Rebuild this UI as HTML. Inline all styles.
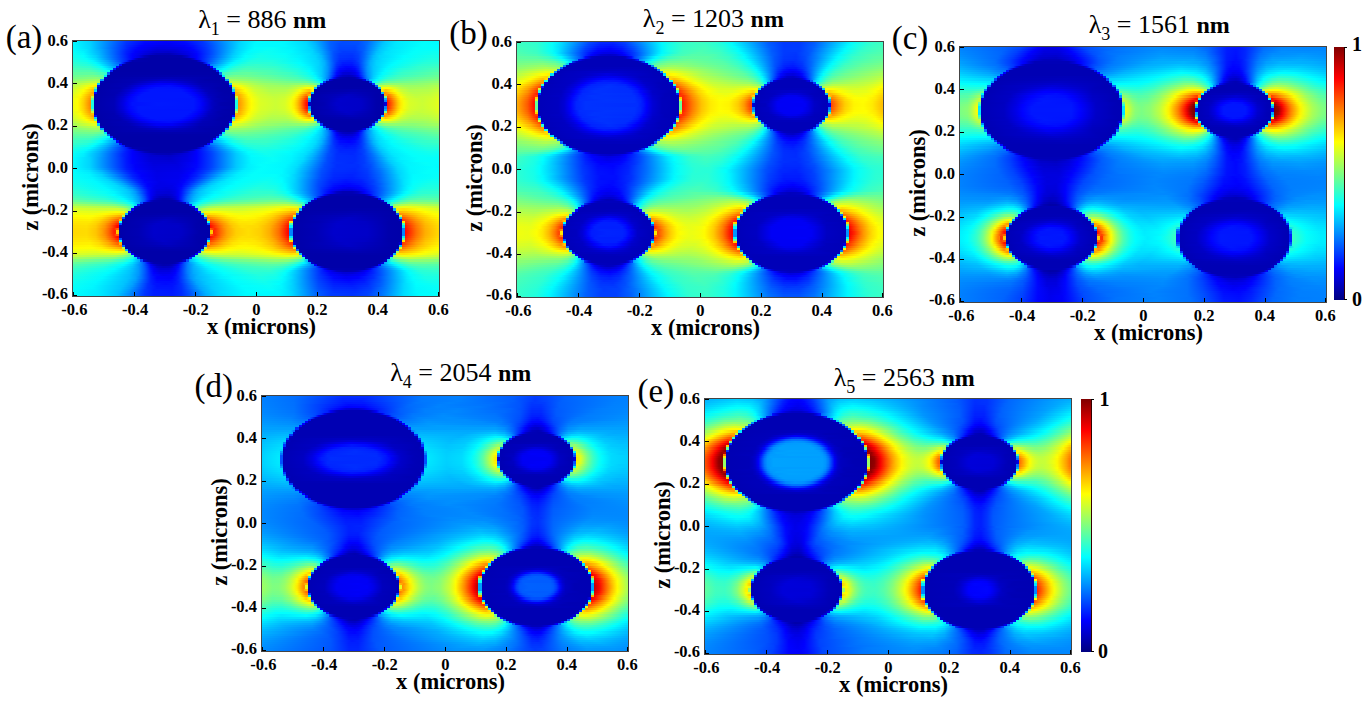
<!DOCTYPE html><html><head><meta charset="utf-8"><title>Field distributions</title><style>
html,body{margin:0;padding:0;background:#fff}
body{width:1370px;height:702px;position:relative;overflow:hidden;font-family:"Liberation Serif","DejaVu Serif",serif;color:#000}
.p{position:absolute;width:366px;height:255px;border:1px solid #444;box-sizing:content-box}
.p i{display:block;height:2px;width:366px}
.p i:nth-child(8n){height:3px}
.g{position:absolute;left:0;top:0;width:366px;height:255px;overflow:hidden}
.t{position:absolute;font-weight:bold;font-size:16.5px;line-height:16px;white-space:nowrap}
.xt{width:60px;margin-left:-30px;text-align:center}
.yt{width:40px;text-align:right}
.k{position:absolute;background:#000}
.xl{position:absolute;font-weight:bold;font-size:22.5px;line-height:22px;white-space:nowrap;width:200px;margin-left:-100px;text-align:center}
.yl{position:absolute;font-weight:bold;font-size:22.5px;line-height:22px;white-space:nowrap;width:200px;height:22px;text-align:center;transform:rotate(-90deg);transform-origin:50% 50%}
.ti{position:absolute;font-size:26px;line-height:26px;white-space:nowrap;width:300px;margin-left:-150px;text-align:center}
.ti b{font-weight:bold;font-size:24px}
.ti sub{font-size:18px;line-height:0;vertical-align:-7px}
.lb{position:absolute;font-size:33px;line-height:32px;white-space:nowrap}
.cb{position:absolute;width:10px;border-right:1px solid #300;background:linear-gradient(180deg,#800000 0%,#ff0000 12.5%,#ffff00 37.5%,#00ffff 62.5%,#0000ff 87.5%,#000080 100%)}
.cl{position:absolute;font-weight:bold;font-size:20px;line-height:20px}
</style></head><body>
<div class="p" style="left:72px;top:40px"><div class="g">
<i style="background:linear-gradient(90deg,#00f9ff 0px,#00d3ff 16.8px,#0033ff 53.4px,#0008ff 71.7px,#0000fb 93px,#0008ff 111.3px,#0033ff 129.6px,#009fff 154px,#00deff 169.3px,#00fdff 184.5px,#00f9ff 212px,#00d8ff 233.3px,#00b0ff 242.5px,#005eff 257.7px,#004aff 269.9px,#004fff 285.2px,#006aff 294.3px,#00cdff 312.6px,#00ebff 324.8px,#02fffd 352.3px,#00fcff 364.5px)"></i>
<i style="background:linear-gradient(90deg,#00faff 0px,#00d4ff 16.8px,#002fff 53.4px,#0002ff 71.7px,#0000f3 96.1px,#0007ff 114.4px,#003aff 132.7px,#00d4ff 166.2px,#00faff 181.5px,#00fbff 208.9px,#00dbff 233.3px,#00b6ff 242.5px,#005eff 257.7px,#0049ff 266.9px,#004dff 285.2px,#006cff 294.3px,#00c5ff 309.6px,#00e7ff 321.8px,#01fffe 349.2px,#00fdff 364.5px)"></i>
<i style="background:linear-gradient(90deg,#00fcff 0px,#00d6ff 16.8px,#002aff 53.4px,#0000ff 68.6px,#0000ea 90px,#0000fa 111.3px,#000eff 120.5px,#0043ff 135.7px,#00d6ff 166.2px,#00fcff 181.5px,#00faff 212px,#00deff 233.3px,#00bcff 242.5px,#005fff 257.7px,#0047ff 266.9px,#0047ff 282.1px,#005fff 291.3px,#00caff 309.6px,#00e8ff 321.8px,#03fffc 349.2px,#00ffff 364.5px)"></i>
<i style="background:linear-gradient(90deg,#00feff 0px,#00d8ff 16.8px,#006fff 38.1px,#001bff 56.4px,#0000ff 65.6px,#0000e3 83.9px,#0000e9 105.2px,#0000ff 117.4px,#0033ff 132.7px,#00d8ff 166.2px,#00ffff 181.5px,#05fffa 199.8px,#00f2ff 221.1px,#00d9ff 236.4px,#00b0ff 245.5px,#005fff 257.7px,#0044ff 266.9px,#0044ff 282.1px,#005fff 291.3px,#00c1ff 306.5px,#00e0ff 315.7px,#01fffe 343.1px,#03fffc 364.5px)"></i>
<i style="background:linear-gradient(90deg,#03fffc 0px,#00e6ff 13.7px,#00a2ff 29px,#0023ff 53.4px,#0002ff 62.5px,#0000d9 83.9px,#0000dc 102.2px,#0002ff 120.5px,#003eff 135.7px,#00cfff 163.2px,#00fdff 178.4px,#09fff6 196.7px,#00f7ff 218.1px,#00d3ff 239.4px,#00a2ff 248.6px,#0061ff 257.7px,#0041ff 266.9px,#0041ff 282.1px,#0061ff 291.3px,#00c7ff 306.5px,#00e7ff 318.7px,#03fffc 343.1px,#06fff9 364.5px)"></i>
<i style="background:linear-gradient(90deg,#07fff8 0px,#00f3ff 10.7px,#00b5ff 25.9px,#001fff 53.4px,#0000fc 62.5px,#0000d2 80.8px,#0000cc 96.1px,#0000ea 114.4px,#0007ff 123.5px,#004dff 138.8px,#00d3ff 163.2px,#00fbff 175.4px,#0dfff2 193.7px,#00f9ff 218.1px,#00d7ff 239.4px,#00a9ff 248.6px,#0051ff 260.8px,#003aff 269.9px,#003dff 282.1px,#0050ff 288.2px,#00bdff 303.5px,#00dfff 312.6px,#03fffc 340.1px,#0cfff3 361.4px,#0afff5 364.5px)"></i>
<i style="background:linear-gradient(90deg,#0cfff3 0px,#00f9ff 10.7px,#00b9ff 25.9px,#001dff 53.4px,#0002ff 59.5px,#0000ba 83.9px,#0000b6 96.1px,#0000ec 117.4px,#0002ff 123.5px,#004dff 138.8px,#00c9ff 160.1px,#00f9ff 172.3px,#11ffee 187.6px,#04fffb 212px,#00e1ff 236.4px,#00c4ff 245.5px,#0050ff 260.8px,#0039ff 266.9px,#0035ff 279.1px,#0042ff 285.2px,#0065ff 291.3px,#00c4ff 303.5px,#00e1ff 312.6px,#03fffc 337px,#10ffef 361.4px,#0efff1 364.5px)"></i>
<i style="background:linear-gradient(90deg,#12ffed 0px,#02fffd 10.7px,#00d1ff 22.9px,#000eff 56.4px,#0001ff 59.5px,#0000e8 65.6px,#0000bc 71.7px,#0000a8 77.8px,#0000ad 108.3px,#0000cd 114.4px,#0000e7 117.4px,#0001ff 123.5px,#0064ff 141.8px,#00d1ff 160.1px,#02fffd 172.3px,#16ffe9 187.6px,#08fff7 212px,#00f2ff 227.2px,#00d5ff 242.5px,#00b8ff 248.6px,#0050ff 260.8px,#0035ff 266.9px,#0030ff 279.1px,#003fff 285.2px,#0068ff 291.3px,#00b8ff 300.4px,#00d5ff 306.5px,#00feff 330.9px,#16ffe9 358.4px,#14ffeb 364.5px)"></i>
<i style="background:linear-gradient(90deg,#1affe5 0px,#03fffc 13.7px,#00ddff 22.9px,#0059ff 44.2px,#0000fc 59.5px,#0000ce 62.5px,#0000b0 65.6px,#0000a8 71.7px,#0000a8 114.4px,#0000b0 117.4px,#0000ce 120.5px,#0000fc 123.5px,#0082ff 144.9px,#00ddff 160.1px,#03fffc 169.3px,#1cffe3 184.5px,#10ffef 208.9px,#00faff 224.2px,#00d8ff 242.5px,#00beff 248.6px,#0050ff 260.8px,#0030ff 266.9px,#002aff 279.1px,#003cff 285.2px,#006cff 291.3px,#00beff 300.4px,#00dfff 309.6px,#04fffb 330.9px,#1cffe3 358.4px,#1bffe4 364.5px)"></i>
<i style="background:linear-gradient(90deg,#22ffdd 0px,#0ffff0 13.7px,#00f9ff 19.8px,#00a2ff 35.1px,#0020ff 53.4px,#0000df 56.4px,#0000ae 59.5px,#0000a8 77.8px,#0000a8 120.5px,#0000ae 123.5px,#0000df 126.6px,#0020ff 129.6px,#00a2ff 147.9px,#00f9ff 163.2px,#20ffdf 178.4px,#1fffe0 199.8px,#00f9ff 227.2px,#00d1ff 245.5px,#00aeff 251.6px,#0051ff 260.8px,#002aff 266.9px,#0021ff 276px,#002aff 282.1px,#0051ff 288.2px,#00aeff 297.4px,#00d1ff 303.5px,#00feff 324.8px,#22ffdd 355.3px,#23ffdc 364.5px)"></i>
<i style="background:linear-gradient(90deg,#2bffd4 0px,#1bffe4 13.7px,#00faff 22.9px,#009cff 38.1px,#0059ff 47.3px,#001dff 50.3px,#0000b9 53.4px,#0000a8 56.4px,#0000a8 126.6px,#0000b9 129.6px,#001dff 132.7px,#0059ff 135.7px,#00eaff 157.1px,#00faff 160.1px,#26ffd9 175.4px,#28ffd7 196.7px,#00feff 227.2px,#00d3ff 245.5px,#00b2ff 251.6px,#0035ff 263.8px,#001bff 269.9px,#001bff 279.1px,#0035ff 285.2px,#00b2ff 297.4px,#00d3ff 303.5px,#00feff 321.8px,#27ffd8 352.3px,#2bffd4 364.5px)"></i>
<i style="background:linear-gradient(90deg,#34ffcb 0px,#21ffde 16.8px,#00fbff 25.9px,#007dff 44.2px,#007dff 45.8px,#0007ff 45.8px,#0007ff 48.8px,#0000a8 48.8px,#0000a8 132.7px,#0000a8 134.2px,#0007ff 134.2px,#0007ff 137.2px,#007dff 137.2px,#00fcff 157.1px,#28ffd7 169.3px,#35ffca 184.5px,#20ffdf 212px,#00fdff 230.3px,#00d4ff 245.5px,#00b3ff 251.6px,#0073ff 257.7px,#002fff 263.8px,#0013ff 269.9px,#0013ff 279.1px,#002fff 285.2px,#00b3ff 297.4px,#00d4ff 303.5px,#00fdff 318.7px,#2dffd2 349.2px,#34ffcb 364.5px)"></i>
<i style="background:linear-gradient(90deg,#3effc1 0px,#30ffcf 16.8px,#0ffff0 25.9px,#00feff 29px,#00a6ff 41.2px,#00a6ff 42.7px,#0000ff 42.7px,#0000ff 45.8px,#0000a8 45.8px,#0000a8 135.7px,#0000a8 137.2px,#0000ff 137.2px,#0000ff 140.3px,#00a6ff 140.3px,#00feff 154px,#28ffd7 163.2px,#3dffc2 175.4px,#32ffcd 202.8px,#0bfff4 227.2px,#00f4ff 236.4px,#00c7ff 248.6px,#0097ff 254.7px,#0028ff 263.8px,#0013ff 266.9px,#0004ff 273px,#0008ff 279.1px,#0013ff 282.1px,#0028ff 285.2px,#0097ff 294.3px,#00c7ff 300.4px,#00fbff 315.7px,#32ffcd 346.2px,#3dffc2 364.5px)"></i>
<i style="background:linear-gradient(90deg,#49ffb6 0px,#40ffbf 16.8px,#24ffdb 25.9px,#02fffd 32px,#00d4ff 38.1px,#00d4ff 39.6px,#0010ff 39.6px,#0010ff 42.7px,#0000a8 42.7px,#0000a8 138.8px,#0000a8 140.3px,#0010ff 140.3px,#0010ff 143.3px,#00d4ff 143.3px,#02fffd 151px,#30ffcf 160.1px,#48ffb7 172.3px,#3effc1 199.8px,#1bffe4 224.2px,#00f9ff 236.4px,#00c7ff 248.6px,#0096ff 254.7px,#0020ff 263.8px,#0007ff 266.9px,#0000f6 276px,#0007ff 282.1px,#0020ff 285.2px,#0096ff 294.3px,#00c7ff 300.4px,#00f9ff 312.6px,#21ffde 327.9px,#44ffbb 358.4px,#47ffb8 364.5px)"></i>
<i style="background:linear-gradient(90deg,#54ffab 0px,#51ffae 16.8px,#3affc5 25.9px,#07fff8 35.1px,#07fff8 36.6px,#0023ff 36.6px,#0023ff 39.6px,#0000a8 39.6px,#0000a8 141.8px,#0000a8 143.3px,#0023ff 143.3px,#0023ff 146.4px,#07fff8 146.4px,#3affc5 157.1px,#54ffab 169.3px,#4affb5 196.7px,#24ffdb 224.2px,#01fffe 236.4px,#00c7ff 248.6px,#0093ff 254.7px,#0014ff 263.8px,#0000f9 266.9px,#0000e6 273px,#0000eb 279.1px,#0000f9 282.1px,#0014ff 285.2px,#0093ff 294.3px,#00c7ff 300.4px,#00ffff 312.6px,#30ffcf 330.9px,#52ffad 364.5px)"></i>
<i style="background:linear-gradient(90deg,#5fffa0 0px,#5fffa0 19.8px,#46ffb9 29px,#37ffc8 32px,#37ffc8 33.5px,#0067ff 33.5px,#0067ff 36.6px,#0000a9 36.6px,#0000a9 144.9px,#0000a9 146.4px,#0067ff 146.4px,#0067ff 149.4px,#37ffc8 149.4px,#5affa5 160.1px,#63ff9c 175.4px,#3bffc4 218.1px,#15ffea 233.3px,#00fcff 239.4px,#00c8ff 248.6px,#008fff 254.7px,#0007ff 263.8px,#0000d8 269.9px,#0000d3 276px,#0000e8 282.1px,#0007ff 285.2px,#008fff 294.3px,#00c8ff 300.4px,#00fcff 309.6px,#35ffca 327.9px,#5dffa2 364.5px)"></i>
<i style="background:linear-gradient(90deg,#6bff94 0px,#74ff8b 19.8px,#62ff9d 29px,#62ff9d 30.5px,#00eaff 30.5px,#00eaff 33.5px,#0000a9 33.5px,#0000ae 108.3px,#0000a9 147.9px,#0000a9 149.4px,#00eaff 149.4px,#00eaff 152.5px,#62ff9d 152.5px,#74ff8b 163.2px,#5effa1 196.7px,#3cffc3 224.2px,#16ffe9 236.4px,#00f6ff 242.5px,#00aeff 251.6px,#008aff 254.7px,#0026ff 260.8px,#0000f5 263.8px,#0000d4 266.9px,#0000c3 269.9px,#0000bc 276px,#0000c3 279.1px,#0000d4 282.1px,#0000f5 285.2px,#0026ff 288.2px,#008aff 294.3px,#00cbff 300.4px,#00f6ff 306.5px,#15ffea 312.6px,#3bffc4 324.8px,#68ff97 364.5px)"></i>
<i style="background:linear-gradient(90deg,#78ff87 0px,#89ff76 22.9px,#86ff79 25.9px,#63ff9c 29px,#63ff9c 30.5px,#0000e2 30.5px,#0000a9 35.1px,#0000b9 99.1px,#0000a9 147.9px,#0000e2 151px,#0000e2 152.5px,#63ff9c 152.5px,#86ff79 157.1px,#82ff7d 172.3px,#4affb5 224.2px,#26ffd9 236.4px,#03fffc 242.5px,#00d1ff 248.6px,#0084ff 254.7px,#004fff 257.7px,#0009ff 260.8px,#0000cb 263.8px,#0000b2 266.9px,#0000a9 276px,#0000b2 282.1px,#0000cb 285.2px,#0009ff 288.2px,#004fff 291.3px,#0084ff 294.3px,#00d1ff 300.4px,#03fffc 306.5px,#32ffcd 315.7px,#53ffac 330.9px,#74ff8b 364.5px)"></i>
<i style="background:linear-gradient(90deg,#85ff7a 0px,#a2ff5d 22.9px,#a2ff5d 25.9px,#a2ff5d 27.4px,#00a3ff 27.4px,#00a3ff 30.5px,#0000a9 30.5px,#0000b6 68.6px,#0000ca 93px,#0000ab 132.7px,#0000a9 151px,#0000a9 152.5px,#00a3ff 152.5px,#00a3ff 155.5px,#a2ff5d 155.5px,#8eff71 175.4px,#50ffaf 230.3px,#2cffd3 239.4px,#00fbff 245.5px,#00b4ff 251.6px,#00b4ff 253.1px,#0068ff 253.1px,#0068ff 256.2px,#0000e5 256.2px,#0000a9 260.8px,#0000a9 288.2px,#0000e5 291.3px,#0000e5 292.8px,#0068ff 292.8px,#0068ff 295.8px,#00b4ff 295.8px,#00fbff 303.5px,#3cffc3 312.6px,#5affa5 324.8px,#81ff7e 364.5px)"></i>
<i style="background:linear-gradient(90deg,#95ff6a 0px,#c1ff3e 22.9px,#a0ff5f 25.9px,#a0ff5f 27.4px,#0000c9 27.4px,#0000a9 32px,#0000b3 59.5px,#0000e1 86.9px,#0000d9 102.2px,#0000b0 126.6px,#0000a9 151px,#0000c9 154px,#0000c9 155.5px,#a0ff5f 155.5px,#c1ff3e 160.1px,#89ff76 190.6px,#67ff98 233.3px,#4dffb2 239.4px,#18ffe7 245.5px,#00f2ff 248.6px,#00f2ff 250.1px,#0036ff 250.1px,#0036ff 253.1px,#0000a9 253.1px,#0000a9 294.3px,#0000a9 295.8px,#0036ff 295.8px,#0036ff 298.9px,#00f2ff 298.9px,#18ffe7 303.5px,#4dffb2 309.6px,#66ff99 315.7px,#90ff6f 364.5px)"></i>
<i style="background:linear-gradient(90deg,#a8ff57 0px,#e7ff18 22.9px,#e7ff18 24.4px,#00c8ff 24.4px,#00c8ff 27.4px,#0000a9 27.4px,#0000b5 56.4px,#0000f7 83.9px,#0000f7 99.1px,#0000b5 126.6px,#0000a9 154px,#0000a9 155.5px,#00c8ff 155.5px,#00c8ff 158.6px,#e7ff18 158.6px,#a2ff5d 184.5px,#88ff77 212px,#93ff6c 233.3px,#80ff7f 239.4px,#69ff96 242.5px,#46ffb9 245.5px,#46ffb9 247px,#0033ff 247px,#0033ff 250.1px,#0000a9 250.1px,#0000a9 297.4px,#0000a9 298.9px,#0033ff 298.9px,#0033ff 301.9px,#46ffb9 301.9px,#69ff96 306.5px,#8dff72 312.6px,#90ff6f 321.8px,#89ff76 340.1px,#a1ff5e 364.5px)"></i>
<i style="background:linear-gradient(90deg,#b8ff47 0px,#e8ff17 13.7px,#fff900 19.8px,#ffee00 22.9px,#ffee00 24.4px,#0000f5 24.4px,#0000f5 27.4px,#0000a9 27.4px,#0000b6 53.4px,#0000e8 68.6px,#0003ff 77.8px,#000dff 96.1px,#0000fb 108.3px,#0000b6 129.6px,#0000a9 154px,#0000a9 155.5px,#0000f5 155.5px,#0000f5 158.6px,#ffee00 158.6px,#f7ff08 166.2px,#c1ff3e 178.4px,#a3ff5c 193.7px,#9aff65 215px,#b6ff49 227.2px,#c7ff38 233.3px,#beff41 239.4px,#a9ff56 242.5px,#a9ff56 244px,#005aff 244px,#005aff 247px,#0000a9 247px,#0000a9 300.4px,#0000a9 301.9px,#005aff 301.9px,#005aff 305px,#a9ff56 305px,#beff41 309.6px,#c7ff38 315.7px,#9dff62 330.9px,#9cff63 349.2px,#b0ff4f 364.5px)"></i>
<i style="background:linear-gradient(90deg,#c4ff3b 0px,#edff12 10.7px,#fffe00 13.7px,#ffd900 19.8px,#ffd900 21.3px,#67ff98 21.3px,#67ff98 24.4px,#0000a9 24.4px,#0000b1 47.3px,#0000c7 56.4px,#0000fc 68.6px,#0014ff 83.9px,#0010ff 105.2px,#0000fc 114.4px,#0000bd 129.6px,#0000ab 144.9px,#0000a9 157.1px,#0000a9 158.6px,#67ff98 158.6px,#67ff98 161.6px,#ffd800 161.6px,#fffe00 169.3px,#c5ff3a 181.5px,#a9ff56 196.7px,#a9ff56 215px,#c7ff38 224.2px,#fbff04 233.3px,#fffd00 239.4px,#fffd00 240.9px,#00ccff 240.9px,#00ccff 244px,#0000a9 244px,#0000ab 291.3px,#0000a9 303.5px,#0000a9 305px,#00ccff 305px,#00ccff 308px,#fffd00 308px,#faff05 315.7px,#b9ff46 327.9px,#a5ff5a 337px,#acff53 355.3px,#bcff43 364.5px)"></i>
<i style="background:linear-gradient(90deg,#cfff30 0px,#feff01 10.7px,#ffbe00 19.8px,#ffbe00 21.3px,#00d0ff 21.3px,#00d0ff 24.4px,#0000a9 24.4px,#0000b5 47.3px,#0000d5 56.4px,#0002ff 65.6px,#0016ff 77.8px,#0014ff 108.3px,#0002ff 117.4px,#0000bc 132.7px,#0000aa 147.9px,#0000a9 157.1px,#0000a9 158.6px,#00d1ff 158.6px,#00d1ff 161.6px,#ffbd00 161.6px,#feff01 172.3px,#cfff30 181.5px,#b2ff4d 196.7px,#b1ff4e 212px,#cdff32 221.1px,#f7ff08 227.2px,#ffd300 233.3px,#ffc100 236.4px,#f0ff0f 239.4px,#f0ff0f 240.9px,#0000a9 240.9px,#0000b2 282.1px,#0000a9 306.5px,#0000a9 308px,#f0ff0f 308px,#ffc100 312.6px,#ffec00 318.7px,#f7ff08 321.8px,#ccff33 327.9px,#b1ff4e 337px,#b5ff4a 355.3px,#c5ff3a 364.5px)"></i>
<i style="background:linear-gradient(90deg,#d8ff27 0px,#f6ff09 7.6px,#fff200 10.7px,#ffa700 19.8px,#ffa700 21.3px,#0000ff 21.3px,#0000ff 24.4px,#0000a9 24.4px,#0000b3 44.2px,#0000d2 53.4px,#0003ff 62.5px,#0016ff 71.7px,#0016ff 111.3px,#0003ff 120.5px,#0000ba 135.7px,#0000aa 151px,#0000a9 157.1px,#0000a9 158.6px,#0000ff 158.6px,#0000ff 161.6px,#ffa600 161.6px,#fff200 172.3px,#f7ff08 175.4px,#ceff31 184.5px,#b7ff48 199.8px,#bcff43 212px,#cdff32 218.1px,#f6ff09 224.2px,#ffea00 227.2px,#ff8800 236.4px,#ff8800 237.9px,#00baff 237.9px,#00baff 240.9px,#0000a9 240.9px,#0000bb 279.1px,#0000a9 306.5px,#0000a9 308px,#00baff 308px,#00baff 311.1px,#ff8800 311.1px,#ffea00 321.8px,#f6ff09 324.8px,#cdff32 330.9px,#b7ff48 340.1px,#bcff43 355.3px,#cdff32 364.5px)"></i>
<i style="background:linear-gradient(90deg,#dfff20 0px,#fffd00 7.6px,#ffae00 16.8px,#ffc000 19.8px,#ffc000 21.3px,#0000a9 21.3px,#0000b1 41.2px,#0000cc 50.3px,#0001ff 59.5px,#0016ff 68.6px,#0016ff 114.4px,#0001ff 123.5px,#0000bf 135.7px,#0000ac 147.9px,#0000a9 160.1px,#0000a9 161.6px,#ffbf00 161.6px,#ffae00 166.2px,#fffd00 175.4px,#d5ff2a 184.5px,#beff41 199.8px,#c5ff3a 212px,#daff25 218.1px,#eeff11 221.1px,#fff400 224.2px,#ff7a00 233.3px,#ffb500 236.4px,#ffb500 237.9px,#0000a9 237.9px,#0000b8 260.8px,#0000c5 276px,#0000aa 303.5px,#0000a9 309.6px,#0000a9 311.1px,#ffb500 311.1px,#ff7a00 315.7px,#fff400 324.8px,#eeff11 327.9px,#ccff33 334px,#bdff42 343.1px,#c6ff39 358.4px,#d4ff2b 364.5px)"></i>
<i style="background:linear-gradient(90deg,#e6ff19 0px,#fff500 7.6px,#ffa000 16.8px,#ffa000 18.3px,#c5ff3a 18.3px,#c5ff3a 21.3px,#0000a9 21.3px,#0000b3 41.2px,#0000d5 50.3px,#0000fa 56.4px,#0016ff 65.6px,#0016ff 117.4px,#0000fa 126.6px,#0000c5 135.7px,#0000af 144.9px,#0000a9 160.1px,#0000a9 161.6px,#c5ff3a 161.6px,#c5ff3a 164.7px,#ff9f00 164.7px,#fff500 175.4px,#f5ff0a 178.4px,#d2ff2d 187.6px,#c3ff3c 202.8px,#ccff33 212px,#e5ff1a 218.1px,#fcff03 221.1px,#ffe200 224.2px,#ff8700 230.3px,#ff5200 233.3px,#ff5200 234.8px,#72ff8d 234.8px,#72ff8d 237.9px,#0000a9 237.9px,#0000b8 257.7px,#0000ca 273px,#0000be 288.2px,#0000aa 303.5px,#0000a9 309.6px,#0000a9 311.1px,#72ff8d 311.1px,#72ff8d 314.1px,#ff5300 314.1px,#ffb900 321.8px,#ffe200 324.8px,#fcff03 327.9px,#d5ff2a 334px,#c3ff3c 343.1px,#ccff33 358.4px,#daff25 364.5px)"></i>
<i style="background:linear-gradient(90deg,#ebff14 0px,#fbff04 4.6px,#ffd400 10.7px,#ff9500 16.8px,#ff9500 18.3px,#72ff8d 18.3px,#72ff8d 21.3px,#0000a9 21.3px,#0000b5 41.2px,#0000db 50.3px,#0002ff 56.4px,#0017ff 65.6px,#0014ff 120.5px,#0002ff 126.6px,#0000bd 138.8px,#0000ab 151px,#0000a9 160.1px,#0000a9 161.6px,#72ff8d 161.6px,#72ff8d 164.7px,#ff9400 164.7px,#ffee00 175.4px,#fbff04 178.4px,#d7ff28 187.6px,#c7ff38 202.8px,#d2ff2d 212px,#eeff11 218.1px,#fff700 221.1px,#ffd400 224.2px,#ff6e00 230.3px,#ff3100 233.3px,#ff3100 234.8px,#00b1ff 234.8px,#00b1ff 237.9px,#0000a9 237.9px,#0000b5 254.7px,#0000cb 266.9px,#0000c8 285.2px,#0000ab 303.5px,#0000a9 309.6px,#0000a9 311.1px,#00b1ff 311.1px,#00b1ff 314.1px,#ff3100 314.1px,#ffa600 321.8px,#ffd400 324.8px,#fff800 327.9px,#d2ff2d 337px,#c7ff38 349.2px,#d6ff29 361.4px,#dfff20 364.5px)"></i>
<i style="background:linear-gradient(90deg,#eeff11 0px,#feff01 4.6px,#ffcf00 10.7px,#ff8d00 16.8px,#ff8d00 18.3px,#1bffe4 18.3px,#1bffe4 21.3px,#0000a9 21.3px,#0000b6 41.2px,#0000e0 50.3px,#0006ff 56.4px,#0018ff 65.6px,#0016ff 120.5px,#0006ff 126.6px,#0000e0 132.7px,#0000b6 141.8px,#0000a9 160.1px,#0000a9 161.6px,#1bffe4 161.6px,#1bffe4 164.7px,#ff8d00 164.7px,#ffea00 175.4px,#ffff00 178.4px,#d9ff26 187.6px,#caff35 202.8px,#d6ff29 212px,#f4ff0b 218.1px,#ffef00 221.1px,#ffca00 224.2px,#ff9800 227.2px,#ff1900 233.3px,#ff1900 234.8px,#0082ff 234.8px,#0082ff 237.9px,#0000a9 237.9px,#0000b8 254.7px,#0000cc 266.9px,#0000c7 288.2px,#0000ab 303.5px,#0000a9 309.6px,#0000a9 311.1px,#0082ff 311.1px,#0082ff 314.1px,#ff1a00 314.1px,#ff9900 321.8px,#ffca00 324.8px,#fff000 327.9px,#f3ff0c 330.9px,#d6ff29 337px,#c9ff36 349.2px,#d9ff26 361.4px,#e2ff1d 364.5px)"></i>
<i style="background:linear-gradient(90deg,#f0ff0f 0px,#fffe00 4.6px,#ffcc00 10.7px,#ff8900 16.8px,#ff8900 18.3px,#1dffe2 18.3px,#1dffe2 21.3px,#0000a9 21.3px,#0000b7 41.2px,#0000e3 50.3px,#0000f7 53.4px,#0011ff 59.5px,#0019ff 83.9px,#0016ff 120.5px,#0008ff 126.6px,#0000f7 129.6px,#0000c1 138.8px,#0000ad 147.9px,#0000a9 160.1px,#0000a9 161.6px,#1dffe2 161.6px,#1dffe2 164.7px,#ff8900 164.7px,#ffe800 175.4px,#fffd00 178.4px,#dbff24 187.6px,#cbff34 202.8px,#d8ff27 212px,#f7ff08 218.1px,#ffeb00 221.1px,#ffc500 224.2px,#ff9100 227.2px,#ff0e00 233.3px,#ff0e00 234.8px,#0000df 234.8px,#0000a9 239.4px,#0000b3 251.6px,#0000cb 263.8px,#0000c8 288.2px,#0000ab 303.5px,#0000a9 309.6px,#0000df 312.6px,#0000df 314.1px,#ff0e00 314.1px,#ff9200 321.8px,#ffc500 324.8px,#ffec00 327.9px,#f6ff09 330.9px,#d8ff27 337px,#cbff34 349.2px,#daff25 361.4px,#e3ff1c 364.5px)"></i>
<i style="background:linear-gradient(90deg,#efff10 0px,#fffe00 4.6px,#ffcc00 10.7px,#ff8900 16.8px,#ff8900 18.3px,#1dffe2 18.3px,#1dffe2 21.3px,#0000a9 21.3px,#0000b7 41.2px,#0000e3 50.3px,#0000f7 53.4px,#0011ff 59.5px,#0019ff 83.9px,#0016ff 120.5px,#0008ff 126.6px,#0000f7 129.6px,#0000c1 138.8px,#0000ad 147.9px,#0000a9 160.1px,#0000a9 161.6px,#1dffe2 161.6px,#1dffe2 164.7px,#ff8900 164.7px,#ffe800 175.4px,#fffd00 178.4px,#dbff24 187.6px,#cbff34 202.8px,#d8ff27 212px,#f7ff08 218.1px,#ffeb00 221.1px,#ffc500 224.2px,#ff9100 227.2px,#ff0e00 233.3px,#ff0e00 234.8px,#0000df 234.8px,#0000a9 239.4px,#0000b3 251.6px,#0000cb 263.8px,#0000c8 288.2px,#0000ab 303.5px,#0000a9 309.6px,#0000df 312.6px,#0000df 314.1px,#ff0e00 314.1px,#ff9200 321.8px,#ffc500 324.8px,#ffec00 327.9px,#f6ff09 330.9px,#d8ff27 337px,#cbff34 349.2px,#daff25 361.4px,#e3ff1c 364.5px)"></i>
<i style="background:linear-gradient(90deg,#eeff11 0px,#feff01 4.6px,#ffcf00 10.7px,#ff8d00 16.8px,#ff8d00 18.3px,#1bffe4 18.3px,#1bffe4 21.3px,#0000a9 21.3px,#0000b6 41.2px,#0000e0 50.3px,#0006ff 56.4px,#0018ff 65.6px,#0016ff 120.5px,#0006ff 126.6px,#0000e0 132.7px,#0000b6 141.8px,#0000a9 160.1px,#0000a9 161.6px,#1bffe4 161.6px,#1bffe4 164.7px,#ff8d00 164.7px,#ffea00 175.4px,#ffff00 178.4px,#d9ff26 187.6px,#caff35 202.8px,#d6ff29 212px,#f4ff0b 218.1px,#ffef00 221.1px,#ffca00 224.2px,#ff9800 227.2px,#ff1900 233.3px,#ff1900 234.8px,#0082ff 234.8px,#0082ff 237.9px,#0000a9 237.9px,#0000b8 254.7px,#0000cc 266.9px,#0000c7 288.2px,#0000ab 303.5px,#0000a9 309.6px,#0000a9 311.1px,#0082ff 311.1px,#0082ff 314.1px,#ff1a00 314.1px,#ff9900 321.8px,#ffca00 324.8px,#fff000 327.9px,#f3ff0c 330.9px,#d6ff29 337px,#c9ff36 349.2px,#d9ff26 361.4px,#e2ff1d 364.5px)"></i>
<i style="background:linear-gradient(90deg,#ebff14 0px,#faff05 4.6px,#ffd400 10.7px,#ff9500 16.8px,#ff9500 18.3px,#72ff8d 18.3px,#72ff8d 21.3px,#0000a9 21.3px,#0000b5 41.2px,#0000db 50.3px,#0002ff 56.4px,#0017ff 65.6px,#0014ff 120.5px,#0002ff 126.6px,#0000bd 138.8px,#0000ab 151px,#0000a9 160.1px,#0000a9 161.6px,#72ff8d 161.6px,#72ff8d 164.7px,#ff9400 164.7px,#ffee00 175.4px,#fbff04 178.4px,#d7ff28 187.6px,#c7ff38 202.8px,#d2ff2d 212px,#eeff11 218.1px,#fff700 221.1px,#ffd400 224.2px,#ff6e00 230.3px,#ff3100 233.3px,#ff3100 234.8px,#00b1ff 234.8px,#00b1ff 237.9px,#0000a9 237.9px,#0000b5 254.7px,#0000cb 266.9px,#0000c8 285.2px,#0000ab 303.5px,#0000a9 309.6px,#0000a9 311.1px,#00b1ff 311.1px,#00b1ff 314.1px,#ff3200 314.1px,#ffa600 321.8px,#ffd400 324.8px,#fff800 327.9px,#d2ff2d 337px,#c6ff39 349.2px,#d6ff29 361.4px,#dfff20 364.5px)"></i>
<i style="background:linear-gradient(90deg,#e6ff19 0px,#fff500 7.6px,#ffa000 16.8px,#ffa000 18.3px,#c5ff3a 18.3px,#c5ff3a 21.3px,#0000a9 21.3px,#0000b3 41.2px,#0000d5 50.3px,#0000fa 56.4px,#0016ff 65.6px,#0016ff 117.4px,#0000fa 126.6px,#0000c5 135.7px,#0000af 144.9px,#0000a9 160.1px,#0000a9 161.6px,#c5ff3a 161.6px,#c5ff3a 164.7px,#ffa000 164.7px,#fff500 175.4px,#f5ff0a 178.4px,#d2ff2d 187.6px,#c2ff3d 202.8px,#ccff33 212px,#e5ff1a 218.1px,#fcff03 221.1px,#ffe200 224.2px,#ff8700 230.3px,#ff5200 233.3px,#ff5200 234.8px,#72ff8d 234.8px,#72ff8d 237.9px,#0000a9 237.9px,#0000b8 257.7px,#0000ca 273px,#0000be 288.2px,#0000aa 303.5px,#0000a9 309.6px,#0000a9 311.1px,#72ff8d 311.1px,#72ff8d 314.1px,#ff5300 314.1px,#ffb900 321.8px,#ffe300 324.8px,#fbff04 327.9px,#d5ff2a 334px,#c3ff3c 343.1px,#ccff33 358.4px,#daff25 364.5px)"></i>
<i style="background:linear-gradient(90deg,#dfff20 0px,#fffe00 7.6px,#ffae00 16.8px,#ffc000 19.8px,#ffc000 21.3px,#0000a9 21.3px,#0000b1 41.2px,#0000cc 50.3px,#0001ff 59.5px,#0016ff 68.6px,#0016ff 114.4px,#0001ff 123.5px,#0000bf 135.7px,#0000ac 147.9px,#0000a9 160.1px,#0000a9 161.6px,#ffbf00 161.6px,#ffae00 166.2px,#fffd00 175.4px,#d5ff2a 184.5px,#beff41 199.8px,#c5ff3a 212px,#daff25 218.1px,#eeff11 221.1px,#fff400 224.2px,#ff7a00 233.3px,#ffb500 236.4px,#ffb500 237.9px,#0000a9 237.9px,#0000b8 260.8px,#0000c5 276px,#0000aa 303.5px,#0000a9 309.6px,#0000a9 311.1px,#ffb500 311.1px,#ff7a00 315.7px,#fff400 324.8px,#eeff11 327.9px,#ccff33 334px,#bcff43 346.2px,#ccff33 361.4px,#d4ff2b 364.5px)"></i>
<i style="background:linear-gradient(90deg,#d8ff27 0px,#f6ff09 7.6px,#fff200 10.7px,#ffa700 19.8px,#ffa700 21.3px,#0000ff 21.3px,#0000ff 24.4px,#0000a9 24.4px,#0000b3 44.2px,#0000d2 53.4px,#0003ff 62.5px,#0016ff 71.7px,#0016ff 111.3px,#0003ff 120.5px,#0000ba 135.7px,#0000aa 151px,#0000a9 157.1px,#0000a9 158.6px,#0000ff 158.6px,#0000ff 161.6px,#ffa600 161.6px,#fff200 172.3px,#f7ff08 175.4px,#ceff31 184.5px,#b7ff48 199.8px,#bbff44 212px,#cdff32 218.1px,#f6ff09 224.2px,#ffea00 227.2px,#ff8800 236.4px,#ff8800 237.9px,#00baff 237.9px,#00baff 240.9px,#0000a9 240.9px,#0000bb 279.1px,#0000a9 306.5px,#0000a9 308px,#00baff 308px,#00baff 311.1px,#ff8800 311.1px,#ffea00 321.8px,#f5ff0a 324.8px,#cdff32 330.9px,#b7ff48 340.1px,#bcff43 355.3px,#cdff32 364.5px)"></i>
<i style="background:linear-gradient(90deg,#cfff30 0px,#feff01 10.7px,#ffbe00 19.8px,#ffbe00 21.3px,#00d0ff 21.3px,#00d0ff 24.4px,#0000a9 24.4px,#0000b5 47.3px,#0000d5 56.4px,#0002ff 65.6px,#0016ff 77.8px,#0014ff 108.3px,#0002ff 117.4px,#0000bc 132.7px,#0000aa 147.9px,#0000a9 157.1px,#0000a9 158.6px,#00d0ff 158.6px,#00d0ff 161.6px,#ffbd00 161.6px,#feff01 172.3px,#cfff30 181.5px,#b2ff4d 196.7px,#b1ff4e 212px,#ccff33 221.1px,#f7ff08 227.2px,#ffd300 233.3px,#ffc100 236.4px,#f0ff0f 239.4px,#f0ff0f 240.9px,#0000a9 240.9px,#0000b2 282.1px,#0000a9 306.5px,#0000a9 308px,#efff10 308px,#ffc100 312.6px,#ffed00 318.7px,#f7ff08 321.8px,#ccff33 327.9px,#b1ff4e 337px,#b4ff4b 355.3px,#c5ff3a 364.5px)"></i>
<i style="background:linear-gradient(90deg,#c4ff3b 0px,#edff12 10.7px,#fffe00 13.7px,#ffd900 19.8px,#ffd900 21.3px,#67ff98 21.3px,#67ff98 24.4px,#0000a9 24.4px,#0000b1 47.3px,#0000c7 56.4px,#0000fc 68.6px,#0014ff 83.9px,#0010ff 105.2px,#0000fc 114.4px,#0000bd 129.6px,#0000ab 144.9px,#0000a9 157.1px,#0000a9 158.6px,#67ff98 158.6px,#67ff98 161.6px,#ffd900 161.6px,#fffe00 169.3px,#c5ff3a 181.5px,#a9ff56 196.7px,#a9ff56 215px,#c7ff38 224.2px,#faff05 233.3px,#fffd00 239.4px,#fffd00 240.9px,#00ccff 240.9px,#00ccff 244px,#0000a9 244px,#0000ab 291.3px,#0000a9 303.5px,#0000a9 305px,#00ccff 305px,#00ccff 308px,#fffd00 308px,#faff05 315.7px,#b9ff46 327.9px,#a5ff5a 337px,#acff53 355.3px,#bcff43 364.5px)"></i>
<i style="background:linear-gradient(90deg,#b8ff47 0px,#e8ff17 13.7px,#fff900 19.8px,#ffef00 22.9px,#ffef00 24.4px,#0000f5 24.4px,#0000f5 27.4px,#0000a9 27.4px,#0000b6 53.4px,#0000e8 68.6px,#0003ff 77.8px,#000dff 96.1px,#0000fb 108.3px,#0000b6 129.6px,#0000a9 154px,#0000a9 155.5px,#0000f5 155.5px,#0000f5 158.6px,#ffee00 158.6px,#f7ff08 166.2px,#c1ff3e 178.4px,#a2ff5d 193.7px,#9aff65 215px,#b6ff49 227.2px,#c7ff38 233.3px,#beff41 239.4px,#a9ff56 242.5px,#a9ff56 244px,#005aff 244px,#005aff 247px,#0000a9 247px,#0000a9 300.4px,#0000a9 301.9px,#0059ff 301.9px,#0059ff 305px,#a9ff56 305px,#beff41 309.6px,#c7ff38 315.7px,#9dff62 330.9px,#9cff63 349.2px,#b0ff4f 364.5px)"></i>
<i style="background:linear-gradient(90deg,#a7ff58 0px,#e7ff18 22.9px,#e7ff18 24.4px,#00c7ff 24.4px,#00c7ff 27.4px,#0000a9 27.4px,#0000b5 56.4px,#0000f7 83.9px,#0000f7 99.1px,#0000b5 126.6px,#0000a9 154px,#0000a9 155.5px,#00c8ff 155.5px,#00c8ff 158.6px,#e7ff18 158.6px,#a2ff5d 184.5px,#88ff77 212px,#93ff6c 233.3px,#80ff7f 239.4px,#68ff97 242.5px,#46ffb9 245.5px,#46ffb9 247px,#0033ff 247px,#0033ff 250.1px,#0000a9 250.1px,#0000a9 297.4px,#0000a9 298.9px,#0033ff 298.9px,#0033ff 301.9px,#46ffb9 301.9px,#68ff97 306.5px,#8dff72 312.6px,#90ff6f 321.8px,#89ff76 340.1px,#a1ff5e 364.5px)"></i>
<i style="background:linear-gradient(90deg,#95ff6a 0px,#c0ff3f 22.9px,#a0ff5f 25.9px,#a0ff5f 27.4px,#0000c9 27.4px,#0000a9 32px,#0000b3 59.5px,#0000e1 86.9px,#0000d9 102.2px,#0000b0 126.6px,#0000a9 151px,#0000c9 154px,#0000c9 155.5px,#a0ff5f 155.5px,#c1ff3e 160.1px,#88ff77 190.6px,#66ff99 233.3px,#4dffb2 239.4px,#18ffe7 245.5px,#00f2ff 248.6px,#00f2ff 250.1px,#0036ff 250.1px,#0036ff 253.1px,#0000a9 253.1px,#0000a9 294.3px,#0000a9 295.8px,#0036ff 295.8px,#0036ff 298.9px,#00f1ff 298.9px,#17ffe8 303.5px,#4dffb2 309.6px,#66ff99 315.7px,#90ff6f 364.5px)"></i>
<i style="background:linear-gradient(90deg,#85ff7a 0px,#a2ff5d 22.9px,#a2ff5d 25.9px,#a2ff5d 27.4px,#00a3ff 27.4px,#00a3ff 30.5px,#0000a9 30.5px,#0000b6 68.6px,#0000ca 93px,#0000ab 132.7px,#0000a9 151px,#0000a9 152.5px,#00a3ff 152.5px,#00a3ff 155.5px,#a2ff5d 155.5px,#8eff71 175.4px,#50ffaf 230.3px,#2cffd3 239.4px,#00fbff 245.5px,#00b4ff 251.6px,#00b4ff 253.1px,#0068ff 253.1px,#0068ff 256.2px,#0000e5 256.2px,#0000a9 260.8px,#0000a9 288.2px,#0000e5 291.3px,#0000e5 292.8px,#0068ff 292.8px,#0068ff 295.8px,#00b4ff 295.8px,#00fbff 303.5px,#3bffc4 312.6px,#5affa5 324.8px,#81ff7e 364.5px)"></i>
<i style="background:linear-gradient(90deg,#78ff87 0px,#88ff77 22.9px,#85ff7a 25.9px,#62ff9d 29px,#62ff9d 30.5px,#0000e1 30.5px,#0000a9 35.1px,#0000b9 99.1px,#0000a9 147.9px,#0000e1 151px,#0000e1 152.5px,#62ff9d 152.5px,#86ff79 157.1px,#82ff7d 172.3px,#49ffb6 224.2px,#26ffd9 236.4px,#03fffc 242.5px,#00d0ff 248.6px,#0084ff 254.7px,#004fff 257.7px,#0009ff 260.8px,#0000cb 263.8px,#0000b2 266.9px,#0000a9 276px,#0000b2 282.1px,#0000cb 285.2px,#0009ff 288.2px,#004fff 291.3px,#0084ff 294.3px,#00d0ff 300.4px,#02fffd 306.5px,#32ffcd 315.7px,#52ffad 330.9px,#74ff8b 364.5px)"></i>
<i style="background:linear-gradient(90deg,#6bff94 0px,#73ff8c 19.8px,#60ff9f 29px,#60ff9f 30.5px,#00e7ff 30.5px,#00e7ff 33.5px,#0000a9 33.5px,#0000ae 108.3px,#0000a9 147.9px,#0000a9 149.4px,#00e8ff 149.4px,#00e8ff 152.5px,#60ff9f 152.5px,#73ff8c 163.2px,#61ff9e 193.7px,#3bffc4 224.2px,#15ffea 236.4px,#00f6ff 242.5px,#00cbff 248.6px,#0088ff 254.7px,#0022ff 260.8px,#0000f2 263.8px,#0000d3 266.9px,#0000c2 269.9px,#0000bc 276px,#0000c2 279.1px,#0000d3 282.1px,#0000f2 285.2px,#0022ff 288.2px,#0088ff 294.3px,#00cbff 300.4px,#00f6ff 306.5px,#15ffea 312.6px,#3bffc4 324.8px,#68ff97 364.5px)"></i>
<i style="background:linear-gradient(90deg,#5fffa0 0px,#5dffa2 19.8px,#43ffbc 29px,#33ffcc 32px,#33ffcc 33.5px,#0065ff 33.5px,#0065ff 36.6px,#0000a9 36.6px,#0000a9 144.9px,#0000a9 146.4px,#0065ff 146.4px,#0065ff 149.4px,#33ffcc 149.4px,#58ffa7 160.1px,#63ff9c 172.3px,#3fffc0 215px,#15ffea 233.3px,#00fcff 239.4px,#00c7ff 248.6px,#0086ff 254.7px,#0027ff 260.8px,#0000ff 263.8px,#0000e5 266.9px,#0000d2 273px,#0000d7 279.1px,#0000e5 282.1px,#0000ff 285.2px,#0057ff 291.3px,#00abff 297.4px,#00dcff 303.5px,#00fcff 309.6px,#35ffca 327.9px,#5dffa2 364.5px)"></i>
<i style="background:linear-gradient(90deg,#53ffac 0px,#4fffb0 16.8px,#36ffc9 25.9px,#01fffe 35.1px,#01fffe 36.6px,#0020ff 36.6px,#0020ff 39.6px,#0000a8 39.6px,#0000a8 141.8px,#0000a8 143.3px,#0021ff 143.3px,#0021ff 146.4px,#01fffe 146.4px,#36ffc9 157.1px,#4fffb0 166.2px,#52ffad 184.5px,#30ffcf 218.1px,#00ffff 236.4px,#00d8ff 245.5px,#00a7ff 251.6px,#002bff 260.8px,#000aff 263.8px,#0000e9 269.9px,#0000e9 279.1px,#000aff 285.2px,#0055ff 291.3px,#00a7ff 297.4px,#00d8ff 303.5px,#00ffff 312.6px,#30ffcf 330.9px,#52ffad 364.5px)"></i>
<i style="background:linear-gradient(90deg,#48ffb7 0px,#3dffc2 16.8px,#1effe1 25.9px,#00faff 32px,#00ccff 38.1px,#00ccff 39.6px,#000dff 39.6px,#000dff 42.7px,#0000a8 42.7px,#0000a8 138.8px,#0000a8 140.3px,#000dff 140.3px,#000dff 143.3px,#00ccff 143.3px,#00faff 151px,#36ffc9 163.2px,#48ffb7 175.4px,#37ffc8 205.9px,#13ffec 227.2px,#00f9ff 236.4px,#00d3ff 245.5px,#00a0ff 251.6px,#002eff 260.8px,#0012ff 263.8px,#0001ff 266.9px,#0000f4 276px,#0001ff 282.1px,#0012ff 285.2px,#0052ff 291.3px,#00a0ff 297.4px,#00d3ff 303.5px,#00f9ff 312.6px,#1affe5 324.8px,#40ffbf 352.3px,#47ffb8 364.5px)"></i>
<i style="background:linear-gradient(90deg,#3dffc2 0px,#2cffd3 16.8px,#08fff7 25.9px,#00f6ff 29px,#009eff 41.2px,#009eff 42.7px,#0000fc 42.7px,#0000fc 45.8px,#0000a8 45.8px,#0000a8 135.7px,#0000a8 137.2px,#0000fc 137.2px,#0000fc 140.3px,#009eff 140.3px,#00f6ff 154px,#17ffe8 160.1px,#38ffc7 172.3px,#39ffc6 193.7px,#18ffe7 221.1px,#00fbff 233.3px,#00deff 242.5px,#00b6ff 248.6px,#0030ff 260.8px,#000bff 266.9px,#0001ff 276px,#000bff 282.1px,#0030ff 288.2px,#00b6ff 300.4px,#00deff 306.5px,#03fffc 318.7px,#2effd1 343.1px,#3dffc2 364.5px)"></i>
<i style="background:linear-gradient(90deg,#33ffcc 0px,#24ffdb 13.7px,#03fffc 22.9px,#00ccff 32px,#0075ff 44.2px,#0075ff 45.8px,#0003ff 45.8px,#0003ff 48.8px,#0000a8 48.8px,#0000a8 132.7px,#0000a8 134.2px,#0003ff 134.2px,#0003ff 137.2px,#0075ff 137.2px,#00f3ff 157.1px,#04fffb 160.1px,#2affd5 172.3px,#32ffcd 190.6px,#16ffe9 218.1px,#00fdff 230.3px,#00d8ff 242.5px,#00adff 248.6px,#0031ff 260.8px,#0013ff 266.9px,#000dff 279.1px,#001fff 285.2px,#004cff 291.3px,#00adff 300.4px,#00d8ff 306.5px,#00fcff 318.7px,#2cffd3 349.2px,#33ffcc 364.5px)"></i>
<i style="background:linear-gradient(90deg,#29ffd6 0px,#15ffea 13.7px,#00ffff 19.8px,#00a6ff 35.1px,#0052ff 47.3px,#0018ff 50.3px,#0018ff 51.8px,#0000b9 51.8px,#0000a8 56.4px,#0000a8 126.6px,#0000b9 129.6px,#0000b9 131.2px,#0018ff 131.2px,#0052ff 135.7px,#00e0ff 157.1px,#00ffff 163.2px,#23ffdc 175.4px,#29ffd6 193.7px,#0afff5 221.1px,#00f8ff 230.3px,#00dfff 239.4px,#00bdff 245.5px,#0049ff 257.7px,#0023ff 263.8px,#0013ff 273px,#001aff 282.1px,#0033ff 288.2px,#0084ff 297.4px,#00bdff 303.5px,#00dfff 309.6px,#00fdff 321.8px,#27ffd8 352.3px,#2affd5 364.5px)"></i>
<i style="background:linear-gradient(90deg,#1fffe0 0px,#00fcff 16.8px,#00aaff 32px,#001bff 53.4px,#0000dd 56.4px,#0000ae 59.5px,#0000a8 80.8px,#0000a8 120.5px,#0000ae 123.5px,#0000dd 126.6px,#001bff 129.6px,#00bdff 154px,#00fcff 166.2px,#20ffdf 181.5px,#1cffe3 202.8px,#00f9ff 227.2px,#00d9ff 239.4px,#00b3ff 245.5px,#0047ff 257.7px,#0027ff 263.8px,#001aff 273px,#001fff 282.1px,#0034ff 288.2px,#007bff 297.4px,#00c9ff 306.5px,#00edff 315.7px,#04fffb 327.9px,#21ffde 355.3px,#21ffde 364.5px)"></i>
<i style="background:linear-gradient(90deg,#16ffe9 0px,#00faff 13.7px,#00afff 29px,#001dff 53.4px,#0000f9 59.5px,#0000cd 62.5px,#0000b0 65.6px,#0000a8 71.7px,#0000a8 114.4px,#0000b0 117.4px,#0000cd 120.5px,#0000f9 123.5px,#0063ff 141.8px,#00e0ff 163.2px,#00faff 169.3px,#1bffe4 187.6px,#0cfff3 212px,#00faff 224.2px,#00dfff 236.4px,#00a8ff 245.5px,#0044ff 257.7px,#0023ff 266.9px,#0023ff 282.1px,#0044ff 291.3px,#00bfff 306.5px,#00e8ff 315.7px,#03fffc 330.9px,#1bffe4 355.3px,#19ffe6 364.5px)"></i>
<i style="background:linear-gradient(90deg,#0efff1 0px,#00f8ff 10.7px,#00b3ff 25.9px,#0018ff 53.4px,#0000fd 59.5px,#0000e6 65.6px,#0000bc 71.7px,#0000a8 77.8px,#0000ad 108.3px,#0000cc 114.4px,#0000e6 117.4px,#0000fd 123.5px,#0047ff 138.8px,#00d3ff 163.2px,#02fffd 175.4px,#15ffea 190.6px,#03fffc 215px,#00ebff 230.3px,#00c9ff 239.4px,#0042ff 257.7px,#0026ff 266.9px,#0026ff 282.1px,#0042ff 291.3px,#00c9ff 309.6px,#00ebff 318.7px,#03fffc 334px,#14ffeb 358.4px,#11ffee 364.5px)"></i>
<i style="background:linear-gradient(90deg,#07fff8 0px,#00f0ff 10.7px,#00acff 25.9px,#0024ff 50.3px,#0000fd 59.5px,#0000b9 83.9px,#0000b4 96.1px,#0000e8 117.4px,#0000fd 123.5px,#0043ff 138.8px,#00cbff 163.2px,#00faff 175.4px,#10ffef 193.7px,#00fbff 218.1px,#00ddff 233.3px,#00abff 242.5px,#0050ff 254.7px,#002dff 263.8px,#0026ff 279.1px,#0034ff 288.2px,#0064ff 297.4px,#00bfff 309.6px,#00e6ff 318.7px,#03fffc 337px,#0ffff0 358.4px,#0bfff4 364.5px)"></i>
<i style="background:linear-gradient(90deg,#04fffb 0px,#00edff 10.7px,#00aaff 25.9px,#0023ff 50.3px,#0000fe 59.5px,#0000d1 77.8px,#0000c7 96.1px,#0000e3 114.4px,#0000fe 123.5px,#0042ff 138.8px,#00c9ff 163.2px,#00fdff 178.4px,#0cfff3 196.7px,#00f8ff 218.1px,#00e1ff 230.3px,#00b6ff 239.4px,#004dff 254.7px,#002eff 263.8px,#002aff 282.1px,#003fff 291.3px,#0073ff 300.4px,#00c8ff 312.6px,#00e9ff 321.8px,#03fffc 340.1px,#0afff5 361.4px,#07fff8 364.5px)"></i>
<i style="background:linear-gradient(90deg,#00ffff 0px,#00d5ff 16.8px,#0075ff 35.1px,#0016ff 53.4px,#0000ff 59.5px,#0000d6 77.8px,#0000ce 96.1px,#0000e6 114.4px,#0000ff 123.5px,#0042ff 138.8px,#00c8ff 163.2px,#00faff 178.4px,#07fff8 199.8px,#00f6ff 218.1px,#00dcff 230.3px,#00acff 239.4px,#0049ff 254.7px,#002eff 263.8px,#002bff 282.1px,#003dff 291.3px,#006cff 300.4px,#00cfff 315.7px,#00f2ff 327.9px,#05fffa 346.2px,#04fffb 364.5px)"></i>
<i style="background:linear-gradient(90deg,#00fdff 0px,#00d4ff 16.8px,#0075ff 35.1px,#0017ff 53.4px,#0001ff 59.5px,#0000da 77.8px,#0000d5 99.1px,#0000ef 117.4px,#0001ff 123.5px,#0042ff 138.8px,#00c7ff 163.2px,#00f8ff 178.4px,#05fffa 199.8px,#00f4ff 218.1px,#00d5ff 230.3px,#008eff 242.5px,#0047ff 254.7px,#002fff 263.8px,#002bff 282.1px,#003cff 291.3px,#0066ff 300.4px,#00c7ff 315.7px,#00e8ff 324.8px,#00ffff 343.1px,#02fffd 364.5px)"></i>
<i style="background:linear-gradient(90deg,#00fbff 0px,#00d4ff 16.8px,#0075ff 35.1px,#0018ff 53.4px,#0002ff 59.5px,#0000db 80.8px,#0000db 102.2px,#0002ff 123.5px,#0042ff 138.8px,#00c7ff 163.2px,#00f7ff 178.4px,#04fffb 193.7px,#00f6ff 215px,#00dbff 227.2px,#009aff 239.4px,#0051ff 251.6px,#0033ff 260.8px,#002aff 279.1px,#003aff 291.3px,#0060ff 300.4px,#00ceff 318.7px,#00f1ff 330.9px,#04fffb 352.3px,#00ffff 364.5px)"></i>
<i style="background:linear-gradient(90deg,#00faff 0px,#00d4ff 16.8px,#0076ff 35.1px,#0019ff 53.4px,#0000fa 62.5px,#0000de 80.8px,#0000e1 105.2px,#0004ff 123.5px,#0043ff 138.8px,#00c8ff 163.2px,#00f0ff 175.4px,#02fffd 187.6px,#00f8ff 212px,#00e0ff 224.2px,#00a5ff 236.4px,#004dff 251.6px,#002eff 263.8px,#002eff 285.2px,#004dff 297.4px,#00d5ff 321.8px,#00f4ff 334px,#03fffc 355.3px,#00feff 364.5px)"></i>
<i style="background:linear-gradient(90deg,#00faff 0px,#00d5ff 16.8px,#0078ff 35.1px,#001aff 53.4px,#0000fb 62.5px,#0000e1 80.8px,#0000e3 105.2px,#0005ff 123.5px,#0044ff 138.8px,#00c8ff 163.2px,#00f0ff 175.4px,#02fffd 190.6px,#00f7ff 212px,#00dbff 224.2px,#009dff 236.4px,#004aff 251.6px,#002eff 263.8px,#002dff 285.2px,#004aff 297.4px,#009dff 312.6px,#00dbff 324.8px,#00f7ff 337px,#01fffe 361.4px,#00fdff 364.5px)"></i>
<i style="background:linear-gradient(90deg,#00fcff 0px,#00dbff 16.8px,#0092ff 32px,#001fff 53.4px,#0000ff 62.5px,#0000e3 80.8px,#0000e5 105.2px,#0000ff 120.5px,#003bff 135.7px,#00c2ff 160.1px,#00edff 172.3px,#02fffd 187.6px,#00faff 208.9px,#00e2ff 221.1px,#00a9ff 233.3px,#0053ff 248.6px,#0030ff 260.8px,#002aff 282.1px,#003dff 294.3px,#0072ff 306.5px,#00d7ff 324.8px,#00f6ff 337px,#02fffd 358.4px,#00ffff 364.5px)"></i>
<i style="background:linear-gradient(90deg,#00ffff 0px,#00e6ff 16.8px,#00b3ff 29px,#0028ff 53.4px,#0005ff 62.5px,#0000e4 83.9px,#0000eb 108.3px,#0005ff 120.5px,#0048ff 135.7px,#00c3ff 157.1px,#00eeff 169.3px,#03fffc 184.5px,#00faff 208.9px,#00dfff 221.1px,#00a3ff 233.3px,#004fff 248.6px,#002eff 260.8px,#0028ff 282.1px,#003aff 294.3px,#006dff 306.5px,#00d3ff 324.8px,#00f6ff 337px,#04fffb 355.3px,#02fffd 364.5px)"></i>
<i style="background:linear-gradient(90deg,#03fffc 0px,#00eeff 16.8px,#00c3ff 29px,#0024ff 56.4px,#0002ff 65.6px,#0000e7 83.9px,#0000ee 108.3px,#0002ff 117.4px,#0033ff 129.6px,#00c4ff 154px,#00efff 166.2px,#03fffc 181.5px,#00faff 208.9px,#00ddff 221.1px,#008cff 236.4px,#004cff 248.6px,#002bff 260.8px,#0025ff 282.1px,#0038ff 294.3px,#0069ff 306.5px,#00d0ff 324.8px,#00f5ff 337px,#04fffb 352.3px,#04fffb 364.5px)"></i>
<i style="background:linear-gradient(90deg,#05fffa 0px,#00f5ff 16.8px,#00d2ff 29px,#0090ff 41.2px,#0020ff 59.5px,#0000fd 68.6px,#0000e8 83.9px,#0000ed 105.2px,#0000fd 114.4px,#0020ff 123.5px,#00c5ff 151px,#00efff 163.2px,#04fffb 178.4px,#03fffc 202.8px,#00efff 215px,#00bdff 227.2px,#0049ff 248.6px,#0029ff 260.8px,#0021ff 279.1px,#0035ff 294.3px,#0065ff 306.5px,#00daff 327.9px,#00fbff 340.1px,#06fff9 364.5px)"></i>
<i style="background:linear-gradient(90deg,#08fff7 0px,#00f5ff 19.8px,#00d4ff 32px,#0090ff 44.2px,#002bff 59.5px,#0003ff 68.6px,#0000e9 83.9px,#0000ee 105.2px,#0003ff 114.4px,#003dff 126.6px,#00b6ff 144.9px,#00e8ff 157.1px,#02fffd 172.3px,#09fff6 196.7px,#00fcff 208.9px,#00d8ff 221.1px,#0046ff 248.6px,#0025ff 260.8px,#001dff 279.1px,#0032ff 294.3px,#0061ff 306.5px,#00d8ff 327.9px,#00fcff 340.1px,#09fff6 364.5px)"></i>
<i style="background:linear-gradient(90deg,#0bfff4 0px,#00faff 19.8px,#00d5ff 35.1px,#0091ff 47.3px,#0027ff 62.5px,#0000fe 71.7px,#0000ea 83.9px,#0000f0 105.2px,#0000fe 111.3px,#0027ff 120.5px,#00b8ff 141.8px,#00e9ff 154px,#02fffd 169.3px,#0cfff3 196.7px,#00feff 208.9px,#00d6ff 221.1px,#004fff 245.5px,#0027ff 257.7px,#0016ff 273px,#0021ff 288.2px,#0042ff 300.4px,#0092ff 315.7px,#00e3ff 330.9px,#00fdff 340.1px,#0dfff2 361.4px,#0cfff3 364.5px)"></i>
<i style="background:linear-gradient(90deg,#0ffff0 0px,#00faff 22.9px,#00d7ff 38.1px,#00a7ff 47.3px,#0021ff 65.6px,#0004ff 71.7px,#0000e8 86.9px,#0000f1 105.2px,#0004ff 111.3px,#0035ff 120.5px,#00baff 138.8px,#00e1ff 147.9px,#00feff 163.2px,#12ffed 193.7px,#01fffe 208.9px,#00d5ff 221.1px,#004cff 245.5px,#0022ff 257.7px,#0010ff 273px,#001cff 288.2px,#003fff 300.4px,#008fff 315.7px,#00e3ff 330.9px,#00ffff 340.1px,#11ffee 358.4px,#10ffef 364.5px)"></i>
<i style="background:linear-gradient(90deg,#14ffeb 0px,#00faff 25.9px,#00d8ff 41.2px,#00a9ff 50.3px,#001bff 68.6px,#0000fc 74.7px,#0000e7 86.9px,#0000ed 102.2px,#0000fc 108.3px,#001bff 114.4px,#00bcff 135.7px,#00e2ff 144.9px,#03fffc 163.2px,#17ffe8 190.6px,#0afff5 205.9px,#00faff 212px,#00c4ff 224.2px,#0049ff 245.5px,#0015ff 260.8px,#0007ff 276px,#001dff 291.3px,#0058ff 306.5px,#00e3ff 330.9px,#03fffc 340.1px,#16ffe9 355.3px,#15ffea 364.5px)"></i>
<i style="background:linear-gradient(90deg,#19ffe6 0px,#00faff 29px,#00d9ff 44.2px,#00aaff 53.4px,#0012ff 71.7px,#0001ff 74.7px,#0000e7 83.9px,#0000e7 99.1px,#0001ff 108.3px,#0041ff 117.4px,#00abff 129.6px,#00d9ff 138.8px,#00ffff 157.1px,#1cffe3 187.6px,#14ffeb 202.8px,#00fcff 212px,#00c4ff 224.2px,#0047ff 245.5px,#000eff 260.8px,#0000fd 269.9px,#0007ff 285.2px,#0038ff 300.4px,#009fff 318.7px,#00f1ff 334px,#06fff9 340.1px,#1bffe4 355.3px,#1bffe4 364.5px)"></i>
<i style="background:linear-gradient(90deg,#20ffdf 0px,#00fbff 32px,#00cdff 50.3px,#0093ff 59.5px,#001eff 71.7px,#0008ff 74.7px,#0000eb 80.8px,#0000e0 93px,#0000eb 102.2px,#0008ff 108.3px,#0057ff 117.4px,#00abff 126.6px,#00d8ff 135.7px,#01fffe 154px,#22ffdd 184.5px,#19ffe6 202.8px,#01fffe 212px,#00c4ff 224.2px,#0035ff 248.6px,#0004ff 260.8px,#0000ed 276px,#0004ff 288.2px,#0044ff 303.5px,#00e5ff 330.9px,#00ffff 337px,#1dffe2 349.2px,#21ffde 364.5px)"></i>
<i style="background:linear-gradient(90deg,#27ffd8 0px,#00fcff 35.1px,#00caff 53.4px,#00a6ff 59.5px,#000eff 74.7px,#0000f8 77.8px,#0000e1 83.9px,#0000dc 96.1px,#0000e9 102.2px,#0000f8 105.2px,#000eff 108.3px,#00a6ff 123.5px,#00d6ff 132.7px,#02fffd 151px,#27ffd8 181.5px,#24ffdb 199.8px,#05fffa 212px,#00e8ff 218.1px,#0022ff 251.6px,#0005ff 257.7px,#0000de 269.9px,#0000de 279.1px,#0005ff 291.3px,#0066ff 309.6px,#00e7ff 330.9px,#05fffa 337px,#24ffdb 349.2px,#28ffd7 364.5px)"></i>
<i style="background:linear-gradient(90deg,#2fffd0 0px,#09fff6 32px,#00f6ff 41.2px,#00c4ff 56.4px,#009aff 62.5px,#0013ff 74.7px,#0000f8 77.8px,#0000db 83.9px,#0000d6 96.1px,#0000e6 102.2px,#0000f8 105.2px,#0013ff 108.3px,#009aff 120.5px,#00c4ff 126.6px,#00f6ff 141.8px,#0efff1 154px,#30ffcf 181.5px,#2effd1 199.8px,#10ffef 212px,#02fffd 215px,#00a7ff 230.3px,#000bff 254.7px,#0000f9 257.7px,#0000c4 263.8px,#0000b3 269.9px,#0000b3 279.1px,#0000c4 285.2px,#0000f9 291.3px,#001dff 297.4px,#00f2ff 330.9px,#02fffd 334px,#29ffd6 346.2px,#31ffce 364.5px)"></i>
<i style="background:linear-gradient(90deg,#39ffc6 0px,#12ffed 32px,#00ffff 41.2px,#00ccff 56.4px,#00a6ff 62.5px,#0066ff 68.6px,#0018ff 74.7px,#0000f8 77.8px,#0000d4 83.9px,#0000ca 93px,#0000d4 99.1px,#0000f8 105.2px,#0018ff 108.3px,#008aff 117.4px,#00bbff 123.5px,#00efff 135.7px,#00ffff 141.8px,#32ffcd 172.3px,#3cffc3 196.7px,#2bffd4 208.9px,#05fffa 218.1px,#00cbff 227.2px,#002fff 248.6px,#0000fd 251.6px,#0000cb 254.7px,#0000ae 257.7px,#0000ae 291.3px,#0000cb 294.3px,#0000fd 297.4px,#002fff 300.4px,#00f2ff 327.9px,#05fffa 330.9px,#2affd5 340.1px,#3cffc3 352.3px,#3bffc4 364.5px)"></i>
<i style="background:linear-gradient(90deg,#45ffba 0px,#1effe1 32px,#00f9ff 47.3px,#00c3ff 59.5px,#0094ff 65.6px,#0049ff 71.7px,#001dff 74.7px,#0000f6 77.8px,#0000da 80.8px,#0000c0 86.9px,#0000c0 96.1px,#0000da 102.2px,#0000f6 105.2px,#001dff 108.3px,#0072ff 114.4px,#00aeff 120.5px,#00e2ff 129.6px,#03fffc 138.8px,#36ffc9 166.2px,#4affb5 196.7px,#3dffc2 208.9px,#1bffe4 218.1px,#0afff5 221.1px,#00f5ff 224.2px,#0065ff 242.5px,#0023ff 245.5px,#0000cb 248.6px,#0000a9 251.6px,#0000a9 297.4px,#0000cb 300.4px,#0023ff 303.5px,#0065ff 306.5px,#00f4ff 324.8px,#09fff6 327.9px,#34ffcb 337px,#48ffb7 349.2px,#46ffb9 364.5px)"></i>
<i style="background:linear-gradient(90deg,#53ffac 0px,#2effd1 32px,#00fdff 50.3px,#00ccff 59.5px,#009bff 65.6px,#0051ff 71.7px,#0021ff 74.7px,#0000f4 77.8px,#0000d1 80.8px,#0000bc 83.9px,#0000ad 90px,#0000b0 96.1px,#0000bc 99.1px,#0000d1 102.2px,#0000f4 105.2px,#0021ff 108.3px,#007aff 114.4px,#00b6ff 120.5px,#00efff 129.6px,#00fdff 132.7px,#34ffcb 154px,#57ffa8 187.6px,#57ffa8 205.9px,#42ffbd 215px,#00f9ff 227.2px,#00acff 236.4px,#0081ff 239.4px,#0081ff 240.9px,#0001ff 240.9px,#0001ff 244px,#0000a9 244px,#0000a9 303.5px,#0000a9 305px,#0001ff 305px,#0001ff 308px,#0081ff 308px,#00acff 312.6px,#00f8ff 321.8px,#41ffbe 334px,#59ffa6 346.2px,#55ffaa 364.5px)"></i>
<i style="background:linear-gradient(90deg,#67ff98 0px,#3fffc0 35.1px,#13ffec 50.3px,#04fffb 53.4px,#00dbff 59.5px,#00a1ff 65.6px,#004fff 71.7px,#000fff 74.7px,#0000c7 77.8px,#0000af 80.8px,#0000a9 90px,#0000a9 99.1px,#0000af 102.2px,#0000c7 105.2px,#000fff 108.3px,#004fff 111.3px,#00a2ff 117.4px,#00f1ff 126.6px,#04fffb 129.6px,#30ffcf 141.8px,#56ffa9 163.2px,#71ff8e 199.8px,#69ff96 212px,#47ffb8 221.1px,#02fffd 230.3px,#00e5ff 233.3px,#00a3ff 236.4px,#00a3ff 237.9px,#0000d9 237.9px,#0000a9 242.5px,#0000a9 306.5px,#0000d8 309.6px,#0000d8 311.1px,#00a3ff 311.1px,#00e5ff 315.7px,#02fffd 318.7px,#47ffb8 327.9px,#68ff97 337px,#70ff8f 352.3px,#69ff96 364.5px)"></i>
<i style="background:linear-gradient(90deg,#83ff7c 0px,#59ffa6 38.1px,#32ffcd 50.3px,#0efff1 56.4px,#00f3ff 59.5px,#00adff 65.6px,#00adff 67.1px,#004cff 67.1px,#004cff 70.1px,#0000d3 70.1px,#0000a9 74.7px,#0000a9 108.3px,#0000d3 111.3px,#0000d3 112.8px,#004cff 112.8px,#004cff 115.9px,#00adff 115.9px,#00f3ff 123.5px,#0efff1 126.6px,#3effc1 135.7px,#64ff9b 151px,#92ff6d 202.8px,#8bff74 215px,#63ff9c 224.2px,#30ffcf 230.3px,#00cbff 233.3px,#00cbff 234.8px,#0000bd 234.8px,#0000a9 239.4px,#0000a9 309.6px,#0000bd 312.6px,#0000bd 314.1px,#00cbff 314.1px,#30ffcf 318.7px,#74ff8b 327.9px,#8fff70 337px,#8aff75 358.4px,#85ff7a 364.5px)"></i>
<i style="background:linear-gradient(90deg,#a4ff5b 0px,#7dff82 41.2px,#5bffa4 50.3px,#34ffcb 56.4px,#16ffe9 59.5px,#00dcff 62.5px,#00dcff 64px,#0024ff 64px,#0024ff 67.1px,#0000a9 67.1px,#0000a9 114.4px,#0000a9 115.9px,#0024ff 115.9px,#0024ff 118.9px,#00dcff 118.9px,#16ffe9 123.5px,#4affb5 129.6px,#74ff8b 138.8px,#8dff72 154px,#beff41 212px,#acff53 221.1px,#87ff78 227.2px,#87ff78 228.8px,#32ffcd 228.8px,#32ffcd 231.8px,#0000c2 231.8px,#0000a9 236.4px,#0000a9 312.6px,#0000c2 315.7px,#0000c2 317.2px,#32ffcd 317.2px,#32ffcd 320.2px,#86ff79 320.2px,#acff53 327.9px,#beff41 337px,#a6ff59 364.5px)"></i>
<i style="background:linear-gradient(90deg,#c3ff3c 0px,#aaff55 41.2px,#8bff74 50.3px,#5fffa0 56.4px,#26ffd9 59.5px,#26ffd9 61px,#0000ed 61px,#0000a9 65.6px,#0000a9 117.4px,#0000ed 120.5px,#0000ed 122px,#26ffd9 122px,#60ff9f 126.6px,#9aff65 135.7px,#aeff51 144.9px,#c6ff39 184.5px,#eeff11 215px,#e7ff18 221.1px,#daff25 224.2px,#a4ff5b 227.2px,#a4ff5b 228.8px,#0008ff 228.8px,#0008ff 231.8px,#0000a9 231.8px,#0000a9 315.7px,#0000a9 317.2px,#0008ff 317.2px,#0008ff 320.2px,#a4ff5b 320.2px,#daff25 324.8px,#ecff13 330.9px,#e3ff1c 343.1px,#c5ff3a 364.5px)"></i>
<i style="background:linear-gradient(90deg,#daff25 0px,#ceff31 25.9px,#d0ff2f 44.2px,#bdff42 50.3px,#a9ff56 53.4px,#70ff8f 56.4px,#70ff8f 57.9px,#0000fd 57.9px,#0000fd 61px,#0000a9 61px,#0000a9 120.5px,#0000a9 122px,#0000fd 122px,#0000fd 125px,#70ff8f 125px,#aaff55 129.6px,#caff35 135.7px,#d4ff2b 144.9px,#d0ff2f 169.3px,#efff10 196.7px,#fffa00 205.9px,#ffe100 218.1px,#ffe900 224.2px,#ffe900 225.7px,#00b0ff 225.7px,#00b0ff 228.8px,#0000a9 228.8px,#0000ac 294.3px,#0000a9 318.7px,#0000a9 320.2px,#00b0ff 320.2px,#00b0ff 323.3px,#ffea00 323.3px,#ffe100 330.9px,#fbff04 346.2px,#ddff22 364.5px)"></i>
<i style="background:linear-gradient(90deg,#e9ff16 0px,#e2ff1d 22.9px,#f9ff06 44.2px,#eeff11 50.3px,#bbff44 53.4px,#bbff44 54.9px,#000dff 54.9px,#000dff 57.9px,#0000a9 57.9px,#0000a9 123.5px,#0000a9 125px,#000dff 125px,#000dff 128.1px,#bbff44 128.1px,#efff10 132.7px,#f9ff06 141.8px,#e1ff1e 163.2px,#f2ff0d 187.6px,#fffc00 196.7px,#ffb900 218.1px,#ffb500 221.1px,#ffb500 222.6px,#9eff61 222.6px,#9eff61 225.7px,#0000a9 225.7px,#0000b2 285.2px,#0000a9 321.8px,#0000a9 323.3px,#9eff61 323.3px,#9eff61 326.3px,#ffb600 326.3px,#ffd700 340.1px,#fffd00 352.3px,#edff12 364.5px)"></i>
<i style="background:linear-gradient(90deg,#f5ff0a 0px,#efff10 19.8px,#fffb00 32px,#ffdb00 47.3px,#ffdd00 50.3px,#ffdd00 51.8px,#00b8ff 51.8px,#00b8ff 54.9px,#0000a9 54.9px,#0000ad 105.2px,#0000a9 126.6px,#0000a9 128.1px,#00b8ff 128.1px,#00b8ff 131.2px,#ffdc00 131.2px,#ffe300 141.8px,#fcff03 154px,#eeff11 169.3px,#fffb00 190.6px,#ffcd00 205.9px,#ff8d00 221.1px,#ff8d00 222.6px,#005aff 222.6px,#005aff 225.7px,#0000a9 225.7px,#0000b8 282.1px,#0000a9 321.8px,#0000a9 323.3px,#005aff 323.3px,#005aff 326.3px,#ff8e00 326.3px,#ffee00 352.3px,#fdff02 361.4px,#f9ff06 364.5px)"></i>
<i style="background:linear-gradient(90deg,#ffff00 0px,#fcff03 19.8px,#fff000 29px,#ffac00 47.3px,#ffac00 48.8px,#a9ff56 48.8px,#a9ff56 51.8px,#0000a9 51.8px,#0000b3 99.1px,#0000a9 129.6px,#0000a9 131.2px,#aaff55 131.2px,#aaff55 134.2px,#ffac00 134.2px,#fff800 157.1px,#fbff04 175.4px,#fff500 187.6px,#ffd500 199.8px,#ff8500 215px,#ff7400 218.1px,#ff7400 219.6px,#d9ff26 219.6px,#d9ff26 222.6px,#0000a9 222.6px,#0000b7 257.7px,#0000be 282.1px,#0000a9 318.7px,#0000a9 324.8px,#0000a9 326.3px,#d9ff26 326.3px,#d9ff26 329.4px,#ff7500 329.4px,#ffca00 346.2px,#fff000 358.4px,#fffb00 364.5px)"></i>
<i style="background:linear-gradient(90deg,#fff600 0px,#fffa00 16.8px,#ffdf00 29px,#ff7d00 47.3px,#ff7d00 48.8px,#0060ff 48.8px,#0060ff 51.8px,#0000a9 51.8px,#0000bc 96.1px,#0000a9 129.6px,#0000a9 131.2px,#0060ff 131.2px,#0060ff 134.2px,#ff7d00 134.2px,#ffdf00 154px,#fffa00 166.2px,#fff500 181.5px,#ffd400 196.7px,#ffa900 205.9px,#ff5400 218.1px,#ff5400 219.6px,#00ceff 219.6px,#00ceff 222.6px,#0000a9 222.6px,#0000b8 254.7px,#0000c6 276px,#0000aa 318.7px,#0000a9 324.8px,#0000a9 326.3px,#00cdff 326.3px,#00cdff 329.4px,#ff5500 329.4px,#ffbb00 346.2px,#ffe600 358.4px,#fff200 364.5px)"></i>
<i style="background:linear-gradient(90deg,#ffee00 0px,#fff100 16.8px,#ffdc00 25.9px,#ffad00 35.1px,#ff6800 44.2px,#ff6800 45.8px,#ffb100 45.8px,#ffb100 48.8px,#0000a9 48.8px,#0000b6 74.7px,#0000c4 93px,#0000aa 126.6px,#0000a9 132.7px,#0000a9 134.2px,#ffb100 134.2px,#ffb100 137.2px,#ff6700 137.2px,#ffbf00 151px,#ffe500 160.1px,#fff300 172.3px,#ffe400 187.6px,#ffbd00 199.8px,#ff8300 208.9px,#ff3500 218.1px,#ff3500 219.6px,#0000db 219.6px,#0000a9 224.2px,#0000b9 251.6px,#0000c9 273px,#0000bd 294.3px,#0000aa 318.7px,#0000a9 324.8px,#0000db 327.9px,#0000db 329.4px,#ff3600 329.4px,#ff9a00 343.1px,#ffca00 352.3px,#ffea00 364.5px)"></i>
<i style="background:linear-gradient(90deg,#ffe700 0px,#ffe800 16.8px,#ffd000 25.9px,#ff9900 35.1px,#ff4300 44.2px,#ff4300 45.8px,#0cfff3 45.8px,#0cfff3 48.8px,#0000a9 48.8px,#0000b6 71.7px,#0000c9 90px,#0000bb 108.3px,#0000aa 126.6px,#0000a9 132.7px,#0000a9 134.2px,#0cfff3 134.2px,#0cfff3 137.2px,#ff4300 137.2px,#ff9900 147.9px,#ffd000 157.1px,#ffe800 166.2px,#ffe700 181.5px,#ffcc00 193.7px,#ffa100 202.8px,#ff5600 212px,#ff3800 215px,#ff3800 216.5px,#ffeb00 216.5px,#ffeb00 219.6px,#0000a9 219.6px,#0000b3 245.5px,#0000ca 266.9px,#0000c5 291.3px,#0000ab 315.7px,#0000a9 327.9px,#0000a9 329.4px,#ffeb00 329.4px,#ffeb00 332.4px,#ff3900 332.4px,#ff8c00 343.1px,#ffc100 352.3px,#ffe300 364.5px)"></i>
<i style="background:linear-gradient(90deg,#ffe200 0px,#ffe500 13.7px,#ffd300 22.9px,#ffa100 32px,#ff4900 41.2px,#ff2300 44.2px,#ff2300 45.8px,#0047ff 45.8px,#0047ff 48.8px,#0000a9 48.8px,#0000b5 68.6px,#0000ca 83.9px,#0000c5 105.2px,#0000ac 123.5px,#0000a9 132.7px,#0000a9 134.2px,#0047ff 134.2px,#0047ff 137.2px,#ff2200 137.2px,#ff8700 147.9px,#ffc600 157.1px,#ffe100 166.2px,#ffe500 178.4px,#ffcf00 190.6px,#ffaa00 199.8px,#ff6500 208.9px,#ff2400 215px,#ff2400 216.5px,#50ffaf 216.5px,#50ffaf 219.6px,#0000a9 219.6px,#0000b6 245.5px,#0000cb 263.8px,#0000c4 294.3px,#0000ab 315.7px,#0000a9 327.9px,#0000a9 329.4px,#4fffb0 329.4px,#4fffb0 332.4px,#ff2500 332.4px,#ff8000 343.1px,#ffba00 352.3px,#ffde00 364.5px)"></i>
<i style="background:linear-gradient(90deg,#ffde00 0px,#ffe000 13.7px,#ffcc00 22.9px,#ff9600 32px,#ff5900 38.1px,#ff0800 44.2px,#ff0800 45.8px,#0000a9 45.8px,#0000b2 65.6px,#0000ca 80.8px,#0000c8 105.2px,#0000ac 123.5px,#0000a9 135.7px,#0000a9 137.2px,#ff0800 137.2px,#ff5900 144.9px,#ff9500 151px,#ffcb00 160.1px,#ffe000 169.3px,#ffd900 184.5px,#ffb300 196.7px,#ff7700 205.9px,#ff1400 215px,#ff1400 216.5px,#00ebff 216.5px,#00ebff 219.6px,#0000a9 219.6px,#0000b7 245.5px,#0000cc 263.8px,#0000c6 294.3px,#0000ac 315.7px,#0000a9 327.9px,#0000a9 329.4px,#00ebff 329.4px,#00ebff 332.4px,#ff1500 332.4px,#ff7700 343.1px,#ffb400 352.3px,#ffd900 364.5px)"></i>
<i style="background:linear-gradient(90deg,#ffdb00 0px,#ffdd00 13.7px,#ffc700 22.9px,#ff8e00 32px,#ff4d00 38.1px,#ff2500 41.2px,#ff6400 44.2px,#ff6400 45.8px,#0000a9 45.8px,#0000b4 65.6px,#0000cb 80.8px,#0000c6 108.3px,#0000ad 123.5px,#0000a9 135.7px,#0000a9 137.2px,#ff6400 137.2px,#ff2400 141.8px,#ff7000 147.9px,#ffa500 154px,#ffd100 163.2px,#ffdf00 175.4px,#ffcf00 187.6px,#ffaf00 196.7px,#ff7000 205.9px,#ff0900 215px,#ff0900 216.5px,#0083ff 216.5px,#0083ff 219.6px,#0000a9 219.6px,#0000b4 242.5px,#0000cb 260.8px,#0000c8 294.3px,#0000ac 315.7px,#0000a9 327.9px,#0000a9 329.4px,#0083ff 329.4px,#0083ff 332.4px,#ff0a00 332.4px,#ff7100 343.1px,#ffb000 352.3px,#ffd600 364.5px)"></i>
<i style="background:linear-gradient(90deg,#ffd900 0px,#ffdc00 13.7px,#ffc500 22.9px,#ffa300 29px,#ff6b00 35.1px,#ff1d00 41.2px,#ff1d00 42.7px,#ffcb00 42.7px,#ffcb00 45.8px,#0000a9 45.8px,#0000b4 65.6px,#0000cc 80.8px,#0000c7 108.3px,#0000ab 126.6px,#0000a9 135.7px,#0000a9 137.2px,#ffca00 137.2px,#ffca00 140.3px,#ff1d00 140.3px,#ff6b00 147.9px,#ffa200 154px,#ffcf00 163.2px,#ffde00 175.4px,#ffce00 187.6px,#ffad00 196.7px,#ff6d00 205.9px,#ff0300 215px,#ff0300 216.5px,#0084ff 216.5px,#0084ff 219.6px,#0000a9 219.6px,#0000b4 242.5px,#0000cc 260.8px,#0000c8 294.3px,#0000ac 315.7px,#0000a9 327.9px,#0000a9 329.4px,#0084ff 329.4px,#0084ff 332.4px,#ff0400 332.4px,#ff6e00 343.1px,#ffae00 352.3px,#ffd500 364.5px)"></i>
<i style="background:linear-gradient(90deg,#ffd900 0px,#ffdc00 13.7px,#ffc500 22.9px,#ffa300 29px,#ff6b00 35.1px,#ff1d00 41.2px,#ff1d00 42.7px,#ffcb00 42.7px,#ffcb00 45.8px,#0000a9 45.8px,#0000b4 65.6px,#0000cc 80.8px,#0000c7 108.3px,#0000ab 126.6px,#0000a9 135.7px,#0000a9 137.2px,#ffca00 137.2px,#ffca00 140.3px,#ff1d00 140.3px,#ff6b00 147.9px,#ffa200 154px,#ffcf00 163.2px,#ffde00 175.4px,#ffce00 187.6px,#ffad00 196.7px,#ff6d00 205.9px,#ff0300 215px,#ff0300 216.5px,#0084ff 216.5px,#0084ff 219.6px,#0000a9 219.6px,#0000b4 242.5px,#0000cc 260.8px,#0000c8 294.3px,#0000ac 315.7px,#0000a9 327.9px,#0000a9 329.4px,#0084ff 329.4px,#0084ff 332.4px,#ff0400 332.4px,#ff6e00 343.1px,#ffae00 352.3px,#ffd500 364.5px)"></i>
<i style="background:linear-gradient(90deg,#ffdb00 0px,#ffdd00 13.7px,#ffc700 22.9px,#ff8e00 32px,#ff4d00 38.1px,#ff2500 41.2px,#ff6400 44.2px,#ff6400 45.8px,#0000a9 45.8px,#0000b4 65.6px,#0000cb 80.8px,#0000c6 108.3px,#0000ad 123.5px,#0000a9 135.7px,#0000a9 137.2px,#ff6400 137.2px,#ff2400 141.8px,#ff7000 147.9px,#ffa500 154px,#ffd100 163.2px,#ffdf00 175.4px,#ffcf00 187.6px,#ffaf00 196.7px,#ff7000 205.9px,#ff0900 215px,#ff0900 216.5px,#0083ff 216.5px,#0083ff 219.6px,#0000a9 219.6px,#0000b4 242.5px,#0000cb 260.8px,#0000c8 294.3px,#0000ac 315.7px,#0000a9 327.9px,#0000a9 329.4px,#0083ff 329.4px,#0083ff 332.4px,#ff0a00 332.4px,#ff7100 343.1px,#ffb000 352.3px,#ffd600 364.5px)"></i>
<i style="background:linear-gradient(90deg,#ffde00 0px,#ffe000 13.7px,#ffcc00 22.9px,#ff9600 32px,#ff5900 38.1px,#ff0800 44.2px,#ff0800 45.8px,#0000a9 45.8px,#0000b2 65.6px,#0000ca 80.8px,#0000c8 105.2px,#0000ac 123.5px,#0000a9 135.7px,#0000a9 137.2px,#ff0800 137.2px,#ff5900 144.9px,#ff9500 151px,#ffcb00 160.1px,#ffe000 169.3px,#ffd900 184.5px,#ffb300 196.7px,#ff7700 205.9px,#ff1400 215px,#ff1400 216.5px,#00ebff 216.5px,#00ebff 219.6px,#0000a9 219.6px,#0000b7 245.5px,#0000cc 263.8px,#0000c6 294.3px,#0000ac 315.7px,#0000a9 327.9px,#0000a9 329.4px,#00ebff 329.4px,#00ebff 332.4px,#ff1500 332.4px,#ff7700 343.1px,#ffb400 352.3px,#ffd900 364.5px)"></i>
<i style="background:linear-gradient(90deg,#ffe200 0px,#ffe500 13.7px,#ffd200 22.9px,#ffa100 32px,#ff4800 41.2px,#ff2300 44.2px,#ff2300 45.8px,#0047ff 45.8px,#0047ff 48.8px,#0000a9 48.8px,#0000b5 68.6px,#0000ca 83.9px,#0000c5 105.2px,#0000ac 123.5px,#0000a9 132.7px,#0000a9 134.2px,#0047ff 134.2px,#0047ff 137.2px,#ff2200 137.2px,#ff8700 147.9px,#ffc600 157.1px,#ffe100 166.2px,#ffe400 178.4px,#ffcf00 190.6px,#ffaa00 199.8px,#ff6400 208.9px,#ff2400 215px,#ff2400 216.5px,#50ffaf 216.5px,#50ffaf 219.6px,#0000a9 219.6px,#0000b6 245.5px,#0000cb 263.8px,#0000c4 294.3px,#0000ab 315.7px,#0000a9 327.9px,#0000a9 329.4px,#4fffb0 329.4px,#4fffb0 332.4px,#ff2400 332.4px,#ff8000 343.1px,#ffba00 352.3px,#ffde00 364.5px)"></i>
<i style="background:linear-gradient(90deg,#ffe700 0px,#ffe800 16.8px,#ffd000 25.9px,#ff9900 35.1px,#ff4300 44.2px,#ff4300 45.8px,#0cfff3 45.8px,#0cfff3 48.8px,#0000a9 48.8px,#0000b6 71.7px,#0000c9 90px,#0000bb 108.3px,#0000aa 126.6px,#0000a9 132.7px,#0000a9 134.2px,#0cfff3 134.2px,#0cfff3 137.2px,#ff4300 137.2px,#ff9900 147.9px,#ffd000 157.1px,#ffe800 166.2px,#ffe700 181.5px,#ffcc00 193.7px,#ffa100 202.8px,#ff5600 212px,#ff3800 215px,#ff3800 216.5px,#ffeb00 216.5px,#ffeb00 219.6px,#0000a9 219.6px,#0000b3 245.5px,#0000ca 266.9px,#0000c5 291.3px,#0000ab 315.7px,#0000a9 327.9px,#0000a9 329.4px,#ffeb00 329.4px,#ffeb00 332.4px,#ff3800 332.4px,#ff8c00 343.1px,#ffc100 352.3px,#ffe300 364.5px)"></i>
<i style="background:linear-gradient(90deg,#ffee00 0px,#fff100 16.8px,#ffdc00 25.9px,#ffad00 35.1px,#ff6700 44.2px,#ff6700 45.8px,#ffb100 45.8px,#ffb100 48.8px,#0000a9 48.8px,#0000b6 74.7px,#0000c4 93px,#0000aa 126.6px,#0000a9 132.7px,#0000a9 134.2px,#ffb100 134.2px,#ffb100 137.2px,#ff6700 137.2px,#ffbf00 151px,#ffe500 160.1px,#fff300 172.3px,#ffe400 187.6px,#ffbd00 199.8px,#ff8300 208.9px,#ff3500 218.1px,#ff3500 219.6px,#0000db 219.6px,#0000a9 224.2px,#0000b9 251.6px,#0000c9 273px,#0000bd 294.3px,#0000aa 318.7px,#0000a9 324.8px,#0000db 327.9px,#0000db 329.4px,#ff3600 329.4px,#ff9a00 343.1px,#ffca00 352.3px,#ffea00 364.5px)"></i>
<i style="background:linear-gradient(90deg,#fff600 0px,#fffa00 16.8px,#ffdf00 29px,#ff7d00 47.3px,#ff7d00 48.8px,#0060ff 48.8px,#0060ff 51.8px,#0000a9 51.8px,#0000bc 96.1px,#0000a9 129.6px,#0000a9 131.2px,#0060ff 131.2px,#0060ff 134.2px,#ff7d00 134.2px,#ffdf00 154px,#fffa00 166.2px,#fff500 181.5px,#ffd400 196.7px,#ffa900 205.9px,#ff5400 218.1px,#ff5400 219.6px,#00ceff 219.6px,#00ceff 222.6px,#0000a9 222.6px,#0000b8 254.7px,#0000c6 276px,#0000aa 318.7px,#0000a9 324.8px,#0000a9 326.3px,#00ceff 326.3px,#00ceff 329.4px,#ff5400 329.4px,#ffba00 346.2px,#ffe600 358.4px,#fff200 364.5px)"></i>
<i style="background:linear-gradient(90deg,#fffe00 0px,#fcff03 19.8px,#fff000 29px,#ffac00 47.3px,#ffac00 48.8px,#aaff55 48.8px,#aaff55 51.8px,#0000a9 51.8px,#0000b3 99.1px,#0000a9 129.6px,#0000a9 131.2px,#aaff55 131.2px,#aaff55 134.2px,#ffac00 134.2px,#fff800 157.1px,#fbff04 175.4px,#fff500 187.6px,#ffd500 199.8px,#ff8500 215px,#ff7400 218.1px,#ff7400 219.6px,#d9ff26 219.6px,#d9ff26 222.6px,#0000a9 222.6px,#0000b7 257.7px,#0000be 282.1px,#0000a9 318.7px,#0000a9 324.8px,#0000a9 326.3px,#d9ff26 326.3px,#d9ff26 329.4px,#ff7400 329.4px,#ffc900 346.2px,#fff000 358.4px,#fffb00 364.5px)"></i>
<i style="background:linear-gradient(90deg,#f6ff09 0px,#efff10 19.8px,#fffb00 32px,#ffda00 47.3px,#ffdc00 50.3px,#ffdc00 51.8px,#00b8ff 51.8px,#00b8ff 54.9px,#0000a9 54.9px,#0000ad 105.2px,#0000a9 126.6px,#0000a9 128.1px,#00b8ff 128.1px,#00b8ff 131.2px,#ffdc00 131.2px,#ffe200 141.8px,#fcff03 154px,#eeff11 169.3px,#fffa00 190.6px,#ffcd00 205.9px,#ff8d00 221.1px,#ff8d00 222.6px,#005aff 222.6px,#005aff 225.7px,#0000a9 225.7px,#0000b8 282.1px,#0000a9 321.8px,#0000a9 323.3px,#005aff 323.3px,#005aff 326.3px,#ff8d00 326.3px,#ffed00 352.3px,#f9ff06 364.5px)"></i>
<i style="background:linear-gradient(90deg,#eaff15 0px,#e2ff1d 22.9px,#faff05 44.2px,#efff10 50.3px,#bbff44 53.4px,#bbff44 54.9px,#000dff 54.9px,#000dff 57.9px,#0000a9 57.9px,#0000a9 123.5px,#0000a9 125px,#000dff 125px,#000dff 128.1px,#bbff44 128.1px,#efff10 132.7px,#f9ff06 141.8px,#e1ff1e 163.2px,#f2ff0d 187.6px,#fffc00 196.7px,#ffb900 218.1px,#ffb500 221.1px,#ffb500 222.6px,#9eff61 222.6px,#9eff61 225.7px,#0000a9 225.7px,#0000b2 285.2px,#0000a9 321.8px,#0000a9 323.3px,#9eff61 323.3px,#9eff61 326.3px,#ffb500 326.3px,#ffd700 340.1px,#fffc00 352.3px,#edff12 364.5px)"></i>
<i style="background:linear-gradient(90deg,#daff25 0px,#cfff30 25.9px,#d1ff2e 44.2px,#bdff42 50.3px,#aaff55 53.4px,#70ff8f 56.4px,#70ff8f 57.9px,#0000fd 57.9px,#0000fd 61px,#0000a9 61px,#0000a9 120.5px,#0000a9 122px,#0000fd 122px,#0000fd 125px,#70ff8f 125px,#aaff55 129.6px,#caff35 135.7px,#d5ff2a 144.9px,#d1ff2e 169.3px,#efff10 196.7px,#fffa00 205.9px,#ffe100 218.1px,#ffe900 224.2px,#ffe900 225.7px,#00b0ff 225.7px,#00b0ff 228.8px,#0000a9 228.8px,#0000ac 294.3px,#0000a9 318.7px,#0000a9 320.2px,#00b0ff 320.2px,#00b0ff 323.3px,#ffe900 323.3px,#ffe100 330.9px,#fcff03 346.2px,#ddff22 364.5px)"></i>
<i style="background:linear-gradient(90deg,#c3ff3c 0px,#aaff55 41.2px,#8bff74 50.3px,#60ff9f 56.4px,#26ffd9 59.5px,#26ffd9 61px,#0000ed 61px,#0000a9 65.6px,#0000a9 117.4px,#0000ed 120.5px,#0000ed 122px,#26ffd9 122px,#60ff9f 126.6px,#9aff65 135.7px,#aeff51 144.9px,#c6ff39 184.5px,#eeff11 215px,#e6ff19 221.1px,#d9ff26 224.2px,#a3ff5c 227.2px,#a3ff5c 228.8px,#0008ff 228.8px,#0008ff 231.8px,#0000a9 231.8px,#0000a9 315.7px,#0000a9 317.2px,#0008ff 317.2px,#0008ff 320.2px,#a3ff5c 320.2px,#d9ff26 324.8px,#ecff13 330.9px,#e3ff1c 343.1px,#c6ff39 364.5px)"></i>
<i style="background:linear-gradient(90deg,#a4ff5b 0px,#7dff82 41.2px,#5bffa4 50.3px,#34ffcb 56.4px,#16ffe9 59.5px,#00dcff 62.5px,#00dcff 64px,#0024ff 64px,#0024ff 67.1px,#0000a9 67.1px,#0000a9 114.4px,#0000a9 115.9px,#0024ff 115.9px,#0024ff 118.9px,#00dcff 118.9px,#16ffe9 123.5px,#4affb5 129.6px,#75ff8a 138.8px,#8eff71 154px,#beff41 212px,#abff54 221.1px,#84ff7b 227.2px,#84ff7b 228.8px,#2fffd0 228.8px,#2fffd0 231.8px,#0000c2 231.8px,#0000a9 236.4px,#0000a9 312.6px,#0000c2 315.7px,#0000c2 317.2px,#2fffd0 317.2px,#2fffd0 320.2px,#84ff7b 320.2px,#abff54 327.9px,#beff41 337px,#a7ff58 364.5px)"></i>
<i style="background:linear-gradient(90deg,#83ff7c 0px,#59ffa6 38.1px,#32ffcd 50.3px,#0efff1 56.4px,#00f3ff 59.5px,#00adff 65.6px,#00adff 67.1px,#004cff 67.1px,#004cff 70.1px,#0000d3 70.1px,#0000a9 74.7px,#0000a9 108.3px,#0000d3 111.3px,#0000d3 112.8px,#004cff 112.8px,#004cff 115.9px,#00adff 115.9px,#00f3ff 123.5px,#0efff1 126.6px,#3fffc0 135.7px,#64ff9b 151px,#92ff6d 202.8px,#89ff76 215px,#5fffa0 224.2px,#2bffd4 230.3px,#00c6ff 233.3px,#00c6ff 234.8px,#0000bc 234.8px,#0000a9 239.4px,#0000a9 309.6px,#0000bc 312.6px,#0000bc 314.1px,#00c6ff 314.1px,#2bffd4 318.7px,#72ff8d 327.9px,#8fff70 337px,#8aff75 358.4px,#85ff7a 364.5px)"></i>
<i style="background:linear-gradient(90deg,#67ff98 0px,#3fffc0 35.1px,#13ffec 50.3px,#04fffb 53.4px,#00dbff 59.5px,#00a2ff 65.6px,#004fff 71.7px,#000fff 74.7px,#0000c7 77.8px,#0000af 80.8px,#0000a9 90px,#0000a9 99.1px,#0000af 102.2px,#0000c7 105.2px,#000fff 108.3px,#004fff 111.3px,#00a2ff 117.4px,#00f1ff 126.6px,#04fffb 129.6px,#30ffcf 141.8px,#56ffa9 163.2px,#71ff8e 199.8px,#67ff98 212px,#43ffbc 221.1px,#00faff 230.3px,#00ddff 233.3px,#009cff 236.4px,#009cff 237.9px,#0000d7 237.9px,#0000a9 242.5px,#0000a9 306.5px,#0000d7 309.6px,#0000d7 311.1px,#009cff 311.1px,#00ddff 315.7px,#00faff 318.7px,#43ffbc 327.9px,#67ff98 337px,#70ff8f 352.3px,#6aff95 364.5px)"></i>
<i style="background:linear-gradient(90deg,#53ffac 0px,#2effd1 32px,#00fdff 50.3px,#00ccff 59.5px,#007dff 68.6px,#0000f8 77.8px,#0000d4 80.8px,#0000bd 83.9px,#0000ae 90px,#0000b1 96.1px,#0000bd 99.1px,#0000d4 102.2px,#0000f8 105.2px,#007dff 114.4px,#00ccff 123.5px,#00fdff 132.7px,#34ffcb 154px,#58ffa7 187.6px,#56ffa9 205.9px,#3effc1 215px,#0afff5 224.2px,#00f1ff 227.2px,#00a2ff 236.4px,#0078ff 239.4px,#0078ff 240.9px,#0000fc 240.9px,#0000fc 244px,#0000a9 244px,#0000a9 303.5px,#0000a9 305px,#0000fc 305px,#0000fc 308px,#0078ff 308px,#00a2ff 312.6px,#00f1ff 321.8px,#0afff5 324.8px,#3effc1 334px,#55ffaa 343.1px,#55ffaa 364.5px)"></i>
<i style="background:linear-gradient(90deg,#45ffba 0px,#24ffdb 29px,#00f9ff 47.3px,#00c3ff 59.5px,#009aff 65.6px,#0059ff 71.7px,#0005ff 77.8px,#0000ce 83.9px,#0000c0 90px,#0000c4 96.1px,#0000ce 99.1px,#0005ff 105.2px,#007eff 114.4px,#00b1ff 120.5px,#00efff 132.7px,#04fffb 138.8px,#37ffc8 166.2px,#4affb5 196.7px,#3affc5 208.9px,#15ffea 218.1px,#03fffc 221.1px,#008dff 236.4px,#0059ff 242.5px,#001aff 245.5px,#0000c8 248.6px,#0000a9 251.6px,#0000a9 297.4px,#0000c8 300.4px,#001bff 303.5px,#0059ff 306.5px,#00ecff 324.8px,#03fffc 327.9px,#31ffce 337px,#48ffb7 349.2px,#47ffb8 364.5px)"></i>
<i style="background:linear-gradient(90deg,#39ffc6 0px,#12ffed 32px,#00ffff 41.2px,#00cdff 56.4px,#0099ff 65.6px,#005cff 71.7px,#000dff 77.8px,#0000ef 80.8px,#0000d3 86.9px,#0000d3 96.1px,#0000ef 102.2px,#000dff 105.2px,#007eff 114.4px,#00aeff 120.5px,#00efff 135.7px,#00ffff 141.8px,#32ffcd 172.3px,#3cffc3 196.7px,#27ffd8 208.9px,#00fdff 218.1px,#0023ff 248.6px,#0000f5 251.6px,#0000c8 254.7px,#0000ad 257.7px,#0000ad 291.3px,#0000c8 294.3px,#0000f5 297.4px,#0023ff 300.4px,#00fdff 330.9px,#2fffd0 343.1px,#3dffc2 358.4px,#3bffc4 364.5px)"></i>
<i style="background:linear-gradient(90deg,#30ffcf 0px,#0afff5 32px,#00f6ff 41.2px,#00bbff 59.5px,#0098ff 65.6px,#005cff 71.7px,#0014ff 77.8px,#0000f8 80.8px,#0000e0 86.9px,#0000e0 96.1px,#0000f8 102.2px,#0014ff 105.2px,#007eff 114.4px,#00acff 120.5px,#00e7ff 135.7px,#04fffb 147.9px,#2effd1 178.4px,#30ffcf 196.7px,#17ffe8 208.9px,#00fbff 215px,#0010ff 251.6px,#0000fe 254.7px,#0000ee 257.7px,#0000c0 263.8px,#0000b0 273px,#0000b7 282.1px,#0000c0 285.2px,#0000fe 294.3px,#0086ff 315.7px,#00fbff 334px,#27ffd8 346.2px,#32ffcd 361.4px,#31ffce 364.5px)"></i>
<i style="background:linear-gradient(90deg,#27ffd8 0px,#00fcff 35.1px,#00c4ff 56.4px,#0097ff 65.6px,#005bff 71.7px,#0018ff 77.8px,#0001ff 80.8px,#0000ea 86.9px,#0000ea 96.1px,#0001ff 102.2px,#0038ff 108.3px,#007cff 114.4px,#00aaff 120.5px,#00e0ff 135.7px,#02fffd 151px,#28ffd7 181.5px,#24ffdb 199.8px,#03fffc 212px,#00bfff 224.2px,#0026ff 248.6px,#0000fa 257.7px,#0000d7 269.9px,#0000d7 279.1px,#0000fa 291.3px,#0026ff 300.4px,#00f3ff 334px,#03fffc 337px,#24ffdb 349.2px,#29ffd6 364.5px)"></i>
<i style="background:linear-gradient(90deg,#20ffdf 0px,#00fbff 32px,#00c0ff 56.4px,#0094ff 65.6px,#001cff 77.8px,#0007ff 80.8px,#0000f1 90px,#0000f9 99.1px,#0007ff 102.2px,#0038ff 108.3px,#0094ff 117.4px,#00c0ff 126.6px,#00fbff 151px,#23ffdc 187.6px,#18ffe7 202.8px,#00fcff 212px,#00aaff 227.2px,#003aff 245.5px,#0005ff 257.7px,#0000e6 273px,#0000f3 285.2px,#0005ff 291.3px,#004aff 306.5px,#00dfff 330.9px,#00fcff 337px,#20ffdf 352.3px,#21ffde 364.5px)"></i>
<i style="background:linear-gradient(90deg,#1affe5 0px,#00faff 29px,#00beff 56.4px,#00a4ff 62.5px,#0076ff 68.6px,#001eff 77.8px,#0000ff 83.9px,#0000fa 96.1px,#0000ff 99.1px,#001eff 105.2px,#0090ff 117.4px,#00b3ff 123.5px,#00f0ff 147.9px,#04fffb 160.1px,#1cffe3 187.6px,#12ffed 202.8px,#03fffc 208.9px,#00ddff 218.1px,#003dff 245.5px,#0006ff 260.8px,#0000f5 273px,#0000ff 285.2px,#002fff 300.4px,#0095ff 318.7px,#00ebff 334px,#03fffc 340.1px,#19ffe6 352.3px,#1bffe4 364.5px)"></i>
<i style="background:linear-gradient(90deg,#14ffeb 0px,#00faff 25.9px,#00c3ff 53.4px,#009fff 62.5px,#001fff 77.8px,#0005ff 83.9px,#0001ff 96.1px,#000fff 102.2px,#0036ff 108.3px,#009fff 120.5px,#00c3ff 129.6px,#00feff 160.1px,#17ffe8 190.6px,#07fff8 205.9px,#00f4ff 212px,#00baff 224.2px,#0041ff 245.5px,#000fff 260.8px,#0002ff 276px,#0016ff 291.3px,#0050ff 306.5px,#00e8ff 334px,#00fdff 340.1px,#16ffe9 355.3px,#15ffea 364.5px)"></i>
<i style="background:linear-gradient(90deg,#0ffff0 0px,#00faff 22.9px,#00c0ff 53.4px,#0097ff 62.5px,#001fff 77.8px,#000aff 83.9px,#000aff 99.1px,#001fff 105.2px,#0066ff 114.4px,#00a9ff 123.5px,#00cfff 135.7px,#00feff 163.2px,#12ffed 190.6px,#00fbff 208.9px,#00cbff 221.1px,#0045ff 245.5px,#0017ff 260.8px,#000cff 276px,#001dff 291.3px,#0053ff 306.5px,#00e7ff 334px,#03fffc 343.1px,#12ffed 358.4px,#11ffee 364.5px)"></i>
<i style="background:linear-gradient(90deg,#0bfff4 0px,#00f7ff 22.9px,#00c5ff 50.3px,#00a2ff 59.5px,#0030ff 74.7px,#0014ff 80.8px,#000aff 93px,#0014ff 102.2px,#0030ff 108.3px,#00a2ff 123.5px,#00c5ff 132.7px,#00fbff 163.2px,#0dfff2 193.7px,#00ffff 205.9px,#00d9ff 218.1px,#0049ff 245.5px,#001eff 260.8px,#0015ff 279.1px,#002aff 294.3px,#0065ff 309.6px,#00d9ff 330.9px,#00ffff 343.1px,#0dfff2 361.4px,#0dfff2 364.5px)"></i>
<i style="background:linear-gradient(90deg,#08fff7 0px,#00f8ff 19.8px,#00c1ff 50.3px,#009aff 59.5px,#002eff 74.7px,#0011ff 83.9px,#0011ff 99.1px,#002eff 108.3px,#00aaff 126.6px,#00d0ff 138.8px,#00ffff 169.3px,#08fff7 196.7px,#00f7ff 208.9px,#00cbff 221.1px,#004cff 245.5px,#0024ff 260.8px,#001dff 279.1px,#0030ff 294.3px,#0059ff 306.5px,#00d9ff 330.9px,#00fdff 343.1px,#09fff6 364.5px)"></i>
<i style="background:linear-gradient(90deg,#05fffa 0px,#00f6ff 19.8px,#00c6ff 47.3px,#00a3ff 56.4px,#002cff 74.7px,#0014ff 83.9px,#0014ff 99.1px,#002cff 108.3px,#00a3ff 126.6px,#00ceff 138.8px,#00fcff 169.3px,#06fff9 196.7px,#00f6ff 208.9px,#00ccff 221.1px,#0050ff 245.5px,#002aff 260.8px,#0024ff 282.1px,#003cff 297.4px,#007bff 312.6px,#00d9ff 330.9px,#00fbff 343.1px,#07fff8 364.5px)"></i>
<i style="background:linear-gradient(90deg,#04fffb 0px,#00f0ff 22.9px,#00c3ff 47.3px,#009bff 56.4px,#0039ff 71.7px,#001aff 80.8px,#0016ff 99.1px,#002bff 108.3px,#005eff 117.4px,#00acff 129.6px,#00d2ff 141.8px,#00feff 172.3px,#02fffd 199.8px,#00eeff 212px,#00bfff 224.2px,#0054ff 245.5px,#002fff 260.8px,#002aff 282.1px,#0040ff 297.4px,#007eff 312.6px,#00daff 330.9px,#00faff 343.1px,#05fffa 364.5px)"></i>
<i style="background:linear-gradient(90deg,#03fffc 0px,#00ebff 25.9px,#00bfff 47.3px,#0094ff 56.4px,#0037ff 71.7px,#001cff 80.8px,#0018ff 99.1px,#002aff 108.3px,#0058ff 117.4px,#00b4ff 132.7px,#00ddff 147.9px,#00ffff 175.4px,#00faff 205.9px,#00dbff 218.1px,#0058ff 245.5px,#0033ff 260.8px,#002eff 282.1px,#0044ff 297.4px,#0081ff 312.6px,#00dbff 330.9px,#00faff 343.1px,#04fffb 364.5px)"></i>
<i style="background:linear-gradient(90deg,#02fffd 0px,#00ebff 25.9px,#00c6ff 44.2px,#008cff 56.4px,#0035ff 71.7px,#001dff 80.8px,#001aff 99.1px,#002aff 108.3px,#0053ff 117.4px,#00aeff 132.7px,#00d6ff 144.9px,#00fcff 172.3px,#00faff 205.9px,#00ddff 218.1px,#005bff 245.5px,#003bff 257.7px,#0032ff 279.1px,#0041ff 294.3px,#0068ff 306.5px,#00ddff 330.9px,#00fdff 346.2px,#03fffc 364.5px)"></i>
</div>
<div class="k" style="left:-0.5px;top:251px;width:1px;height:4px"></div>
<div class="k" style="left:0;top:-0.5px;width:4px;height:1px"></div>
<div class="k" style="left:60.5px;top:251px;width:1px;height:4px"></div>
<div class="k" style="left:0;top:42.0px;width:4px;height:1px"></div>
<div class="k" style="left:121.5px;top:251px;width:1px;height:4px"></div>
<div class="k" style="left:0;top:84.5px;width:4px;height:1px"></div>
<div class="k" style="left:182.5px;top:251px;width:1px;height:4px"></div>
<div class="k" style="left:0;top:127.0px;width:4px;height:1px"></div>
<div class="k" style="left:243.5px;top:251px;width:1px;height:4px"></div>
<div class="k" style="left:0;top:169.5px;width:4px;height:1px"></div>
<div class="k" style="left:304.5px;top:251px;width:1px;height:4px"></div>
<div class="k" style="left:0;top:212.0px;width:4px;height:1px"></div>
<div class="k" style="left:365.0px;top:251px;width:1px;height:4px"></div>
<div class="k" style="left:0;top:254.0px;width:4px;height:1px"></div>
</div>
<div class="t xt" style="left:74.4px;top:302px">-0.6</div>
<div class="t yt" style="left:28px;top:32.9px">0.6</div>
<div class="t xt" style="left:135.1px;top:302px">-0.4</div>
<div class="t yt" style="left:28px;top:75.2px">0.4</div>
<div class="t xt" style="left:195.7px;top:302px">-0.2</div>
<div class="t yt" style="left:28px;top:117.4px">0.2</div>
<div class="t xt" style="left:256.4px;top:302px">0</div>
<div class="t yt" style="left:28px;top:159.7px">0.0</div>
<div class="t xt" style="left:317.1px;top:302px">0.2</div>
<div class="t yt" style="left:28px;top:201.9px">-0.2</div>
<div class="t xt" style="left:377.8px;top:302px">0.4</div>
<div class="t yt" style="left:28px;top:244.2px">-0.4</div>
<div class="t xt" style="left:438.4px;top:302px">0.6</div>
<div class="t yt" style="left:28px;top:286.4px">-0.6</div>
<div class="xl" style="left:261.5px;top:316px">x (microns)</div>
<div class="yl" style="left:-69.5px;top:165.5px">z (microns)</div>
<div class="ti" style="left:262.3px;top:6.8px">λ<sub>1</sub> = 886 <b>nm</b></div>
<div class="lb" style="left:5.7px;top:21.0px">(a)</div>
<div class="p" style="left:516px;top:41px"><div class="g">
<i style="background:linear-gradient(90deg,#3dffc2 0px,#2fffd0 19.8px,#06fff9 35.1px,#00ebff 41.2px,#0049ff 71.7px,#0026ff 83.9px,#0022ff 96.1px,#003dff 108.3px,#0088ff 123.5px,#00f9ff 144.9px,#2fffd0 163.2px,#3dffc2 181.5px,#2affd5 199.8px,#00fcff 215px,#005bff 251.6px,#0039ff 266.9px,#0039ff 282.1px,#005bff 297.4px,#00fcff 334px,#2fffd0 352.3px,#3cffc3 364.5px)"></i>
<i style="background:linear-gradient(90deg,#40ffbf 0px,#31ffce 19.8px,#05fffa 35.1px,#00daff 44.2px,#0041ff 71.7px,#001cff 83.9px,#0018ff 96.1px,#0035ff 108.3px,#0081ff 123.5px,#00f8ff 144.9px,#1bffe4 154px,#3affc5 169.3px,#3effc1 187.6px,#21ffde 205.9px,#04fffb 215px,#00c0ff 230.3px,#005eff 251.6px,#003aff 266.9px,#003aff 282.1px,#005eff 297.4px,#00f7ff 330.9px,#0ffff0 337px,#38ffc7 355.3px,#3fffc0 364.5px)"></i>
<i style="background:linear-gradient(90deg,#43ffbc 0px,#33ffcc 19.8px,#05fffa 35.1px,#00d7ff 44.2px,#0047ff 68.6px,#0019ff 80.8px,#000cff 93px,#0021ff 105.2px,#0057ff 117.4px,#00f7ff 144.9px,#11ffee 151px,#38ffc7 166.2px,#42ffbd 187.6px,#27ffd8 205.9px,#00ffff 218.1px,#0062ff 251.6px,#003aff 266.9px,#003aff 282.1px,#0062ff 297.4px,#00feff 330.9px,#34ffcb 349.2px,#43ffbc 364.5px)"></i>
<i style="background:linear-gradient(90deg,#47ffb8 0px,#36ffc9 19.8px,#06fff9 35.1px,#00e7ff 41.2px,#003eff 68.6px,#000eff 80.8px,#0001ff 93px,#0017ff 105.2px,#004fff 117.4px,#00f7ff 144.9px,#13ffec 151px,#3bffc4 166.2px,#46ffb9 187.6px,#2dffd2 205.9px,#00faff 221.1px,#0059ff 254.7px,#003bff 266.9px,#003bff 282.1px,#0059ff 294.3px,#00cfff 318.7px,#00faff 327.9px,#39ffc6 349.2px,#47ffb8 364.5px)"></i>
<i style="background:linear-gradient(90deg,#4bffb4 0px,#39ffc6 19.8px,#07fff8 35.1px,#00e7ff 41.2px,#0035ff 68.6px,#0002ff 80.8px,#0000f3 93px,#0002ff 102.2px,#0035ff 114.4px,#00f7ff 144.9px,#15ffea 151px,#3fffc0 166.2px,#4bffb4 184.5px,#3affc5 202.8px,#0ffff0 218.1px,#03fffc 221.1px,#00b7ff 236.4px,#005bff 254.7px,#003aff 266.9px,#003aff 282.1px,#005bff 294.3px,#03fffc 327.9px,#33ffcc 343.1px,#4affb5 361.4px,#4bffb4 364.5px)"></i>
<i style="background:linear-gradient(90deg,#50ffaf 0px,#3dffc2 19.8px,#18ffe7 32px,#00f9ff 38.1px,#007eff 56.4px,#001aff 71.7px,#0000fe 77.8px,#0000e7 86.9px,#0000e7 96.1px,#0000fe 105.2px,#003eff 117.4px,#00e8ff 141.8px,#00f9ff 144.9px,#3dffc2 163.2px,#50ffaf 181.5px,#40ffbf 202.8px,#17ffe8 218.1px,#00feff 224.2px,#005eff 254.7px,#003aff 266.9px,#0036ff 279.1px,#0052ff 291.3px,#00adff 309.6px,#00fdff 324.8px,#3affc5 343.1px,#4fffb0 361.4px,#50ffaf 364.5px)"></i>
<i style="background:linear-gradient(90deg,#56ffa9 0px,#47ffb8 19.8px,#25ffda 32px,#08fff7 38.1px,#00e1ff 44.2px,#0013ff 71.7px,#0002ff 74.7px,#0000d1 83.9px,#0000c8 93px,#0000d1 99.1px,#0002ff 108.3px,#0053ff 120.5px,#00f5ff 141.8px,#08fff7 144.9px,#3affc5 157.1px,#55ffaa 175.4px,#4fffb0 196.7px,#2affd5 215px,#00f9ff 227.2px,#0060ff 254.7px,#0039ff 266.9px,#0034ff 279.1px,#0053ff 291.3px,#00b5ff 309.6px,#00f8ff 321.8px,#29ffd6 334px,#4effb1 352.3px,#56ffa9 364.5px)"></i>
<i style="background:linear-gradient(90deg,#5effa1 0px,#57ffa8 19.8px,#3cffc3 32px,#00fbff 44.2px,#0079ff 59.5px,#0041ff 65.6px,#0005ff 68.6px,#0000c1 74.7px,#0000b8 80.8px,#0000b8 105.2px,#0000c1 108.3px,#0005ff 114.4px,#0041ff 117.4px,#00e5ff 135.7px,#00fbff 138.8px,#3cffc3 151px,#5bffa4 166.2px,#5affa5 190.6px,#3affc5 212px,#03fffc 227.2px,#00beff 239.4px,#0054ff 257.7px,#0037ff 266.9px,#0032ff 279.1px,#0048ff 288.2px,#0084ff 300.4px,#00f3ff 318.7px,#03fffc 321.8px,#3affc5 337px,#5affa5 358.4px,#5dffa2 364.5px)"></i>
<i style="background:linear-gradient(90deg,#66ff99 0px,#64ff9b 22.9px,#4affb5 35.1px,#1affe5 44.2px,#03fffc 47.3px,#00abff 56.4px,#007dff 59.5px,#007dff 61px,#0011ff 61px,#0000ca 65.6px,#0000b8 68.6px,#0000b8 114.4px,#0000ca 117.4px,#0011ff 120.5px,#0011ff 122px,#007dff 122px,#00abff 126.6px,#03fffc 135.7px,#3dffc2 144.9px,#5bffa4 154px,#6aff95 172.3px,#53ffac 202.8px,#31ffce 218.1px,#00fdff 230.3px,#0054ff 257.7px,#0034ff 266.9px,#002fff 279.1px,#0047ff 288.2px,#008aff 300.4px,#00fdff 318.7px,#3affc5 334px,#5dffa2 355.3px,#64ff9b 364.5px)"></i>
<i style="background:linear-gradient(90deg,#6fff90 0px,#73ff8c 25.9px,#5affa5 38.1px,#23ffdc 47.3px,#08fff7 50.3px,#00d4ff 53.4px,#00d4ff 54.9px,#003dff 54.9px,#0000c7 59.5px,#0000b8 62.5px,#0000b8 120.5px,#0000c7 123.5px,#003dff 126.6px,#003dff 128.1px,#00d4ff 128.1px,#08fff7 132.7px,#4cffb3 141.8px,#6bff94 151px,#76ff89 169.3px,#55ffaa 205.9px,#30ffcf 221.1px,#09fff6 230.3px,#00f7ff 233.3px,#0055ff 257.7px,#0030ff 266.9px,#0027ff 276px,#0039ff 285.2px,#0066ff 294.3px,#00f7ff 315.7px,#17ffe8 321.8px,#49ffb6 337px,#6cff93 364.5px)"></i>
<i style="background:linear-gradient(90deg,#78ff87 0px,#86ff79 25.9px,#72ff8d 38.1px,#54ffab 44.2px,#3dffc2 47.3px,#00c6ff 50.3px,#00c6ff 51.8px,#0000e1 51.8px,#0000b8 56.4px,#0000b8 126.6px,#0000e1 129.6px,#0000e1 131.2px,#00c6ff 131.2px,#3dffc2 135.7px,#65ff9a 141.8px,#80ff7f 151px,#84ff7b 166.2px,#57ffa8 208.9px,#2effd1 224.2px,#03fffc 233.3px,#00adff 245.5px,#0054ff 257.7px,#002bff 266.9px,#0021ff 276px,#0035ff 285.2px,#0068ff 294.3px,#00efff 312.6px,#03fffc 315.7px,#39ffc6 327.9px,#60ff9f 346.2px,#74ff8b 364.5px)"></i>
<i style="background:linear-gradient(90deg,#82ff7d 0px,#99ff66 25.9px,#88ff77 38.1px,#69ff96 44.2px,#69ff96 45.8px,#0083ff 45.8px,#0083ff 48.8px,#0000b8 48.8px,#0000b8 132.7px,#0000b8 134.2px,#0083ff 134.2px,#0083ff 137.2px,#69ff96 137.2px,#88ff77 144.9px,#99ff66 157.1px,#5fffa0 208.9px,#39ffc6 224.2px,#00fbff 236.4px,#0053ff 257.7px,#0024ff 266.9px,#0019ff 276px,#0030ff 285.2px,#0069ff 294.3px,#00fbff 312.6px,#43ffbc 327.9px,#6bff94 349.2px,#7eff81 364.5px)"></i>
<i style="background:linear-gradient(90deg,#8cff73 0px,#b0ff4f 29px,#a2ff5d 38.1px,#95ff6a 41.2px,#95ff6a 42.7px,#0064ff 42.7px,#0064ff 45.8px,#0000b8 45.8px,#0000bd 108.3px,#0000b8 135.7px,#0000b8 137.2px,#0064ff 137.2px,#0064ff 140.3px,#95ff6a 140.3px,#afff50 151px,#a5ff5a 166.2px,#55ffaa 218.1px,#2affd5 230.3px,#08fff7 236.4px,#00f2ff 239.4px,#003bff 260.8px,#0013ff 269.9px,#0013ff 279.1px,#003bff 288.2px,#00a2ff 300.4px,#00f2ff 309.6px,#08fff7 312.6px,#43ffbc 324.8px,#6bff94 343.1px,#87ff78 364.5px)"></i>
<i style="background:linear-gradient(90deg,#98ff67 0px,#cbff34 29px,#bfff40 38.1px,#bfff40 39.6px,#0074ff 39.6px,#0074ff 42.7px,#0000b8 42.7px,#0000c3 102.2px,#0000b8 138.8px,#0000b8 140.3px,#0074ff 140.3px,#0074ff 143.3px,#bfff40 143.3px,#cbff34 154px,#57ffa8 221.1px,#28ffd7 233.3px,#00ffff 239.4px,#008bff 251.6px,#0035ff 260.8px,#0011ff 266.9px,#0001ff 273px,#0006ff 279.1px,#0020ff 285.2px,#006cff 294.3px,#00e5ff 306.5px,#00ffff 309.6px,#37ffc8 318.7px,#5effa1 330.9px,#92ff6d 364.5px)"></i>
<i style="background:linear-gradient(90deg,#a4ff5b 0px,#e8ff17 29px,#e8ff17 35.1px,#e8ff17 36.6px,#0085ff 36.6px,#0085ff 39.6px,#0000b8 39.6px,#0000c8 77.8px,#0000cc 99.1px,#0000b8 138.8px,#0000b8 141.8px,#0000b8 143.3px,#0085ff 143.3px,#0085ff 146.4px,#e8ff17 146.4px,#e3ff1c 157.1px,#93ff6c 190.6px,#5affa5 224.2px,#36ffc9 233.3px,#0efff1 239.4px,#00f3ff 242.5px,#002dff 260.8px,#0003ff 266.9px,#0000f0 276px,#0003ff 282.1px,#002dff 288.2px,#00f3ff 306.5px,#0efff1 309.6px,#44ffbb 318.7px,#6dff92 334px,#9eff61 364.5px)"></i>
<i style="background:linear-gradient(90deg,#b2ff4d 0px,#fffe00 25.9px,#fff200 32px,#fff200 33.5px,#00e0ff 33.5px,#00e0ff 36.6px,#0000b8 36.6px,#0000c6 68.6px,#0000de 90px,#0000ca 111.3px,#0000b9 138.8px,#0000b8 144.9px,#0000b8 146.4px,#00e0ff 146.4px,#00e0ff 149.4px,#fff200 149.4px,#fffe00 157.1px,#abff54 184.5px,#5effa1 227.2px,#34ffcb 236.4px,#04fffb 242.5px,#00bfff 248.6px,#0024ff 260.8px,#0007ff 263.8px,#0000e3 269.9px,#0000dc 276px,#0000f1 282.1px,#0007ff 285.2px,#0047ff 291.3px,#00e3ff 303.5px,#04fffb 306.5px,#46ffb9 315.7px,#6dff92 327.9px,#aaff55 364.5px)"></i>
<i style="background:linear-gradient(90deg,#c0ff3f 0px,#f8ff07 16.8px,#ffdf00 25.9px,#ffd500 29px,#ffd500 30.5px,#90ff6f 30.5px,#90ff6f 33.5px,#0000b8 33.5px,#0000c4 62.5px,#0000f0 86.9px,#0000ed 99.1px,#0000c0 123.5px,#0000b8 147.9px,#0000b8 149.4px,#90ff6f 149.4px,#90ff6f 152.5px,#ffd500 152.5px,#f8ff07 166.2px,#b8ff47 184.5px,#87ff78 212px,#64ff9b 230.3px,#32ffcd 239.4px,#17ffe8 242.5px,#00f5ff 245.5px,#0018ff 260.8px,#0000f5 263.8px,#0000cb 269.9px,#0000c4 276px,#0000dc 282.1px,#0000f5 285.2px,#0018ff 288.2px,#00f5ff 303.5px,#17ffe8 306.5px,#47ffb8 312.6px,#6dff92 321.8px,#b7ff48 364.5px)"></i>
<i style="background:linear-gradient(90deg,#cfff30 0px,#fffc00 13.7px,#ffbe00 25.9px,#ffdb00 29px,#ffdb00 30.5px,#000bff 30.5px,#000bff 33.5px,#0000b8 33.5px,#0000c5 59.5px,#0000fd 80.8px,#0008ff 96.1px,#0000f6 105.2px,#0000c5 123.5px,#0000b8 147.9px,#0000b8 149.4px,#000bff 149.4px,#000bff 152.5px,#ffdb00 152.5px,#ffbd00 157.1px,#fffc00 169.3px,#bdff42 187.6px,#93ff6c 212px,#75ff8a 230.3px,#5bffa4 236.4px,#29ffd6 242.5px,#06fff9 245.5px,#00d9ff 248.6px,#0000ff 260.8px,#0000d1 263.8px,#0000be 266.9px,#0000b8 279.1px,#0000be 282.1px,#0000d1 285.2px,#0000ff 288.2px,#00d9ff 300.4px,#06fff9 303.5px,#45ffba 309.6px,#6aff95 315.7px,#87ff78 327.9px,#b5ff4a 358.4px,#c5ff3a 364.5px)"></i>
<i style="background:linear-gradient(90deg,#dfff20 0px,#f9ff06 7.6px,#ffe500 13.7px,#ff9b00 25.9px,#ff9b00 27.4px,#13ffec 27.4px,#13ffec 30.5px,#0000b8 30.5px,#0000c5 56.4px,#0000ea 68.6px,#0003ff 74.7px,#001bff 86.9px,#0013ff 102.2px,#0003ff 108.3px,#0000c5 126.6px,#0000b8 151px,#0000b8 152.5px,#13ffec 152.5px,#13ffec 155.5px,#ff9b00 155.5px,#fff500 172.3px,#ecff13 178.4px,#bcff43 193.7px,#89ff76 230.3px,#71ff8e 236.4px,#3effc1 242.5px,#17ffe8 245.5px,#00e5ff 248.6px,#00abff 251.6px,#00abff 253.1px,#0057ff 253.1px,#0057ff 256.2px,#0000e6 256.2px,#0000b8 260.8px,#0000b8 288.2px,#0000e6 291.3px,#0000e6 292.8px,#0057ff 292.8px,#0057ff 295.8px,#00abff 295.8px,#00e5ff 300.4px,#17ffe8 303.5px,#5cffa3 309.6px,#7fff80 315.7px,#97ff68 327.9px,#bbff44 355.3px,#d4ff2b 364.5px)"></i>
<i style="background:linear-gradient(90deg,#efff10 0px,#fdff02 4.6px,#ffb800 16.8px,#ff8c00 22.9px,#ffa500 25.9px,#ffa500 27.4px,#0000e5 27.4px,#0000b8 32px,#0000c4 53.4px,#0000e0 62.5px,#0000fc 68.6px,#0022ff 80.8px,#0026ff 99.1px,#000aff 111.3px,#0000fc 114.4px,#0000cb 126.6px,#0000ba 141.8px,#0000b8 151px,#0000e5 154px,#0000e5 155.5px,#ffa500 155.5px,#ff8c00 160.1px,#fff100 175.4px,#fdff02 178.4px,#c8ff37 193.7px,#abff54 215px,#98ff67 233.3px,#79ff86 239.4px,#5bffa4 242.5px,#00f9ff 248.6px,#00f9ff 250.1px,#0039ff 250.1px,#0039ff 253.1px,#0000b8 253.1px,#0000b8 294.3px,#0000b8 295.8px,#0039ff 295.8px,#0039ff 298.9px,#00f9ff 298.9px,#5bffa4 306.5px,#79ff86 309.6px,#98ff67 315.7px,#abff54 334px,#c8ff37 355.3px,#e3ff1c 364.5px)"></i>
<i style="background:linear-gradient(90deg,#ffff00 0px,#ffb500 13.7px,#ff6b00 22.9px,#ff6b00 24.4px,#2effd1 24.4px,#2effd1 27.4px,#0000b8 27.4px,#0000c3 50.3px,#0000df 59.5px,#0000ff 65.6px,#0023ff 74.7px,#002fff 93px,#0023ff 108.3px,#0000ff 117.4px,#0000c9 129.6px,#0000b9 144.9px,#0000b8 154px,#0000b8 155.5px,#2effd1 155.5px,#2effd1 158.6px,#ff6b00 158.6px,#ffde00 175.4px,#fffe00 181.5px,#ceff31 196.7px,#baff45 215px,#b5ff4a 233.3px,#9cff63 239.4px,#80ff7f 242.5px,#55ffaa 245.5px,#55ffaa 247px,#003eff 247px,#003eff 250.1px,#0000b8 250.1px,#0000b8 297.4px,#0000b8 298.9px,#003eff 298.9px,#003eff 301.9px,#55ffaa 301.9px,#80ff7f 306.5px,#9cff63 309.6px,#b5ff4a 315.7px,#c3ff3c 346.2px,#e6ff19 361.4px,#f2ff0d 364.5px)"></i>
<i style="background:linear-gradient(90deg,#fff000 0px,#ff9e00 13.7px,#ff4c00 22.9px,#ff4c00 24.4px,#0019ff 24.4px,#0019ff 27.4px,#0000b8 27.4px,#0000c1 47.3px,#0000db 56.4px,#0000fe 62.5px,#0025ff 71.7px,#0032ff 90px,#002bff 108.3px,#000fff 117.4px,#0000fe 120.5px,#0000cf 129.6px,#0000bb 141.8px,#0000b8 154px,#0000b8 155.5px,#0019ff 155.5px,#0019ff 158.6px,#ff4b00 158.6px,#ffb600 172.3px,#fffe00 184.5px,#d3ff2c 199.8px,#c9ff36 215px,#d6ff29 233.3px,#c7ff38 239.4px,#afff50 242.5px,#afff50 244px,#0065ff 244px,#0065ff 247px,#0000b8 247px,#0000b8 300.4px,#0000b8 301.9px,#0065ff 301.9px,#0065ff 305px,#afff50 305px,#c7ff38 309.6px,#d6ff29 315.7px,#c9ff36 340.1px,#e0ff1f 355.3px,#fffe00 364.5px)"></i>
<i style="background:linear-gradient(90deg,#ffe200 0px,#ffa300 10.7px,#ff4d00 19.8px,#ff4d00 21.3px,#d5ff2a 21.3px,#d5ff2a 24.4px,#0000b8 24.4px,#0000c3 47.3px,#0000e6 56.4px,#0000f9 59.5px,#0026ff 68.6px,#0032ff 83.9px,#002cff 111.3px,#000dff 120.5px,#0000f9 123.5px,#0000cb 132.7px,#0000ba 144.9px,#0000b8 157.1px,#0000b8 158.6px,#d6ff29 158.6px,#d6ff29 161.6px,#ff4c00 161.6px,#ffba00 175.4px,#fff100 184.5px,#fffe00 187.6px,#daff25 202.8px,#daff25 218.1px,#fcff03 236.4px,#f8ff07 239.4px,#f8ff07 240.9px,#00cfff 240.9px,#00cfff 244px,#0000b8 244px,#0000bc 285.2px,#0000b8 303.5px,#0000b8 305px,#00cfff 305px,#00cfff 308px,#f8ff07 308px,#f8ff07 315.7px,#d6ff29 334px,#ddff22 349.2px,#ffff00 361.4px,#fff200 364.5px)"></i>
<i style="background:linear-gradient(90deg,#ffd500 0px,#ff9100 10.7px,#ff3400 19.8px,#ff3400 21.3px,#1bffe4 21.3px,#1bffe4 24.4px,#0000b8 24.4px,#0000c0 44.2px,#0000de 53.4px,#0006ff 59.5px,#0024ff 65.6px,#0032ff 77.8px,#002cff 114.4px,#0018ff 120.5px,#0006ff 123.5px,#0000c6 135.7px,#0000b8 154px,#0000b8 157.1px,#0000b8 158.6px,#1bffe4 158.6px,#1bffe4 161.6px,#ff3300 161.6px,#ff9100 172.3px,#ffd500 181.5px,#ffff00 190.6px,#e3ff1c 202.8px,#e4ff1b 215px,#fffa00 227.2px,#ffd600 236.4px,#ddff22 239.4px,#ddff22 240.9px,#0000b8 240.9px,#0000c6 266.9px,#0000c9 279.1px,#0000b8 303.5px,#0000b8 306.5px,#0000b8 308px,#ddff22 308px,#ffd600 312.6px,#fffb00 321.8px,#e1ff1e 337px,#e7ff18 349.2px,#feff01 358.4px,#ffe600 364.5px)"></i>
<i style="background:linear-gradient(90deg,#ffca00 0px,#ff8200 10.7px,#ff1d00 19.8px,#ff1d00 21.3px,#0020ff 21.3px,#0020ff 24.4px,#0000b8 24.4px,#0000c2 44.2px,#0000e6 53.4px,#0000fb 56.4px,#002aff 65.6px,#0033ff 86.9px,#002fff 114.4px,#0020ff 120.5px,#0000fb 126.6px,#0000c9 135.7px,#0000ba 147.9px,#0000b8 157.1px,#0000b8 158.6px,#0020ff 158.6px,#0020ff 161.6px,#ff1d00 161.6px,#ff8100 172.3px,#ffca00 181.5px,#fff700 190.6px,#f5ff0a 196.7px,#eaff15 208.9px,#fffe00 221.1px,#ffd000 230.3px,#ffa900 236.4px,#ffa900 237.9px,#00b6ff 237.9px,#00b6ff 240.9px,#0000b8 240.9px,#0000c0 257.7px,#0000df 273px,#0000d6 282.1px,#0000bc 294.3px,#0000b8 306.5px,#0000b8 308px,#00b6ff 308px,#00b6ff 311.1px,#ffa900 311.1px,#fff200 324.8px,#fffe00 327.9px,#e9ff16 340.1px,#f5ff0a 352.3px,#fff700 358.4px,#ffdc00 364.5px)"></i>
<i style="background:linear-gradient(90deg,#ffc100 0px,#ff7400 10.7px,#ff3000 16.8px,#ff3f00 19.8px,#ff3f00 21.3px,#0000b8 21.3px,#0000c4 44.2px,#0000db 50.3px,#0005ff 56.4px,#0026ff 62.5px,#0033ff 74.7px,#002dff 117.4px,#0018ff 123.5px,#0005ff 126.6px,#0000cd 135.7px,#0000ba 147.9px,#0000b8 160.1px,#0000b8 161.6px,#ff3f00 161.6px,#ff2f00 166.2px,#ff9100 175.4px,#ffd300 184.5px,#fffa00 193.7px,#f2ff0d 208.9px,#fffb00 218.1px,#ffcc00 227.2px,#ff9900 233.3px,#ffd900 236.4px,#ffd900 237.9px,#0000b8 237.9px,#0000c0 254.7px,#0000ef 269.9px,#0000ef 279.1px,#0000bc 297.4px,#0000b8 309.6px,#0000b8 311.1px,#ffd900 311.1px,#ff9a00 315.7px,#ffe000 324.8px,#fffb00 330.9px,#f1ff0e 343.1px,#fffa00 355.3px,#ffd300 364.5px)"></i>
<i style="background:linear-gradient(90deg,#ffb900 0px,#ff6900 10.7px,#ff2100 16.8px,#ff2100 18.3px,#ffd100 18.3px,#ffd100 21.3px,#0000b8 21.3px,#0000c0 41.2px,#0000d0 47.3px,#0000f4 53.4px,#000cff 56.4px,#0029ff 62.5px,#0033ff 77.8px,#002fff 117.4px,#001eff 123.5px,#000cff 126.6px,#0000f4 129.6px,#0000d0 135.7px,#0000bc 144.9px,#0000b8 160.1px,#0000b8 161.6px,#ffd000 161.6px,#ffd000 164.7px,#ff2100 164.7px,#ff8700 175.4px,#ffcc00 184.5px,#fff400 193.7px,#f9ff06 202.8px,#fffa00 215px,#ffcf00 224.2px,#ff9b00 230.3px,#ff7a00 233.3px,#ff7a00 234.8px,#5bffa4 234.8px,#5bffa4 237.9px,#0000b8 237.9px,#0000bf 251.6px,#0000f5 266.9px,#0000f5 282.1px,#0000e3 288.2px,#0000bf 297.4px,#0000b8 309.6px,#0000b8 311.1px,#5bffa4 311.1px,#5bffa4 314.1px,#ff7a00 314.1px,#ffb800 321.8px,#fff000 330.9px,#fdff02 337px,#fcff03 349.2px,#ffea00 358.4px,#ffcc00 364.5px)"></i>
<i style="background:linear-gradient(90deg,#ffb300 0px,#ff6100 10.7px,#ff1600 16.8px,#ff1600 18.3px,#cbff34 18.3px,#cbff34 21.3px,#0000b8 21.3px,#0000c1 41.2px,#0000d2 47.3px,#0000f9 53.4px,#002cff 62.5px,#0033ff 90px,#0030ff 117.4px,#0022ff 123.5px,#0000f9 129.6px,#0000d2 135.7px,#0000bd 144.9px,#0000b8 160.1px,#0000b8 161.6px,#cbff34 161.6px,#cbff34 164.7px,#ff1600 164.7px,#ff8000 175.4px,#ffc600 184.5px,#ffef00 193.7px,#feff01 202.8px,#fffb00 212px,#ffd700 221.1px,#ffa800 227.2px,#ff6000 233.3px,#ff6000 234.8px,#00a9ff 234.8px,#00a9ff 237.9px,#0000b8 237.9px,#0000c2 251.6px,#0000f6 263.8px,#0000f6 285.2px,#0000df 291.3px,#0000c2 297.4px,#0000b8 309.6px,#0000b8 311.1px,#00a9ff 311.1px,#00a9ff 314.1px,#ff6000 314.1px,#ffa800 321.8px,#ffd800 327.9px,#fffb00 337px,#fffe00 349.2px,#ffe500 358.4px,#ffc700 364.5px)"></i>
<i style="background:linear-gradient(90deg,#ffaf00 0px,#ff5b00 10.7px,#ff0f00 16.8px,#ff0f00 18.3px,#64ff9b 18.3px,#64ff9b 21.3px,#0000b8 21.3px,#0000c1 41.2px,#0000d4 47.3px,#0000fd 53.4px,#0024ff 59.5px,#0032ff 68.6px,#0031ff 117.4px,#0024ff 123.5px,#0000fd 129.6px,#0000d4 135.7px,#0000bd 144.9px,#0000b8 160.1px,#0000b8 161.6px,#64ff9b 161.6px,#64ff9b 164.7px,#ff0e00 164.7px,#ff7a00 175.4px,#ffc300 184.5px,#ffec00 193.7px,#fffd00 202.8px,#fff600 212px,#ffd000 221.1px,#ff9c00 227.2px,#ff4d00 233.3px,#ff4d00 234.8px,#007dff 234.8px,#007dff 237.9px,#0000b8 237.9px,#0000c5 251.6px,#0000f4 260.8px,#0000f9 285.2px,#0000e7 291.3px,#0000c5 297.4px,#0000b8 309.6px,#0000b8 311.1px,#007dff 311.1px,#007dff 314.1px,#ff4d00 314.1px,#ff9d00 321.8px,#ffd000 327.9px,#fff700 337px,#fffe00 346.2px,#ffed00 355.3px,#ffc300 364.5px)"></i>
<i style="background:linear-gradient(90deg,#ffad00 0px,#ff5800 10.7px,#ff0b00 16.8px,#ff0b00 18.3px,#66ff99 18.3px,#66ff99 21.3px,#0000b8 21.3px,#0000c1 41.2px,#0000d5 47.3px,#0000ff 53.4px,#0025ff 59.5px,#0032ff 68.6px,#002dff 120.5px,#0015ff 126.6px,#0000ff 129.6px,#0000d5 135.7px,#0000bd 144.9px,#0000b8 160.1px,#0000b8 161.6px,#66ff99 161.6px,#66ff99 164.7px,#ff0b00 164.7px,#ff7800 175.4px,#ffc100 184.5px,#ffeb00 193.7px,#fffc00 202.8px,#fff400 212px,#ffcc00 221.1px,#ff9700 227.2px,#ff4400 233.3px,#ff4400 234.8px,#0000e9 234.8px,#0000b8 239.4px,#0000be 248.6px,#0000d7 254.7px,#0000f6 260.8px,#0000f6 288.2px,#0000c7 297.4px,#0000b9 306.5px,#0000b8 309.6px,#0000e9 312.6px,#0000e9 314.1px,#ff4400 314.1px,#ff9700 321.8px,#ffcd00 327.9px,#fff500 337px,#fffc00 346.2px,#ffeb00 355.3px,#ffc100 364.5px)"></i>
<i style="background:linear-gradient(90deg,#ffad00 0px,#ff5800 10.7px,#ff0b00 16.8px,#ff0b00 18.3px,#66ff99 18.3px,#66ff99 21.3px,#0000b8 21.3px,#0000c1 41.2px,#0000d5 47.3px,#0000ff 53.4px,#0025ff 59.5px,#0032ff 68.6px,#002dff 120.5px,#0015ff 126.6px,#0000ff 129.6px,#0000d5 135.7px,#0000bd 144.9px,#0000b8 160.1px,#0000b8 161.6px,#66ff99 161.6px,#66ff99 164.7px,#ff0b00 164.7px,#ff7800 175.4px,#ffc100 184.5px,#ffeb00 193.7px,#fffc00 202.8px,#fff400 212px,#ffcc00 221.1px,#ff9700 227.2px,#ff4400 233.3px,#ff4400 234.8px,#0000e9 234.8px,#0000b8 239.4px,#0000be 248.6px,#0000d7 254.7px,#0000f6 260.8px,#0000f6 288.2px,#0000c7 297.4px,#0000b9 306.5px,#0000b8 309.6px,#0000e9 312.6px,#0000e9 314.1px,#ff4400 314.1px,#ff9700 321.8px,#ffcd00 327.9px,#fff500 337px,#fffc00 346.2px,#ffeb00 355.3px,#ffc100 364.5px)"></i>
<i style="background:linear-gradient(90deg,#ffaf00 0px,#ff5b00 10.7px,#ff0f00 16.8px,#ff0f00 18.3px,#64ff9b 18.3px,#64ff9b 21.3px,#0000b8 21.3px,#0000c1 41.2px,#0000d4 47.3px,#0000fd 53.4px,#0024ff 59.5px,#0032ff 68.6px,#0031ff 117.4px,#0024ff 123.5px,#0000fd 129.6px,#0000d4 135.7px,#0000bd 144.9px,#0000b8 160.1px,#0000b8 161.6px,#64ff9b 161.6px,#64ff9b 164.7px,#ff0e00 164.7px,#ff7a00 175.4px,#ffc300 184.5px,#ffec00 193.7px,#fffd00 202.8px,#fff600 212px,#ffd000 221.1px,#ff9d00 227.2px,#ff4d00 233.3px,#ff4d00 234.8px,#007dff 234.8px,#007dff 237.9px,#0000b8 237.9px,#0000c5 251.6px,#0000f4 260.8px,#0000f9 285.2px,#0000e7 291.3px,#0000c5 297.4px,#0000b8 309.6px,#0000b8 311.1px,#007dff 311.1px,#007dff 314.1px,#ff4d00 314.1px,#ff9d00 321.8px,#ffd100 327.9px,#fff700 337px,#fffe00 346.2px,#ffed00 355.3px,#ffc300 364.5px)"></i>
<i style="background:linear-gradient(90deg,#ffb300 0px,#ff6100 10.7px,#ff1600 16.8px,#ff1600 18.3px,#cbff34 18.3px,#cbff34 21.3px,#0000b8 21.3px,#0000c1 41.2px,#0000d2 47.3px,#0000f9 53.4px,#002cff 62.5px,#0033ff 90px,#0030ff 117.4px,#0022ff 123.5px,#0000f9 129.6px,#0000d2 135.7px,#0000bd 144.9px,#0000b8 160.1px,#0000b8 161.6px,#cbff34 161.6px,#cbff34 164.7px,#ff1600 164.7px,#ff8000 175.4px,#ffc600 184.5px,#ffef00 193.7px,#feff01 202.8px,#fffb00 212px,#ffd700 221.1px,#ffa800 227.2px,#ff6000 233.3px,#ff6000 234.8px,#00a9ff 234.8px,#00a9ff 237.9px,#0000b8 237.9px,#0000c2 251.6px,#0000f6 263.8px,#0000f6 285.2px,#0000df 291.3px,#0000c2 297.4px,#0000b8 309.6px,#0000b8 311.1px,#00a9ff 311.1px,#00a9ff 314.1px,#ff6000 314.1px,#ffa800 321.8px,#ffd800 327.9px,#fffb00 337px,#fffe00 349.2px,#ffe500 358.4px,#ffc700 364.5px)"></i>
<i style="background:linear-gradient(90deg,#ffb900 0px,#ff6900 10.7px,#ff2200 16.8px,#ff2200 18.3px,#ffd100 18.3px,#ffd100 21.3px,#0000b8 21.3px,#0000c0 41.2px,#0000d0 47.3px,#0000f4 53.4px,#000cff 56.4px,#0029ff 62.5px,#0033ff 77.8px,#002fff 117.4px,#001eff 123.5px,#000cff 126.6px,#0000f4 129.6px,#0000d0 135.7px,#0000bc 144.9px,#0000b8 160.1px,#0000b8 161.6px,#ffd000 161.6px,#ffd000 164.7px,#ff2100 164.7px,#ff8700 175.4px,#ffcc00 184.5px,#fff400 193.7px,#f9ff06 202.8px,#fffa00 215px,#ffcf00 224.2px,#ff9c00 230.3px,#ff7a00 233.3px,#ff7a00 234.8px,#5bffa4 234.8px,#5bffa4 237.9px,#0000b8 237.9px,#0000bf 251.6px,#0000f5 266.9px,#0000f5 282.1px,#0000e3 288.2px,#0000bf 297.4px,#0000b8 309.6px,#0000b8 311.1px,#5bffa4 311.1px,#5bffa4 314.1px,#ff7a00 314.1px,#ffb900 321.8px,#fff000 330.9px,#fdff02 337px,#fcff03 349.2px,#ffea00 358.4px,#ffcc00 364.5px)"></i>
<i style="background:linear-gradient(90deg,#ffc100 0px,#ff7400 10.7px,#ff3000 16.8px,#ff3f00 19.8px,#ff3f00 21.3px,#0000b8 21.3px,#0000c4 44.2px,#0000db 50.3px,#0005ff 56.4px,#0026ff 62.5px,#0033ff 74.7px,#002dff 117.4px,#0018ff 123.5px,#0005ff 126.6px,#0000cd 135.7px,#0000ba 147.9px,#0000b8 160.1px,#0000b8 161.6px,#ff3f00 161.6px,#ff2f00 166.2px,#ff9100 175.4px,#ffd300 184.5px,#fffa00 193.7px,#f2ff0d 208.9px,#fffb00 218.1px,#ffcc00 227.2px,#ff9a00 233.3px,#ffd900 236.4px,#ffd900 237.9px,#0000b8 237.9px,#0000c0 254.7px,#0000ef 269.9px,#0000ef 279.1px,#0000bc 297.4px,#0000b8 309.6px,#0000b8 311.1px,#ffd900 311.1px,#ff9a00 315.7px,#ffe000 324.8px,#fffb00 330.9px,#f1ff0e 343.1px,#fffa00 355.3px,#ffd400 364.5px)"></i>
<i style="background:linear-gradient(90deg,#ffca00 0px,#ff8200 10.7px,#ff1e00 19.8px,#ff1e00 21.3px,#0020ff 21.3px,#0020ff 24.4px,#0000b8 24.4px,#0000c2 44.2px,#0000e6 53.4px,#0000fb 56.4px,#002aff 65.6px,#0033ff 86.9px,#002fff 114.4px,#0020ff 120.5px,#0000fb 126.6px,#0000c9 135.7px,#0000ba 147.9px,#0000b8 157.1px,#0000b8 158.6px,#0020ff 158.6px,#0020ff 161.6px,#ff1d00 161.6px,#ff8100 172.3px,#ffca00 181.5px,#fff700 190.6px,#f5ff0a 196.7px,#eaff15 208.9px,#fffe00 221.1px,#ffd000 230.3px,#ffa900 236.4px,#ffa900 237.9px,#00b6ff 237.9px,#00b6ff 240.9px,#0000b8 240.9px,#0000c0 257.7px,#0000df 273px,#0000d6 282.1px,#0000bc 294.3px,#0000b8 306.5px,#0000b8 308px,#00b6ff 308px,#00b6ff 311.1px,#ffa900 311.1px,#fff200 324.8px,#fffe00 327.9px,#e9ff16 340.1px,#f5ff0a 352.3px,#fff700 358.4px,#ffdc00 364.5px)"></i>
<i style="background:linear-gradient(90deg,#ffd500 0px,#ff9100 10.7px,#ff3400 19.8px,#ff3400 21.3px,#1bffe4 21.3px,#1bffe4 24.4px,#0000b8 24.4px,#0000c0 44.2px,#0000de 53.4px,#0006ff 59.5px,#0024ff 65.6px,#0032ff 77.8px,#002cff 114.4px,#0018ff 120.5px,#0006ff 123.5px,#0000c6 135.7px,#0000b8 154px,#0000b8 157.1px,#0000b8 158.6px,#1bffe4 158.6px,#1bffe4 161.6px,#ff3300 161.6px,#ff9100 172.3px,#ffd500 181.5px,#feff01 190.6px,#e3ff1c 202.8px,#e4ff1b 215px,#fffa00 227.2px,#ffd600 236.4px,#ddff22 239.4px,#ddff22 240.9px,#0000b8 240.9px,#0000c6 266.9px,#0000c9 279.1px,#0000b8 303.5px,#0000b8 306.5px,#0000b8 308px,#dcff23 308px,#ffd600 312.6px,#fffb00 321.8px,#e1ff1e 337px,#e7ff18 349.2px,#feff01 358.4px,#ffe600 364.5px)"></i>
<i style="background:linear-gradient(90deg,#ffe200 0px,#ffa300 10.7px,#ff4d00 19.8px,#ff4d00 21.3px,#d5ff2a 21.3px,#d5ff2a 24.4px,#0000b8 24.4px,#0000c3 47.3px,#0000e6 56.4px,#0000f9 59.5px,#0026ff 68.6px,#0032ff 83.9px,#002cff 111.3px,#000dff 120.5px,#0000f9 123.5px,#0000cb 132.7px,#0000ba 144.9px,#0000b8 157.1px,#0000b8 158.6px,#d6ff29 158.6px,#d6ff29 161.6px,#ff4c00 161.6px,#ffba00 175.4px,#fff100 184.5px,#fffe00 187.6px,#d9ff26 202.8px,#daff25 218.1px,#fcff03 236.4px,#f8ff07 239.4px,#f8ff07 240.9px,#00cfff 240.9px,#00cfff 244px,#0000b8 244px,#0000bc 285.2px,#0000b8 303.5px,#0000b8 305px,#00cfff 305px,#00cfff 308px,#f7ff08 308px,#f8ff07 315.7px,#d6ff29 334px,#ddff22 349.2px,#ffff00 361.4px,#fff200 364.5px)"></i>
<i style="background:linear-gradient(90deg,#fff000 0px,#ff9e00 13.7px,#ff4c00 22.9px,#ff4c00 24.4px,#0019ff 24.4px,#0019ff 27.4px,#0000b8 27.4px,#0000c1 47.3px,#0000db 56.4px,#0000fe 62.5px,#0025ff 71.7px,#0032ff 90px,#002bff 108.3px,#000fff 117.4px,#0000fe 120.5px,#0000cf 129.6px,#0000bb 141.8px,#0000b8 154px,#0000b8 155.5px,#0019ff 155.5px,#0019ff 158.6px,#ff4c00 158.6px,#ffb600 172.3px,#fffe00 184.5px,#d3ff2c 199.8px,#c9ff36 215px,#d6ff29 233.3px,#c7ff38 239.4px,#afff50 242.5px,#afff50 244px,#0065ff 244px,#0065ff 247px,#0000b8 247px,#0000b8 300.4px,#0000b8 301.9px,#0065ff 301.9px,#0065ff 305px,#afff50 305px,#c7ff38 309.6px,#d5ff2a 315.7px,#c9ff36 340.1px,#e0ff1f 355.3px,#fffe00 364.5px)"></i>
<i style="background:linear-gradient(90deg,#ffff00 0px,#ffb500 13.7px,#ff6c00 22.9px,#ff6c00 24.4px,#2effd1 24.4px,#2effd1 27.4px,#0000b8 27.4px,#0000c3 50.3px,#0000df 59.5px,#0000ff 65.6px,#0023ff 74.7px,#002fff 93px,#0023ff 108.3px,#0000ff 117.4px,#0000c9 129.6px,#0000b9 144.9px,#0000b8 154px,#0000b8 155.5px,#2effd1 155.5px,#2effd1 158.6px,#ff6b00 158.6px,#ffde00 175.4px,#fffe00 181.5px,#ceff31 196.7px,#baff45 215px,#b5ff4a 233.3px,#9cff63 239.4px,#80ff7f 242.5px,#55ffaa 245.5px,#55ffaa 247px,#003eff 247px,#003eff 250.1px,#0000b8 250.1px,#0000b8 297.4px,#0000b8 298.9px,#003eff 298.9px,#003eff 301.9px,#54ffab 301.9px,#80ff7f 306.5px,#9cff63 309.6px,#b5ff4a 315.7px,#c3ff3c 346.2px,#e6ff19 361.4px,#f2ff0d 364.5px)"></i>
<i style="background:linear-gradient(90deg,#efff10 0px,#fdff02 4.6px,#ffb800 16.8px,#ff8c00 22.9px,#ffa600 25.9px,#ffa600 27.4px,#0000e5 27.4px,#0000b8 32px,#0000c4 53.4px,#0000e0 62.5px,#0000fc 68.6px,#0022ff 80.8px,#0026ff 99.1px,#000aff 111.3px,#0000fc 114.4px,#0000cb 126.6px,#0000ba 141.8px,#0000b8 151px,#0000e5 154px,#0000e5 155.5px,#ffa500 155.5px,#ff8c00 160.1px,#fff100 175.4px,#fdff02 178.4px,#c8ff37 193.7px,#abff54 215px,#98ff67 233.3px,#79ff86 239.4px,#5bffa4 242.5px,#00f9ff 248.6px,#00f9ff 250.1px,#0039ff 250.1px,#0039ff 253.1px,#0000b8 253.1px,#0000b8 294.3px,#0000b8 295.8px,#0039ff 295.8px,#0039ff 298.9px,#00f9ff 298.9px,#5affa5 306.5px,#78ff87 309.6px,#98ff67 315.7px,#abff54 334px,#c8ff37 355.3px,#e3ff1c 364.5px)"></i>
<i style="background:linear-gradient(90deg,#dfff20 0px,#f9ff06 7.6px,#ffe500 13.7px,#ff9b00 25.9px,#ff9b00 27.4px,#13ffec 27.4px,#13ffec 30.5px,#0000b8 30.5px,#0000c5 56.4px,#0000ea 68.6px,#0003ff 74.7px,#001bff 86.9px,#0013ff 102.2px,#0003ff 108.3px,#0000c5 126.6px,#0000b8 151px,#0000b8 152.5px,#13ffec 152.5px,#13ffec 155.5px,#ff9b00 155.5px,#fff500 172.3px,#ecff13 178.4px,#bbff44 193.7px,#89ff76 230.3px,#71ff8e 236.4px,#3effc1 242.5px,#17ffe8 245.5px,#00e5ff 248.6px,#00aaff 251.6px,#00aaff 253.1px,#0057ff 253.1px,#0057ff 256.2px,#0000e6 256.2px,#0000b8 260.8px,#0000b8 288.2px,#0000e6 291.3px,#0000e6 292.8px,#0057ff 292.8px,#0057ff 295.8px,#00aaff 295.8px,#00e5ff 300.4px,#17ffe8 303.5px,#5cffa3 309.6px,#7fff80 315.7px,#97ff68 327.9px,#bbff44 355.3px,#d4ff2b 364.5px)"></i>
<i style="background:linear-gradient(90deg,#cfff30 0px,#fffd00 13.7px,#ffbe00 25.9px,#ffdc00 29px,#ffdc00 30.5px,#000bff 30.5px,#000bff 33.5px,#0000b8 33.5px,#0000c5 59.5px,#0000fd 80.8px,#0008ff 96.1px,#0000f6 105.2px,#0000c5 123.5px,#0000b8 147.9px,#0000b8 149.4px,#000bff 149.4px,#000bff 152.5px,#ffdb00 152.5px,#ffbe00 157.1px,#fffc00 169.3px,#bdff42 187.6px,#93ff6c 212px,#75ff8a 230.3px,#5bffa4 236.4px,#29ffd6 242.5px,#06fff9 245.5px,#00d9ff 248.6px,#0000ff 260.8px,#0000d1 263.8px,#0000be 266.9px,#0000b8 279.1px,#0000be 282.1px,#0000d1 285.2px,#0000ff 288.2px,#00d9ff 300.4px,#06fff9 303.5px,#45ffba 309.6px,#6aff95 315.7px,#87ff78 327.9px,#b5ff4a 358.4px,#c5ff3a 364.5px)"></i>
<i style="background:linear-gradient(90deg,#c0ff3f 0px,#f8ff07 16.8px,#ffdf00 25.9px,#ffd500 29px,#ffd500 30.5px,#90ff6f 30.5px,#90ff6f 33.5px,#0000b8 33.5px,#0000c4 62.5px,#0000f0 86.9px,#0000ed 99.1px,#0000c0 123.5px,#0000b8 147.9px,#0000b8 149.4px,#90ff6f 149.4px,#90ff6f 152.5px,#ffd500 152.5px,#fff900 163.2px,#d4ff2b 175.4px,#9eff61 196.7px,#6dff92 227.2px,#46ffb9 236.4px,#16ffe9 242.5px,#00f4ff 245.5px,#0017ff 260.8px,#0000f4 263.8px,#0000cb 269.9px,#0000c4 276px,#0000db 282.1px,#0000f4 285.2px,#0017ff 288.2px,#00f3ff 303.5px,#16ffe9 306.5px,#46ffb9 312.6px,#6cff93 321.8px,#b7ff48 364.5px)"></i>
<i style="background:linear-gradient(90deg,#b2ff4d 0px,#ffff00 25.9px,#fff300 32px,#fff300 33.5px,#00e0ff 33.5px,#00e0ff 36.6px,#0000b8 36.6px,#0000c6 68.6px,#0000de 90px,#0000ca 111.3px,#0000b9 138.8px,#0000b8 144.9px,#0000b8 146.4px,#00e0ff 146.4px,#00e0ff 149.4px,#fff200 149.4px,#ffff00 157.1px,#abff54 184.5px,#5dffa2 227.2px,#32ffcd 236.4px,#02fffd 242.5px,#00bcff 248.6px,#0022ff 260.8px,#0006ff 263.8px,#0000e2 269.9px,#0000db 276px,#0000f0 282.1px,#0006ff 285.2px,#0044ff 291.3px,#00e0ff 303.5px,#01fffe 306.5px,#44ffbb 315.7px,#6cff93 327.9px,#aaff55 364.5px)"></i>
<i style="background:linear-gradient(90deg,#a4ff5b 0px,#e7ff18 29px,#e7ff18 35.1px,#e7ff18 36.6px,#0085ff 36.6px,#0085ff 39.6px,#0000b8 39.6px,#0000c8 77.8px,#0000cc 99.1px,#0000b8 138.8px,#0000b8 141.8px,#0000b8 143.3px,#0085ff 143.3px,#0085ff 146.4px,#e8ff17 146.4px,#e2ff1d 157.1px,#93ff6c 190.6px,#59ffa6 224.2px,#33ffcc 233.3px,#0afff5 239.4px,#00efff 242.5px,#002aff 260.8px,#0001ff 266.9px,#0000ef 273px,#0000f4 279.1px,#0001ff 282.1px,#002aff 288.2px,#00efff 306.5px,#0afff5 309.6px,#42ffbd 318.7px,#67ff98 330.9px,#9eff61 364.5px)"></i>
<i style="background:linear-gradient(90deg,#98ff67 0px,#caff35 29px,#beff41 38.1px,#beff41 39.6px,#0074ff 39.6px,#0074ff 42.7px,#0000b8 42.7px,#0000c3 102.2px,#0000b8 138.8px,#0000b8 140.3px,#0074ff 140.3px,#0074ff 143.3px,#bfff40 143.3px,#caff35 154px,#56ffa9 221.1px,#23ffdc 233.3px,#00f9ff 239.4px,#0031ff 260.8px,#000eff 266.9px,#0000fe 273px,#0004ff 279.1px,#001dff 285.2px,#0066ff 294.3px,#00f9ff 309.6px,#41ffbe 321.8px,#69ff96 337px,#92ff6d 364.5px)"></i>
<i style="background:linear-gradient(90deg,#8cff73 0px,#b0ff4f 29px,#a1ff5e 38.1px,#94ff6b 41.2px,#94ff6b 42.7px,#0063ff 42.7px,#0063ff 45.8px,#0000b8 45.8px,#0000bd 108.3px,#0000b8 135.7px,#0000b8 137.2px,#0064ff 137.2px,#0064ff 140.3px,#95ff6a 140.3px,#afff50 151px,#a4ff5b 166.2px,#53ffac 218.1px,#25ffda 230.3px,#01fffe 236.4px,#009aff 248.6px,#0036ff 260.8px,#0010ff 269.9px,#0010ff 279.1px,#0036ff 288.2px,#009aff 300.4px,#01fffe 312.6px,#40ffbf 324.8px,#6aff95 343.1px,#87ff78 364.5px)"></i>
<i style="background:linear-gradient(90deg,#81ff7e 0px,#99ff66 25.9px,#88ff77 38.1px,#69ff96 44.2px,#69ff96 45.8px,#0083ff 45.8px,#0083ff 48.8px,#0000b8 48.8px,#0000b8 132.7px,#0000b8 134.2px,#0083ff 134.2px,#0083ff 137.2px,#69ff96 137.2px,#88ff77 144.9px,#99ff66 157.1px,#63ff9c 205.9px,#3fffc0 221.1px,#06fff9 233.3px,#00dcff 239.4px,#004cff 257.7px,#0020ff 266.9px,#0015ff 276px,#002bff 285.2px,#0061ff 294.3px,#00f2ff 312.6px,#06fff9 315.7px,#3fffc0 327.9px,#67ff98 346.2px,#7dff82 364.5px)"></i>
<i style="background:linear-gradient(90deg,#77ff88 0px,#85ff7a 25.9px,#71ff8e 38.1px,#53ffac 44.2px,#3cffc3 47.3px,#00c5ff 50.3px,#00c5ff 51.8px,#0000e1 51.8px,#0000b8 56.4px,#0000b8 126.6px,#0000e1 129.6px,#0000e1 131.2px,#00c6ff 131.2px,#3dffc2 135.7px,#65ff9a 141.8px,#80ff7f 151px,#84ff7b 166.2px,#5bffa4 205.9px,#34ffcb 221.1px,#0bfff4 230.3px,#00f8ff 233.3px,#004cff 257.7px,#0025ff 266.9px,#001cff 276px,#002fff 285.2px,#005fff 294.3px,#00f8ff 315.7px,#28ffd7 324.8px,#55ffaa 340.1px,#74ff8b 364.5px)"></i>
<i style="background:linear-gradient(90deg,#6eff91 0px,#74ff8b 22.9px,#60ff9f 35.1px,#33ffcc 44.2px,#00ffff 50.3px,#00ccff 53.4px,#00ccff 54.9px,#0038ff 54.9px,#0000c6 59.5px,#0000b8 62.5px,#0000b8 120.5px,#0000c6 123.5px,#0038ff 126.6px,#0038ff 128.1px,#00ccff 128.1px,#00ffff 132.7px,#46ffb9 141.8px,#68ff97 151px,#76ff89 166.2px,#5dffa2 199.8px,#34ffcb 218.1px,#00fdff 230.3px,#004cff 257.7px,#002aff 266.9px,#0022ff 276px,#0032ff 285.2px,#006fff 297.4px,#00fdff 318.7px,#3dffc2 334px,#63ff9c 355.3px,#6cff93 364.5px)"></i>
<i style="background:linear-gradient(90deg,#65ff9a 0px,#61ff9e 19.8px,#46ffb9 32px,#19ffe6 41.2px,#05fffa 44.2px,#00d1ff 50.3px,#0097ff 56.4px,#006cff 59.5px,#006cff 61px,#0008ff 61px,#0000c9 65.6px,#0000b8 68.6px,#0000b8 114.4px,#0000c9 117.4px,#0008ff 120.5px,#0008ff 122px,#006cff 122px,#0097ff 126.6px,#00ecff 135.7px,#05fffa 138.8px,#3affc5 147.9px,#5dffa2 160.1px,#66ff99 178.4px,#51ffae 202.8px,#2affd5 218.1px,#02fffd 227.2px,#00a5ff 242.5px,#004bff 257.7px,#002dff 266.9px,#0028ff 279.1px,#003eff 288.2px,#007dff 300.4px,#00f1ff 318.7px,#02fffd 321.8px,#3dffc2 337px,#5fffa0 358.4px,#63ff9c 364.5px)"></i>
<i style="background:linear-gradient(90deg,#5affa5 0px,#47ffb8 19.8px,#21ffde 32px,#02fffd 38.1px,#00acff 50.3px,#0032ff 65.6px,#0000fc 68.6px,#0000c0 74.7px,#0000b8 80.8px,#0000b8 105.2px,#0000c0 108.3px,#0000fc 114.4px,#0032ff 117.4px,#00efff 141.8px,#02fffd 144.9px,#38ffc7 157.1px,#56ffa9 172.3px,#55ffaa 193.7px,#34ffcb 212px,#06fff9 224.2px,#00e6ff 230.3px,#0057ff 254.7px,#002eff 266.9px,#002aff 279.1px,#0049ff 291.3px,#00afff 309.6px,#00f6ff 321.8px,#13ffec 327.9px,#43ffbc 343.1px,#59ffa6 364.5px)"></i>
<i style="background:linear-gradient(90deg,#4bffb4 0px,#33ffcc 16.8px,#00fcff 32px,#0090ff 50.3px,#001aff 68.6px,#0000fb 74.7px,#0000d1 83.9px,#0000c8 93px,#0000db 102.2px,#0000fb 108.3px,#002cff 117.4px,#00eeff 147.9px,#00fdff 151px,#3bffc4 169.3px,#4dffb2 187.6px,#3affc5 205.9px,#00faff 224.2px,#0054ff 254.7px,#002fff 266.9px,#002bff 279.1px,#0047ff 291.3px,#0094ff 306.5px,#00faff 324.8px,#3affc5 343.1px,#4dffb2 361.4px,#4cffb3 364.5px)"></i>
<i style="background:linear-gradient(90deg,#40ffbf 0px,#1affe5 19.8px,#05fffa 25.9px,#00daff 35.1px,#001cff 68.6px,#0003ff 74.7px,#0000e2 90px,#0000ef 102.2px,#0003ff 108.3px,#004cff 123.5px,#00e9ff 151px,#05fffa 157.1px,#38ffc7 175.4px,#43ffbc 190.6px,#32ffcd 205.9px,#00feff 221.1px,#0051ff 254.7px,#002fff 266.9px,#002bff 279.1px,#0045ff 291.3px,#008cff 306.5px,#00feff 327.9px,#31ffce 343.1px,#43ffbc 358.4px,#42ffbd 364.5px)"></i>
<i style="background:linear-gradient(90deg,#3bffc4 0px,#16ffe9 19.8px,#00ffff 25.9px,#00a4ff 44.2px,#0020ff 68.6px,#0000ff 77.8px,#0000ec 90px,#0000f8 102.2px,#0009ff 108.3px,#004dff 123.5px,#00e5ff 151px,#00ffff 157.1px,#2effd1 172.3px,#3fffc0 187.6px,#31ffce 202.8px,#03fffc 218.1px,#00b7ff 233.3px,#004dff 254.7px,#002eff 266.9px,#002eff 282.1px,#004dff 294.3px,#00b7ff 315.7px,#03fffc 330.9px,#31ffce 346.2px,#3effc1 361.4px,#3dffc2 364.5px)"></i>
<i style="background:linear-gradient(90deg,#37ffc8 0px,#1bffe4 16.8px,#00fbff 25.9px,#0090ff 47.3px,#0024ff 68.6px,#0000fe 80.8px,#0000f4 93px,#0006ff 105.2px,#003eff 120.5px,#00efff 154px,#08fff7 160.1px,#30ffcf 175.4px,#3affc5 190.6px,#23ffdc 205.9px,#00f9ff 218.1px,#0055ff 251.6px,#0031ff 263.8px,#002aff 279.1px,#0040ff 291.3px,#007fff 306.5px,#00f9ff 330.9px,#2affd5 346.2px,#3affc5 361.4px,#39ffc6 364.5px)"></i>
<i style="background:linear-gradient(90deg,#34ffcb 0px,#19ffe6 16.8px,#00f9ff 25.9px,#007eff 50.3px,#0026ff 68.6px,#0000ff 83.9px,#0005ff 102.2px,#0032ff 117.4px,#00f9ff 157.1px,#27ffd8 172.3px,#36ffc9 187.6px,#24ffdb 202.8px,#00fdff 215px,#0051ff 251.6px,#002bff 266.9px,#002bff 282.1px,#0051ff 297.4px,#00fdff 334px,#2fffd0 352.3px,#35ffca 364.5px)"></i>
<i style="background:linear-gradient(90deg,#30ffcf 0px,#17ffe8 16.8px,#03fffc 22.9px,#00bfff 38.1px,#0034ff 65.6px,#0009ff 80.8px,#0002ff 96.1px,#001fff 111.3px,#006eff 129.6px,#00eaff 154px,#04fffb 160.1px,#2affd5 175.4px,#31ffce 190.6px,#16ffe9 205.9px,#02fffd 212px,#00aeff 230.3px,#004cff 251.6px,#0029ff 266.9px,#0029ff 282.1px,#004cff 297.4px,#00ccff 324.8px,#02fffd 337px,#29ffd6 352.3px,#31ffce 364.5px)"></i>
<i style="background:linear-gradient(90deg,#2dffd2 0px,#15ffea 16.8px,#02fffd 22.9px,#00beff 38.1px,#0036ff 65.6px,#000cff 80.8px,#0005ff 96.1px,#0021ff 111.3px,#006eff 129.6px,#00f6ff 157.1px,#0cfff3 163.2px,#2bffd4 178.4px,#29ffd6 193.7px,#00faff 212px,#0048ff 251.6px,#0026ff 266.9px,#0026ff 282.1px,#0048ff 297.4px,#00b6ff 321.8px,#00faff 337px,#29ffd6 355.3px,#2effd1 364.5px)"></i>
<i style="background:linear-gradient(90deg,#2cffd3 0px,#14ffeb 16.8px,#02fffd 22.9px,#00afff 41.2px,#0038ff 65.6px,#000eff 80.8px,#0008ff 96.1px,#0023ff 111.3px,#006fff 129.6px,#00f6ff 157.1px,#0cfff3 163.2px,#2affd5 178.4px,#27ffd8 193.7px,#02fffd 208.9px,#00b2ff 227.2px,#0050ff 248.6px,#0028ff 263.8px,#0021ff 279.1px,#003cff 294.3px,#0085ff 312.6px,#00f6ff 337px,#0cfff3 343.1px,#2affd5 358.4px,#2cffd3 364.5px)"></i>
<i style="background:linear-gradient(90deg,#2cffd3 0px,#15ffea 16.8px,#02fffd 22.9px,#00bfff 38.1px,#0039ff 65.6px,#0010ff 80.8px,#0009ff 96.1px,#0024ff 111.3px,#0070ff 129.6px,#00f6ff 157.1px,#0cfff3 163.2px,#2affd5 178.4px,#26ffd9 193.7px,#02fffd 208.9px,#00b2ff 227.2px,#004fff 248.6px,#0026ff 263.8px,#001fff 279.1px,#003aff 294.3px,#0084ff 312.6px,#00f5ff 337px,#0bfff4 343.1px,#29ffd6 358.4px,#2cffd3 364.5px)"></i>
<i style="background:linear-gradient(90deg,#2cffd3 0px,#16ffe9 16.8px,#03fffc 22.9px,#00d0ff 35.1px,#003aff 65.6px,#0011ff 80.8px,#000aff 96.1px,#0025ff 111.3px,#0072ff 129.6px,#00ebff 154px,#04fffb 160.1px,#27ffd8 175.4px,#2affd5 190.6px,#0cfff3 205.9px,#00f6ff 212px,#0042ff 251.6px,#001fff 266.9px,#001fff 282.1px,#0042ff 297.4px,#00a2ff 318.7px,#00f6ff 337px,#0cfff3 343.1px,#2affd5 358.4px,#2dffd2 364.5px)"></i>
<i style="background:linear-gradient(90deg,#2dffd2 0px,#17ffe8 16.8px,#00f9ff 25.9px,#0083ff 50.3px,#0030ff 68.6px,#000dff 83.9px,#000dff 99.1px,#0030ff 114.4px,#0083ff 132.7px,#00f9ff 157.1px,#29ffd6 175.4px,#2bffd4 190.6px,#0dfff2 205.9px,#00f7ff 212px,#0040ff 251.6px,#001cff 266.9px,#001cff 282.1px,#0040ff 297.4px,#00b1ff 321.8px,#00f6ff 337px,#0cfff3 343.1px,#2bffd4 358.4px,#2effd1 364.5px)"></i>
<i style="background:linear-gradient(90deg,#2fffd0 0px,#19ffe6 16.8px,#00fcff 25.9px,#0096ff 47.3px,#0031ff 68.6px,#000cff 83.9px,#000cff 99.1px,#0031ff 114.4px,#0096ff 135.7px,#00fcff 157.1px,#2bffd4 175.4px,#2dffd2 190.6px,#0efff1 205.9px,#00f8ff 212px,#003eff 251.6px,#0018ff 266.9px,#0018ff 282.1px,#003eff 297.4px,#00c2ff 324.8px,#00f8ff 337px,#16ffe9 346.2px,#2fffd0 361.4px,#30ffcf 364.5px)"></i>
<i style="background:linear-gradient(90deg,#33ffcc 0px,#1fffe0 16.8px,#04fffb 25.9px,#00cdff 38.1px,#003fff 65.6px,#0011ff 80.8px,#0009ff 96.1px,#0028ff 111.3px,#007bff 129.6px,#00f7ff 154px,#0efff1 160.1px,#2fffd0 175.4px,#30ffcf 190.6px,#10ffef 205.9px,#00faff 212px,#0084ff 236.4px,#0030ff 254.7px,#0010ff 269.9px,#0018ff 285.2px,#0048ff 300.4px,#00faff 337px,#2cffd3 355.3px,#33ffcc 364.5px)"></i>
<i style="background:linear-gradient(90deg,#38ffc7 0px,#27ffd8 16.8px,#03fffc 29px,#00caff 41.2px,#0037ff 68.6px,#0011ff 80.8px,#0008ff 96.1px,#0020ff 108.3px,#0063ff 123.5px,#00e9ff 147.9px,#03fffc 154px,#2dffd2 169.3px,#38ffc7 184.5px,#24ffdb 199.8px,#00fdff 212px,#0095ff 233.3px,#0039ff 251.6px,#0012ff 263.8px,#0007ff 276px,#0019ff 288.2px,#0054ff 303.5px,#00f1ff 334px,#00fdff 337px,#2fffd0 355.3px,#37ffc8 364.5px)"></i>
<i style="background:linear-gradient(90deg,#3dffc2 0px,#29ffd6 19.8px,#03fffc 32px,#00c7ff 44.2px,#003bff 68.6px,#0010ff 80.8px,#0005ff 93px,#0018ff 105.2px,#004aff 117.4px,#00e7ff 144.9px,#04fffb 151px,#2fffd0 166.2px,#3cffc3 184.5px,#28ffd7 199.8px,#02fffd 212px,#00baff 227.2px,#0035ff 251.6px,#000bff 263.8px,#0000fe 276px,#0013ff 288.2px,#0053ff 303.5px,#00e7ff 330.9px,#02fffd 337px,#2effd1 352.3px,#3cffc3 364.5px)"></i>
<i style="background:linear-gradient(90deg,#42ffbd 0px,#31ffce 19.8px,#04fffb 35.1px,#00d6ff 44.2px,#002fff 71.7px,#0008ff 83.9px,#0003ff 96.1px,#0022ff 108.3px,#0076ff 123.5px,#00e6ff 141.8px,#04fffb 147.9px,#32ffcd 163.2px,#42ffbd 181.5px,#2dffd2 199.8px,#00faff 215px,#009bff 233.3px,#0023ff 254.7px,#0002ff 263.8px,#0000f3 276px,#0002ff 285.2px,#0032ff 297.4px,#00ecff 330.9px,#07fff8 337px,#33ffcc 352.3px,#41ffbe 364.5px)"></i>
<i style="background:linear-gradient(90deg,#47ffb8 0px,#3affc5 19.8px,#12ffed 35.1px,#00f6ff 41.2px,#0096ff 56.4px,#0031ff 71.7px,#000bff 80.8px,#0000fb 90px,#0003ff 99.1px,#0022ff 108.3px,#0080ff 123.5px,#00e6ff 138.8px,#05fffa 144.9px,#34ffcb 160.1px,#47ffb8 178.4px,#38ffc7 196.7px,#0dfff2 212px,#01fffe 215px,#00b2ff 230.3px,#001dff 254.7px,#0002ff 260.8px,#0000e6 273px,#0000ee 282.1px,#0002ff 288.2px,#0052ff 303.5px,#00e4ff 327.9px,#01fffe 334px,#32ffcd 349.2px,#45ffba 364.5px)"></i>
<i style="background:linear-gradient(90deg,#4dffb2 0px,#3dffc2 22.9px,#14ffeb 38.1px,#00f6ff 44.2px,#008dff 59.5px,#0021ff 74.7px,#0000fc 83.9px,#0000f4 93px,#0006ff 102.2px,#0033ff 111.3px,#00e5ff 135.7px,#07fff8 141.8px,#32ffcd 154px,#4cffb3 172.3px,#45ffba 193.7px,#23ffdc 208.9px,#00feff 218.1px,#00a8ff 233.3px,#0006ff 257.7px,#0000d9 269.9px,#0000d9 279.1px,#0006ff 291.3px,#00dfff 324.8px,#00fdff 330.9px,#34ffcb 346.2px,#4cffb3 364.5px)"></i>
<i style="background:linear-gradient(90deg,#5bffa4 0px,#43ffbc 25.9px,#24ffdb 38.1px,#0afff5 44.2px,#00f7ff 47.3px,#009bff 59.5px,#001fff 74.7px,#0000fe 80.8px,#0000e9 90px,#0000f4 99.1px,#0000fe 102.2px,#0034ff 111.3px,#00e4ff 132.7px,#00f7ff 135.7px,#18ffe7 141.8px,#3effc1 154px,#5affa5 178.4px,#53ffac 199.8px,#2dffd2 215px,#01fffe 224.2px,#00adff 236.4px,#0000fe 257.7px,#0000df 260.8px,#0000cb 263.8px,#0000bc 273px,#0000c3 282.1px,#0000cb 285.2px,#0000df 288.2px,#0000fe 291.3px,#00daff 318.7px,#01fffe 324.8px,#37ffc8 337px,#56ffa9 352.3px,#5bffa4 364.5px)"></i>
<i style="background:linear-gradient(90deg,#67ff98 0px,#43ffbc 32px,#1cffe3 44.2px,#00f8ff 50.3px,#008eff 62.5px,#001cff 74.7px,#0007ff 77.8px,#0000e0 86.9px,#0000e0 96.1px,#0007ff 105.2px,#0051ff 114.4px,#00e1ff 129.6px,#00f8ff 132.7px,#2affd5 141.8px,#4effb1 157.1px,#6cff93 190.6px,#62ff9d 208.9px,#3cffc3 221.1px,#04fffb 230.3px,#00d0ff 236.4px,#0051ff 248.6px,#0014ff 251.6px,#0000da 254.7px,#0000bc 257.7px,#0000bc 291.3px,#0000da 294.3px,#0014ff 297.4px,#0051ff 300.4px,#00ebff 315.7px,#04fffb 318.7px,#3bffc4 327.9px,#62ff9d 340.1px,#6bff94 358.4px,#68ff97 364.5px)"></i>
<i style="background:linear-gradient(90deg,#71ff8e 0px,#4affb5 35.1px,#30ffcf 44.2px,#00f8ff 53.4px,#009dff 62.5px,#0018ff 74.7px,#0000fd 77.8px,#0000da 83.9px,#0000cb 93px,#0000da 99.1px,#0000fd 105.2px,#0036ff 111.3px,#00ddff 126.6px,#00f8ff 129.6px,#30ffcf 138.8px,#50ffaf 151px,#81ff7e 202.8px,#7aff85 215px,#5cffa3 224.2px,#1cffe3 233.3px,#00fdff 236.4px,#00b4ff 242.5px,#00b4ff 244px,#0056ff 244px,#0056ff 247px,#0000e2 247px,#0000b8 251.6px,#0000b8 297.4px,#0000e2 300.4px,#0000e2 301.9px,#0056ff 301.9px,#0056ff 305px,#00b4ff 305px,#00fcff 312.6px,#4affb5 321.8px,#73ff8c 330.9px,#81ff7e 343.1px,#73ff8c 364.5px)"></i>
<i style="background:linear-gradient(90deg,#7aff85 0px,#53ffac 38.1px,#37ffc8 47.3px,#11ffee 53.4px,#00f5ff 56.4px,#0087ff 65.6px,#0011ff 74.7px,#0000f1 77.8px,#0000c6 83.9px,#0000b8 90px,#0000bc 96.1px,#0000d8 102.2px,#0000f1 105.2px,#0011ff 108.3px,#00d5ff 123.5px,#00f5ff 126.6px,#27ffd8 132.7px,#4dffb2 141.8px,#6cff93 166.2px,#9eff61 215px,#8eff71 224.2px,#6eff91 230.3px,#35ffca 236.4px,#00f7ff 239.4px,#00f7ff 240.9px,#0037ff 240.9px,#0037ff 244px,#0000b8 244px,#0000b8 303.5px,#0000b8 305px,#0037ff 305px,#0037ff 308px,#00f7ff 308px,#35ffca 312.6px,#6dff92 318.7px,#8eff71 324.8px,#9dff62 334px,#7dff82 364.5px)"></i>
<i style="background:linear-gradient(90deg,#83ff7c 0px,#5effa1 41.2px,#3cffc3 50.3px,#0bfff4 56.4px,#00e7ff 59.5px,#0000fc 74.7px,#0000cc 77.8px,#0000bc 80.8px,#0000bc 102.2px,#0000cc 105.2px,#0000fc 108.3px,#00e7ff 123.5px,#0bfff4 126.6px,#3cffc3 132.7px,#5effa1 141.8px,#94ff6b 193.7px,#bbff44 218.1px,#abff54 227.2px,#83ff7c 233.3px,#83ff7c 234.8px,#2dffd2 234.8px,#2dffd2 237.9px,#0001ff 237.9px,#0001ff 240.9px,#0000b8 240.9px,#0000b8 306.5px,#0000b8 308px,#0001ff 308px,#0001ff 311.1px,#2dffd2 311.1px,#2dffd2 314.1px,#82ff7d 314.1px,#abff54 321.8px,#baff45 330.9px,#86ff79 364.5px)"></i>
<i style="background:linear-gradient(90deg,#8dff72 0px,#72ff8d 41.2px,#52ffad 50.3px,#1effe1 56.4px,#00f7ff 59.5px,#0094ff 65.6px,#0094ff 67.1px,#0036ff 67.1px,#0000d6 71.7px,#0000b8 74.7px,#0000b8 108.3px,#0000d6 111.3px,#0036ff 114.4px,#0036ff 115.9px,#0094ff 115.9px,#00f7ff 123.5px,#3cffc3 129.6px,#61ff9e 135.7px,#79ff86 147.9px,#92ff6d 184.5px,#d6ff29 218.1px,#d6ff29 224.2px,#beff41 230.3px,#beff41 231.8px,#48ffb7 231.8px,#48ffb7 234.8px,#0000d4 234.8px,#0000b8 239.4px,#0000b8 309.6px,#0000d4 312.6px,#0000d4 314.1px,#48ffb7 314.1px,#48ffb7 317.2px,#beff41 317.2px,#d5ff2a 324.8px,#d1ff2e 334px,#91ff6e 364.5px)"></i>
<i style="background:linear-gradient(90deg,#98ff67 0px,#8bff74 25.9px,#89ff76 41.2px,#6cff93 50.3px,#38ffc7 56.4px,#0efff1 59.5px,#00c8ff 62.5px,#00c8ff 64px,#001fff 64px,#001fff 67.1px,#0000b8 67.1px,#0000b8 114.4px,#0000b8 115.9px,#001fff 115.9px,#001fff 118.9px,#00c8ff 118.9px,#0efff1 123.5px,#38ffc7 126.6px,#6cff93 132.7px,#89ff76 141.8px,#95ff6a 178.4px,#bdff42 199.8px,#f9ff06 221.1px,#f5ff0a 227.2px,#f5ff0a 228.8px,#a0ff5f 228.8px,#a0ff5f 231.8px,#0000d9 231.8px,#0000b8 236.4px,#0000b8 312.6px,#0000d9 315.7px,#0000d9 317.2px,#a0ff5f 317.2px,#a0ff5f 320.2px,#f4ff0b 320.2px,#f9ff06 327.9px,#a1ff5e 361.4px,#9cff63 364.5px)"></i>
<i style="background:linear-gradient(90deg,#a3ff5c 0px,#99ff66 22.9px,#a0ff5f 44.2px,#8cff73 50.3px,#58ffa7 56.4px,#15ffea 59.5px,#15ffea 61px,#0000f4 61px,#0000b8 65.6px,#0000b8 117.4px,#0000f4 120.5px,#0000f4 122px,#15ffea 122px,#58ffa7 126.6px,#8dff72 132.7px,#a0ff5f 138.8px,#9bff64 172.3px,#b4ff4b 190.6px,#f1ff0e 208.9px,#fdff02 212px,#ffdc00 224.2px,#f8ff07 227.2px,#f8ff07 228.8px,#0028ff 228.8px,#0028ff 231.8px,#0000b8 231.8px,#0000b8 312.6px,#0000b8 315.7px,#0000b8 317.2px,#0028ff 317.2px,#0028ff 320.2px,#f7ff08 320.2px,#ffdd00 324.8px,#fdff02 337px,#bbff44 355.3px,#a8ff57 364.5px)"></i>
<i style="background:linear-gradient(90deg,#afff50 0px,#a6ff59 19.8px,#c0ff3f 44.2px,#b3ff4c 50.3px,#a0ff5f 53.4px,#64ff9b 56.4px,#64ff9b 57.9px,#0006ff 57.9px,#0006ff 61px,#0000b8 61px,#0000bc 105.2px,#0000b8 120.5px,#0000b8 122px,#0006ff 122px,#0006ff 125px,#64ff9b 125px,#a0ff5f 129.6px,#bdff42 135.7px,#b7ff48 147.9px,#a5ff5a 169.3px,#baff45 187.6px,#ecff13 202.8px,#fff600 208.9px,#ffba00 221.1px,#ffb200 224.2px,#ffb200 225.7px,#00d7ff 225.7px,#00d7ff 228.8px,#0000b8 228.8px,#0000bf 285.2px,#0000b8 318.7px,#0000b8 320.2px,#00d6ff 320.2px,#00d6ff 323.3px,#ffb300 323.3px,#ffe600 337px,#f9ff06 343.1px,#c1ff3e 358.4px,#b3ff4c 364.5px)"></i>
<i style="background:linear-gradient(90deg,#baff45 0px,#b1ff4e 16.8px,#ceff31 35.1px,#e4ff1b 47.3px,#e0ff1f 50.3px,#afff50 53.4px,#afff50 54.9px,#0017ff 54.9px,#0017ff 57.9px,#0000b8 57.9px,#0000c6 96.1px,#0000b8 123.5px,#0000b8 125px,#0017ff 125px,#0017ff 128.1px,#afff50 128.1px,#e0ff1f 132.7px,#e3ff1c 138.8px,#b4ff4b 163.2px,#b6ff49 178.4px,#d8ff27 193.7px,#feff01 202.8px,#ff9300 221.1px,#ff9300 222.6px,#c5ff3a 222.6px,#c5ff3a 225.7px,#0000b8 225.7px,#0000c5 263.8px,#0000c5 285.2px,#0000b8 321.8px,#0000b8 323.3px,#c5ff3a 323.3px,#c5ff3a 326.3px,#ff9300 326.3px,#feff01 346.2px,#c5ff3a 361.4px,#bfff40 364.5px)"></i>
<i style="background:linear-gradient(90deg,#c4ff3b 0px,#bdff42 16.8px,#dbff24 32px,#fcff03 41.2px,#ffee00 50.3px,#ffee00 51.8px,#00b9ff 51.8px,#00b9ff 54.9px,#0000b8 54.9px,#0000c6 77.8px,#0000d7 93px,#0000b9 120.5px,#0000b8 126.6px,#0000b8 128.1px,#00b9ff 128.1px,#00b9ff 131.2px,#ffee00 131.2px,#fcff03 141.8px,#cbff34 157.1px,#bcff43 172.3px,#d1ff2e 187.6px,#fffe00 199.8px,#ffaf00 212px,#ff6a00 221.1px,#ff6a00 222.6px,#0070ff 222.6px,#0070ff 225.7px,#0000b8 225.7px,#0000c3 254.7px,#0000d8 276px,#0000b9 309.6px,#0000b8 321.8px,#0000b8 323.3px,#0070ff 323.3px,#0070ff 326.3px,#ff6b00 326.3px,#ffee00 346.2px,#ffff00 349.2px,#d1ff2e 361.4px,#c9ff36 364.5px)"></i>
<i style="background:linear-gradient(90deg,#cdff32 0px,#c8ff37 16.8px,#e3ff1c 29px,#fcff03 35.1px,#ffc400 47.3px,#ffc400 48.8px,#9eff61 48.8px,#9eff61 51.8px,#0000b8 51.8px,#0000c3 71.7px,#0000ef 90px,#0000e5 99.1px,#0000bf 114.4px,#0000b8 129.6px,#0000b8 131.2px,#9eff61 131.2px,#9eff61 134.2px,#ffc400 134.2px,#fdff02 147.9px,#d2ff2d 160.1px,#c6ff39 172.3px,#d4ff2b 184.5px,#ffff00 196.7px,#ffc700 205.9px,#ff5d00 218.1px,#ff5d00 219.6px,#f7ff08 219.6px,#f7ff08 222.6px,#0000b8 222.6px,#0000c0 248.6px,#0000e6 269.9px,#0000de 285.2px,#0000bd 303.5px,#0000b8 324.8px,#0000b8 326.3px,#f6ff09 326.3px,#f6ff09 329.4px,#ff5e00 329.4px,#ffc700 343.1px,#feff01 352.3px,#d3ff2c 364.5px)"></i>
<i style="background:linear-gradient(90deg,#d6ff29 0px,#cfff30 13.7px,#e8ff17 25.9px,#fffc00 32px,#ff9700 47.3px,#ff9700 48.8px,#0065ff 48.8px,#0065ff 51.8px,#0000b8 51.8px,#0000c3 68.6px,#0000ff 83.9px,#000bff 93px,#0000ff 99.1px,#0000c3 114.4px,#0000b8 129.6px,#0000b8 131.2px,#0065ff 131.2px,#0065ff 134.2px,#ff9700 134.2px,#fffc00 151px,#d7ff28 163.2px,#cfff30 175.4px,#e5ff1a 187.6px,#fcff03 193.7px,#ffcc00 202.8px,#ff7c00 212px,#ff3b00 218.1px,#ff3b00 219.6px,#00e3ff 219.6px,#00e3ff 222.6px,#0000b8 222.6px,#0000c0 245.5px,#0000ef 266.9px,#0000ef 282.1px,#0000bd 306.5px,#0000b8 324.8px,#0000b8 326.3px,#00e3ff 326.3px,#00e3ff 329.4px,#ff3c00 329.4px,#ffb500 343.1px,#fff300 352.3px,#fbff04 355.3px,#dcff23 364.5px)"></i>
<i style="background:linear-gradient(90deg,#ddff22 0px,#d7ff28 13.7px,#f5ff0a 25.9px,#fffc00 29px,#ffbf00 38.1px,#ff8800 44.2px,#ffca00 47.3px,#ffca00 48.8px,#0000b8 48.8px,#0000c2 65.6px,#0000e8 74.7px,#0000fb 77.8px,#0019ff 86.9px,#0014ff 99.1px,#0000fb 105.2px,#0000ca 114.4px,#0000b9 126.6px,#0000b8 132.7px,#0000b8 134.2px,#ffca00 134.2px,#ff8800 138.8px,#ffd600 147.9px,#fffb00 154px,#dbff24 166.2px,#d9ff26 178.4px,#f8ff07 190.6px,#ffe800 196.7px,#ffa300 205.9px,#ff1c00 218.1px,#ff1c00 219.6px,#0000eb 219.6px,#0000b8 224.2px,#0000c4 245.5px,#0000f4 263.8px,#0000f4 285.2px,#0000d5 297.4px,#0000bc 309.6px,#0000b8 324.8px,#0000eb 327.9px,#0000eb 329.4px,#ff1d00 329.4px,#ffa400 343.1px,#ffe800 352.3px,#fff900 355.3px,#e4ff1b 364.5px)"></i>
<i style="background:linear-gradient(90deg,#e4ff1b 0px,#dfff20 13.7px,#fffe00 25.9px,#ffc300 35.1px,#ff6700 44.2px,#ff6700 45.8px,#05fffa 45.8px,#05fffa 48.8px,#0000b8 48.8px,#0000c6 65.6px,#0000e5 71.7px,#0000fb 74.7px,#001fff 83.9px,#001fff 99.1px,#0000fb 108.3px,#0000d2 114.4px,#0000bc 123.5px,#0000b8 132.7px,#0000b8 134.2px,#05fffa 134.2px,#05fffa 137.2px,#ff6700 137.2px,#ffc300 147.9px,#fffe00 157.1px,#dfff20 169.3px,#e4ff1b 181.5px,#fffe00 190.6px,#ffc900 199.8px,#ff7400 208.9px,#ff2800 215px,#ff2800 216.5px,#ffd500 216.5px,#ffd500 219.6px,#0000b8 219.6px,#0000c2 242.5px,#0000f5 260.8px,#0000f5 288.2px,#0000de 297.4px,#0000c2 306.5px,#0000b8 327.9px,#0000b8 329.4px,#ffd600 329.4px,#ffd600 332.4px,#ff2900 332.4px,#ff9500 343.1px,#ffde00 352.3px,#ffff00 358.4px,#eaff15 364.5px)"></i>
<i style="background:linear-gradient(90deg,#e9ff16 0px,#e4ff1b 13.7px,#fcff03 22.9px,#ffe300 29px,#ff9400 38.1px,#ff4a00 44.2px,#ff4a00 45.8px,#004cff 45.8px,#004cff 48.8px,#0000b8 48.8px,#0000c2 62.5px,#0000dc 68.6px,#0000f3 71.7px,#000bff 74.7px,#0020ff 80.8px,#0020ff 102.2px,#000bff 108.3px,#0000f3 111.3px,#0000cb 117.4px,#0000ba 126.6px,#0000b8 132.7px,#0000b8 134.2px,#004cff 134.2px,#004cff 137.2px,#ff4900 137.2px,#ffb300 147.9px,#fff400 157.1px,#fcff03 160.1px,#e5ff1a 169.3px,#e9ff16 181.5px,#fff800 190.6px,#ffc000 199.8px,#ff6500 208.9px,#ff1400 215px,#ff1400 216.5px,#62ff9d 216.5px,#62ff9d 219.6px,#0000b8 219.6px,#0000bf 239.4px,#0000f5 257.7px,#0000f5 291.3px,#0000bf 309.6px,#0000b8 327.9px,#0000b8 329.4px,#62ff9d 329.4px,#62ff9d 332.4px,#ff1400 332.4px,#ff8800 343.1px,#ffd600 352.3px,#fff800 358.4px,#f0ff0f 364.5px)"></i>
<i style="background:linear-gradient(90deg,#edff12 0px,#e9ff16 13.7px,#fffc00 22.9px,#ffc200 32px,#ff8500 38.1px,#ff3200 44.2px,#ff3200 45.8px,#0000b8 45.8px,#0000c4 62.5px,#0000e5 68.6px,#0000ff 71.7px,#001fff 77.8px,#001fff 105.2px,#0000ff 111.3px,#0000d0 117.4px,#0000be 123.5px,#0000b8 135.7px,#0000b8 137.2px,#ff3200 137.2px,#ff8400 144.9px,#ffc200 151px,#fffb00 160.1px,#e7ff18 172.3px,#f5ff0a 184.5px,#ffff00 187.6px,#ffcf00 196.7px,#ff7d00 205.9px,#ff0400 215px,#ff0400 216.5px,#00fdff 216.5px,#00fdff 219.6px,#0000b8 219.6px,#0000c1 239.4px,#0000f4 254.7px,#0000f9 288.2px,#0000eb 297.4px,#0000c1 309.6px,#0000b8 327.9px,#0000b8 329.4px,#00fcff 329.4px,#00fcff 332.4px,#ff0400 332.4px,#ff7e00 343.1px,#ffd000 352.3px,#feff01 361.4px,#f4ff0b 364.5px)"></i>
<i style="background:linear-gradient(90deg,#f0ff0f 0px,#e9ff16 10.7px,#fbff04 19.8px,#ffe700 25.9px,#ffbb00 32px,#ff7a00 38.1px,#ff5000 41.2px,#ff8900 44.2px,#ff8900 45.8px,#0000b8 45.8px,#0000bf 59.5px,#0000d4 65.6px,#0007ff 71.7px,#0019ff 74.7px,#0024ff 83.9px,#0021ff 105.2px,#0019ff 108.3px,#0007ff 111.3px,#0000c6 120.5px,#0000b9 132.7px,#0000b8 135.7px,#0000b8 137.2px,#ff8800 137.2px,#ff5000 141.8px,#ff9d00 147.9px,#ffd300 154px,#fff700 160.1px,#f2ff0d 166.2px,#e9ff16 175.4px,#fffc00 187.6px,#ffcb00 196.7px,#ff7700 205.9px,#f80000 215px,#f80000 216.5px,#0093ff 216.5px,#0093ff 219.6px,#0000b8 219.6px,#0000c2 239.4px,#0000f6 254.7px,#0000f6 294.3px,#0000c2 309.6px,#0000b8 327.9px,#0000b8 329.4px,#0093ff 329.4px,#0093ff 332.4px,#f80000 332.4px,#ff7700 343.1px,#ffcc00 352.3px,#fffd00 361.4px,#f7ff08 364.5px)"></i>
<i style="background:linear-gradient(90deg,#f1ff0e 0px,#ebff14 10.7px,#fdff02 19.8px,#ffe500 25.9px,#ffb700 32px,#ff7400 38.1px,#ff4900 41.2px,#ff4900 42.7px,#ffe900 42.7px,#ffe900 45.8px,#0000b8 45.8px,#0000bf 59.5px,#0000d7 65.6px,#0000ef 68.6px,#000bff 71.7px,#001bff 74.7px,#0024ff 90px,#0022ff 105.2px,#001bff 108.3px,#000bff 111.3px,#0000ef 114.4px,#0000c7 120.5px,#0000b9 132.7px,#0000b8 135.7px,#0000b8 137.2px,#ffe800 137.2px,#ffe800 140.3px,#ff4900 140.3px,#ff9800 147.9px,#ffd000 154px,#fff500 160.1px,#fdff02 163.2px,#ebff14 172.3px,#f2ff0d 181.5px,#fffb00 187.6px,#ffc900 196.7px,#ff7300 205.9px,#ff2200 212px,#f20000 215px,#f20000 216.5px,#0095ff 216.5px,#0095ff 219.6px,#0000b8 219.6px,#0000c3 239.4px,#0000f6 254.7px,#0000f6 294.3px,#0000c3 309.6px,#0000b8 327.9px,#0000b8 329.4px,#0094ff 329.4px,#0094ff 332.4px,#f20000 332.4px,#ff2200 337px,#ff9500 346.2px,#ffde00 355.3px,#fffb00 361.4px,#f8ff07 364.5px)"></i>
<i style="background:linear-gradient(90deg,#f1ff0e 0px,#ebff14 10.7px,#fdff02 19.8px,#ffe500 25.9px,#ffb700 32px,#ff7400 38.1px,#ff4900 41.2px,#ff4900 42.7px,#ffe800 42.7px,#ffe800 45.8px,#0000b8 45.8px,#0000bf 59.5px,#0000d7 65.6px,#0000ef 68.6px,#000bff 71.7px,#001bff 74.7px,#0024ff 90px,#0022ff 105.2px,#001bff 108.3px,#000bff 111.3px,#0000ef 114.4px,#0000c7 120.5px,#0000b9 132.7px,#0000b8 135.7px,#0000b8 137.2px,#ffe800 137.2px,#ffe800 140.3px,#ff4900 140.3px,#ff9800 147.9px,#ffd000 154px,#fff500 160.1px,#fdff02 163.2px,#ebff14 172.3px,#f2ff0d 181.5px,#fffb00 187.6px,#ffc900 196.7px,#ff7300 205.9px,#ff2200 212px,#f20000 215px,#f20000 216.5px,#0095ff 216.5px,#0095ff 219.6px,#0000b8 219.6px,#0000c3 239.4px,#0000f6 254.7px,#0000f6 294.3px,#0000c3 309.6px,#0000b8 327.9px,#0000b8 329.4px,#0094ff 329.4px,#0094ff 332.4px,#f20000 332.4px,#ff2200 337px,#ff9500 346.2px,#ffde00 355.3px,#fffb00 361.4px,#f8ff07 364.5px)"></i>
<i style="background:linear-gradient(90deg,#f0ff0f 0px,#e9ff16 10.7px,#fbff04 19.8px,#ffe700 25.9px,#ffbb00 32px,#ff7900 38.1px,#ff5000 41.2px,#ff8900 44.2px,#ff8900 45.8px,#0000b8 45.8px,#0000bf 59.5px,#0000d4 65.6px,#0007ff 71.7px,#0019ff 74.7px,#0024ff 83.9px,#0021ff 105.2px,#0019ff 108.3px,#0007ff 111.3px,#0000c6 120.5px,#0000b9 132.7px,#0000b8 135.7px,#0000b8 137.2px,#ff8800 137.2px,#ff5000 141.8px,#ff9d00 147.9px,#ffd300 154px,#fff700 160.1px,#f2ff0d 166.2px,#e9ff16 175.4px,#fffc00 187.6px,#ffcb00 196.7px,#ff7700 205.9px,#f80000 215px,#f80000 216.5px,#0093ff 216.5px,#0093ff 219.6px,#0000b8 219.6px,#0000c2 239.4px,#0000f6 254.7px,#0000f6 294.3px,#0000c2 309.6px,#0000b8 327.9px,#0000b8 329.4px,#0093ff 329.4px,#0093ff 332.4px,#f80000 332.4px,#ff7700 343.1px,#ffcc00 352.3px,#fffd00 361.4px,#f7ff08 364.5px)"></i>
<i style="background:linear-gradient(90deg,#edff12 0px,#e9ff16 13.7px,#fffc00 22.9px,#ffc200 32px,#ff8400 38.1px,#ff3200 44.2px,#ff3200 45.8px,#0000b8 45.8px,#0000c4 62.5px,#0000e5 68.6px,#0000ff 71.7px,#001fff 77.8px,#001fff 105.2px,#0000ff 111.3px,#0000d0 117.4px,#0000be 123.5px,#0000b8 135.7px,#0000b8 137.2px,#ff3200 137.2px,#ff8400 144.9px,#ffc200 151px,#fffb00 160.1px,#e7ff18 172.3px,#f5ff0a 184.5px,#ffff00 187.6px,#ffcf00 196.7px,#ff7d00 205.9px,#ff0400 215px,#ff0400 216.5px,#00fdff 216.5px,#00fdff 219.6px,#0000b8 219.6px,#0000c1 239.4px,#0000f4 254.7px,#0000f9 288.2px,#0000eb 297.4px,#0000c1 309.6px,#0000b8 327.9px,#0000b8 329.4px,#00fcff 329.4px,#00fcff 332.4px,#ff0400 332.4px,#ff7e00 343.1px,#ffd000 352.3px,#feff01 361.4px,#f4ff0b 364.5px)"></i>
<i style="background:linear-gradient(90deg,#e9ff16 0px,#e5ff1a 13.7px,#fcff03 22.9px,#ffe300 29px,#ff9400 38.1px,#ff4a00 44.2px,#ff4a00 45.8px,#004cff 45.8px,#004cff 48.8px,#0000b8 48.8px,#0000c2 62.5px,#0000dc 68.6px,#0000f3 71.7px,#000bff 74.7px,#0020ff 80.8px,#0020ff 102.2px,#000bff 108.3px,#0000f3 111.3px,#0000cb 117.4px,#0000ba 126.6px,#0000b8 132.7px,#0000b8 134.2px,#004cff 134.2px,#004cff 137.2px,#ff4900 137.2px,#ffb300 147.9px,#fff400 157.1px,#fcff03 160.1px,#e5ff1a 169.3px,#e9ff16 181.5px,#fff800 190.6px,#ffc000 199.8px,#ff6500 208.9px,#ff1400 215px,#ff1400 216.5px,#62ff9d 216.5px,#62ff9d 219.6px,#0000b8 219.6px,#0000bf 239.4px,#0000f5 257.7px,#0000f5 291.3px,#0000bf 309.6px,#0000b8 327.9px,#0000b8 329.4px,#62ff9d 329.4px,#62ff9d 332.4px,#ff1400 332.4px,#ff8800 343.1px,#ffd600 352.3px,#fff800 358.4px,#f0ff0f 364.5px)"></i>
<i style="background:linear-gradient(90deg,#e4ff1b 0px,#dfff20 13.7px,#fffe00 25.9px,#ffc300 35.1px,#ff6700 44.2px,#ff6700 45.8px,#05fffa 45.8px,#05fffa 48.8px,#0000b8 48.8px,#0000c6 65.6px,#0000e5 71.7px,#0000fb 74.7px,#001fff 83.9px,#001fff 99.1px,#0000fb 108.3px,#0000d2 114.4px,#0000bc 123.5px,#0000b8 132.7px,#0000b8 134.2px,#05fffa 134.2px,#05fffa 137.2px,#ff6600 137.2px,#ffc300 147.9px,#fffe00 157.1px,#dfff20 169.3px,#e4ff1b 181.5px,#fffe00 190.6px,#ffc900 199.8px,#ff7400 208.9px,#ff2800 215px,#ff2800 216.5px,#ffd500 216.5px,#ffd500 219.6px,#0000b8 219.6px,#0000c2 242.5px,#0000f5 260.8px,#0000f5 288.2px,#0000de 297.4px,#0000c2 306.5px,#0000b8 327.9px,#0000b8 329.4px,#ffd500 329.4px,#ffd500 332.4px,#ff2900 332.4px,#ff9400 343.1px,#ffde00 352.3px,#ffff00 358.4px,#eaff15 364.5px)"></i>
<i style="background:linear-gradient(90deg,#ddff22 0px,#d7ff28 13.7px,#f5ff0a 25.9px,#fffb00 29px,#ffbf00 38.1px,#ff8800 44.2px,#ffca00 47.3px,#ffca00 48.8px,#0000b8 48.8px,#0000c2 65.6px,#0000e8 74.7px,#0000fb 77.8px,#0019ff 86.9px,#0014ff 99.1px,#0000fb 105.2px,#0000ca 114.4px,#0000b9 126.6px,#0000b8 132.7px,#0000b8 134.2px,#ffc900 134.2px,#ff8800 138.8px,#ffd600 147.9px,#fffb00 154px,#dcff23 166.2px,#d9ff26 178.4px,#f8ff07 190.6px,#ffe700 196.7px,#ffa300 205.9px,#ff1c00 218.1px,#ff1c00 219.6px,#0000eb 219.6px,#0000b8 224.2px,#0000c4 245.5px,#0000f4 263.8px,#0000f4 285.2px,#0000d5 297.4px,#0000bc 309.6px,#0000b8 324.8px,#0000eb 327.9px,#0000eb 329.4px,#ff1d00 329.4px,#ffa300 343.1px,#ffe800 352.3px,#fff900 355.3px,#e4ff1b 364.5px)"></i>
<i style="background:linear-gradient(90deg,#d6ff29 0px,#cfff30 13.7px,#e8ff17 25.9px,#fffc00 32px,#ff9700 47.3px,#ff9700 48.8px,#0065ff 48.8px,#0065ff 51.8px,#0000b8 51.8px,#0000c3 68.6px,#0000ff 83.9px,#000bff 93px,#0000ff 99.1px,#0000c3 114.4px,#0000b8 129.6px,#0000b8 131.2px,#0065ff 131.2px,#0065ff 134.2px,#ff9700 134.2px,#fffc00 151px,#d8ff27 163.2px,#cfff30 175.4px,#e5ff1a 187.6px,#fcff03 193.7px,#ffcc00 202.8px,#ff7b00 212px,#ff3b00 218.1px,#ff3b00 219.6px,#00e3ff 219.6px,#00e3ff 222.6px,#0000b8 222.6px,#0000c0 245.5px,#0000ef 266.9px,#0000ef 282.1px,#0000bd 306.5px,#0000b8 324.8px,#0000b8 326.3px,#00e3ff 326.3px,#00e3ff 329.4px,#ff3c00 329.4px,#ffb400 343.1px,#fff300 352.3px,#fcff03 355.3px,#dcff23 364.5px)"></i>
<i style="background:linear-gradient(90deg,#cdff32 0px,#c8ff37 16.8px,#e3ff1c 29px,#fdff02 35.1px,#ffc300 47.3px,#ffc300 48.8px,#9eff61 48.8px,#9eff61 51.8px,#0000b8 51.8px,#0000c3 71.7px,#0000ef 90px,#0000e5 99.1px,#0000bf 114.4px,#0000b8 129.6px,#0000b8 131.2px,#9fff60 131.2px,#9fff60 134.2px,#ffc300 134.2px,#fdff02 147.9px,#d2ff2d 160.1px,#c6ff39 172.3px,#d4ff2b 184.5px,#ffff00 196.7px,#ffc700 205.9px,#ff5d00 218.1px,#ff5d00 219.6px,#f7ff08 219.6px,#f7ff08 222.6px,#0000b8 222.6px,#0000c0 248.6px,#0000e6 269.9px,#0000de 285.2px,#0000bd 303.5px,#0000b8 324.8px,#0000b8 326.3px,#f7ff08 326.3px,#f7ff08 329.4px,#ff5d00 329.4px,#ffc700 343.1px,#feff01 352.3px,#d3ff2c 364.5px)"></i>
<i style="background:linear-gradient(90deg,#c4ff3b 0px,#bdff42 16.8px,#dbff24 32px,#fdff02 41.2px,#ffed00 50.3px,#ffed00 51.8px,#00baff 51.8px,#00baff 54.9px,#0000b8 54.9px,#0000c6 77.8px,#0000d7 93px,#0000b9 120.5px,#0000b8 126.6px,#0000b8 128.1px,#00baff 128.1px,#00baff 131.2px,#ffed00 131.2px,#fdff02 141.8px,#cbff34 157.1px,#bcff43 172.3px,#d1ff2e 187.6px,#fffe00 199.8px,#ffaf00 212px,#ff6a00 221.1px,#ff6a00 222.6px,#0070ff 222.6px,#0070ff 225.7px,#0000b8 225.7px,#0000c3 254.7px,#0000d8 276px,#0000b9 309.6px,#0000b8 321.8px,#0000b8 323.3px,#0070ff 323.3px,#0070ff 326.3px,#ff6b00 326.3px,#ffee00 346.2px,#fffe00 349.2px,#d1ff2e 361.4px,#c9ff36 364.5px)"></i>
<i style="background:linear-gradient(90deg,#baff45 0px,#b2ff4d 16.8px,#ceff31 35.1px,#e5ff1a 47.3px,#e1ff1e 50.3px,#b0ff4f 53.4px,#b0ff4f 54.9px,#0017ff 54.9px,#0017ff 57.9px,#0000b8 57.9px,#0000c6 96.1px,#0000b8 123.5px,#0000b8 125px,#0017ff 125px,#0017ff 128.1px,#b0ff4f 128.1px,#e1ff1e 132.7px,#e3ff1c 138.8px,#b4ff4b 163.2px,#b6ff49 178.4px,#d8ff27 193.7px,#ffff00 202.8px,#ff9300 221.1px,#ff9300 222.6px,#c5ff3a 222.6px,#c5ff3a 225.7px,#0000b8 225.7px,#0000c5 263.8px,#0000c5 285.2px,#0000b8 321.8px,#0000b8 323.3px,#c5ff3a 323.3px,#c5ff3a 326.3px,#ff9300 326.3px,#feff01 346.2px,#c6ff39 361.4px,#bfff40 364.5px)"></i>
<i style="background:linear-gradient(90deg,#afff50 0px,#a6ff59 19.8px,#c0ff3f 44.2px,#b5ff4a 50.3px,#a2ff5d 53.4px,#66ff99 56.4px,#66ff99 57.9px,#0007ff 57.9px,#0007ff 61px,#0000b8 61px,#0000bc 105.2px,#0000b8 120.5px,#0000b8 122px,#0007ff 122px,#0007ff 125px,#66ff99 125px,#a2ff5d 129.6px,#beff41 135.7px,#b8ff47 147.9px,#a6ff59 169.3px,#baff45 187.6px,#ecff13 202.8px,#fff500 208.9px,#ffba00 221.1px,#ffb200 224.2px,#ffb200 225.7px,#00d7ff 225.7px,#00d7ff 228.8px,#0000b8 228.8px,#0000bf 285.2px,#0000b8 318.7px,#0000b8 320.2px,#00d7ff 320.2px,#00d7ff 323.3px,#ffb200 323.3px,#ffe600 337px,#f9ff06 343.1px,#c1ff3e 358.4px,#b4ff4b 364.5px)"></i>
<i style="background:linear-gradient(90deg,#a4ff5b 0px,#9aff65 22.9px,#a1ff5e 44.2px,#8dff72 50.3px,#5affa5 56.4px,#18ffe7 59.5px,#18ffe7 61px,#0000f5 61px,#0000b8 65.6px,#0000b8 117.4px,#0000f5 120.5px,#0000f5 122px,#18ffe7 122px,#5affa5 126.6px,#8eff71 132.7px,#a1ff5e 138.8px,#9bff64 172.3px,#b5ff4a 190.6px,#f1ff0e 208.9px,#fdff02 212px,#ffdc00 224.2px,#f8ff07 227.2px,#f8ff07 228.8px,#0028ff 228.8px,#0028ff 231.8px,#0000b8 231.8px,#0000b8 312.6px,#0000b8 315.7px,#0000b8 317.2px,#0028ff 317.2px,#0028ff 320.2px,#f8ff07 320.2px,#ffdc00 324.8px,#fdff02 337px,#bcff43 355.3px,#a8ff57 364.5px)"></i>
<i style="background:linear-gradient(90deg,#98ff67 0px,#8cff73 25.9px,#84ff7b 44.2px,#6dff92 50.3px,#3affc5 56.4px,#11ffee 59.5px,#00ccff 62.5px,#00ccff 64px,#0021ff 64px,#0021ff 67.1px,#0000b8 67.1px,#0000b8 114.4px,#0000b8 115.9px,#0021ff 115.9px,#0021ff 118.9px,#00ccff 118.9px,#11ffee 123.5px,#3affc5 126.6px,#6dff92 132.7px,#89ff76 141.8px,#95ff6a 178.4px,#beff41 199.8px,#f9ff06 221.1px,#f5ff0a 227.2px,#f5ff0a 228.8px,#a0ff5f 228.8px,#a0ff5f 231.8px,#0000d9 231.8px,#0000b8 236.4px,#0000b8 312.6px,#0000d9 315.7px,#0000d9 317.2px,#a0ff5f 317.2px,#a0ff5f 320.2px,#f5ff0a 320.2px,#f9ff06 327.9px,#a1ff5e 361.4px,#9cff63 364.5px)"></i>
<i style="background:linear-gradient(90deg,#8dff72 0px,#72ff8d 41.2px,#53ffac 50.3px,#21ffde 56.4px,#00faff 59.5px,#0099ff 65.6px,#0099ff 67.1px,#003aff 67.1px,#0000d8 71.7px,#0000b8 74.7px,#0000b8 108.3px,#0000d8 111.3px,#003aff 114.4px,#003aff 115.9px,#0099ff 115.9px,#00faff 123.5px,#3effc1 129.6px,#61ff9e 135.7px,#79ff86 147.9px,#92ff6d 184.5px,#d6ff29 218.1px,#d6ff29 224.2px,#beff41 230.3px,#beff41 231.8px,#48ffb7 231.8px,#48ffb7 234.8px,#0000d4 234.8px,#0000b8 239.4px,#0000b8 309.6px,#0000d4 312.6px,#0000d4 314.1px,#48ffb7 314.1px,#48ffb7 317.2px,#beff41 317.2px,#d6ff29 324.8px,#d1ff2e 334px,#91ff6e 364.5px)"></i>
<i style="background:linear-gradient(90deg,#83ff7c 0px,#5effa1 41.2px,#3dffc2 50.3px,#0dfff2 56.4px,#00eaff 59.5px,#0036ff 71.7px,#0003ff 74.7px,#0000cf 77.8px,#0000bd 80.8px,#0000b8 99.1px,#0000bd 102.2px,#0000cf 105.2px,#0003ff 108.3px,#00c2ff 120.5px,#00eaff 123.5px,#0dfff2 126.6px,#3dffc2 132.7px,#5effa1 141.8px,#94ff6b 193.7px,#bbff44 218.1px,#acff53 227.2px,#83ff7c 233.3px,#83ff7c 234.8px,#2dffd2 234.8px,#2dffd2 237.9px,#0001ff 237.9px,#0001ff 240.9px,#0000b8 240.9px,#0000b8 306.5px,#0000b8 308px,#0001ff 308px,#0001ff 311.1px,#2dffd2 311.1px,#2dffd2 314.1px,#83ff7c 314.1px,#acff53 321.8px,#bbff44 330.9px,#87ff78 364.5px)"></i>
<i style="background:linear-gradient(90deg,#7aff85 0px,#54ffab 38.1px,#39ffc6 47.3px,#00fbff 56.4px,#0090ff 65.6px,#001aff 74.7px,#0000fa 77.8px,#0000cd 83.9px,#0000bd 90px,#0000c2 96.1px,#0000e0 102.2px,#0000fa 105.2px,#001aff 108.3px,#00dcff 123.5px,#00fbff 126.6px,#39ffc6 135.7px,#59ffa6 147.9px,#9fff60 215px,#90ff6f 224.2px,#70ff8f 230.3px,#38ffc7 236.4px,#00faff 239.4px,#00faff 240.9px,#0039ff 240.9px,#0039ff 244px,#0000b8 244px,#0000b8 303.5px,#0000b8 305px,#0039ff 305px,#0039ff 308px,#00fbff 308px,#38ffc7 312.6px,#70ff8f 318.7px,#90ff6f 324.8px,#9fff60 334px,#7dff82 364.5px)"></i>
<i style="background:linear-gradient(90deg,#71ff8e 0px,#46ffb9 38.1px,#28ffd7 47.3px,#03fffc 53.4px,#00cdff 59.5px,#0026ff 74.7px,#000bff 77.8px,#0000f5 80.8px,#0000da 86.9px,#0000d5 93px,#0000e5 99.1px,#0000f5 102.2px,#000bff 105.2px,#0067ff 114.4px,#00e9ff 126.6px,#03fffc 129.6px,#34ffcb 138.8px,#55ffaa 154px,#84ff7b 205.9px,#79ff86 218.1px,#52ffad 227.2px,#07fff8 236.4px,#00e3ff 239.4px,#00bcff 242.5px,#00bcff 244px,#005cff 244px,#005cff 247px,#0000e4 247px,#0000b8 251.6px,#0000b8 297.4px,#0000e4 300.4px,#0000e4 301.9px,#005cff 301.9px,#005cff 305px,#00bcff 305px,#00e3ff 309.6px,#07fff8 312.6px,#52ffad 321.8px,#79ff86 330.9px,#84ff7b 343.1px,#74ff8b 364.5px)"></i>
<i style="background:linear-gradient(90deg,#68ff97 0px,#40ffbf 35.1px,#18ffe7 47.3px,#08fff7 50.3px,#00f3ff 53.4px,#0086ff 65.6px,#0030ff 74.7px,#0007ff 80.8px,#0000ea 90px,#0000f8 99.1px,#0007ff 102.2px,#004aff 111.3px,#00dbff 126.6px,#00f3ff 129.6px,#08fff7 132.7px,#31ffce 141.8px,#57ffa8 163.2px,#70ff8f 199.8px,#5dffa2 215px,#38ffc7 224.2px,#00f9ff 233.3px,#007eff 245.5px,#005cff 248.6px,#001bff 251.6px,#0000de 254.7px,#0000bd 257.7px,#0000b8 288.2px,#0000bd 291.3px,#0000de 294.3px,#001bff 297.4px,#005cff 300.4px,#00deff 312.6px,#00f9ff 315.7px,#47ffb8 327.9px,#69ff96 340.1px,#6eff91 358.4px,#6aff95 364.5px)"></i>
<i style="background:linear-gradient(90deg,#5effa1 0px,#3cffc3 32px,#19ffe6 44.2px,#00f9ff 50.3px,#009dff 62.5px,#0038ff 74.7px,#0009ff 83.9px,#0000fc 93px,#0009ff 99.1px,#0038ff 108.3px,#00e6ff 129.6px,#00f9ff 132.7px,#36ffc9 147.9px,#5affa5 175.4px,#5cffa3 199.8px,#3cffc3 215px,#02fffd 227.2px,#00a6ff 239.4px,#0009ff 257.7px,#0000cf 263.8px,#0000be 273px,#0000c5 282.1px,#0000d0 285.2px,#0009ff 291.3px,#00edff 318.7px,#02fffd 321.8px,#3cffc3 334px,#5bffa4 349.2px,#5fffa0 364.5px)"></i>
<i style="background:linear-gradient(90deg,#55ffaa 0px,#39ffc6 29px,#0dfff2 44.2px,#00feff 47.3px,#00afff 59.5px,#003eff 74.7px,#0015ff 83.9px,#000bff 93px,#0020ff 102.2px,#0052ff 111.3px,#00edff 132.7px,#00feff 135.7px,#34ffcb 151px,#53ffac 175.4px,#51ffae 196.7px,#32ffcd 212px,#00fdff 224.2px,#0099ff 239.4px,#0015ff 257.7px,#0005ff 260.8px,#0000df 273px,#0000eb 282.1px,#0005ff 288.2px,#006bff 303.5px,#00ecff 321.8px,#00fdff 324.8px,#3bffc4 340.1px,#53ffac 355.3px,#56ffa9 364.5px)"></i>
<i style="background:linear-gradient(90deg,#50ffaf 0px,#38ffc7 25.9px,#0ffff0 41.2px,#03fffc 44.2px,#00bdff 56.4px,#0043ff 74.7px,#0020ff 83.9px,#0017ff 93px,#0029ff 102.2px,#0068ff 114.4px,#00e3ff 132.7px,#03fffc 138.8px,#32ffcd 154px,#4fffb0 178.4px,#4affb5 196.7px,#29ffd6 212px,#05fffa 221.1px,#00d3ff 230.3px,#0022ff 257.7px,#0000fd 266.9px,#0000f4 276px,#0000fd 282.1px,#0022ff 291.3px,#00f5ff 324.8px,#12ffed 330.9px,#41ffbe 346.2px,#50ffaf 364.5px)"></i>
<i style="background:linear-gradient(90deg,#4bffb4 0px,#32ffcd 25.9px,#06fff9 41.2px,#00eaff 47.3px,#0047ff 74.7px,#0028ff 83.9px,#0021ff 93px,#0030ff 102.2px,#0068ff 114.4px,#00eaff 135.7px,#06fff9 141.8px,#32ffcd 157.1px,#4bffb4 181.5px,#40ffbf 199.8px,#18ffe7 215px,#00feff 221.1px,#0095ff 239.4px,#002dff 257.7px,#0009ff 269.9px,#0009ff 279.1px,#002dff 291.3px,#0095ff 309.6px,#00fdff 327.9px,#3affc5 346.2px,#4bffb4 364.5px)"></i>
<i style="background:linear-gradient(90deg,#46ffb9 0px,#2cffd3 25.9px,#00fdff 41.2px,#009cff 59.5px,#004bff 74.7px,#002aff 86.9px,#002fff 99.1px,#0058ff 111.3px,#00f0ff 138.8px,#00fdff 141.8px,#32ffcd 160.1px,#47ffb8 181.5px,#3bffc4 199.8px,#12ffed 215px,#00f8ff 221.1px,#0043ff 254.7px,#001bff 266.9px,#0017ff 279.1px,#0036ff 291.3px,#0095ff 309.6px,#00f8ff 327.9px,#1dffe2 337px,#3fffc0 352.3px,#47ffb8 364.5px)"></i>
<i style="background:linear-gradient(90deg,#43ffbc 0px,#2dffd2 22.9px,#03fffc 38.1px,#00b9ff 53.4px,#0059ff 71.7px,#0034ff 83.9px,#0030ff 96.1px,#004dff 108.3px,#00a9ff 126.6px,#00f6ff 141.8px,#0efff1 147.9px,#37ffc8 166.2px,#43ffbc 187.6px,#2affd5 205.9px,#02fffd 218.1px,#00a6ff 236.4px,#004aff 254.7px,#0027ff 266.9px,#0023ff 279.1px,#003eff 291.3px,#0095ff 309.6px,#00f4ff 327.9px,#02fffd 330.9px,#30ffcf 346.2px,#43ffbc 364.5px)"></i>
<i style="background:linear-gradient(90deg,#40ffbf 0px,#29ffd6 22.9px,#00fbff 38.1px,#005aff 71.7px,#0038ff 83.9px,#0035ff 96.1px,#004fff 108.3px,#00a3ff 126.6px,#00fbff 144.9px,#33ffcc 166.2px,#40ffbf 187.6px,#26ffd9 205.9px,#00feff 218.1px,#0050ff 254.7px,#0030ff 266.9px,#002dff 279.1px,#0046ff 291.3px,#0096ff 309.6px,#00feff 330.9px,#33ffcc 349.2px,#40ffbf 364.5px)"></i>
<i style="background:linear-gradient(90deg,#3dffc2 0px,#2bffd4 19.8px,#01fffe 35.1px,#00aeff 53.4px,#005aff 71.7px,#003bff 83.9px,#003bff 99.1px,#005aff 111.3px,#00f5ff 144.9px,#0cfff3 151px,#34ffcb 169.3px,#3bffc4 190.6px,#1bffe4 208.9px,#00fcff 218.1px,#0056ff 254.7px,#0035ff 269.9px,#003dff 285.2px,#006dff 300.4px,#00fbff 330.9px,#30ffcf 349.2px,#3dffc2 364.5px)"></i>
<i style="background:linear-gradient(90deg,#3bffc4 0px,#27ffd8 19.8px,#00fbff 35.1px,#005aff 71.7px,#003bff 86.9px,#0042ff 102.2px,#0071ff 117.4px,#00fbff 147.9px,#32ffcd 169.3px,#3bffc4 187.6px,#22ffdd 205.9px,#00faff 218.1px,#0066ff 251.6px,#0040ff 266.9px,#0040ff 282.1px,#0066ff 297.4px,#00faff 330.9px,#33ffcc 352.3px,#3bffc4 364.5px)"></i>
<i style="background:linear-gradient(90deg,#39ffc6 0px,#24ffdb 19.8px,#02fffd 32px,#00b4ff 50.3px,#0059ff 71.7px,#003cff 86.9px,#0043ff 102.2px,#006fff 117.4px,#00f7ff 147.9px,#0dfff2 154px,#33ffcc 172.3px,#38ffc7 190.6px,#18ffe7 208.9px,#00f9ff 218.1px,#006aff 251.6px,#0046ff 266.9px,#0046ff 282.1px,#006aff 297.4px,#00f9ff 330.9px,#2dffd2 349.2px,#3affc5 364.5px)"></i>
<i style="background:linear-gradient(90deg,#38ffc7 0px,#22ffdd 19.8px,#00fdff 32px,#0062ff 68.6px,#0040ff 83.9px,#0040ff 99.1px,#0062ff 114.4px,#00feff 151px,#2dffd2 169.3px,#38ffc7 187.6px,#20ffdf 205.9px,#00f9ff 218.1px,#006eff 251.6px,#004cff 266.9px,#004cff 282.1px,#006eff 297.4px,#00f9ff 330.9px,#26ffd9 346.2px,#39ffc6 364.5px)"></i>
<i style="background:linear-gradient(90deg,#37ffc8 0px,#1fffe0 19.8px,#00faff 32px,#0061ff 68.6px,#0040ff 83.9px,#0040ff 99.1px,#0061ff 114.4px,#00faff 151px,#30ffcf 172.3px,#37ffc8 190.6px,#18ffe7 208.9px,#00f9ff 218.1px,#0072ff 251.6px,#0052ff 266.9px,#0052ff 282.1px,#0072ff 297.4px,#00f9ff 330.9px,#30ffcf 352.3px,#38ffc7 364.5px)"></i>
</div>
<div class="k" style="left:-0.5px;top:251px;width:1px;height:4px"></div>
<div class="k" style="left:0;top:-0.5px;width:4px;height:1px"></div>
<div class="k" style="left:60.5px;top:251px;width:1px;height:4px"></div>
<div class="k" style="left:0;top:42.0px;width:4px;height:1px"></div>
<div class="k" style="left:121.5px;top:251px;width:1px;height:4px"></div>
<div class="k" style="left:0;top:84.5px;width:4px;height:1px"></div>
<div class="k" style="left:182.5px;top:251px;width:1px;height:4px"></div>
<div class="k" style="left:0;top:127.0px;width:4px;height:1px"></div>
<div class="k" style="left:243.5px;top:251px;width:1px;height:4px"></div>
<div class="k" style="left:0;top:169.5px;width:4px;height:1px"></div>
<div class="k" style="left:304.5px;top:251px;width:1px;height:4px"></div>
<div class="k" style="left:0;top:212.0px;width:4px;height:1px"></div>
<div class="k" style="left:365.0px;top:251px;width:1px;height:4px"></div>
<div class="k" style="left:0;top:254.0px;width:4px;height:1px"></div>
</div>
<div class="t xt" style="left:518.4px;top:303px">-0.6</div>
<div class="t yt" style="left:472px;top:33.9px">0.6</div>
<div class="t xt" style="left:579.1px;top:303px">-0.4</div>
<div class="t yt" style="left:472px;top:76.2px">0.4</div>
<div class="t xt" style="left:639.7px;top:303px">-0.2</div>
<div class="t yt" style="left:472px;top:118.4px">0.2</div>
<div class="t xt" style="left:700.4px;top:303px">0</div>
<div class="t yt" style="left:472px;top:160.7px">0.0</div>
<div class="t xt" style="left:761.1px;top:303px">0.2</div>
<div class="t yt" style="left:472px;top:202.9px">-0.2</div>
<div class="t xt" style="left:821.8px;top:303px">0.4</div>
<div class="t yt" style="left:472px;top:245.2px">-0.4</div>
<div class="t xt" style="left:882.4px;top:303px">0.6</div>
<div class="t yt" style="left:472px;top:287.4px">-0.6</div>
<div class="xl" style="left:705.5px;top:317px">x (microns)</div>
<div class="yl" style="left:374.5px;top:166.5px">z (microns)</div>
<div class="ti" style="left:713.4px;top:6.4px">λ<sub>2</sub> = 1203 <b>nm</b></div>
<div class="lb" style="left:449.3px;top:17.2px">(b)</div>
<div class="p" style="left:959px;top:46px"><div class="g">
<i style="background:linear-gradient(90deg,#0084ff 0px,#0062ff 44.2px,#0046ff 59.5px,#0000f9 77.8px,#0000e3 86.9px,#0000e7 99.1px,#0007ff 108.3px,#0046ff 123.5px,#006aff 144.9px,#008aff 193.7px,#0081ff 233.3px,#0063ff 248.6px,#001bff 266.9px,#0016ff 279.1px,#002fff 288.2px,#006dff 303.5px,#0085ff 321.8px,#0086ff 364.5px)"></i>
<i style="background:linear-gradient(90deg,#0086ff 0px,#0062ff 44.2px,#003eff 59.5px,#0000fc 74.7px,#0000e2 83.9px,#0000de 96.1px,#0000f1 105.2px,#0000fc 108.3px,#0051ff 129.6px,#0076ff 157.1px,#008eff 202.8px,#0082ff 236.4px,#0067ff 248.6px,#001bff 266.9px,#0013ff 276px,#0024ff 285.2px,#0071ff 303.5px,#0089ff 321.8px,#0088ff 364.5px)"></i>
<i style="background:linear-gradient(90deg,#0089ff 0px,#0066ff 41.2px,#0041ff 56.4px,#0001ff 71.7px,#0000dd 83.9px,#0000dd 99.1px,#0001ff 111.3px,#004bff 129.6px,#006eff 147.9px,#0091ff 199.8px,#008aff 233.3px,#0076ff 245.5px,#0041ff 257.7px,#001bff 266.9px,#0012ff 276px,#0025ff 285.2px,#0076ff 303.5px,#008eff 321.8px,#008dff 361.4px,#008bff 364.5px)"></i>
<i style="background:linear-gradient(90deg,#008cff 0px,#0066ff 41.2px,#003aff 56.4px,#0004ff 68.6px,#0000d7 83.9px,#0000d7 99.1px,#0004ff 114.4px,#004fff 132.7px,#0073ff 151px,#0096ff 199.8px,#008fff 233.3px,#007bff 245.5px,#0044ff 257.7px,#001aff 266.9px,#0011ff 276px,#0025ff 285.2px,#0071ff 300.4px,#008cff 312.6px,#0096ff 343.1px,#008eff 364.5px)"></i>
<i style="background:linear-gradient(90deg,#0090ff 0px,#006aff 38.1px,#003eff 53.4px,#0000fa 68.6px,#0000d5 80.8px,#0000cd 96.1px,#0000e4 108.3px,#0000fa 114.4px,#005dff 138.8px,#007eff 160.1px,#009cff 202.8px,#0096ff 233.3px,#0080ff 245.5px,#0059ff 254.7px,#001aff 266.9px,#000fff 276px,#0026ff 285.2px,#0076ff 300.4px,#0092ff 312.6px,#009cff 343.1px,#0092ff 364.5px)"></i>
<i style="background:linear-gradient(90deg,#0095ff 0px,#0069ff 38.1px,#0038ff 53.4px,#0000ff 65.6px,#0000cd 80.8px,#0000c5 96.1px,#0000dc 108.3px,#0000ff 117.4px,#0059ff 138.8px,#007dff 157.1px,#00a2ff 202.8px,#009dff 233.3px,#0087ff 245.5px,#005eff 254.7px,#0019ff 266.9px,#000dff 276px,#0027ff 285.2px,#007cff 300.4px,#009aff 312.6px,#00a3ff 340.1px,#0097ff 364.5px)"></i>
<i style="background:linear-gradient(90deg,#009aff 0px,#006fff 35.1px,#003eff 50.3px,#0007ff 62.5px,#0000d4 74.7px,#0000bc 83.9px,#0000bc 99.1px,#0000ea 114.4px,#0007ff 120.5px,#0056ff 138.8px,#007eff 157.1px,#00a8ff 199.8px,#00a6ff 233.3px,#008eff 245.5px,#0063ff 254.7px,#0019ff 266.9px,#000bff 276px,#0019ff 282.1px,#0083ff 300.4px,#00a2ff 312.6px,#00abff 340.1px,#009dff 364.5px)"></i>
<i style="background:linear-gradient(90deg,#00a0ff 0px,#0071ff 35.1px,#003eff 50.3px,#0003ff 62.5px,#0000f3 65.6px,#0000d6 68.6px,#0000b7 74.7px,#0000b7 108.3px,#0000d6 114.4px,#0000f3 117.4px,#0003ff 120.5px,#0056ff 138.8px,#007cff 154px,#00abff 193.7px,#00b4ff 224.2px,#00a6ff 239.4px,#008aff 248.6px,#003cff 260.8px,#0017ff 266.9px,#0008ff 273px,#000dff 279.1px,#0027ff 285.2px,#007bff 297.4px,#009fff 306.5px,#00b4ff 321.8px,#00adff 352.3px,#00a3ff 364.5px)"></i>
<i style="background:linear-gradient(90deg,#00a7ff 0px,#006fff 38.1px,#0035ff 53.4px,#000fff 59.5px,#0000dc 62.5px,#0000bc 65.6px,#0000b4 71.7px,#0000b4 114.4px,#0000bc 117.4px,#0000dc 120.5px,#000fff 123.5px,#0043ff 132.7px,#0076ff 147.9px,#00aaff 184.5px,#00c1ff 218.1px,#00b7ff 236.4px,#0092ff 248.6px,#0056ff 257.7px,#0016ff 266.9px,#0005ff 273px,#000aff 279.1px,#0027ff 285.2px,#0081ff 297.4px,#00a9ff 306.5px,#00bdff 318.7px,#00bcff 343.1px,#00aaff 364.5px)"></i>
<i style="background:linear-gradient(90deg,#00afff 0px,#007cff 35.1px,#0057ff 47.3px,#0032ff 53.4px,#0000ee 56.4px,#0000ba 59.5px,#0000b4 71.7px,#0000b4 120.5px,#0000ba 123.5px,#0000ee 126.6px,#0032ff 129.6px,#0057ff 135.7px,#0081ff 151px,#00b2ff 184.5px,#00ceff 221.1px,#00c3ff 236.4px,#00a9ff 245.5px,#0073ff 254.7px,#0013ff 266.9px,#0001ff 273px,#0007ff 279.1px,#0026ff 285.2px,#0088ff 297.4px,#00b4ff 306.5px,#00caff 318.7px,#00c9ff 340.1px,#00b2ff 364.5px)"></i>
<i style="background:linear-gradient(90deg,#00b7ff 0px,#008eff 29px,#006aff 44.2px,#005eff 47.3px,#002aff 50.3px,#0000c5 53.4px,#0000b4 56.4px,#0000b4 126.6px,#0000c5 129.6px,#0029ff 132.7px,#005eff 135.7px,#0082ff 147.9px,#00b1ff 175.4px,#00deff 221.1px,#00d1ff 236.4px,#00b4ff 245.5px,#0078ff 254.7px,#0010ff 266.9px,#0002ff 269.9px,#0002ff 279.1px,#0025ff 285.2px,#0090ff 297.4px,#00c0ff 306.5px,#00d6ff 315.7px,#00dbff 334px,#00baff 364.5px)"></i>
<i style="background:linear-gradient(90deg,#00c0ff 0px,#0099ff 29px,#0073ff 44.2px,#0073ff 45.8px,#000dff 45.8px,#000dff 48.8px,#0000b4 48.8px,#0000b4 132.7px,#0000b4 134.2px,#000dff 134.2px,#000dff 137.2px,#0073ff 137.2px,#00afff 166.2px,#00efff 221.1px,#00e1ff 236.4px,#00c0ff 245.5px,#007eff 254.7px,#0023ff 263.8px,#000bff 266.9px,#0000fb 269.9px,#0000f4 276px,#0000fb 279.1px,#000bff 282.1px,#0060ff 291.3px,#00aeff 300.4px,#00d9ff 309.6px,#00eeff 324.8px,#00d6ff 349.2px,#00c3ff 364.5px)"></i>
<i style="background:linear-gradient(90deg,#00caff 0px,#00a5ff 29px,#0086ff 41.2px,#0086ff 42.7px,#0000ff 42.7px,#0000ff 45.8px,#0000b4 45.8px,#0000b4 135.7px,#0000b4 137.2px,#0000ff 137.2px,#0000ff 140.3px,#0086ff 140.3px,#00b5ff 163.2px,#02fffd 221.1px,#00f7ff 233.3px,#00deff 242.5px,#00a1ff 251.6px,#001fff 263.8px,#0005ff 266.9px,#0000ec 273px,#0000f3 279.1px,#0005ff 282.1px,#003fff 288.2px,#00a1ff 297.4px,#00deff 306.5px,#00fdff 318.7px,#00fbff 334px,#00cdff 364.5px)"></i>
<i style="background:linear-gradient(90deg,#00d5ff 0px,#00adff 32px,#009aff 38.1px,#009aff 39.6px,#0007ff 39.6px,#0007ff 42.7px,#0000b4 42.7px,#0000b4 132.7px,#0000b4 138.8px,#0000b4 140.3px,#0007ff 140.3px,#0007ff 143.3px,#009aff 143.3px,#00beff 160.1px,#00f0ff 199.8px,#09fff6 212px,#18ffe7 227.2px,#00fcff 239.4px,#00ddff 245.5px,#00aaff 251.6px,#0019ff 263.8px,#0000fc 266.9px,#0000e1 273px,#0000ea 279.1px,#0000fc 282.1px,#0019ff 285.2px,#00aaff 297.4px,#00ddff 303.5px,#00fcff 309.6px,#17ffe8 321.8px,#09fff6 337px,#00f0ff 349.2px,#00d8ff 364.5px)"></i>
<i style="background:linear-gradient(90deg,#00e0ff 0px,#00beff 32px,#00b7ff 35.1px,#00b7ff 36.6px,#0011ff 36.6px,#0011ff 39.6px,#0000b4 39.6px,#0000b9 111.3px,#0000b4 141.8px,#0000b4 143.3px,#0011ff 143.3px,#0011ff 146.4px,#00b7ff 146.4px,#00d4ff 169.3px,#00f8ff 196.7px,#0dfff2 205.9px,#2fffd0 224.2px,#27ffd8 233.3px,#03fffc 242.5px,#00d4ff 248.6px,#008eff 254.7px,#0011ff 263.8px,#0000f1 266.9px,#0000de 269.9px,#0000d5 276px,#0000de 279.1px,#0000f1 282.1px,#0011ff 285.2px,#00b4ff 297.4px,#00eeff 303.5px,#03fffc 306.5px,#2dffd2 318.7px,#27ffd8 330.9px,#00feff 349.2px,#00e3ff 364.5px)"></i>
<i style="background:linear-gradient(90deg,#00ecff 0px,#00d1ff 32px,#00d1ff 33.5px,#0040ff 33.5px,#0040ff 36.6px,#0000b4 36.6px,#0000bd 105.2px,#0000b4 144.9px,#0000b4 146.4px,#0040ff 146.4px,#0040ff 149.4px,#00d1ff 149.4px,#00faff 190.6px,#16ffe9 202.8px,#48ffb7 224.2px,#42ffbd 233.3px,#18ffe7 242.5px,#02fffd 245.5px,#00beff 251.6px,#0006ff 263.8px,#0000cf 269.9px,#0000c5 276px,#0000cf 279.1px,#0006ff 285.2px,#00beff 297.4px,#02fffd 303.5px,#37ffc8 312.6px,#48ffb7 318.7px,#44ffbb 327.9px,#00ffff 355.3px,#00efff 364.5px)"></i>
<i style="background:linear-gradient(90deg,#00f8ff 0px,#00e8ff 29px,#00e8ff 30.5px,#0099ff 30.5px,#0099ff 33.5px,#0000b4 33.5px,#0000c4 99.1px,#0000b4 147.9px,#0000b4 149.4px,#0099ff 149.4px,#0099ff 152.5px,#00e8ff 152.5px,#02fffd 187.6px,#39ffc6 208.9px,#63ff9c 224.2px,#61ff9e 233.3px,#44ffbb 239.4px,#17ffe8 245.5px,#00f5ff 248.6px,#0098ff 254.7px,#0028ff 260.8px,#0000f6 263.8px,#0000d2 266.9px,#0000bc 269.9px,#0000b3 276px,#0000bc 279.1px,#0000d2 282.1px,#0000f6 285.2px,#0028ff 288.2px,#00caff 297.4px,#00f5ff 300.4px,#17ffe8 303.5px,#56ffa9 312.6px,#66ff99 318.7px,#5dffa2 327.9px,#07fff8 358.4px,#00fcff 364.5px)"></i>
<i style="background:linear-gradient(90deg,#06fff9 0px,#00fdff 25.9px,#00e8ff 29px,#00e8ff 30.5px,#0000dc 30.5px,#0000b4 35.1px,#0000cd 96.1px,#0000b4 147.9px,#0000dc 151px,#0000dc 152.5px,#00e8ff 152.5px,#00fdff 157.1px,#06fff9 181.5px,#2effd1 199.8px,#80ff7f 224.2px,#83ff7c 233.3px,#66ff99 239.4px,#2fffd0 245.5px,#0afff5 248.6px,#00d9ff 251.6px,#005bff 257.7px,#005bff 259.2px,#0010ff 259.2px,#0000d1 263.8px,#0000b9 266.9px,#0000b3 276px,#0000b9 282.1px,#0000d1 285.2px,#0010ff 288.2px,#0010ff 289.8px,#005bff 289.8px,#00d9ff 297.4px,#0afff5 300.4px,#4bffb4 306.5px,#79ff86 312.6px,#87ff78 318.7px,#78ff87 327.9px,#1cffe3 355.3px,#0afff5 364.5px)"></i>
<i style="background:linear-gradient(90deg,#13ffec 0px,#0ffff0 19.8px,#13ffec 25.9px,#13ffec 27.4px,#0063ff 27.4px,#0063ff 30.5px,#0000b4 30.5px,#0000c7 68.6px,#0000d9 93px,#0000b6 141.8px,#0000b4 151px,#0000b4 152.5px,#0063ff 152.5px,#0063ff 155.5px,#13ffec 155.5px,#10ffef 178.4px,#2bffd4 193.7px,#7cff83 215px,#a7ff58 227.2px,#a9ff56 233.3px,#8fff70 239.4px,#4cffb3 245.5px,#23ffdc 248.6px,#00ebff 251.6px,#00ebff 253.1px,#0088ff 253.1px,#0088ff 256.2px,#0000f3 256.2px,#0000b4 260.8px,#0000b4 288.2px,#0000f3 291.3px,#0000f3 292.8px,#0088ff 292.8px,#0088ff 295.8px,#00ebff 295.8px,#23ffdc 300.4px,#71ff8e 306.5px,#8fff70 309.6px,#a9ff56 315.7px,#9fff60 324.8px,#2affd5 355.3px,#17ffe8 364.5px)"></i>
<i style="background:linear-gradient(90deg,#20ffdf 0px,#20ffdf 16.8px,#27ffd8 22.9px,#13ffec 25.9px,#13ffec 27.4px,#0000cb 27.4px,#0000b4 32px,#0000c5 62.5px,#0000e6 90px,#0000d8 108.3px,#0000b9 135.7px,#0000b4 151px,#0000cb 154px,#0000cb 155.5px,#13ffec 155.5px,#27ffd8 160.1px,#1effe1 178.4px,#3affc5 193.7px,#86ff79 212px,#cbff34 227.2px,#d4ff2b 233.3px,#beff41 239.4px,#a1ff5e 242.5px,#42ffbd 248.6px,#42ffbd 250.1px,#005cff 250.1px,#005cff 253.1px,#0000b4 253.1px,#0000b4 294.3px,#0000b4 295.8px,#005cff 295.8px,#005cff 298.9px,#42ffbd 298.9px,#a1ff5e 306.5px,#beff41 309.6px,#d3ff2c 315.7px,#c0ff3f 324.8px,#43ffbc 352.3px,#24ffdb 364.5px)"></i>
<i style="background:linear-gradient(90deg,#2dffd2 0px,#30ffcf 13.7px,#42ffbd 22.9px,#42ffbd 24.4px,#007cff 24.4px,#007cff 27.4px,#0000b4 27.4px,#0000c2 56.4px,#0000f4 86.9px,#0000ee 102.2px,#0000bc 132.7px,#0000b4 154px,#0000b4 155.5px,#007cff 155.5px,#007cff 158.6px,#42ffbd 158.6px,#2bffd4 175.4px,#38ffc7 187.6px,#6dff92 202.8px,#f2ff0d 227.2px,#fffc00 233.3px,#f5ff0a 239.4px,#dbff24 242.5px,#afff50 245.5px,#afff50 247px,#005bff 247px,#005bff 250.1px,#0000b4 250.1px,#0000b4 297.4px,#0000b4 298.9px,#005bff 298.9px,#005bff 301.9px,#afff50 301.9px,#dbff24 306.5px,#f5ff0a 309.6px,#fffd00 312.6px,#fcff03 318.7px,#c1ff3e 330.9px,#5fffa0 349.2px,#31ffce 364.5px)"></i>
<i style="background:linear-gradient(90deg,#3affc5 0px,#3effc1 10.7px,#65ff9a 22.9px,#65ff9a 24.4px,#0000e9 24.4px,#0000b4 29px,#0000c6 56.4px,#0000ff 83.9px,#0000fb 102.2px,#0000be 132.7px,#0000b4 154px,#0000e9 157.1px,#0000e9 158.6px,#65ff9a 158.6px,#3effc1 172.3px,#3bffc4 181.5px,#56ffa9 193.7px,#8fff70 205.9px,#f3ff0c 221.1px,#fff700 224.2px,#ffc900 233.3px,#ffc400 236.4px,#ffc900 239.4px,#ffdd00 242.5px,#ffdd00 244px,#008cff 244px,#008cff 247px,#0000b4 247px,#0000b9 285.2px,#0000b4 300.4px,#0000b4 301.9px,#008cff 301.9px,#008cff 305px,#ffdd00 305px,#ffc900 309.6px,#ffc400 312.6px,#ffd400 318.7px,#fff700 324.8px,#ddff22 330.9px,#7eff81 346.2px,#4cffb3 358.4px,#3effc1 364.5px)"></i>
<i style="background:linear-gradient(90deg,#47ffb8 0px,#50ffaf 10.7px,#7eff81 19.8px,#7eff81 21.3px,#00f6ff 21.3px,#00f6ff 24.4px,#0000b4 24.4px,#0000c1 50.3px,#0003ff 77.8px,#000dff 96.1px,#0000fc 108.3px,#0000c1 132.7px,#0000b4 157.1px,#0000b4 158.6px,#00f7ff 158.6px,#00f7ff 161.6px,#7fff80 161.6px,#51ffae 172.3px,#47ffb8 181.5px,#64ff9b 193.7px,#a2ff5d 205.9px,#fbff04 218.1px,#ff9200 233.3px,#ff8000 239.4px,#ff8000 240.9px,#13ffec 240.9px,#13ffec 244px,#0000b4 244px,#0000c3 279.1px,#0000b4 303.5px,#0000b4 305px,#13ffec 305px,#13ffec 308px,#ff8100 308px,#ff9200 315.7px,#faff05 330.9px,#8fff70 346.2px,#59ffa6 358.4px,#4affb5 364.5px)"></i>
<i style="background:linear-gradient(90deg,#53ffac 0px,#57ffa8 7.6px,#73ff8c 13.7px,#a1ff5e 19.8px,#a1ff5e 21.3px,#0092ff 21.3px,#0092ff 24.4px,#0000b4 24.4px,#0000c4 50.3px,#0001ff 71.7px,#0013ff 86.9px,#000cff 105.2px,#0001ff 111.3px,#0000c4 132.7px,#0000b4 157.1px,#0000b4 158.6px,#0092ff 158.6px,#0092ff 161.6px,#a1ff5e 161.6px,#62ff9d 172.3px,#53ffac 178.4px,#5dffa2 187.6px,#8eff71 199.8px,#e1ff1e 212px,#fbff04 215px,#ff4000 236.4px,#ff4000 237.9px,#ff9600 237.9px,#ff9600 240.9px,#0000b4 240.9px,#0000c3 260.8px,#0000d5 276px,#0000b5 303.5px,#0000b4 306.5px,#0000b4 308px,#ff9600 308px,#ff9600 311.1px,#ff4000 311.1px,#fbff04 334px,#9fff60 346.2px,#65ff9a 358.4px,#56ffa9 364.5px)"></i>
<i style="background:linear-gradient(90deg,#5dffa2 0px,#64ff9b 7.6px,#88ff77 13.7px,#c2ff3d 19.8px,#c2ff3d 21.3px,#0000f7 21.3px,#0000b5 25.9px,#0000c2 47.3px,#0000eb 62.5px,#0001ff 68.6px,#0015ff 80.8px,#0012ff 105.2px,#0001ff 114.4px,#0000c7 132.7px,#0000b5 154px,#0000b5 157.1px,#0000f7 160.1px,#0000f7 161.6px,#c2ff3d 161.6px,#72ff8d 172.3px,#5effa1 178.4px,#68ff97 187.6px,#9bff64 199.8px,#f6ff09 212px,#ffec00 215px,#ff4200 230.3px,#f80000 236.4px,#f80000 237.9px,#00f9ff 237.9px,#00f9ff 240.9px,#0000b5 240.9px,#0000c6 257.7px,#0000ed 273px,#0000e2 282.1px,#0000bb 297.4px,#0000b5 306.5px,#0000b5 308px,#00f9ff 308px,#00f9ff 311.1px,#f80000 311.1px,#ff4200 318.7px,#ffec00 334px,#f5ff0a 337px,#9aff65 349.2px,#67ff98 361.4px,#60ff9f 364.5px)"></i>
<i style="background:linear-gradient(90deg,#67ff98 0px,#70ff8f 7.6px,#9bff64 13.7px,#bdff42 16.8px,#bbff44 19.8px,#bbff44 21.3px,#0000b4 21.3px,#0000c4 47.3px,#0000f3 62.5px,#0008ff 68.6px,#0018ff 83.9px,#0013ff 108.3px,#0000fe 117.4px,#0000ca 132.7px,#0000b6 151px,#0000b4 160.1px,#0000b4 161.6px,#bbff44 161.6px,#bdff42 166.2px,#81ff7e 172.3px,#68ff97 178.4px,#71ff8e 187.6px,#95ff6a 196.7px,#d2ff2d 205.9px,#fff600 212px,#ff9100 221.1px,#ff1300 230.3px,#e30000 233.3px,#ff2a00 236.4px,#ff2a00 237.9px,#0000b4 237.9px,#0000bf 251.6px,#0000ee 263.8px,#0003ff 269.9px,#0000fa 282.1px,#0000c6 294.3px,#0000b5 306.5px,#0000b4 309.6px,#0000b4 311.1px,#ff2a00 311.1px,#e30000 315.7px,#ff1300 318.7px,#ff9200 327.9px,#fff700 337px,#d1ff2e 343.1px,#95ff6a 352.3px,#70ff8f 361.4px,#6aff95 364.5px)"></i>
<i style="background:linear-gradient(90deg,#6fff90 0px,#7aff85 7.6px,#8dff72 10.7px,#d2ff2d 16.8px,#d2ff2d 18.3px,#65ff9a 18.3px,#65ff9a 21.3px,#0000b4 21.3px,#0000c0 44.2px,#0000e1 56.4px,#0005ff 65.6px,#0018ff 77.8px,#0013ff 111.3px,#0000f9 120.5px,#0000c6 135.7px,#0000b5 157.1px,#0000b4 160.1px,#0000b4 161.6px,#65ff9a 161.6px,#65ff9a 164.7px,#d2ff2d 164.7px,#8dff72 172.3px,#71ff8e 178.4px,#79ff86 187.6px,#9eff61 196.7px,#deff21 205.9px,#f9ff06 208.9px,#ffc600 215px,#ff4d00 224.2px,#ff1d00 227.2px,#e80000 230.3px,#ae0000 233.3px,#ae0000 234.8px,#d3ff2c 234.8px,#d3ff2c 237.9px,#0000b5 237.9px,#0000c4 251.6px,#0002ff 263.8px,#0014ff 273px,#000dff 282.1px,#0002ff 285.2px,#0000c4 297.4px,#0000b5 309.6px,#0000b5 311.1px,#d2ff2d 311.1px,#d2ff2d 314.1px,#af0000 314.1px,#e80000 318.7px,#ff1e00 321.8px,#ffa200 330.9px,#ffe800 337px,#f8ff07 340.1px,#b0ff4f 349.2px,#82ff7d 358.4px,#71ff8e 364.5px)"></i>
<i style="background:linear-gradient(90deg,#75ff8a 0px,#82ff7d 7.6px,#97ff68 10.7px,#e3ff1c 16.8px,#e3ff1c 18.3px,#29ffd6 18.3px,#29ffd6 21.3px,#0000b4 21.3px,#0000c2 44.2px,#0000e4 56.4px,#0000fe 62.5px,#0017ff 74.7px,#0015ff 111.3px,#0000fe 120.5px,#0000c7 135.7px,#0000b5 157.1px,#0000b4 160.1px,#0000b4 161.6px,#29ffd6 161.6px,#29ffd6 164.7px,#e4ff1b 164.7px,#97ff68 172.3px,#82ff7d 175.4px,#75ff8a 181.5px,#89ff76 190.6px,#b8ff47 199.8px,#fffa00 208.9px,#ff9100 218.1px,#ff3600 224.2px,#ff0100 227.2px,#8b0000 233.3px,#8b0000 234.8px,#00e4ff 234.8px,#00e4ff 237.9px,#0000b5 237.9px,#0000bf 248.6px,#0000d8 254.7px,#0001ff 260.8px,#0015ff 266.9px,#0015ff 282.1px,#0001ff 288.2px,#0000c9 297.4px,#0000b7 306.5px,#0000b5 309.6px,#0000b5 311.1px,#00e4ff 311.1px,#00e4ff 314.1px,#8b0000 314.1px,#ff0200 321.8px,#ff6600 327.9px,#ffdb00 337px,#fffb00 340.1px,#a5ff5a 352.3px,#7eff81 361.4px,#77ff88 364.5px)"></i>
<i style="background:linear-gradient(90deg,#79ff86 0px,#87ff78 7.6px,#9eff61 10.7px,#f0ff0f 16.8px,#f0ff0f 18.3px,#00e4ff 18.3px,#00e4ff 21.3px,#0000b5 21.3px,#0000c2 44.2px,#0000e7 56.4px,#0001ff 62.5px,#0016ff 71.7px,#0016ff 111.3px,#0001ff 120.5px,#0000c8 135.7px,#0000b6 154px,#0000b5 160.1px,#0000b5 161.6px,#00e4ff 161.6px,#00e4ff 164.7px,#f0ff0f 164.7px,#9eff61 172.3px,#87ff78 175.4px,#79ff86 181.5px,#8dff72 190.6px,#bdff42 199.8px,#eeff11 205.9px,#fff300 208.9px,#ff8500 218.1px,#ff2600 224.2px,#ec0000 227.2px,#ac0000 230.3px,#800000 233.3px,#800000 234.8px,#00a7ff 234.8px,#00a7ff 237.9px,#0000b5 237.9px,#0000c2 248.6px,#0000e0 254.7px,#0000f6 257.7px,#0015ff 263.8px,#0015ff 285.2px,#0000f6 291.3px,#0000cd 297.4px,#0000b7 306.5px,#0000b5 309.6px,#0000b5 311.1px,#00a7ff 311.1px,#00a7ff 314.1px,#800000 314.1px,#ad0000 318.7px,#ed0000 321.8px,#ff2700 324.8px,#ff8600 330.9px,#fff400 340.1px,#edff12 343.1px,#a9ff56 352.3px,#82ff7d 361.4px,#7bff84 364.5px)"></i>
<i style="background:linear-gradient(90deg,#7bff84 0px,#8aff75 7.6px,#a1ff5e 10.7px,#c7ff38 13.7px,#f6ff09 16.8px,#f6ff09 18.3px,#00e8ff 18.3px,#00e8ff 21.3px,#0000b5 21.3px,#0000c3 44.2px,#0000e9 56.4px,#0003ff 62.5px,#0017ff 71.7px,#0017ff 111.3px,#0003ff 120.5px,#0000c9 135.7px,#0000b6 154px,#0000b5 160.1px,#0000b5 161.6px,#00e8ff 161.6px,#00e8ff 164.7px,#f6ff09 164.7px,#c7ff38 169.3px,#a2ff5d 172.3px,#8aff75 175.4px,#7bff84 181.5px,#8fff70 190.6px,#c0ff3f 199.8px,#f1ff0e 205.9px,#fff000 208.9px,#ff8000 218.1px,#ff1e00 224.2px,#e20000 227.2px,#9f0000 230.3px,#800000 233.3px,#800000 234.8px,#0000f1 234.8px,#0000b6 239.4px,#0000c3 248.6px,#0000e4 254.7px,#0000fb 257.7px,#0016ff 263.8px,#0016ff 285.2px,#0000fb 291.3px,#0000d0 297.4px,#0000b8 306.5px,#0000b6 309.6px,#0000f1 312.6px,#0000f1 314.1px,#800000 314.1px,#a00000 318.7px,#e30000 321.8px,#ff1e00 324.8px,#ff8000 330.9px,#fff000 340.1px,#f0ff0f 343.1px,#acff53 352.3px,#84ff7b 361.4px,#7dff82 364.5px)"></i>
<i style="background:linear-gradient(90deg,#7bff84 0px,#8aff75 7.6px,#a1ff5e 10.7px,#c7ff38 13.7px,#f6ff09 16.8px,#f6ff09 18.3px,#00e8ff 18.3px,#00e8ff 21.3px,#0000b5 21.3px,#0000c3 44.2px,#0000e9 56.4px,#0003ff 62.5px,#0017ff 71.7px,#0017ff 111.3px,#0003ff 120.5px,#0000c9 135.7px,#0000b6 154px,#0000b5 160.1px,#0000b5 161.6px,#00e8ff 161.6px,#00e8ff 164.7px,#f6ff09 164.7px,#c7ff38 169.3px,#a2ff5d 172.3px,#8aff75 175.4px,#7bff84 181.5px,#8fff70 190.6px,#c0ff3f 199.8px,#f1ff0e 205.9px,#fff000 208.9px,#ff8000 218.1px,#ff1e00 224.2px,#e20000 227.2px,#9f0000 230.3px,#800000 233.3px,#800000 234.8px,#0000f1 234.8px,#0000b6 239.4px,#0000c3 248.6px,#0000e4 254.7px,#0000fb 257.7px,#0016ff 263.8px,#0016ff 285.2px,#0000fb 291.3px,#0000d0 297.4px,#0000b8 306.5px,#0000b6 309.6px,#0000f1 312.6px,#0000f1 314.1px,#800000 314.1px,#a00000 318.7px,#e30000 321.8px,#ff1e00 324.8px,#ff8000 330.9px,#fff000 340.1px,#f0ff0f 343.1px,#acff53 352.3px,#84ff7b 361.4px,#7dff82 364.5px)"></i>
<i style="background:linear-gradient(90deg,#79ff86 0px,#87ff78 7.6px,#9eff61 10.7px,#efff10 16.8px,#efff10 18.3px,#00e4ff 18.3px,#00e4ff 21.3px,#0000b5 21.3px,#0000c2 44.2px,#0000e7 56.4px,#0001ff 62.5px,#0016ff 71.7px,#0016ff 111.3px,#0001ff 120.5px,#0000c8 135.7px,#0000b6 154px,#0000b5 160.1px,#0000b5 161.6px,#00e4ff 161.6px,#00e4ff 164.7px,#f0ff0f 164.7px,#9eff61 172.3px,#87ff78 175.4px,#79ff86 181.5px,#8dff72 190.6px,#bdff42 199.8px,#eeff11 205.9px,#fff300 208.9px,#ff8500 218.1px,#ff2600 224.2px,#ec0000 227.2px,#ac0000 230.3px,#800000 233.3px,#800000 234.8px,#00a7ff 234.8px,#00a7ff 237.9px,#0000b5 237.9px,#0000c2 248.6px,#0000e0 254.7px,#0000f6 257.7px,#0015ff 263.8px,#0015ff 285.2px,#0000f6 291.3px,#0000cd 297.4px,#0000b7 306.5px,#0000b5 309.6px,#0000b5 311.1px,#00a7ff 311.1px,#00a7ff 314.1px,#800000 314.1px,#ad0000 318.7px,#ed0000 321.8px,#ff2700 324.8px,#ff8600 330.9px,#fff400 340.1px,#edff12 343.1px,#a9ff56 352.3px,#82ff7d 361.4px,#7bff84 364.5px)"></i>
<i style="background:linear-gradient(90deg,#75ff8a 0px,#82ff7d 7.6px,#97ff68 10.7px,#e3ff1c 16.8px,#e3ff1c 18.3px,#29ffd6 18.3px,#29ffd6 21.3px,#0000b4 21.3px,#0000c2 44.2px,#0000e4 56.4px,#0000fe 62.5px,#0017ff 74.7px,#0015ff 111.3px,#0000fe 120.5px,#0000c7 135.7px,#0000b5 157.1px,#0000b4 160.1px,#0000b4 161.6px,#29ffd6 161.6px,#29ffd6 164.7px,#e4ff1b 164.7px,#97ff68 172.3px,#82ff7d 175.4px,#75ff8a 181.5px,#89ff76 190.6px,#b8ff47 199.8px,#fffb00 208.9px,#ff9100 218.1px,#ff3600 224.2px,#ff0100 227.2px,#8b0000 233.3px,#8b0000 234.8px,#00e4ff 234.8px,#00e4ff 237.9px,#0000b5 237.9px,#0000bf 248.6px,#0000d8 254.7px,#0001ff 260.8px,#0015ff 266.9px,#0015ff 282.1px,#0001ff 288.2px,#0000c9 297.4px,#0000b7 306.5px,#0000b5 309.6px,#0000b5 311.1px,#00e4ff 311.1px,#00e4ff 314.1px,#8b0000 314.1px,#ff0200 321.8px,#ff6600 327.9px,#ffdc00 337px,#fffb00 340.1px,#a5ff5a 352.3px,#7eff81 361.4px,#77ff88 364.5px)"></i>
<i style="background:linear-gradient(90deg,#6fff90 0px,#7aff85 7.6px,#8dff72 10.7px,#d2ff2d 16.8px,#d2ff2d 18.3px,#65ff9a 18.3px,#65ff9a 21.3px,#0000b4 21.3px,#0000c0 44.2px,#0000e1 56.4px,#0005ff 65.6px,#0018ff 77.8px,#0013ff 111.3px,#0000f9 120.5px,#0000c6 135.7px,#0000b5 157.1px,#0000b4 160.1px,#0000b4 161.6px,#65ff9a 161.6px,#65ff9a 164.7px,#d2ff2d 164.7px,#8dff72 172.3px,#71ff8e 178.4px,#79ff86 187.6px,#9eff61 196.7px,#deff21 205.9px,#f9ff06 208.9px,#ffc600 215px,#ff4d00 224.2px,#ff1d00 227.2px,#e80000 230.3px,#ae0000 233.3px,#ae0000 234.8px,#d2ff2d 234.8px,#d2ff2d 237.9px,#0000b5 237.9px,#0000c4 251.6px,#0002ff 263.8px,#0014ff 273px,#000dff 282.1px,#0002ff 285.2px,#0000c4 297.4px,#0000b5 309.6px,#0000b5 311.1px,#d2ff2d 311.1px,#d2ff2d 314.1px,#af0000 314.1px,#e90000 318.7px,#ff1e00 321.8px,#ffa200 330.9px,#ffe800 337px,#f8ff07 340.1px,#b0ff4f 349.2px,#82ff7d 358.4px,#71ff8e 364.5px)"></i>
<i style="background:linear-gradient(90deg,#67ff98 0px,#70ff8f 7.6px,#9bff64 13.7px,#bcff43 16.8px,#bbff44 19.8px,#bbff44 21.3px,#0000b4 21.3px,#0000c4 47.3px,#0000f3 62.5px,#0008ff 68.6px,#0018ff 83.9px,#0013ff 108.3px,#0000fe 117.4px,#0000ca 132.7px,#0000b6 151px,#0000b4 160.1px,#0000b4 161.6px,#bbff44 161.6px,#bdff42 166.2px,#81ff7e 172.3px,#68ff97 178.4px,#71ff8e 187.6px,#95ff6a 196.7px,#d2ff2d 205.9px,#fff600 212px,#ff9100 221.1px,#ff1300 230.3px,#e30000 233.3px,#ff2a00 236.4px,#ff2a00 237.9px,#0000b4 237.9px,#0000bf 251.6px,#0000ee 263.8px,#0003ff 269.9px,#0000fa 282.1px,#0000c6 294.3px,#0000b5 306.5px,#0000b4 309.6px,#0000b4 311.1px,#ff2a00 311.1px,#e30000 315.7px,#ff1400 318.7px,#ff9200 327.9px,#fff700 337px,#d1ff2e 343.1px,#95ff6a 352.3px,#70ff8f 361.4px,#6aff95 364.5px)"></i>
<i style="background:linear-gradient(90deg,#5dffa2 0px,#64ff9b 7.6px,#88ff77 13.7px,#c1ff3e 19.8px,#c1ff3e 21.3px,#0000f6 21.3px,#0000b5 25.9px,#0000c2 47.3px,#0000eb 62.5px,#0001ff 68.6px,#0015ff 80.8px,#0012ff 105.2px,#0001ff 114.4px,#0000c7 132.7px,#0000b5 154px,#0000b5 157.1px,#0000f7 160.1px,#0000f7 161.6px,#c2ff3d 161.6px,#72ff8d 172.3px,#5effa1 178.4px,#68ff97 187.6px,#9bff64 199.8px,#f6ff09 212px,#ffec00 215px,#ff4200 230.3px,#f80000 236.4px,#f80000 237.9px,#00f9ff 237.9px,#00f9ff 240.9px,#0000b5 240.9px,#0000c6 257.7px,#0000ed 273px,#0000e2 282.1px,#0000bb 297.4px,#0000b5 306.5px,#0000b5 308px,#00f9ff 308px,#00f9ff 311.1px,#f80000 311.1px,#ff6700 321.8px,#ffed00 334px,#f5ff0a 337px,#9aff65 349.2px,#67ff98 361.4px,#60ff9f 364.5px)"></i>
<i style="background:linear-gradient(90deg,#53ffac 0px,#57ffa8 7.6px,#73ff8c 13.7px,#a1ff5e 19.8px,#a1ff5e 21.3px,#0091ff 21.3px,#0091ff 24.4px,#0000b4 24.4px,#0000c4 50.3px,#0001ff 71.7px,#0013ff 86.9px,#000cff 105.2px,#0001ff 111.3px,#0000c4 132.7px,#0000b4 157.1px,#0000b4 158.6px,#0092ff 158.6px,#0092ff 161.6px,#a1ff5e 161.6px,#62ff9d 172.3px,#53ffac 178.4px,#5dffa2 187.6px,#8dff72 199.8px,#e1ff1e 212px,#fbff04 215px,#ff4000 236.4px,#ff4000 237.9px,#ff9600 237.9px,#ff9600 240.9px,#0000b4 240.9px,#0000c3 260.8px,#0000d5 276px,#0000b5 303.5px,#0000b4 306.5px,#0000b4 308px,#ff9600 308px,#ff9600 311.1px,#ff4100 311.1px,#faff05 334px,#9fff60 346.2px,#65ff9a 358.4px,#56ffa9 364.5px)"></i>
<i style="background:linear-gradient(90deg,#47ffb8 0px,#50ffaf 10.7px,#7eff81 19.8px,#7eff81 21.3px,#00f6ff 21.3px,#00f6ff 24.4px,#0000b4 24.4px,#0000c1 50.3px,#0003ff 77.8px,#000dff 96.1px,#0000fc 108.3px,#0000c1 132.7px,#0000b4 157.1px,#0000b4 158.6px,#00f7ff 158.6px,#00f7ff 161.6px,#7fff80 161.6px,#50ffaf 172.3px,#47ffb8 181.5px,#64ff9b 193.7px,#a2ff5d 205.9px,#faff05 218.1px,#ff9200 233.3px,#ff8000 239.4px,#ff8000 240.9px,#13ffec 240.9px,#13ffec 244px,#0000b4 244px,#0000c3 279.1px,#0000b4 303.5px,#0000b4 305px,#12ffed 305px,#12ffed 308px,#ff8100 308px,#ff9200 315.7px,#faff05 330.9px,#8fff70 346.2px,#59ffa6 358.4px,#4affb5 364.5px)"></i>
<i style="background:linear-gradient(90deg,#3affc5 0px,#3effc1 10.7px,#65ff9a 22.9px,#65ff9a 24.4px,#0000e9 24.4px,#0000b4 29px,#0000c6 56.4px,#0000ff 83.9px,#0000fb 102.2px,#0000be 132.7px,#0000b4 154px,#0000e9 157.1px,#0000e9 158.6px,#65ff9a 158.6px,#3effc1 172.3px,#3bffc4 181.5px,#56ffa9 193.7px,#8fff70 205.9px,#f3ff0c 221.1px,#fff700 224.2px,#ffc900 233.3px,#ffc400 236.4px,#ffc900 239.4px,#ffdd00 242.5px,#ffdd00 244px,#008cff 244px,#008cff 247px,#0000b4 247px,#0000b9 285.2px,#0000b4 300.4px,#0000b4 301.9px,#008bff 301.9px,#008bff 305px,#ffde00 305px,#ffca00 309.6px,#ffc400 312.6px,#ffd500 318.7px,#fff700 324.8px,#ddff22 330.9px,#7eff81 346.2px,#4cffb3 358.4px,#3effc1 364.5px)"></i>
<i style="background:linear-gradient(90deg,#2dffd2 0px,#30ffcf 13.7px,#42ffbd 22.9px,#42ffbd 24.4px,#007cff 24.4px,#007cff 27.4px,#0000b4 27.4px,#0000c2 56.4px,#0000f4 86.9px,#0000ee 102.2px,#0000bc 132.7px,#0000b4 154px,#0000b4 155.5px,#007cff 155.5px,#007cff 158.6px,#42ffbd 158.6px,#2bffd4 175.4px,#38ffc7 187.6px,#6dff92 202.8px,#f1ff0e 227.2px,#fffc00 233.3px,#fffd00 236.4px,#f5ff0a 239.4px,#dbff24 242.5px,#afff50 245.5px,#afff50 247px,#005bff 247px,#005bff 250.1px,#0000b4 250.1px,#0000b4 297.4px,#0000b4 298.9px,#005bff 298.9px,#005bff 301.9px,#aeff51 301.9px,#dbff24 306.5px,#f4ff0b 309.6px,#fffe00 312.6px,#fcff03 318.7px,#c0ff3f 330.9px,#5effa1 349.2px,#31ffce 364.5px)"></i>
<i style="background:linear-gradient(90deg,#20ffdf 0px,#20ffdf 16.8px,#27ffd8 22.9px,#13ffec 25.9px,#13ffec 27.4px,#0000cb 27.4px,#0000b4 32px,#0000c5 62.5px,#0000e6 90px,#0000d8 108.3px,#0000b9 135.7px,#0000b4 151px,#0000cb 154px,#0000cb 155.5px,#13ffec 155.5px,#27ffd8 160.1px,#1dffe2 178.4px,#3affc5 193.7px,#86ff79 212px,#cbff34 227.2px,#d3ff2c 233.3px,#beff41 239.4px,#a1ff5e 242.5px,#42ffbd 248.6px,#42ffbd 250.1px,#005cff 250.1px,#005cff 253.1px,#0000b4 253.1px,#0000b4 294.3px,#0000b4 295.8px,#005cff 295.8px,#005cff 298.9px,#42ffbd 298.9px,#a1ff5e 306.5px,#beff41 309.6px,#d3ff2c 315.7px,#c0ff3f 324.8px,#43ffbc 352.3px,#24ffdb 364.5px)"></i>
<i style="background:linear-gradient(90deg,#13ffec 0px,#0ffff0 19.8px,#13ffec 25.9px,#13ffec 27.4px,#0063ff 27.4px,#0063ff 30.5px,#0000b4 30.5px,#0000c7 68.6px,#0000d9 93px,#0000b6 141.8px,#0000b4 151px,#0000b4 152.5px,#0063ff 152.5px,#0063ff 155.5px,#13ffec 155.5px,#10ffef 178.4px,#2bffd4 193.7px,#7cff83 215px,#a7ff58 227.2px,#a9ff56 233.3px,#8fff70 239.4px,#4cffb3 245.5px,#23ffdc 248.6px,#00ebff 251.6px,#00ebff 253.1px,#0088ff 253.1px,#0088ff 256.2px,#0000f3 256.2px,#0000b4 260.8px,#0000b4 288.2px,#0000f3 291.3px,#0000f3 292.8px,#0088ff 292.8px,#0088ff 295.8px,#00eaff 295.8px,#23ffdc 300.4px,#71ff8e 306.5px,#8eff71 309.6px,#a9ff56 315.7px,#9fff60 324.8px,#2affd5 355.3px,#17ffe8 364.5px)"></i>
<i style="background:linear-gradient(90deg,#06fff9 0px,#00fdff 25.9px,#00e8ff 29px,#00e8ff 30.5px,#0000dc 30.5px,#0000b4 35.1px,#0000cd 96.1px,#0000b4 147.9px,#0000dc 151px,#0000dc 152.5px,#00e8ff 152.5px,#00fdff 157.1px,#06fff9 181.5px,#2dffd2 199.8px,#80ff7f 224.2px,#83ff7c 233.3px,#66ff99 239.4px,#2fffd0 245.5px,#0afff5 248.6px,#00d9ff 251.6px,#005bff 257.7px,#005bff 259.2px,#0010ff 259.2px,#0000d1 263.8px,#0000b9 266.9px,#0000b3 276px,#0000b9 282.1px,#0000d1 285.2px,#0010ff 288.2px,#0010ff 289.8px,#005bff 289.8px,#00d8ff 297.4px,#0afff5 300.4px,#4bffb4 306.5px,#79ff86 312.6px,#86ff79 318.7px,#78ff87 327.9px,#1cffe3 355.3px,#09fff6 364.5px)"></i>
<i style="background:linear-gradient(90deg,#00f8ff 0px,#00e8ff 29px,#00e8ff 30.5px,#0098ff 30.5px,#0098ff 33.5px,#0000b4 33.5px,#0000c4 99.1px,#0000b4 147.9px,#0000b4 149.4px,#0099ff 149.4px,#0099ff 152.5px,#00e8ff 152.5px,#02fffd 187.6px,#39ffc6 208.9px,#63ff9c 224.2px,#61ff9e 233.3px,#43ffbc 239.4px,#17ffe8 245.5px,#00f5ff 248.6px,#0098ff 254.7px,#0028ff 260.8px,#0000f6 263.8px,#0000d2 266.9px,#0000bc 269.9px,#0000b3 276px,#0000bc 279.1px,#0000d2 282.1px,#0000f6 285.2px,#0028ff 288.2px,#00caff 297.4px,#00f5ff 300.4px,#17ffe8 303.5px,#56ffa9 312.6px,#66ff99 318.7px,#5dffa2 327.9px,#07fff8 358.4px,#00fcff 364.5px)"></i>
<i style="background:linear-gradient(90deg,#00ebff 0px,#00d0ff 32px,#00d0ff 33.5px,#003fff 33.5px,#003fff 36.6px,#0000b4 36.6px,#0000bd 105.2px,#0000b4 144.9px,#0000b4 146.4px,#0040ff 146.4px,#0040ff 149.4px,#00d1ff 149.4px,#00f9ff 190.6px,#0efff1 199.8px,#48ffb7 224.2px,#42ffbd 233.3px,#18ffe7 242.5px,#02fffd 245.5px,#00beff 251.6px,#0005ff 263.8px,#0000ce 269.9px,#0000c5 276px,#0000ce 279.1px,#0005ff 285.2px,#00beff 297.4px,#02fffd 303.5px,#36ffc9 312.6px,#48ffb7 318.7px,#43ffbc 327.9px,#00ffff 355.3px,#00efff 364.5px)"></i>
<i style="background:linear-gradient(90deg,#00e0ff 0px,#00bdff 32px,#00b6ff 35.1px,#00b6ff 36.6px,#0011ff 36.6px,#0011ff 39.6px,#0000b4 39.6px,#0000b9 111.3px,#0000b4 141.8px,#0000b4 143.3px,#0011ff 143.3px,#0011ff 146.4px,#00b7ff 146.4px,#00d4ff 169.3px,#00f8ff 196.7px,#14ffeb 208.9px,#2fffd0 224.2px,#26ffd9 233.3px,#03fffc 242.5px,#00d4ff 248.6px,#008eff 254.7px,#0010ff 263.8px,#0000f0 266.9px,#0000dd 269.9px,#0000d4 276px,#0000dd 279.1px,#0000f0 282.1px,#0010ff 285.2px,#00b3ff 297.4px,#00eeff 303.5px,#03fffc 306.5px,#2dffd2 318.7px,#27ffd8 330.9px,#00feff 349.2px,#00e3ff 364.5px)"></i>
<i style="background:linear-gradient(90deg,#00d4ff 0px,#00adff 32px,#009aff 38.1px,#009aff 39.6px,#0007ff 39.6px,#0007ff 42.7px,#0000b4 42.7px,#0000b4 132.7px,#0000b4 138.8px,#0000b4 140.3px,#0007ff 140.3px,#0007ff 143.3px,#009aff 143.3px,#00beff 160.1px,#00f0ff 199.8px,#09fff6 212px,#17ffe8 227.2px,#00fcff 239.4px,#00ddff 245.5px,#00aaff 251.6px,#0018ff 263.8px,#0000fa 266.9px,#0000e0 273px,#0000e8 279.1px,#0000fa 282.1px,#0018ff 285.2px,#00aaff 297.4px,#00ddff 303.5px,#00fcff 309.6px,#17ffe8 321.8px,#08fff7 337px,#00eaff 352.3px,#00d8ff 364.5px)"></i>
<i style="background:linear-gradient(90deg,#00caff 0px,#00a5ff 29px,#0086ff 41.2px,#0086ff 42.7px,#0000ff 42.7px,#0000ff 45.8px,#0000b4 45.8px,#0000b4 135.7px,#0000b4 137.2px,#0000ff 137.2px,#0000ff 140.3px,#0086ff 140.3px,#00b5ff 163.2px,#02fffd 221.1px,#00f7ff 233.3px,#00deff 242.5px,#00a1ff 251.6px,#001dff 263.8px,#0003ff 266.9px,#0000e9 273px,#0000f1 279.1px,#0003ff 282.1px,#003eff 288.2px,#00a0ff 297.4px,#00deff 306.5px,#00fcff 318.7px,#00fbff 334px,#00cdff 364.5px)"></i>
<i style="background:linear-gradient(90deg,#00c0ff 0px,#0098ff 29px,#0073ff 44.2px,#0073ff 45.8px,#000dff 45.8px,#000dff 48.8px,#0000b4 48.8px,#0000b4 132.7px,#0000b4 134.2px,#000dff 134.2px,#000dff 137.2px,#0073ff 137.2px,#00afff 166.2px,#00eeff 221.1px,#00e1ff 236.4px,#00c0ff 245.5px,#007dff 254.7px,#0020ff 263.8px,#0008ff 266.9px,#0000f1 273px,#0000f8 279.1px,#0008ff 282.1px,#005eff 291.3px,#00aeff 300.4px,#00d9ff 309.6px,#00eeff 324.8px,#00d6ff 349.2px,#00c3ff 364.5px)"></i>
<i style="background:linear-gradient(90deg,#00b7ff 0px,#008dff 29px,#006aff 44.2px,#005eff 47.3px,#0029ff 50.3px,#0000c5 53.4px,#0000b4 56.4px,#0000b4 126.6px,#0000c5 129.6px,#0029ff 132.7px,#005eff 135.7px,#0082ff 147.9px,#00b1ff 175.4px,#00ddff 221.1px,#00d1ff 236.4px,#00b4ff 245.5px,#0077ff 254.7px,#000cff 266.9px,#0000fd 269.9px,#0000f6 276px,#0000fd 279.1px,#0022ff 285.2px,#0090ff 297.4px,#00c0ff 306.5px,#00d5ff 315.7px,#00dbff 334px,#00baff 364.5px)"></i>
<i style="background:linear-gradient(90deg,#00afff 0px,#007cff 35.1px,#0056ff 47.3px,#0032ff 53.4px,#0000ee 56.4px,#0000ba 59.5px,#0000b4 71.7px,#0000b4 120.5px,#0000ba 123.5px,#0000ee 126.6px,#0032ff 129.6px,#0056ff 135.7px,#0081ff 151px,#00b2ff 184.5px,#00ceff 221.1px,#00c3ff 236.4px,#00a8ff 245.5px,#0071ff 254.7px,#000fff 266.9px,#0002ff 269.9px,#0002ff 279.1px,#0023ff 285.2px,#0088ff 297.4px,#00b4ff 306.5px,#00caff 318.7px,#00c9ff 340.1px,#00b1ff 364.5px)"></i>
<i style="background:linear-gradient(90deg,#00a7ff 0px,#006eff 38.1px,#0034ff 53.4px,#000fff 59.5px,#0000dc 62.5px,#0000bc 65.6px,#0000b4 71.7px,#0000b4 114.4px,#0000bc 117.4px,#0000dc 120.5px,#000fff 123.5px,#0043ff 132.7px,#0076ff 147.9px,#00aaff 184.5px,#00c1ff 218.1px,#00b7ff 236.4px,#0091ff 248.6px,#0053ff 257.7px,#0010ff 266.9px,#0000fe 273px,#0005ff 279.1px,#0023ff 285.2px,#0080ff 297.4px,#00a9ff 306.5px,#00bdff 318.7px,#00b9ff 346.2px,#00aaff 364.5px)"></i>
<i style="background:linear-gradient(90deg,#00a0ff 0px,#0070ff 35.1px,#003eff 50.3px,#0003ff 62.5px,#0000f3 65.6px,#0000d6 68.6px,#0000b7 74.7px,#0000b7 108.3px,#0000d6 114.4px,#0000f3 117.4px,#0003ff 120.5px,#0056ff 138.8px,#007cff 154px,#00abff 193.7px,#00b4ff 224.2px,#00a6ff 239.4px,#0089ff 248.6px,#004fff 257.7px,#0012ff 266.9px,#0002ff 273px,#0007ff 279.1px,#0022ff 285.2px,#0079ff 297.4px,#009fff 306.5px,#00b3ff 321.8px,#00adff 352.3px,#00a3ff 364.5px)"></i>
<i style="background:linear-gradient(90deg,#009aff 0px,#006eff 35.1px,#003dff 50.3px,#0005ff 62.5px,#0000c0 80.8px,#0000b8 96.1px,#0000c9 105.2px,#0005ff 120.5px,#005eff 141.8px,#0081ff 160.1px,#00a7ff 199.8px,#00a6ff 233.3px,#008dff 245.5px,#0060ff 254.7px,#0012ff 266.9px,#0004ff 273px,#0012ff 282.1px,#0082ff 300.4px,#00a2ff 312.6px,#00abff 337px,#009dff 364.5px)"></i>
<i style="background:linear-gradient(90deg,#0095ff 0px,#006dff 35.1px,#003fff 50.3px,#0000fb 65.6px,#0000cb 80.8px,#0000c3 96.1px,#0000d9 108.3px,#0000fb 117.4px,#005eff 141.8px,#007fff 160.1px,#00a2ff 202.8px,#009dff 233.3px,#0086ff 245.5px,#005bff 254.7px,#0012ff 266.9px,#0005ff 276px,#0012ff 282.1px,#007bff 300.4px,#0099ff 312.6px,#00a2ff 340.1px,#0097ff 364.5px)"></i>
<i style="background:linear-gradient(90deg,#0090ff 0px,#006dff 35.1px,#0042ff 50.3px,#0001ff 65.6px,#0000d1 80.8px,#0000ca 96.1px,#0000df 108.3px,#0001ff 117.4px,#0057ff 138.8px,#007aff 157.1px,#009bff 202.8px,#0095ff 233.3px,#007fff 245.5px,#0056ff 254.7px,#0012ff 266.9px,#0006ff 276px,#001fff 285.2px,#0075ff 300.4px,#0092ff 312.6px,#009bff 340.1px,#0092ff 364.5px)"></i>
<i style="background:linear-gradient(90deg,#008cff 0px,#006cff 35.1px,#0045ff 50.3px,#0006ff 65.6px,#0000d2 83.9px,#0000d2 99.1px,#0000ed 111.3px,#0006ff 117.4px,#0059ff 138.8px,#0079ff 157.1px,#0096ff 202.8px,#008fff 233.3px,#007aff 245.5px,#0051ff 254.7px,#0012ff 266.9px,#0007ff 276px,#001dff 285.2px,#006fff 300.4px,#008bff 312.6px,#0096ff 343.1px,#008eff 364.5px)"></i>
<i style="background:linear-gradient(90deg,#0089ff 0px,#0067ff 38.1px,#003eff 53.4px,#0000fd 68.6px,#0000da 80.8px,#0000d3 96.1px,#0000e8 108.3px,#0000fd 114.4px,#0052ff 135.7px,#0074ff 154px,#0091ff 202.8px,#0089ff 233.3px,#0074ff 245.5px,#003bff 257.7px,#0011ff 266.9px,#0007ff 276px,#001cff 285.2px,#006aff 300.4px,#0086ff 312.6px,#0091ff 343.1px,#008bff 364.5px)"></i>
<i style="background:linear-gradient(90deg,#0086ff 0px,#0068ff 38.1px,#0042ff 53.4px,#0003ff 68.6px,#0000d9 83.9px,#0000d9 99.1px,#0003ff 114.4px,#0055ff 135.7px,#0076ff 157.1px,#008dff 202.8px,#0084ff 233.3px,#006fff 245.5px,#0010ff 266.9px,#0007ff 276px,#001aff 285.2px,#006fff 303.5px,#0087ff 318.7px,#008aff 361.4px,#0088ff 364.5px)"></i>
<i style="background:linear-gradient(90deg,#0084ff 0px,#0068ff 38.1px,#0046ff 53.4px,#0000fb 71.7px,#0000dc 83.9px,#0000dc 99.1px,#0000fb 111.3px,#0057ff 135.7px,#0078ff 160.1px,#008aff 205.9px,#007dff 236.4px,#0060ff 248.6px,#000fff 266.9px,#0007ff 276px,#0019ff 285.2px,#006aff 303.5px,#0083ff 318.7px,#0089ff 358.4px,#0086ff 364.5px)"></i>
<i style="background:linear-gradient(90deg,#0083ff 0px,#0064ff 41.2px,#0041ff 56.4px,#0001ff 71.7px,#0000de 83.9px,#0000de 99.1px,#0001ff 111.3px,#004bff 129.6px,#006cff 147.9px,#0088ff 196.7px,#007dff 233.3px,#0065ff 245.5px,#000eff 266.9px,#0008ff 279.1px,#0022ff 288.2px,#0065ff 303.5px,#007fff 318.7px,#0087ff 358.4px,#0084ff 364.5px)"></i>
<i style="background:linear-gradient(90deg,#0082ff 0px,#0065ff 41.2px,#0046ff 56.4px,#0006ff 71.7px,#0000dc 86.9px,#0000e0 99.1px,#0006ff 111.3px,#004fff 129.6px,#006fff 151px,#0087ff 199.8px,#0079ff 233.3px,#005fff 245.5px,#0013ff 263.8px,#0004ff 273px,#000bff 282.1px,#0039ff 294.3px,#0069ff 306.5px,#0081ff 324.8px,#0083ff 364.5px)"></i>
<i style="background:linear-gradient(90deg,#0082ff 0px,#0063ff 44.2px,#0041ff 59.5px,#0000fd 74.7px,#0000e1 83.9px,#0000dd 96.1px,#0000f1 105.2px,#0000fd 108.3px,#004bff 126.6px,#006aff 144.9px,#0086ff 193.7px,#007aff 230.3px,#005aff 245.5px,#000fff 263.8px,#0002ff 276px,#000fff 285.2px,#0063ff 306.5px,#007dff 321.8px,#0084ff 361.4px,#0083ff 364.5px)"></i>
<i style="background:linear-gradient(90deg,#0082ff 0px,#0061ff 47.3px,#0047ff 59.5px,#0002ff 74.7px,#0000de 86.9px,#0000e2 99.1px,#0002ff 108.3px,#0047ff 123.5px,#0068ff 141.8px,#0085ff 193.7px,#0078ff 230.3px,#005eff 242.5px,#000cff 263.8px,#0000ff 276px,#000cff 285.2px,#0067ff 309.6px,#007fff 327.9px,#0082ff 364.5px)"></i>
<i style="background:linear-gradient(90deg,#0082ff 0px,#0064ff 47.3px,#0042ff 62.5px,#0007ff 74.7px,#0000e3 83.9px,#0000de 96.1px,#0000f8 105.2px,#0017ff 111.3px,#004cff 123.5px,#006aff 141.8px,#0086ff 196.7px,#0076ff 230.3px,#004eff 245.5px,#0008ff 263.8px,#0000fd 279.1px,#0010ff 288.2px,#0063ff 309.6px,#007eff 327.9px,#0083ff 364.5px)"></i>
<i style="background:linear-gradient(90deg,#0082ff 0px,#0063ff 50.3px,#0047ff 62.5px,#0000fa 77.8px,#0000dd 86.9px,#0000dd 96.1px,#0000fa 105.2px,#0048ff 120.5px,#0067ff 135.7px,#0087ff 193.7px,#0078ff 227.2px,#0054ff 242.5px,#0003ff 263.8px,#0000f9 279.1px,#000cff 288.2px,#0067ff 312.6px,#007fff 330.9px,#0084ff 364.5px)"></i>
<i style="background:linear-gradient(90deg,#0084ff 0px,#0067ff 50.3px,#004cff 62.5px,#0000fc 77.8px,#0000dc 86.9px,#0000dc 96.1px,#0000fc 105.2px,#004cff 120.5px,#006bff 135.7px,#0088ff 196.7px,#0077ff 227.2px,#0050ff 242.5px,#0006ff 260.8px,#0000f3 276px,#0006ff 288.2px,#0064ff 312.6px,#007fff 330.9px,#0085ff 364.5px)"></i>
<i style="background:linear-gradient(90deg,#0086ff 0px,#006cff 50.3px,#0051ff 62.5px,#0000fd 77.8px,#0000da 86.9px,#0000da 96.1px,#0000fd 105.2px,#0051ff 120.5px,#0070ff 135.7px,#0089ff 199.8px,#0076ff 227.2px,#004bff 242.5px,#0000ff 260.8px,#0000ec 273px,#0000f7 285.2px,#0000ff 288.2px,#0069ff 315.7px,#0081ff 334px,#0087ff 364.5px)"></i>
<i style="background:linear-gradient(90deg,#0089ff 0px,#0073ff 50.3px,#0056ff 62.5px,#0027ff 71.7px,#0000fe 77.8px,#0000d8 86.9px,#0000d8 96.1px,#0000fe 105.2px,#0049ff 117.4px,#006eff 129.6px,#007eff 154px,#008bff 202.8px,#0075ff 227.2px,#0047ff 242.5px,#0003ff 257.7px,#0000e5 269.9px,#0000e9 282.1px,#0003ff 291.3px,#0067ff 315.7px,#0080ff 330.9px,#008bff 361.4px,#008aff 364.5px)"></i>
<i style="background:linear-gradient(90deg,#008cff 0px,#0083ff 38.1px,#0077ff 53.4px,#004fff 65.6px,#0000fd 77.8px,#0000dd 83.9px,#0000d0 93px,#0000dd 99.1px,#0000fd 105.2px,#004fff 117.4px,#0077ff 129.6px,#0083ff 147.9px,#008dff 184.5px,#0087ff 212px,#006eff 230.3px,#0034ff 245.5px,#0000fa 257.7px,#0000db 269.9px,#0000df 282.1px,#0000fa 291.3px,#0066ff 315.7px,#0081ff 330.9px,#008fff 358.4px,#008dff 364.5px)"></i>
<i style="background:linear-gradient(90deg,#008fff 0px,#0089ff 29px,#0087ff 50.3px,#0065ff 62.5px,#002dff 71.7px,#0000fc 77.8px,#0000d9 83.9px,#0000cb 93px,#0000d9 99.1px,#0000fc 105.2px,#0055ff 117.4px,#007bff 126.6px,#008cff 138.8px,#008bff 172.3px,#0090ff 205.9px,#006dff 230.3px,#0030ff 245.5px,#0001ff 254.7px,#0000d3 266.9px,#0000cb 276px,#0000da 285.2px,#0001ff 294.3px,#005aff 312.6px,#007fff 327.9px,#0092ff 352.3px,#0090ff 364.5px)"></i>
<i style="background:linear-gradient(90deg,#0093ff 0px,#008fff 29px,#0098ff 47.3px,#0087ff 56.4px,#005cff 65.6px,#0000fa 77.8px,#0000d3 83.9px,#0000c4 90px,#0000c8 96.1px,#0000e4 102.2px,#0000fa 105.2px,#005cff 117.4px,#0087ff 126.6px,#0098ff 135.7px,#008dff 166.2px,#0094ff 205.9px,#0077ff 227.2px,#004eff 239.4px,#000bff 251.6px,#0000f8 254.7px,#0000c2 263.8px,#0000b7 276px,#0000c2 285.2px,#0000f8 294.3px,#002eff 303.5px,#0066ff 315.7px,#008fff 337px,#0094ff 364.5px)"></i>
<i style="background:linear-gradient(90deg,#0098ff 0px,#0097ff 29px,#00a8ff 47.3px,#0097ff 56.4px,#0064ff 65.6px,#0013ff 74.7px,#0000f6 77.8px,#0000cb 83.9px,#0000bb 90px,#0000c0 96.1px,#0000dd 102.2px,#0000f6 105.2px,#0030ff 111.3px,#0079ff 120.5px,#00a0ff 129.6px,#00a8ff 138.8px,#0094ff 163.2px,#0097ff 208.9px,#007bff 227.2px,#0052ff 239.4px,#001bff 248.6px,#0000f2 251.6px,#0000cc 254.7px,#0000b7 257.7px,#0000b7 291.3px,#0000cc 294.3px,#0000f2 297.4px,#001bff 300.4px,#005fff 312.6px,#0087ff 327.9px,#009aff 346.2px,#0099ff 364.5px)"></i>
<i style="background:linear-gradient(90deg,#009dff 0px,#00a1ff 29px,#00bcff 47.3px,#00aaff 56.4px,#006dff 65.6px,#0010ff 74.7px,#0000ef 77.8px,#0000c1 83.9px,#0000b0 90px,#0000b5 96.1px,#0000d4 102.2px,#0000ef 105.2px,#0010ff 108.3px,#006dff 117.4px,#00aaff 126.6px,#00bcff 135.7px,#009dff 160.1px,#009bff 212px,#007aff 230.3px,#0057ff 239.4px,#0045ff 242.5px,#0013ff 245.5px,#0000ce 248.6px,#0000b4 251.6px,#0000b4 297.4px,#0000ce 300.4px,#0013ff 303.5px,#0045ff 306.5px,#0071ff 315.7px,#0098ff 334px,#009eff 364.5px)"></i>
<i style="background:linear-gradient(90deg,#00a3ff 0px,#00abff 25.9px,#00d2ff 47.3px,#00ccff 53.4px,#00afff 59.5px,#0078ff 65.6px,#000aff 74.7px,#0000c8 80.8px,#0000b3 83.9px,#0000a7 90px,#0000a9 96.1px,#0000b3 99.1px,#0000e5 105.2px,#000aff 108.3px,#0078ff 117.4px,#00afff 123.5px,#00ccff 129.6px,#00ceff 138.8px,#00abff 157.1px,#00a3ff 181.5px,#00a0ff 215px,#0080ff 230.3px,#006cff 236.4px,#0053ff 239.4px,#0053ff 240.9px,#0000f6 240.9px,#0000b4 245.5px,#0000b4 303.5px,#0000f6 306.5px,#0000f6 308px,#0053ff 308px,#006cff 312.6px,#0098ff 327.9px,#00a5ff 349.2px,#00a3ff 364.5px)"></i>
<i style="background:linear-gradient(90deg,#00a8ff 0px,#00b4ff 22.9px,#00ebff 47.3px,#00e8ff 53.4px,#00c6ff 59.5px,#0084ff 65.6px,#002cff 71.7px,#0000f6 74.7px,#0000c5 77.8px,#0000b6 80.8px,#0000b6 102.2px,#0000c5 105.2px,#0000f6 108.3px,#0059ff 114.4px,#00a9ff 120.5px,#00dbff 126.6px,#00ecff 132.7px,#00ddff 141.8px,#00b0ff 163.2px,#00aaff 190.6px,#00a6ff 218.1px,#008aff 230.3px,#0080ff 233.3px,#005cff 236.4px,#005cff 237.9px,#0000d5 237.9px,#0000b4 242.5px,#0000b4 306.5px,#0000d5 309.6px,#0000d5 311.1px,#005cff 311.1px,#007fff 315.7px,#00a1ff 327.9px,#00abff 352.3px,#00a9ff 364.5px)"></i>
<i style="background:linear-gradient(90deg,#00afff 0px,#00bcff 19.8px,#00feff 44.2px,#0bfff4 50.3px,#00f9ff 56.4px,#00e2ff 59.5px,#00bfff 62.5px,#0092ff 65.6px,#0092ff 67.1px,#0035ff 67.1px,#0000d3 71.7px,#0000b4 74.7px,#0000b4 108.3px,#0000d3 111.3px,#0035ff 114.4px,#0035ff 115.9px,#0092ff 115.9px,#00bfff 120.5px,#00e2ff 123.5px,#00f9ff 126.6px,#0bfff4 132.7px,#00ffff 138.8px,#00bcff 163.2px,#00afff 181.5px,#00b0ff 218.1px,#0099ff 230.3px,#0064ff 233.3px,#0064ff 234.8px,#0000c0 234.8px,#0000b4 239.4px,#0000b4 309.6px,#0000c0 312.6px,#0000c0 314.1px,#0063ff 314.1px,#0098ff 318.7px,#00b0ff 330.9px,#00afff 364.5px)"></i>
<i style="background:linear-gradient(90deg,#00b5ff 0px,#00c2ff 16.8px,#00f1ff 32px,#00feff 35.1px,#26ffd9 47.3px,#29ffd6 53.4px,#1cffe3 56.4px,#02fffd 59.5px,#00c8ff 62.5px,#00c8ff 64px,#001eff 64px,#001eff 67.1px,#0000b4 67.1px,#0000b4 114.4px,#0000b4 115.9px,#001eff 115.9px,#001eff 118.9px,#00c8ff 118.9px,#03fffc 123.5px,#1cffe3 126.6px,#29ffd6 129.6px,#26ffd9 135.7px,#00feff 147.9px,#00c9ff 163.2px,#00b6ff 178.4px,#00baff 221.1px,#00b1ff 227.2px,#008bff 230.3px,#008bff 231.8px,#0000c2 231.8px,#0000b4 236.4px,#0000b9 291.3px,#0000b4 312.6px,#0000c2 315.7px,#0000c2 317.2px,#008aff 317.2px,#00b1ff 321.8px,#00bcff 340.1px,#00b5ff 364.5px)"></i>
<i style="background:linear-gradient(90deg,#00bcff 0px,#00cdff 16.8px,#00faff 29px,#48ffb7 44.2px,#4fffb0 50.3px,#41ffbe 56.4px,#0ffff0 59.5px,#0ffff0 61px,#0000f1 61px,#0000b4 65.6px,#0000b4 117.4px,#0000f1 120.5px,#0000f1 122px,#0ffff0 122px,#41ffbe 126.6px,#50ffaf 132.7px,#48ffb7 138.8px,#00fbff 154px,#00ceff 166.2px,#00bcff 181.5px,#00c6ff 224.2px,#00b2ff 227.2px,#00b2ff 228.8px,#0000e5 228.8px,#0000b4 233.3px,#0000be 285.2px,#0000b4 315.7px,#0000e5 318.7px,#0000e5 320.2px,#00b1ff 320.2px,#00c6ff 324.8px,#00bbff 364.5px)"></i>
<i style="background:linear-gradient(90deg,#00c3ff 0px,#00d9ff 16.8px,#01fffe 25.9px,#74ff8b 44.2px,#83ff7c 50.3px,#7aff85 53.4px,#4cffb3 56.4px,#4cffb3 57.9px,#0001ff 57.9px,#0001ff 61px,#0000b4 61px,#0000b6 111.3px,#0000b4 120.5px,#0000b4 122px,#0001ff 122px,#0001ff 125px,#4cffb3 125px,#7aff85 129.6px,#83ff7c 132.7px,#75ff8a 138.8px,#01fffe 157.1px,#00d2ff 169.3px,#00c2ff 184.5px,#00d8ff 224.2px,#00d8ff 225.7px,#0033ff 225.7px,#0033ff 228.8px,#0000b4 228.8px,#0000c8 279.1px,#0000b4 318.7px,#0000b4 320.2px,#0033ff 320.2px,#0033ff 323.3px,#00d7ff 323.3px,#00c2ff 364.5px)"></i>
<i style="background:linear-gradient(90deg,#00c9ff 0px,#00dcff 13.7px,#03fffc 22.9px,#5bffa4 35.1px,#a5ff5a 44.2px,#bdff42 50.3px,#96ff69 53.4px,#96ff69 54.9px,#000fff 54.9px,#000fff 57.9px,#0000b4 57.9px,#0000bd 99.1px,#0000b4 123.5px,#0000b4 125px,#000fff 125px,#000fff 128.1px,#96ff69 128.1px,#bdff42 132.7px,#a5ff5a 138.8px,#15ffea 157.1px,#03fffc 160.1px,#00d5ff 172.3px,#00c9ff 187.6px,#00e8ff 221.1px,#00e8ff 222.6px,#009cff 222.6px,#009cff 225.7px,#0000b4 225.7px,#0000c7 257.7px,#0000d4 276px,#0000b5 315.7px,#0000b4 321.8px,#0000b4 323.3px,#009cff 323.3px,#009cff 326.3px,#00e7ff 326.3px,#00c8ff 361.4px,#00c8ff 364.5px)"></i>
<i style="background:linear-gradient(90deg,#00d0ff 0px,#00e7ff 13.7px,#02fffd 19.8px,#42ffbd 29px,#d7ff28 44.2px,#fcff03 50.3px,#fcff03 51.8px,#00b0ff 51.8px,#00b0ff 54.9px,#0000b4 54.9px,#0000c7 96.1px,#0000b4 126.6px,#0000b4 128.1px,#00b0ff 128.1px,#00b0ff 131.2px,#fcff03 131.2px,#d8ff27 138.8px,#43ffbc 154px,#02fffd 163.2px,#00d7ff 175.4px,#00d0ff 190.6px,#00eeff 215px,#00faff 221.1px,#00faff 222.6px,#0006ff 222.6px,#0006ff 225.7px,#0000b4 225.7px,#0000c5 251.6px,#0000e5 273px,#0000d6 288.2px,#0000b9 309.6px,#0000b4 321.8px,#0000b4 323.3px,#0006ff 323.3px,#0006ff 326.3px,#00f9ff 326.3px,#00d1ff 355.3px,#00cfff 364.5px)"></i>
<i style="background:linear-gradient(90deg,#00d7ff 0px,#00f1ff 13.7px,#00feff 16.8px,#3effc1 25.9px,#9fff60 35.1px,#e9ff16 41.2px,#fff200 44.2px,#ffd500 47.3px,#ffd500 48.8px,#97ff68 48.8px,#97ff68 51.8px,#0000b4 51.8px,#0000c3 74.7px,#0000d8 93px,#0000b6 123.5px,#0000b4 129.6px,#0000b4 131.2px,#98ff67 131.2px,#98ff67 134.2px,#ffd400 134.2px,#fff200 138.8px,#e9ff16 141.8px,#5bffa4 154px,#11ffee 163.2px,#00ffff 166.2px,#00dfff 175.4px,#00d6ff 190.6px,#00f4ff 212px,#04fffb 218.1px,#04fffb 219.6px,#00b5ff 219.6px,#00b5ff 222.6px,#0000b4 222.6px,#0000c1 245.5px,#0000f5 269.9px,#0000f1 282.1px,#0000bd 306.5px,#0000b4 324.8px,#0000b4 326.3px,#00b4ff 326.3px,#00b4ff 329.4px,#04fffb 329.4px,#00d8ff 355.3px,#00d5ff 364.5px)"></i>
<i style="background:linear-gradient(90deg,#00ddff 0px,#00efff 10.7px,#00fbff 13.7px,#1effe1 19.8px,#73ff8c 29px,#ebff14 38.1px,#ffe700 41.2px,#ff9800 47.3px,#ff9800 48.8px,#0063ff 48.8px,#0063ff 51.8px,#0000b5 51.8px,#0000c6 71.7px,#0000ed 90px,#0000dd 102.2px,#0000bc 117.4px,#0000b5 129.6px,#0000b5 131.2px,#0063ff 131.2px,#0063ff 134.2px,#ff9800 134.2px,#ffe700 141.8px,#ebff14 144.9px,#73ff8c 154px,#1fffe0 163.2px,#00fbff 169.3px,#00e1ff 178.4px,#00deff 193.7px,#00ffff 212px,#14ffeb 218.1px,#14ffeb 219.6px,#003bff 219.6px,#003bff 222.6px,#0000b5 222.6px,#0000c6 245.5px,#0000fc 263.8px,#0006ff 279.1px,#0000f4 288.2px,#0000c1 306.5px,#0000b5 324.8px,#0000b5 326.3px,#003bff 326.3px,#003bff 329.4px,#13ffec 329.4px,#00ffff 337px,#00deff 355.3px,#00dbff 364.5px)"></i>
<i style="background:linear-gradient(90deg,#00e2ff 0px,#05fffa 13.7px,#45ffba 22.9px,#89ff76 29px,#e0ff1f 35.1px,#ffed00 38.1px,#ff8a00 44.2px,#ffbf00 47.3px,#ffbf00 48.8px,#0000b4 48.8px,#0000c6 68.6px,#0000ff 86.9px,#0000fa 99.1px,#0000c0 117.4px,#0000b4 132.7px,#0000b4 134.2px,#ffbe00 134.2px,#ff8a00 138.8px,#ffed00 144.9px,#e0ff1f 147.9px,#65ff9a 157.1px,#2cffd3 163.2px,#05fffa 169.3px,#00e3ff 181.5px,#00e7ff 196.7px,#02fffd 208.9px,#23ffdc 218.1px,#23ffdc 219.6px,#0000cb 219.6px,#0000b5 224.2px,#0000c5 242.5px,#0003ff 260.8px,#0012ff 273px,#000aff 285.2px,#0000f9 291.3px,#0000c5 306.5px,#0000b5 324.8px,#0000cb 327.9px,#0000cb 329.4px,#22ffdd 329.4px,#01fffe 340.1px,#00e1ff 358.4px,#00e0ff 364.5px)"></i>
<i style="background:linear-gradient(90deg,#00e7ff 0px,#00feff 10.7px,#20ffdf 16.8px,#53ffac 22.9px,#9dff62 29px,#fdff02 35.1px,#ff5b00 44.2px,#ff5b00 45.8px,#0efff1 45.8px,#0efff1 48.8px,#0000b5 48.8px,#0000c4 65.6px,#0004ff 80.8px,#0011ff 90px,#000bff 99.1px,#0000f7 105.2px,#0000c4 117.4px,#0000b5 132.7px,#0000b5 134.2px,#0efff1 134.2px,#0efff1 137.2px,#ff5a00 137.2px,#fdff02 147.9px,#9eff61 154px,#54ffab 160.1px,#20ffdf 166.2px,#00feff 172.3px,#00e8ff 181.5px,#00ecff 196.7px,#01fffe 205.9px,#22ffdd 215px,#00d0ff 218.1px,#00d0ff 219.6px,#0000b4 219.6px,#0000c2 239.4px,#0000ec 251.6px,#0005ff 257.7px,#0016ff 269.9px,#000dff 288.2px,#0000f9 294.3px,#0000c9 306.5px,#0000b6 321.8px,#0000b4 327.9px,#0000b4 329.4px,#00cfff 329.4px,#21ffde 334px,#00ffff 343.1px,#00e5ff 358.4px,#00e5ff 364.5px)"></i>
<i style="background:linear-gradient(90deg,#00ebff 0px,#05fffa 10.7px,#41ffbe 19.8px,#84ff7b 25.9px,#e0ff1f 32px,#ffe800 35.1px,#ff3100 44.2px,#ff3100 45.8px,#0050ff 45.8px,#0050ff 48.8px,#0000b5 48.8px,#0000c1 62.5px,#0000e6 71.7px,#0006ff 77.8px,#0017ff 86.9px,#000fff 102.2px,#0000f7 108.3px,#0000ca 117.4px,#0000b6 129.6px,#0000b5 132.7px,#0000b5 134.2px,#0050ff 134.2px,#0050ff 137.2px,#ff3000 137.2px,#ffe800 147.9px,#e0ff1f 151px,#84ff7b 157.1px,#41ffbe 163.2px,#05fffa 172.3px,#00e9ff 184.5px,#00f6ff 199.8px,#07fff8 205.9px,#2cffd3 215px,#2cffd3 216.5px,#0076ff 216.5px,#0076ff 219.6px,#0000b5 219.6px,#0000c5 239.4px,#0003ff 254.7px,#0016ff 263.8px,#0013ff 288.2px,#0003ff 294.3px,#0000c5 309.6px,#0000b5 327.9px,#0000b5 329.4px,#0076ff 329.4px,#0076ff 332.4px,#2bffd4 332.4px,#06fff9 343.1px,#00e9ff 358.4px,#00e8ff 364.5px)"></i>
<i style="background:linear-gradient(90deg,#00efff 0px,#00fcff 7.6px,#19ffe6 13.7px,#48ffb7 19.8px,#8fff70 25.9px,#f0ff0f 32px,#ffd400 35.1px,#ff0f00 44.2px,#ff0f00 45.8px,#0000b4 45.8px,#0000c4 62.5px,#0003ff 74.7px,#0015ff 80.8px,#0015ff 102.2px,#0003ff 108.3px,#0000c4 120.5px,#0000b4 135.7px,#0000b4 137.2px,#ff0f00 137.2px,#ffd400 147.9px,#f1ff0e 151px,#90ff6f 157.1px,#49ffb6 163.2px,#1affe5 169.3px,#00fdff 175.4px,#00ecff 184.5px,#00faff 199.8px,#0bfff4 205.9px,#34ffcb 215px,#34ffcb 216.5px,#0049ff 216.5px,#0049ff 219.6px,#0000b5 219.6px,#0000c0 236.4px,#0000de 245.5px,#0000fc 251.6px,#0016ff 260.8px,#0016ff 288.2px,#0000fc 297.4px,#0000c7 309.6px,#0000b6 324.8px,#0000b5 327.9px,#0000b5 329.4px,#0049ff 329.4px,#0049ff 332.4px,#33ffcc 332.4px,#02fffd 346.2px,#00ebff 361.4px,#00ecff 364.5px)"></i>
<i style="background:linear-gradient(90deg,#00f1ff 0px,#00ffff 7.6px,#33ffcc 16.8px,#6fff90 22.9px,#c6ff39 29px,#fcff03 32px,#ff8400 38.1px,#ff3e00 41.2px,#ff6500 44.2px,#ff6500 45.8px,#0000b5 45.8px,#0000bf 59.5px,#0000e4 68.6px,#0000f7 71.7px,#0013ff 77.8px,#0018ff 102.2px,#0009ff 108.3px,#0000f7 111.3px,#0000c6 120.5px,#0000b6 132.7px,#0000b5 135.7px,#0000b5 137.2px,#ff6500 137.2px,#ff3e00 141.8px,#ffc600 147.9px,#fcff03 151px,#98ff67 157.1px,#4effb1 163.2px,#1dffe2 169.3px,#00ffff 175.4px,#00eeff 184.5px,#00f6ff 196.7px,#0ffff0 205.9px,#39ffc6 215px,#39ffc6 216.5px,#0019ff 216.5px,#0019ff 219.6px,#0000b5 219.6px,#0000c2 236.4px,#0000e2 245.5px,#0002ff 251.6px,#0018ff 260.8px,#0014ff 291.3px,#0002ff 297.4px,#0000c9 309.6px,#0000b6 324.8px,#0000b5 327.9px,#0000b5 329.4px,#0019ff 329.4px,#0019ff 332.4px,#39ffc6 332.4px,#05fffa 346.2px,#00edff 361.4px,#00eeff 364.5px)"></i>
<i style="background:linear-gradient(90deg,#00f2ff 0px,#01fffe 7.6px,#35ffca 16.8px,#72ff8d 22.9px,#cbff34 29px,#fffc00 32px,#ff7c00 38.1px,#ff7c00 39.6px,#ff3400 39.6px,#ff3400 42.7px,#ffc900 42.7px,#ffc900 45.8px,#0000b5 45.8px,#0000bf 59.5px,#0000e7 68.6px,#0000fb 71.7px,#0018ff 80.8px,#0015ff 105.2px,#0000fb 111.3px,#0000c8 120.5px,#0000b6 132.7px,#0000b5 135.7px,#0000b5 137.2px,#ffc900 137.2px,#ffc900 140.3px,#ff3400 140.3px,#ff3400 143.3px,#ff7b00 143.3px,#fffc00 151px,#9cff63 157.1px,#51ffae 163.2px,#1fffe0 169.3px,#02fffd 175.4px,#00eeff 187.6px,#00feff 199.8px,#2bffd4 212px,#3cffc3 215px,#3cffc3 216.5px,#001aff 216.5px,#001aff 219.6px,#0000b5 219.6px,#0000c2 236.4px,#0000e4 245.5px,#0004ff 251.6px,#0018ff 260.8px,#0015ff 291.3px,#0004ff 297.4px,#0000ca 309.6px,#0000b6 324.8px,#0000b5 327.9px,#0000b5 329.4px,#001aff 329.4px,#001aff 332.4px,#3cffc3 332.4px,#06fff9 346.2px,#00eeff 361.4px,#00efff 364.5px)"></i>
<i style="background:linear-gradient(90deg,#00f2ff 0px,#01fffe 7.6px,#35ffca 16.8px,#73ff8c 22.9px,#cbff34 29px,#fffc00 32px,#ff7c00 38.1px,#ff7c00 39.6px,#ff3400 39.6px,#ff3400 42.7px,#ffc900 42.7px,#ffc900 45.8px,#0000b5 45.8px,#0000bf 59.5px,#0000e7 68.6px,#0000fb 71.7px,#0018ff 80.8px,#0015ff 105.2px,#0000fb 111.3px,#0000c8 120.5px,#0000b6 132.7px,#0000b5 135.7px,#0000b5 137.2px,#ffc900 137.2px,#ffc900 140.3px,#ff3400 140.3px,#ff3400 143.3px,#ff7b00 143.3px,#fffc00 151px,#9cff63 157.1px,#51ffae 163.2px,#1fffe0 169.3px,#02fffd 175.4px,#00eeff 187.6px,#00feff 199.8px,#2bffd4 212px,#3cffc3 215px,#3cffc3 216.5px,#001aff 216.5px,#001aff 219.6px,#0000b5 219.6px,#0000c2 236.4px,#0000e4 245.5px,#0004ff 251.6px,#0018ff 260.8px,#0015ff 291.3px,#0004ff 297.4px,#0000ca 309.6px,#0000b6 324.8px,#0000b5 327.9px,#0000b5 329.4px,#001aff 329.4px,#001aff 332.4px,#3cffc3 332.4px,#06fff9 346.2px,#00eeff 361.4px,#00efff 364.5px)"></i>
<i style="background:linear-gradient(90deg,#00f1ff 0px,#00ffff 7.6px,#33ffcc 16.8px,#6fff90 22.9px,#c6ff39 29px,#fcff03 32px,#ff8400 38.1px,#ff3e00 41.2px,#ff6500 44.2px,#ff6500 45.8px,#0000b5 45.8px,#0000bf 59.5px,#0000e4 68.6px,#0000f7 71.7px,#0013ff 77.8px,#0018ff 102.2px,#0009ff 108.3px,#0000f7 111.3px,#0000c6 120.5px,#0000b6 132.7px,#0000b5 135.7px,#0000b5 137.2px,#ff6500 137.2px,#ff3e00 141.8px,#ffc600 147.9px,#fcff03 151px,#98ff67 157.1px,#4effb1 163.2px,#1dffe2 169.3px,#00ffff 175.4px,#00eeff 184.5px,#00f6ff 196.7px,#0ffff0 205.9px,#39ffc6 215px,#39ffc6 216.5px,#0019ff 216.5px,#0019ff 219.6px,#0000b5 219.6px,#0000c2 236.4px,#0000e2 245.5px,#0002ff 251.6px,#0018ff 260.8px,#0014ff 291.3px,#0002ff 297.4px,#0000c9 309.6px,#0000b6 324.8px,#0000b5 327.9px,#0000b5 329.4px,#0019ff 329.4px,#0019ff 332.4px,#39ffc6 332.4px,#05fffa 346.2px,#00edff 361.4px,#00eeff 364.5px)"></i>
<i style="background:linear-gradient(90deg,#00efff 0px,#00fcff 7.6px,#19ffe6 13.7px,#48ffb7 19.8px,#8fff70 25.9px,#f0ff0f 32px,#ffd400 35.1px,#ff0f00 44.2px,#ff0f00 45.8px,#0000b4 45.8px,#0000c4 62.5px,#0003ff 74.7px,#0015ff 80.8px,#0015ff 102.2px,#0003ff 108.3px,#0000c4 120.5px,#0000b4 135.7px,#0000b4 137.2px,#ff0f00 137.2px,#ffd300 147.9px,#f1ff0e 151px,#90ff6f 157.1px,#49ffb6 163.2px,#1affe5 169.3px,#00fdff 175.4px,#00ecff 184.5px,#00faff 199.8px,#0cfff3 205.9px,#34ffcb 215px,#34ffcb 216.5px,#0049ff 216.5px,#0049ff 219.6px,#0000b5 219.6px,#0000c0 236.4px,#0000de 245.5px,#0000fc 251.6px,#0016ff 260.8px,#0016ff 288.2px,#0000fc 297.4px,#0000c7 309.6px,#0000b6 324.8px,#0000b5 327.9px,#0000b5 329.4px,#0049ff 329.4px,#0049ff 332.4px,#33ffcc 332.4px,#02fffd 346.2px,#00ebff 361.4px,#00ecff 364.5px)"></i>
<i style="background:linear-gradient(90deg,#00ebff 0px,#05fffa 10.7px,#41ffbe 19.8px,#84ff7b 25.9px,#e0ff1f 32px,#ffe800 35.1px,#ff3100 44.2px,#ff3100 45.8px,#0050ff 45.8px,#0050ff 48.8px,#0000b5 48.8px,#0000c1 62.5px,#0000e6 71.7px,#0006ff 77.8px,#0017ff 86.9px,#000fff 102.2px,#0000f7 108.3px,#0000ca 117.4px,#0000b6 129.6px,#0000b5 132.7px,#0000b5 134.2px,#0050ff 134.2px,#0050ff 137.2px,#ff3000 137.2px,#ffe700 147.9px,#e0ff1f 151px,#84ff7b 157.1px,#41ffbe 163.2px,#05fffa 172.3px,#00e9ff 184.5px,#00f6ff 199.8px,#07fff8 205.9px,#2cffd3 215px,#2cffd3 216.5px,#0076ff 216.5px,#0076ff 219.6px,#0000b5 219.6px,#0000c5 239.4px,#0003ff 254.7px,#0016ff 263.8px,#0013ff 288.2px,#0003ff 294.3px,#0000c5 309.6px,#0000b5 327.9px,#0000b5 329.4px,#0076ff 329.4px,#0076ff 332.4px,#2bffd4 332.4px,#06fff9 343.1px,#00ecff 355.3px,#00e9ff 364.5px)"></i>
<i style="background:linear-gradient(90deg,#00e7ff 0px,#00feff 10.7px,#20ffdf 16.8px,#54ffab 22.9px,#9eff61 29px,#fdff02 35.1px,#ff5a00 44.2px,#ff5a00 45.8px,#0efff1 45.8px,#0efff1 48.8px,#0000b5 48.8px,#0000c4 65.6px,#0004ff 80.8px,#0011ff 90px,#000bff 99.1px,#0000f7 105.2px,#0000c4 117.4px,#0000b5 132.7px,#0000b5 134.2px,#0efff1 134.2px,#0efff1 137.2px,#ff5a00 137.2px,#feff01 147.9px,#9eff61 154px,#54ffab 160.1px,#20ffdf 166.2px,#00feff 172.3px,#00e8ff 181.5px,#00ecff 196.7px,#01fffe 205.9px,#22ffdd 215px,#00d0ff 218.1px,#00d0ff 219.6px,#0000b4 219.6px,#0000c2 239.4px,#0000ec 251.6px,#0005ff 257.7px,#0016ff 269.9px,#000dff 288.2px,#0000f9 294.3px,#0000c9 306.5px,#0000b6 321.8px,#0000b4 327.9px,#0000b4 329.4px,#00cfff 329.4px,#21ffde 334px,#00ffff 343.1px,#00e5ff 358.4px,#00e5ff 364.5px)"></i>
<i style="background:linear-gradient(90deg,#00e2ff 0px,#05fffa 13.7px,#46ffb9 22.9px,#89ff76 29px,#e0ff1f 35.1px,#ffed00 38.1px,#ff8a00 44.2px,#ffbe00 47.3px,#ffbe00 48.8px,#0000b4 48.8px,#0000c6 68.6px,#0000ff 86.9px,#0000fa 99.1px,#0000c0 117.4px,#0000b4 132.7px,#0000b4 134.2px,#ffbe00 134.2px,#ff8a00 138.8px,#ffed00 144.9px,#e0ff1f 147.9px,#65ff9a 157.1px,#2cffd3 163.2px,#05fffa 169.3px,#00e3ff 181.5px,#00e7ff 196.7px,#02fffd 208.9px,#23ffdc 218.1px,#23ffdc 219.6px,#0000cb 219.6px,#0000b5 224.2px,#0000c5 242.5px,#0003ff 260.8px,#0012ff 273px,#000aff 285.2px,#0000f9 291.3px,#0000c5 306.5px,#0000b5 324.8px,#0000cb 327.9px,#0000cb 329.4px,#23ffdc 329.4px,#01fffe 340.1px,#00e1ff 358.4px,#00e0ff 364.5px)"></i>
<i style="background:linear-gradient(90deg,#00ddff 0px,#00efff 10.7px,#00fbff 13.7px,#1effe1 19.8px,#73ff8c 29px,#ebff14 38.1px,#ffe700 41.2px,#ff9800 47.3px,#ff9800 48.8px,#0063ff 48.8px,#0063ff 51.8px,#0000b5 51.8px,#0000c6 71.7px,#0000ed 90px,#0000dd 102.2px,#0000bc 117.4px,#0000b5 129.6px,#0000b5 131.2px,#0063ff 131.2px,#0063ff 134.2px,#ff9800 134.2px,#ffe700 141.8px,#ecff13 144.9px,#73ff8c 154px,#1fffe0 163.2px,#00fbff 169.3px,#00e1ff 178.4px,#00deff 193.7px,#00ffff 212px,#14ffeb 218.1px,#14ffeb 219.6px,#003bff 219.6px,#003bff 222.6px,#0000b5 222.6px,#0000c6 245.5px,#0000fc 263.8px,#0006ff 279.1px,#0000f4 288.2px,#0000c1 306.5px,#0000b5 324.8px,#0000b5 326.3px,#003bff 326.3px,#003bff 329.4px,#14ffeb 329.4px,#00ffff 337px,#00deff 355.3px,#00dbff 364.5px)"></i>
<i style="background:linear-gradient(90deg,#00d7ff 0px,#00f1ff 13.7px,#00feff 16.8px,#3effc1 25.9px,#9fff60 35.1px,#e9ff16 41.2px,#fff200 44.2px,#ffd400 47.3px,#ffd400 48.8px,#98ff67 48.8px,#98ff67 51.8px,#0000b4 51.8px,#0000c3 74.7px,#0000d8 93px,#0000b6 123.5px,#0000b4 129.6px,#0000b4 131.2px,#98ff67 131.2px,#98ff67 134.2px,#ffd400 134.2px,#fff200 138.8px,#e9ff16 141.8px,#5bffa4 154px,#11ffee 163.2px,#00ffff 166.2px,#00dfff 175.4px,#00d6ff 190.6px,#00f4ff 212px,#04fffb 218.1px,#04fffb 219.6px,#00b5ff 219.6px,#00b5ff 222.6px,#0000b4 222.6px,#0000c1 245.5px,#0000f5 269.9px,#0000f1 282.1px,#0000bd 306.5px,#0000b4 324.8px,#0000b4 326.3px,#00b4ff 326.3px,#00b4ff 329.4px,#04fffb 329.4px,#00d8ff 355.3px,#00d5ff 364.5px)"></i>
<i style="background:linear-gradient(90deg,#00d0ff 0px,#00e7ff 13.7px,#02fffd 19.8px,#43ffbc 29px,#d8ff27 44.2px,#fcff03 50.3px,#fcff03 51.8px,#00b0ff 51.8px,#00b0ff 54.9px,#0000b4 54.9px,#0000c7 96.1px,#0000b4 126.6px,#0000b4 128.1px,#00b0ff 128.1px,#00b0ff 131.2px,#fcff03 131.2px,#d8ff27 138.8px,#43ffbc 154px,#02fffd 163.2px,#00d8ff 175.4px,#00d0ff 190.6px,#00eeff 215px,#00faff 221.1px,#00faff 222.6px,#0006ff 222.6px,#0006ff 225.7px,#0000b4 225.7px,#0000c5 251.6px,#0000e5 273px,#0000d6 288.2px,#0000b9 309.6px,#0000b4 321.8px,#0000b4 323.3px,#0006ff 323.3px,#0006ff 326.3px,#00f9ff 326.3px,#00d1ff 355.3px,#00cfff 364.5px)"></i>
<i style="background:linear-gradient(90deg,#00caff 0px,#00dcff 13.7px,#03fffc 22.9px,#5bffa4 35.1px,#a5ff5a 44.2px,#bdff42 50.3px,#96ff69 53.4px,#96ff69 54.9px,#000fff 54.9px,#000fff 57.9px,#0000b4 57.9px,#0000bd 99.1px,#0000b4 123.5px,#0000b4 125px,#000fff 125px,#000fff 128.1px,#96ff69 128.1px,#bdff42 132.7px,#a5ff5a 138.8px,#15ffea 157.1px,#03fffc 160.1px,#00d5ff 172.3px,#00c9ff 187.6px,#00e8ff 221.1px,#00e8ff 222.6px,#009cff 222.6px,#009cff 225.7px,#0000b4 225.7px,#0000c7 257.7px,#0000d4 276px,#0000b5 315.7px,#0000b4 321.8px,#0000b4 323.3px,#009cff 323.3px,#009cff 326.3px,#00e8ff 326.3px,#00c8ff 361.4px,#00c8ff 364.5px)"></i>
<i style="background:linear-gradient(90deg,#00c3ff 0px,#00daff 16.8px,#01fffe 25.9px,#75ff8a 44.2px,#83ff7c 50.3px,#7aff85 53.4px,#4dffb2 56.4px,#4dffb2 57.9px,#0001ff 57.9px,#0001ff 61px,#0000b4 61px,#0000b6 111.3px,#0000b4 120.5px,#0000b4 122px,#0001ff 122px,#0001ff 125px,#4dffb2 125px,#7aff85 129.6px,#83ff7c 132.7px,#75ff8a 138.8px,#01fffe 157.1px,#00d2ff 169.3px,#00c2ff 184.5px,#00d8ff 224.2px,#00d8ff 225.7px,#0033ff 225.7px,#0033ff 228.8px,#0000b4 228.8px,#0000c8 279.1px,#0000b4 318.7px,#0000b4 320.2px,#0033ff 320.2px,#0033ff 323.3px,#00d8ff 323.3px,#00c2ff 364.5px)"></i>
<i style="background:linear-gradient(90deg,#00bcff 0px,#00ceff 16.8px,#00fbff 29px,#48ffb7 44.2px,#50ffaf 50.3px,#41ffbe 56.4px,#0ffff0 59.5px,#0ffff0 61px,#0000f1 61px,#0000b4 65.6px,#0000b4 117.4px,#0000f1 120.5px,#0000f1 122px,#0ffff0 122px,#41ffbe 126.6px,#50ffaf 132.7px,#48ffb7 138.8px,#00fbff 154px,#00ceff 166.2px,#00bcff 181.5px,#00c6ff 224.2px,#00b2ff 227.2px,#00b2ff 228.8px,#0000e5 228.8px,#0000b4 233.3px,#0000be 285.2px,#0000b4 315.7px,#0000e5 318.7px,#0000e5 320.2px,#00b2ff 320.2px,#00c6ff 324.8px,#00bbff 364.5px)"></i>
<i style="background:linear-gradient(90deg,#00b5ff 0px,#00c2ff 16.8px,#00f1ff 32px,#00feff 35.1px,#26ffd9 47.3px,#29ffd6 53.4px,#1cffe3 56.4px,#03fffc 59.5px,#00c8ff 62.5px,#00c8ff 64px,#001fff 64px,#001fff 67.1px,#0000b4 67.1px,#0000b4 114.4px,#0000b4 115.9px,#001fff 115.9px,#001fff 118.9px,#00c8ff 118.9px,#03fffc 123.5px,#1cffe3 126.6px,#29ffd6 129.6px,#26ffd9 135.7px,#00ffff 147.9px,#00c9ff 163.2px,#00b6ff 178.4px,#00baff 221.1px,#00b1ff 227.2px,#008bff 230.3px,#008bff 231.8px,#0000c2 231.8px,#0000b4 236.4px,#0000b9 291.3px,#0000b4 312.6px,#0000c2 315.7px,#0000c2 317.2px,#008aff 317.2px,#00b1ff 321.8px,#00bcff 340.1px,#00b5ff 364.5px)"></i>
<i style="background:linear-gradient(90deg,#00afff 0px,#00bcff 19.8px,#00ffff 44.2px,#0bfff4 50.3px,#00faff 56.4px,#00e2ff 59.5px,#00bfff 62.5px,#0092ff 65.6px,#0092ff 67.1px,#0036ff 67.1px,#0000d3 71.7px,#0000b4 74.7px,#0000b4 108.3px,#0000d3 111.3px,#0036ff 114.4px,#0036ff 115.9px,#0092ff 115.9px,#00bfff 120.5px,#00e2ff 123.5px,#00faff 126.6px,#0bfff4 132.7px,#00ffff 138.8px,#00bcff 163.2px,#00afff 181.5px,#00b0ff 218.1px,#0098ff 230.3px,#0063ff 233.3px,#0063ff 234.8px,#0000c0 234.8px,#0000b4 239.4px,#0000b4 309.6px,#0000c0 312.6px,#0000c0 314.1px,#0063ff 314.1px,#0098ff 318.7px,#00b0ff 330.9px,#00afff 364.5px)"></i>
<i style="background:linear-gradient(90deg,#00a8ff 0px,#00b4ff 22.9px,#00ebff 47.3px,#00e8ff 53.4px,#00c7ff 59.5px,#0084ff 65.6px,#002cff 71.7px,#0000f7 74.7px,#0000c5 77.8px,#0000b6 80.8px,#0000b6 102.2px,#0000c5 105.2px,#0000f7 108.3px,#0059ff 114.4px,#00a9ff 120.5px,#00dbff 126.6px,#00ecff 132.7px,#00ddff 141.8px,#00b1ff 163.2px,#00aaff 190.6px,#00a6ff 218.1px,#008aff 230.3px,#007fff 233.3px,#005cff 236.4px,#005cff 237.9px,#0000d5 237.9px,#0000b4 242.5px,#0000b4 306.5px,#0000d5 309.6px,#0000d5 311.1px,#005cff 311.1px,#007fff 315.7px,#00a1ff 327.9px,#00abff 352.3px,#00a9ff 364.5px)"></i>
<i style="background:linear-gradient(90deg,#00a3ff 0px,#00abff 25.9px,#00d2ff 47.3px,#00cdff 53.4px,#00afff 59.5px,#0078ff 65.6px,#000aff 74.7px,#0000c8 80.8px,#0000b3 83.9px,#0000a8 90px,#0000aa 96.1px,#0000b3 99.1px,#0000e5 105.2px,#000aff 108.3px,#0078ff 117.4px,#00afff 123.5px,#00cdff 129.6px,#00cfff 138.8px,#00acff 157.1px,#00a3ff 184.5px,#00a0ff 215px,#007fff 230.3px,#006bff 236.4px,#0052ff 239.4px,#0052ff 240.9px,#0000f5 240.9px,#0000b4 245.5px,#0000b4 303.5px,#0000f5 306.5px,#0000f5 308px,#0052ff 308px,#006bff 312.6px,#0097ff 327.9px,#00a5ff 349.2px,#00a3ff 364.5px)"></i>
<i style="background:linear-gradient(90deg,#009dff 0px,#00a1ff 29px,#00bcff 47.3px,#00aaff 56.4px,#006dff 65.6px,#0011ff 74.7px,#0000f0 77.8px,#0000c2 83.9px,#0000b1 90px,#0000b6 96.1px,#0000d5 102.2px,#0000f0 105.2px,#0011ff 108.3px,#006dff 117.4px,#00aaff 126.6px,#00bcff 135.7px,#009dff 160.1px,#009bff 212px,#0079ff 230.3px,#0055ff 239.4px,#0044ff 242.5px,#0012ff 245.5px,#0000ce 248.6px,#0000b4 251.6px,#0000b4 297.4px,#0000ce 300.4px,#0012ff 303.5px,#0044ff 306.5px,#006fff 315.7px,#0098ff 334px,#009eff 361.4px,#009eff 364.5px)"></i>
<i style="background:linear-gradient(90deg,#0098ff 0px,#0097ff 29px,#00a8ff 47.3px,#0097ff 56.4px,#0065ff 65.6px,#0015ff 74.7px,#0000f8 77.8px,#0000cd 83.9px,#0000bd 90px,#0000c2 96.1px,#0000df 102.2px,#0000f8 105.2px,#004dff 114.4px,#008aff 123.5px,#00a6ff 132.7px,#009fff 147.9px,#0094ff 163.2px,#0099ff 205.9px,#0080ff 224.2px,#005eff 236.4px,#001aff 248.6px,#0000f2 251.6px,#0000cc 254.7px,#0000b7 257.7px,#0000b7 291.3px,#0000cc 294.3px,#0000f2 297.4px,#001aff 300.4px,#005eff 312.6px,#0087ff 327.9px,#009aff 346.2px,#0099ff 364.5px)"></i>
<i style="background:linear-gradient(90deg,#0093ff 0px,#008fff 29px,#0098ff 47.3px,#0088ff 56.4px,#005dff 65.6px,#0000fd 77.8px,#0000d6 83.9px,#0000c7 90px,#0000cc 96.1px,#0000e7 102.2px,#0000fd 105.2px,#005dff 117.4px,#0088ff 126.6px,#0098ff 135.7px,#008dff 166.2px,#0094ff 205.9px,#0076ff 227.2px,#004cff 239.4px,#000aff 251.6px,#0000e7 257.7px,#0000c2 263.8px,#0000b7 276px,#0000c2 285.2px,#0000f8 294.3px,#002dff 303.5px,#0065ff 315.7px,#008fff 337px,#0094ff 364.5px)"></i>
<i style="background:linear-gradient(90deg,#008fff 0px,#0089ff 29px,#0087ff 50.3px,#0065ff 62.5px,#002fff 71.7px,#0001ff 77.8px,#0000d4 86.9px,#0000d4 96.1px,#0001ff 105.2px,#0056ff 117.4px,#007bff 126.6px,#008cff 138.8px,#008bff 172.3px,#008fff 205.9px,#006dff 230.3px,#0030ff 245.5px,#0001ff 254.7px,#0000d3 266.9px,#0000cb 276px,#0000db 285.2px,#0001ff 294.3px,#0059ff 312.6px,#007eff 327.9px,#0092ff 352.3px,#0090ff 364.5px)"></i>
<i style="background:linear-gradient(90deg,#008cff 0px,#0083ff 38.1px,#0077ff 53.4px,#0051ff 65.6px,#0004ff 77.8px,#0000da 86.9px,#0000da 96.1px,#0004ff 105.2px,#0051ff 117.4px,#0077ff 129.6px,#0083ff 147.9px,#008dff 202.8px,#0073ff 227.2px,#0041ff 242.5px,#0000fb 257.7px,#0000dc 269.9px,#0000e0 282.1px,#0000fb 291.3px,#0064ff 315.7px,#0080ff 330.9px,#008fff 355.3px,#008dff 364.5px)"></i>
<i style="background:linear-gradient(90deg,#0088ff 0px,#0073ff 50.3px,#0058ff 62.5px,#0018ff 74.7px,#0005ff 77.8px,#0000df 86.9px,#0000df 96.1px,#0005ff 105.2px,#004cff 117.4px,#006fff 129.6px,#007eff 154px,#008aff 202.8px,#0072ff 227.2px,#0044ff 242.5px,#0004ff 257.7px,#0000e6 273px,#0000f1 285.2px,#0004ff 291.3px,#0064ff 315.7px,#007eff 330.9px,#008bff 358.4px,#008aff 364.5px)"></i>
<i style="background:linear-gradient(90deg,#0086ff 0px,#006dff 50.3px,#0053ff 62.5px,#0017ff 74.7px,#0006ff 77.8px,#0000e3 86.9px,#0000e3 96.1px,#0006ff 105.2px,#0047ff 117.4px,#0068ff 129.6px,#007dff 160.1px,#0087ff 202.8px,#0072ff 227.2px,#0046ff 242.5px,#0001ff 260.8px,#0000ef 276px,#0001ff 288.2px,#0065ff 315.7px,#007fff 334px,#0087ff 364.5px)"></i>
<i style="background:linear-gradient(90deg,#0084ff 0px,#0067ff 50.3px,#004eff 62.5px,#0006ff 77.8px,#0000e4 90px,#0000ed 99.1px,#0006ff 105.2px,#004eff 120.5px,#006eff 138.8px,#0087ff 196.7px,#0072ff 227.2px,#0049ff 242.5px,#0007ff 260.8px,#0000f6 273px,#0001ff 285.2px,#003dff 303.5px,#006cff 318.7px,#0083ff 343.1px,#0085ff 364.5px)"></i>
<i style="background:linear-gradient(90deg,#0082ff 0px,#0063ff 50.3px,#004bff 62.5px,#0006ff 77.8px,#0000e7 90px,#0000ef 99.1px,#0006ff 105.2px,#004bff 120.5px,#006aff 138.8px,#0085ff 193.7px,#0072ff 227.2px,#004bff 242.5px,#000cff 260.8px,#0000fc 273px,#0006ff 285.2px,#0040ff 303.5px,#006dff 318.7px,#0081ff 343.1px,#0083ff 364.5px)"></i>
<i style="background:linear-gradient(90deg,#0081ff 0px,#0064ff 47.3px,#0047ff 62.5px,#0005ff 77.8px,#0000e9 90px,#0000f0 99.1px,#0005ff 105.2px,#0047ff 120.5px,#0067ff 138.8px,#0084ff 190.6px,#0072ff 227.2px,#004eff 242.5px,#000bff 263.8px,#0004ff 279.1px,#0019ff 291.3px,#0067ff 315.7px,#007eff 337px,#0082ff 364.5px)"></i>
<i style="background:linear-gradient(90deg,#0080ff 0px,#0062ff 47.3px,#0044ff 62.5px,#0005ff 77.8px,#0000eb 90px,#0000f2 99.1px,#0005ff 105.2px,#004dff 123.5px,#006eff 147.9px,#0083ff 196.7px,#0072ff 227.2px,#0051ff 242.5px,#000fff 263.8px,#0008ff 279.1px,#001dff 291.3px,#0069ff 315.7px,#007fff 340.1px,#0081ff 364.5px)"></i>
<i style="background:linear-gradient(90deg,#0080ff 0px,#0064ff 44.2px,#0042ff 62.5px,#0004ff 77.8px,#0000ed 90px,#0000fa 102.2px,#0010ff 108.3px,#004bff 123.5px,#006dff 147.9px,#0083ff 193.7px,#0073ff 227.2px,#0053ff 242.5px,#0012ff 263.8px,#000bff 279.1px,#0020ff 291.3px,#006aff 315.7px,#007fff 340.1px,#0081ff 364.5px)"></i>
<i style="background:linear-gradient(90deg,#0080ff 0px,#0063ff 44.2px,#003fff 62.5px,#0004ff 77.8px,#0000ee 90px,#0000fa 102.2px,#000fff 108.3px,#0050ff 126.6px,#0074ff 157.1px,#0082ff 199.8px,#0070ff 230.3px,#004cff 245.5px,#0015ff 263.8px,#000eff 279.1px,#0023ff 291.3px,#0065ff 312.6px,#007cff 334px,#0081ff 364.5px)"></i>
<i style="background:linear-gradient(90deg,#0080ff 0px,#0066ff 41.2px,#0046ff 59.5px,#0003ff 77.8px,#0000ee 90px,#0000f9 102.2px,#000eff 108.3px,#004eff 126.6px,#0072ff 154px,#0083ff 196.7px,#0071ff 230.3px,#004fff 245.5px,#0018ff 263.8px,#0010ff 279.1px,#0026ff 291.3px,#0067ff 312.6px,#007eff 337px,#0081ff 364.5px)"></i>
</div>
<div class="k" style="left:-0.5px;top:251px;width:1px;height:4px"></div>
<div class="k" style="left:0;top:-0.5px;width:4px;height:1px"></div>
<div class="k" style="left:60.5px;top:251px;width:1px;height:4px"></div>
<div class="k" style="left:0;top:42.0px;width:4px;height:1px"></div>
<div class="k" style="left:121.5px;top:251px;width:1px;height:4px"></div>
<div class="k" style="left:0;top:84.5px;width:4px;height:1px"></div>
<div class="k" style="left:182.5px;top:251px;width:1px;height:4px"></div>
<div class="k" style="left:0;top:127.0px;width:4px;height:1px"></div>
<div class="k" style="left:243.5px;top:251px;width:1px;height:4px"></div>
<div class="k" style="left:0;top:169.5px;width:4px;height:1px"></div>
<div class="k" style="left:304.5px;top:251px;width:1px;height:4px"></div>
<div class="k" style="left:0;top:212.0px;width:4px;height:1px"></div>
<div class="k" style="left:365.0px;top:251px;width:1px;height:4px"></div>
<div class="k" style="left:0;top:254.0px;width:4px;height:1px"></div>
</div>
<div class="t xt" style="left:961.4px;top:308px">-0.6</div>
<div class="t yt" style="left:915px;top:38.9px">0.6</div>
<div class="t xt" style="left:1022.1px;top:308px">-0.4</div>
<div class="t yt" style="left:915px;top:81.2px">0.4</div>
<div class="t xt" style="left:1082.7px;top:308px">-0.2</div>
<div class="t yt" style="left:915px;top:123.4px">0.2</div>
<div class="t xt" style="left:1143.4px;top:308px">0</div>
<div class="t yt" style="left:915px;top:165.7px">0.0</div>
<div class="t xt" style="left:1204.1px;top:308px">0.2</div>
<div class="t yt" style="left:915px;top:207.9px">-0.2</div>
<div class="t xt" style="left:1264.8px;top:308px">0.4</div>
<div class="t yt" style="left:915px;top:250.2px">-0.4</div>
<div class="t xt" style="left:1325.4px;top:308px">0.6</div>
<div class="t yt" style="left:915px;top:292.4px">-0.6</div>
<div class="xl" style="left:1148.5px;top:322px">x (microns)</div>
<div class="yl" style="left:817.5px;top:171.5px">z (microns)</div>
<div class="ti" style="left:1159.3px;top:12.3px">λ<sub>3</sub> = 1561 <b>nm</b></div>
<div class="lb" style="left:891.7px;top:22.4px">(c)</div>
<div class="cb" style="left:1334px;top:47px;height:253px"></div>
<div class="k" style="left:1344px;top:47px;width:3px;height:1px"></div>
<div class="k" style="left:1344px;top:299px;width:3px;height:1px"></div>
<div class="cl" style="left:1352.0px;top:34.0px">1</div>
<div class="cl" style="left:1352.0px;top:289.0px">0</div>
<div class="p" style="left:261px;top:395px"><div class="g">
<i style="background:linear-gradient(90deg,#0081ff 0px,#006cff 35.1px,#002aff 80.8px,#002dff 105.2px,#0078ff 160.1px,#0080ff 196.7px,#005dff 251.6px,#003bff 273px,#0046ff 285.2px,#0062ff 303.5px,#0080ff 355.3px,#0081ff 364.5px)"></i>
<i style="background:linear-gradient(90deg,#0081ff 0px,#006fff 32px,#0025ff 80.8px,#0025ff 102.2px,#0076ff 157.1px,#0080ff 193.7px,#0060ff 248.6px,#0039ff 273px,#0046ff 285.2px,#0063ff 303.5px,#0080ff 355.3px,#0081ff 364.5px)"></i>
<i style="background:linear-gradient(90deg,#0081ff 0px,#006fff 32px,#0020ff 80.8px,#001dff 99.1px,#004dff 129.6px,#0078ff 160.1px,#0080ff 196.7px,#005eff 251.6px,#0037ff 273px,#0045ff 285.2px,#0061ff 300.4px,#0080ff 355.3px,#0081ff 364.5px)"></i>
<i style="background:linear-gradient(90deg,#0082ff 0px,#0070ff 32px,#0016ff 83.9px,#0019ff 102.2px,#0073ff 154px,#0082ff 187.6px,#0069ff 239.4px,#0054ff 257.7px,#0037ff 269.9px,#003cff 282.1px,#005eff 297.4px,#0080ff 352.3px,#0082ff 364.5px)"></i>
<i style="background:linear-gradient(90deg,#0083ff 0px,#0070ff 32px,#002fff 65.6px,#000aff 86.9px,#0010ff 102.2px,#006cff 147.9px,#0082ff 178.4px,#0072ff 227.2px,#0054ff 257.7px,#0034ff 269.9px,#0034ff 279.1px,#005eff 297.4px,#0081ff 352.3px,#0083ff 364.5px)"></i>
<i style="background:linear-gradient(90deg,#0084ff 0px,#0071ff 32px,#003aff 59.5px,#0001ff 83.9px,#0006ff 102.2px,#0068ff 144.9px,#0083ff 175.4px,#0079ff 218.1px,#0054ff 257.7px,#0031ff 269.9px,#0031ff 279.1px,#005eff 297.4px,#0081ff 349.2px,#0084ff 364.5px)"></i>
<i style="background:linear-gradient(90deg,#0086ff 0px,#0072ff 32px,#0040ff 56.4px,#0000fb 77.8px,#0000dc 83.9px,#0000d1 90px,#0000d2 96.1px,#0000e8 102.2px,#0000fb 105.2px,#005eff 138.8px,#007eff 163.2px,#0084ff 196.7px,#0062ff 248.6px,#004bff 260.8px,#002dff 269.9px,#002dff 279.1px,#005aff 294.3px,#007fff 340.1px,#0086ff 364.5px)"></i>
<i style="background:linear-gradient(90deg,#0088ff 0px,#0074ff 32px,#0048ff 53.4px,#0020ff 65.6px,#0000f6 68.6px,#0000bd 74.7px,#0000b3 77.8px,#0000b3 105.2px,#0000bd 108.3px,#0000f6 114.4px,#0020ff 117.4px,#005fff 138.8px,#0080ff 163.2px,#0087ff 193.7px,#0069ff 242.5px,#0053ff 257.7px,#0029ff 269.9px,#0029ff 279.1px,#0059ff 294.3px,#007dff 334px,#0088ff 364.5px)"></i>
<i style="background:linear-gradient(90deg,#008aff 0px,#0077ff 32px,#004aff 53.4px,#002dff 59.5px,#0000ee 62.5px,#0000c0 65.6px,#0000b3 68.6px,#0000b3 114.4px,#0000c0 117.4px,#0000ee 120.5px,#002dff 123.5px,#004aff 129.6px,#0077ff 151px,#008aff 181.5px,#0073ff 233.3px,#0052ff 257.7px,#0024ff 269.9px,#0024ff 279.1px,#0059ff 294.3px,#007cff 327.9px,#008aff 364.5px)"></i>
<i style="background:linear-gradient(90deg,#008dff 0px,#007aff 32px,#0055ff 50.3px,#0042ff 53.4px,#0000f9 56.4px,#0000bb 59.5px,#0000b3 65.6px,#0000b3 120.5px,#0000bb 123.5px,#0000f9 126.6px,#0042ff 129.6px,#0055ff 132.7px,#007aff 151px,#008dff 181.5px,#0076ff 233.3px,#0050ff 257.7px,#001fff 269.9px,#001fff 279.1px,#0058ff 294.3px,#007dff 324.8px,#008dff 364.5px)"></i>
<i style="background:linear-gradient(90deg,#0090ff 0px,#0081ff 29px,#0061ff 47.3px,#002fff 50.3px,#0000c6 53.4px,#0000b3 56.4px,#0000b3 126.6px,#0000c6 129.6px,#002fff 132.7px,#0061ff 135.7px,#0085ff 157.1px,#008fff 187.6px,#0076ff 236.4px,#004eff 257.7px,#0018ff 269.9px,#0013ff 276px,#0024ff 282.1px,#004eff 291.3px,#0079ff 315.7px,#008fff 364.5px)"></i>
<i style="background:linear-gradient(90deg,#0093ff 0px,#0086ff 29px,#006eff 44.2px,#006eff 45.8px,#000dff 45.8px,#000dff 48.8px,#0000b3 48.8px,#0000b3 132.7px,#0000b3 134.2px,#000dff 134.2px,#000dff 137.2px,#006eff 137.2px,#008eff 163.2px,#008eff 202.8px,#0076ff 239.4px,#004bff 257.7px,#0010ff 269.9px,#000aff 276px,#001dff 282.1px,#004bff 291.3px,#007aff 312.6px,#0092ff 364.5px)"></i>
<i style="background:linear-gradient(90deg,#0096ff 0px,#008cff 29px,#007aff 41.2px,#007aff 42.7px,#0000fb 42.7px,#0000fb 45.8px,#0000b3 45.8px,#0000b3 135.7px,#0000b3 137.2px,#0000fb 137.2px,#0000fb 140.3px,#0079ff 140.3px,#0094ff 166.2px,#008cff 218.1px,#007bff 239.4px,#0047ff 257.7px,#0005ff 269.9px,#0005ff 279.1px,#0047ff 291.3px,#007bff 309.6px,#0090ff 340.1px,#0096ff 364.5px)"></i>
<i style="background:linear-gradient(90deg,#009aff 0px,#008fff 32px,#0085ff 38.1px,#0085ff 39.6px,#0000ff 39.6px,#0000ff 42.7px,#0000b3 42.7px,#0000b3 138.8px,#0000b3 140.3px,#0000ff 140.3px,#0000ff 143.3px,#0085ff 143.3px,#0099ff 166.2px,#008bff 233.3px,#0068ff 248.6px,#0030ff 260.8px,#0006ff 266.9px,#0000ed 273px,#0000f5 279.1px,#0006ff 282.1px,#0042ff 291.3px,#007bff 306.5px,#008fff 321.8px,#0099ff 364.5px)"></i>
<i style="background:linear-gradient(90deg,#009eff 0px,#0097ff 32px,#0093ff 35.1px,#0093ff 36.6px,#0005ff 36.6px,#0005ff 39.6px,#0000b3 39.6px,#0000b3 141.8px,#0000b3 143.3px,#0005ff 143.3px,#0005ff 146.4px,#0093ff 146.4px,#009fff 175.4px,#0094ff 233.3px,#0079ff 245.5px,#003cff 257.7px,#000eff 263.8px,#0000f5 266.9px,#0000dc 273px,#0000e4 279.1px,#0000f5 282.1px,#000eff 285.2px,#004eff 294.3px,#0083ff 306.5px,#0096ff 318.7px,#009dff 364.5px)"></i>
<i style="background:linear-gradient(90deg,#00a2ff 0px,#009fff 32px,#009fff 33.5px,#0028ff 33.5px,#0028ff 36.6px,#0000b3 36.6px,#0000b3 144.9px,#0000b3 146.4px,#0028ff 146.4px,#0028ff 149.4px,#009fff 149.4px,#00a0ff 233.3px,#008eff 242.5px,#0060ff 251.6px,#0000fd 263.8px,#0000d1 269.9px,#0000c8 276px,#0000e3 282.1px,#0000fd 285.2px,#0060ff 297.4px,#008eff 306.5px,#00a2ff 318.7px,#00a1ff 364.5px)"></i>
<i style="background:linear-gradient(90deg,#00a6ff 0px,#00a9ff 29px,#006bff 32px,#006bff 33.5px,#0000b3 33.5px,#0000b3 147.9px,#0000b3 149.4px,#006bff 149.4px,#00a9ff 154px,#00a8ff 212px,#00afff 233.3px,#009cff 242.5px,#0064ff 251.6px,#000cff 260.8px,#0000ea 263.8px,#0000bb 269.9px,#0000b3 276px,#0000bb 279.1px,#0000ea 285.2px,#000cff 288.2px,#0064ff 297.4px,#009cff 306.5px,#00afff 315.7px,#00a6ff 364.5px)"></i>
<i style="background:linear-gradient(90deg,#00abff 0px,#00b2ff 25.9px,#00a2ff 29px,#00a2ff 30.5px,#0000d2 30.5px,#0000b3 35.1px,#0000b3 147.9px,#0000d2 151px,#0000d2 152.5px,#00a2ff 152.5px,#00b2ff 157.1px,#00acff 205.9px,#00c3ff 233.3px,#00afff 242.5px,#0088ff 248.6px,#0024ff 257.7px,#0000f4 260.8px,#0000ca 263.8px,#0000b7 266.9px,#0000b1 279.1px,#0000b7 282.1px,#0000ca 285.2px,#0000f4 288.2px,#0024ff 291.3px,#0088ff 300.4px,#00afff 306.5px,#00c3ff 315.7px,#00a9ff 352.3px,#00aaff 364.5px)"></i>
<i style="background:linear-gradient(90deg,#00afff 0px,#00baff 25.9px,#00baff 27.4px,#0037ff 27.4px,#0037ff 30.5px,#0000b3 30.5px,#0000b3 151px,#0000b3 152.5px,#0037ff 152.5px,#0037ff 155.5px,#00bbff 155.5px,#00afff 199.8px,#00c9ff 221.1px,#00dbff 233.3px,#00c7ff 242.5px,#0099ff 248.6px,#0076ff 251.6px,#0039ff 254.7px,#0000dc 257.7px,#0000b3 260.8px,#0000b3 288.2px,#0000dc 291.3px,#0039ff 294.3px,#0076ff 297.4px,#00b4ff 303.5px,#00d2ff 309.6px,#00d9ff 318.7px,#00b0ff 346.2px,#00aeff 364.5px)"></i>
<i style="background:linear-gradient(90deg,#00b4ff 0px,#00c1ff 22.9px,#00b2ff 25.9px,#00b2ff 27.4px,#0000c4 27.4px,#0000b3 32px,#0000ba 108.3px,#0000b3 151px,#0000c4 154px,#0000c4 155.5px,#00b2ff 155.5px,#00c1ff 160.1px,#00b3ff 196.7px,#00c8ff 215px,#00f7ff 233.3px,#00f3ff 239.4px,#00d0ff 245.5px,#00b1ff 248.6px,#00b1ff 250.1px,#001dff 250.1px,#001dff 253.1px,#0000b3 253.1px,#0000b3 294.3px,#0000b3 295.8px,#001dff 295.8px,#001dff 298.9px,#00b1ff 298.9px,#00d1ff 303.5px,#00f3ff 309.6px,#00f6ff 315.7px,#00bdff 340.1px,#00b2ff 361.4px,#00b3ff 364.5px)"></i>
<i style="background:linear-gradient(90deg,#00b8ff 0px,#00c9ff 22.9px,#00c9ff 24.4px,#003fff 24.4px,#003fff 27.4px,#0000b3 27.4px,#0000c2 77.8px,#0000c2 105.2px,#0000b3 154px,#0000b3 155.5px,#003fff 155.5px,#003fff 158.6px,#00c9ff 158.6px,#00b7ff 190.6px,#00c6ff 208.9px,#00f4ff 224.2px,#01fffe 227.2px,#1cffe3 236.4px,#1bffe4 239.4px,#0ffff0 242.5px,#00f5ff 245.5px,#00f5ff 247px,#001fff 247px,#001fff 250.1px,#0000b3 250.1px,#0000b3 297.4px,#0000b3 298.9px,#001fff 298.9px,#001fff 301.9px,#00f5ff 301.9px,#0ffff0 306.5px,#1bffe4 309.6px,#16ffe9 315.7px,#01fffe 321.8px,#00ccff 337px,#00b7ff 355.3px,#00b7ff 364.5px)"></i>
<i style="background:linear-gradient(90deg,#00bdff 0px,#00d1ff 22.9px,#00d1ff 24.4px,#0000d7 24.4px,#0000b3 29px,#0000c2 65.6px,#0000da 90px,#0000c5 114.4px,#0000b4 144.9px,#0000b3 154px,#0000d7 157.1px,#0000d7 158.6px,#00d1ff 158.6px,#00bbff 187.6px,#00c8ff 205.9px,#00ebff 218.1px,#09fff6 224.2px,#43ffbc 236.4px,#47ffb8 239.4px,#3fffc0 242.5px,#3fffc0 244px,#003dff 244px,#003dff 247px,#0000b3 247px,#0000b3 300.4px,#0000b3 301.9px,#003dff 301.9px,#003dff 305px,#3fffc0 305px,#47ffb8 309.6px,#38ffc7 315.7px,#09fff6 324.8px,#00ebff 330.9px,#00c7ff 343.1px,#00bbff 361.4px,#00bcff 364.5px)"></i>
<i style="background:linear-gradient(90deg,#00c1ff 0px,#00d4ff 19.8px,#00d4ff 21.3px,#007cff 21.3px,#007cff 24.4px,#0000b3 24.4px,#0000bf 56.4px,#0000f6 86.9px,#0000ef 102.2px,#0000bc 129.6px,#0000b3 157.1px,#0000b3 158.6px,#007dff 158.6px,#007dff 161.6px,#00d4ff 161.6px,#00bfff 187.6px,#00c9ff 202.8px,#00ebff 215px,#00f9ff 218.1px,#1effe1 224.2px,#6dff92 236.4px,#78ff87 239.4px,#78ff87 240.9px,#0093ff 240.9px,#0093ff 244px,#0000b3 244px,#0000b7 285.2px,#0000b3 303.5px,#0000b3 305px,#0093ff 305px,#0093ff 308px,#78ff87 308px,#5cffa3 315.7px,#0bfff4 327.9px,#00f9ff 330.9px,#00ceff 343.1px,#00bfff 358.4px,#00c0ff 364.5px)"></i>
<i style="background:linear-gradient(90deg,#00c5ff 0px,#00daff 19.8px,#00daff 21.3px,#0036ff 21.3px,#0036ff 24.4px,#0000b3 24.4px,#0000c2 53.4px,#0000fe 74.7px,#0015ff 90px,#0007ff 105.2px,#0000f5 111.3px,#0000c2 129.6px,#0000b3 157.1px,#0000b3 158.6px,#0037ff 158.6px,#0037ff 161.6px,#00daff 161.6px,#00c4ff 184.5px,#00cfff 202.8px,#00f7ff 215px,#08fff7 218.1px,#66ff99 230.3px,#98ff67 236.4px,#69ff96 239.4px,#69ff96 240.9px,#0000b3 240.9px,#0000c1 266.9px,#0000c5 279.1px,#0000b3 300.4px,#0000b3 306.5px,#0000b3 308px,#69ff96 308px,#98ff67 312.6px,#1cffe3 327.9px,#08fff7 330.9px,#00e9ff 337px,#00caff 349.2px,#00c3ff 364.5px)"></i>
<i style="background:linear-gradient(90deg,#00c8ff 0px,#00e0ff 19.8px,#00e0ff 21.3px,#0000d9 21.3px,#0000b4 25.9px,#0000be 47.3px,#0000de 59.5px,#0005ff 68.6px,#0021ff 80.8px,#0021ff 102.2px,#0005ff 114.4px,#0000c3 132.7px,#0000b4 154px,#0000b4 157.1px,#0000d9 160.1px,#0000d9 161.6px,#00e0ff 161.6px,#00c7ff 184.5px,#00ceff 199.8px,#00f2ff 212px,#03fffc 215px,#46ffb9 224.2px,#c3ff3c 236.4px,#c3ff3c 237.9px,#007fff 237.9px,#007fff 240.9px,#0000b3 240.9px,#0000bc 257.7px,#0000dd 273px,#0000d3 282.1px,#0000b8 294.3px,#0000b3 306.5px,#0000b3 308px,#007fff 308px,#007fff 311.1px,#c3ff3c 311.1px,#46ffb9 324.8px,#02fffd 334px,#00d4ff 346.2px,#00c6ff 361.4px,#00c7ff 364.5px)"></i>
<i style="background:linear-gradient(90deg,#00cbff 0px,#00dfff 16.8px,#00d2ff 19.8px,#00d2ff 21.3px,#0000b3 21.3px,#0000be 44.2px,#0000d4 53.4px,#0000ff 62.5px,#0020ff 71.7px,#002cff 93px,#0020ff 111.3px,#0000ff 120.5px,#0000ca 132.7px,#0000b6 147.9px,#0000b3 160.1px,#0000b3 161.6px,#00d2ff 161.6px,#00dfff 166.2px,#00caff 187.6px,#00d9ff 202.8px,#00faff 212px,#22ffdd 218.1px,#7aff85 227.2px,#c6ff39 233.3px,#a2ff5d 236.4px,#a2ff5d 237.9px,#0000b3 237.9px,#0000bc 254.7px,#0000ee 269.9px,#0000ee 279.1px,#0000bc 294.3px,#0000b3 309.6px,#0000b3 311.1px,#a2ff5d 311.1px,#c5ff3a 315.7px,#58ffa7 324.8px,#0cfff3 334px,#00faff 337px,#00d9ff 346.2px,#00c9ff 361.4px,#00caff 364.5px)"></i>
<i style="background:linear-gradient(90deg,#00ceff 0px,#00e3ff 16.8px,#00e3ff 18.3px,#009cff 18.3px,#009cff 21.3px,#0000b4 21.3px,#0000c1 44.2px,#0000e0 53.4px,#0002ff 59.5px,#0024ff 68.6px,#002eff 93px,#0024ff 114.4px,#0002ff 123.5px,#0000c9 135.7px,#0000b6 151px,#0000b4 160.1px,#0000b4 161.6px,#009cff 161.6px,#009cff 164.7px,#00e3ff 164.7px,#00cdff 184.5px,#00d6ff 199.8px,#02fffd 212px,#48ffb7 221.1px,#b7ff48 230.3px,#e3ff1c 233.3px,#e3ff1c 234.8px,#02fffd 234.8px,#02fffd 237.9px,#0000b3 237.9px,#0000ba 251.6px,#0000f5 266.9px,#0000f5 282.1px,#0000e1 288.2px,#0000ba 297.4px,#0000b3 309.6px,#0000b3 311.1px,#02fffd 311.1px,#02fffd 314.1px,#e3ff1c 314.1px,#68ff97 324.8px,#15ffea 334px,#02fffd 337px,#00d6ff 349.2px,#00ccff 364.5px)"></i>
<i style="background:linear-gradient(90deg,#00d0ff 0px,#00e6ff 16.8px,#00e6ff 18.3px,#0077ff 18.3px,#0077ff 21.3px,#0000b4 21.3px,#0000bf 41.2px,#0000db 50.3px,#0000fd 56.4px,#0024ff 65.6px,#002eff 86.9px,#0029ff 114.4px,#000eff 123.5px,#0000fd 126.6px,#0000ce 135.7px,#0000b8 147.9px,#0000b4 160.1px,#0000b4 161.6px,#0077ff 161.6px,#0077ff 164.7px,#00e6ff 164.7px,#00cfff 184.5px,#00d9ff 199.8px,#00f6ff 208.9px,#08fff7 212px,#52ffad 221.1px,#9eff61 227.2px,#fcff03 233.3px,#fcff03 234.8px,#0074ff 234.8px,#0074ff 237.9px,#0000b3 237.9px,#0000be 251.6px,#0000ed 260.8px,#0000fa 269.9px,#0000f6 285.2px,#0000dc 291.3px,#0000be 297.4px,#0000b3 309.6px,#0000b3 311.1px,#0074ff 311.1px,#0074ff 314.1px,#fcff03 314.1px,#75ff8a 324.8px,#34ffcb 330.9px,#07fff8 337px,#00e0ff 346.2px,#00ceff 358.4px,#00ceff 364.5px)"></i>
<i style="background:linear-gradient(90deg,#00d1ff 0px,#00e8ff 16.8px,#00e8ff 18.3px,#0051ff 18.3px,#0051ff 21.3px,#0000b4 21.3px,#0000c1 41.2px,#0000e1 50.3px,#0006ff 56.4px,#0028ff 65.6px,#002bff 114.4px,#0016ff 123.5px,#0006ff 126.6px,#0000c8 138.8px,#0000b5 154px,#0000b4 160.1px,#0000b4 161.6px,#0051ff 161.6px,#0051ff 164.7px,#00e8ff 164.7px,#00d0ff 184.5px,#00dbff 199.8px,#00f9ff 208.9px,#20ffdf 215px,#5affa5 221.1px,#a9ff56 227.2px,#d9ff26 230.3px,#fff100 233.3px,#fff100 234.8px,#0052ff 234.8px,#0052ff 237.9px,#0000b3 237.9px,#0000c1 251.6px,#0000f3 260.8px,#0000fa 282.1px,#0000f3 288.2px,#0000c1 297.4px,#0000b3 309.6px,#0000b3 311.1px,#0052ff 311.1px,#0052ff 314.1px,#fff100 314.1px,#d9ff26 318.7px,#7eff81 324.8px,#3affc5 330.9px,#0bfff4 337px,#00f9ff 340.1px,#00daff 349.2px,#00d0ff 364.5px)"></i>
<i style="background:linear-gradient(90deg,#00d2ff 0px,#00e9ff 16.8px,#00e9ff 18.3px,#0052ff 18.3px,#0052ff 21.3px,#0000b4 21.3px,#0000c2 41.2px,#0000e5 50.3px,#0000f7 53.4px,#001aff 59.5px,#002cff 68.6px,#0029ff 117.4px,#000bff 126.6px,#0000f7 129.6px,#0000ca 138.8px,#0000b7 151px,#0000b4 160.1px,#0000b4 161.6px,#0052ff 161.6px,#0052ff 164.7px,#00e9ff 164.7px,#00d1ff 184.5px,#00dcff 199.8px,#00fbff 208.9px,#23ffdc 215px,#5dffa2 221.1px,#afff50 227.2px,#e0ff1f 230.3px,#ffe800 233.3px,#ffe800 234.8px,#0000db 234.8px,#0000b3 239.4px,#0000ba 248.6px,#0000d5 254.7px,#0000f5 260.8px,#0000f5 288.2px,#0000c3 297.4px,#0000b4 306.5px,#0000b3 309.6px,#0000db 312.6px,#0000db 314.1px,#ffe800 314.1px,#e0ff1f 318.7px,#83ff7c 324.8px,#3dffc2 330.9px,#0dfff2 337px,#00fbff 340.1px,#00dbff 349.2px,#00d0ff 364.5px)"></i>
<i style="background:linear-gradient(90deg,#00d2ff 0px,#00e9ff 16.8px,#00e9ff 18.3px,#0052ff 18.3px,#0052ff 21.3px,#0000b4 21.3px,#0000c2 41.2px,#0000e5 50.3px,#0000f7 53.4px,#001aff 59.5px,#002cff 68.6px,#0029ff 117.4px,#000bff 126.6px,#0000f7 129.6px,#0000ca 138.8px,#0000b7 151px,#0000b4 160.1px,#0000b4 161.6px,#0052ff 161.6px,#0052ff 164.7px,#00e9ff 164.7px,#00d1ff 184.5px,#00dcff 199.8px,#00fbff 208.9px,#23ffdc 215px,#5dffa2 221.1px,#afff50 227.2px,#e0ff1f 230.3px,#ffe800 233.3px,#ffe800 234.8px,#0000db 234.8px,#0000b3 239.4px,#0000ba 248.6px,#0000d5 254.7px,#0000f5 260.8px,#0000f5 288.2px,#0000c3 297.4px,#0000b4 306.5px,#0000b3 309.6px,#0000db 312.6px,#0000db 314.1px,#ffe800 314.1px,#e0ff1f 318.7px,#83ff7c 324.8px,#3dffc2 330.9px,#0dfff2 337px,#00fbff 340.1px,#00dbff 349.2px,#00d0ff 364.5px)"></i>
<i style="background:linear-gradient(90deg,#00d1ff 0px,#00e8ff 16.8px,#00e8ff 18.3px,#0051ff 18.3px,#0051ff 21.3px,#0000b4 21.3px,#0000c1 41.2px,#0000e1 50.3px,#0006ff 56.4px,#0028ff 65.6px,#002bff 114.4px,#0016ff 123.5px,#0006ff 126.6px,#0000c8 138.8px,#0000b5 154px,#0000b4 160.1px,#0000b4 161.6px,#0051ff 161.6px,#0051ff 164.7px,#00e8ff 164.7px,#00d0ff 184.5px,#00dbff 199.8px,#00f9ff 208.9px,#20ffdf 215px,#5affa5 221.1px,#a9ff56 227.2px,#d9ff26 230.3px,#fff100 233.3px,#fff100 234.8px,#0052ff 234.8px,#0052ff 237.9px,#0000b3 237.9px,#0000c1 251.6px,#0000f3 260.8px,#0000fa 282.1px,#0000f3 288.2px,#0000c1 297.4px,#0000b3 309.6px,#0000b3 311.1px,#0052ff 311.1px,#0052ff 314.1px,#fff100 314.1px,#d9ff26 318.7px,#7eff81 324.8px,#3affc5 330.9px,#0bfff4 337px,#00f9ff 340.1px,#00daff 349.2px,#00d0ff 364.5px)"></i>
<i style="background:linear-gradient(90deg,#00d0ff 0px,#00e6ff 16.8px,#00e6ff 18.3px,#0077ff 18.3px,#0077ff 21.3px,#0000b4 21.3px,#0000bf 41.2px,#0000db 50.3px,#0000fd 56.4px,#0024ff 65.6px,#002eff 86.9px,#0029ff 114.4px,#000eff 123.5px,#0000fd 126.6px,#0000ce 135.7px,#0000b8 147.9px,#0000b4 160.1px,#0000b4 161.6px,#0077ff 161.6px,#0077ff 164.7px,#00e6ff 164.7px,#00cfff 184.5px,#00d9ff 199.8px,#00f6ff 208.9px,#08fff7 212px,#52ffad 221.1px,#9eff61 227.2px,#fcff03 233.3px,#fcff03 234.8px,#0074ff 234.8px,#0074ff 237.9px,#0000b3 237.9px,#0000be 251.6px,#0000ed 260.8px,#0000fa 269.9px,#0000f6 285.2px,#0000dc 291.3px,#0000be 297.4px,#0000b3 309.6px,#0000b3 311.1px,#0074ff 311.1px,#0074ff 314.1px,#fcff03 314.1px,#75ff8a 324.8px,#34ffcb 330.9px,#07fff8 337px,#00e0ff 346.2px,#00ceff 358.4px,#00ceff 364.5px)"></i>
<i style="background:linear-gradient(90deg,#00ceff 0px,#00e3ff 16.8px,#00e3ff 18.3px,#009cff 18.3px,#009cff 21.3px,#0000b4 21.3px,#0000c1 44.2px,#0000e0 53.4px,#0002ff 59.5px,#0024ff 68.6px,#002eff 93px,#0024ff 114.4px,#0002ff 123.5px,#0000c9 135.7px,#0000b6 151px,#0000b4 160.1px,#0000b4 161.6px,#009cff 161.6px,#009cff 164.7px,#00e3ff 164.7px,#00cdff 184.5px,#00d6ff 199.8px,#02fffd 212px,#48ffb7 221.1px,#b7ff48 230.3px,#e3ff1c 233.3px,#e3ff1c 234.8px,#02fffd 234.8px,#02fffd 237.9px,#0000b3 237.9px,#0000ba 251.6px,#0000f5 266.9px,#0000f5 282.1px,#0000e1 288.2px,#0000ba 297.4px,#0000b3 309.6px,#0000b3 311.1px,#02fffd 311.1px,#02fffd 314.1px,#e3ff1c 314.1px,#68ff97 324.8px,#15ffea 334px,#02fffd 337px,#00d6ff 349.2px,#00ccff 364.5px)"></i>
<i style="background:linear-gradient(90deg,#00cbff 0px,#00dfff 16.8px,#00d2ff 19.8px,#00d2ff 21.3px,#0000b3 21.3px,#0000be 44.2px,#0000d4 53.4px,#0000ff 62.5px,#0020ff 71.7px,#002cff 93px,#0020ff 111.3px,#0000ff 120.5px,#0000ca 132.7px,#0000b6 147.9px,#0000b3 160.1px,#0000b3 161.6px,#00d2ff 161.6px,#00dfff 166.2px,#00caff 187.6px,#00d9ff 202.8px,#00faff 212px,#22ffdd 218.1px,#7aff85 227.2px,#c6ff39 233.3px,#a2ff5d 236.4px,#a2ff5d 237.9px,#0000b3 237.9px,#0000bc 254.7px,#0000ee 269.9px,#0000ee 279.1px,#0000bc 294.3px,#0000b3 309.6px,#0000b3 311.1px,#a2ff5d 311.1px,#c5ff3a 315.7px,#58ffa7 324.8px,#0cfff3 334px,#00faff 337px,#00d9ff 346.2px,#00c9ff 361.4px,#00caff 364.5px)"></i>
<i style="background:linear-gradient(90deg,#00c8ff 0px,#00e0ff 19.8px,#00e0ff 21.3px,#0000d9 21.3px,#0000b4 25.9px,#0000be 47.3px,#0000de 59.5px,#0005ff 68.6px,#0021ff 80.8px,#0021ff 102.2px,#0005ff 114.4px,#0000c3 132.7px,#0000b4 154px,#0000b4 157.1px,#0000d9 160.1px,#0000d9 161.6px,#00e0ff 161.6px,#00c7ff 184.5px,#00ceff 199.8px,#00f2ff 212px,#03fffc 215px,#46ffb9 224.2px,#c3ff3c 236.4px,#c3ff3c 237.9px,#007fff 237.9px,#007fff 240.9px,#0000b3 240.9px,#0000bc 257.7px,#0000dd 273px,#0000d3 282.1px,#0000b8 294.3px,#0000b3 306.5px,#0000b3 308px,#007fff 308px,#007fff 311.1px,#c3ff3c 311.1px,#46ffb9 324.8px,#03fffc 334px,#00d4ff 346.2px,#00c6ff 361.4px,#00c7ff 364.5px)"></i>
<i style="background:linear-gradient(90deg,#00c5ff 0px,#00daff 19.8px,#00daff 21.3px,#0036ff 21.3px,#0036ff 24.4px,#0000b3 24.4px,#0000c2 53.4px,#0000fe 74.7px,#0015ff 90px,#0007ff 105.2px,#0000f5 111.3px,#0000c2 129.6px,#0000b3 157.1px,#0000b3 158.6px,#0037ff 158.6px,#0037ff 161.6px,#00daff 161.6px,#00c4ff 184.5px,#00cfff 202.8px,#00f7ff 215px,#08fff7 218.1px,#66ff99 230.3px,#99ff66 236.4px,#69ff96 239.4px,#69ff96 240.9px,#0000b3 240.9px,#0000c1 266.9px,#0000c5 279.1px,#0000b3 300.4px,#0000b3 306.5px,#0000b3 308px,#69ff96 308px,#98ff67 312.6px,#1cffe3 327.9px,#08fff7 330.9px,#00e9ff 337px,#00caff 349.2px,#00c3ff 364.5px)"></i>
<i style="background:linear-gradient(90deg,#00c1ff 0px,#00d4ff 19.8px,#00d4ff 21.3px,#007cff 21.3px,#007cff 24.4px,#0000b3 24.4px,#0000bf 56.4px,#0000f6 86.9px,#0000ef 102.2px,#0000bc 129.6px,#0000b3 157.1px,#0000b3 158.6px,#007dff 158.6px,#007dff 161.6px,#00d4ff 161.6px,#00bfff 187.6px,#00c9ff 202.8px,#00ebff 215px,#00faff 218.1px,#1effe1 224.2px,#6dff92 236.4px,#78ff87 239.4px,#78ff87 240.9px,#0093ff 240.9px,#0093ff 244px,#0000b3 244px,#0000b7 285.2px,#0000b3 303.5px,#0000b3 305px,#0093ff 305px,#0093ff 308px,#78ff87 308px,#5cffa3 315.7px,#0bfff4 327.9px,#00f9ff 330.9px,#00ceff 343.1px,#00bfff 358.4px,#00c0ff 364.5px)"></i>
<i style="background:linear-gradient(90deg,#00bdff 0px,#00d1ff 22.9px,#00d1ff 24.4px,#0000d7 24.4px,#0000b3 29px,#0000c2 65.6px,#0000da 90px,#0000c5 114.4px,#0000b4 144.9px,#0000b3 154px,#0000d7 157.1px,#0000d7 158.6px,#00d1ff 158.6px,#00bbff 187.6px,#00c8ff 205.9px,#00ebff 218.1px,#09fff6 224.2px,#43ffbc 236.4px,#47ffb8 239.4px,#40ffbf 242.5px,#40ffbf 244px,#003dff 244px,#003dff 247px,#0000b3 247px,#0000b3 300.4px,#0000b3 301.9px,#003dff 301.9px,#003dff 305px,#3fffc0 305px,#47ffb8 309.6px,#38ffc7 315.7px,#09fff6 324.8px,#00ebff 330.9px,#00c8ff 343.1px,#00bbff 361.4px,#00bcff 364.5px)"></i>
<i style="background:linear-gradient(90deg,#00b8ff 0px,#00c9ff 22.9px,#00c9ff 24.4px,#003fff 24.4px,#003fff 27.4px,#0000b3 27.4px,#0000c2 77.8px,#0000c2 105.2px,#0000b3 154px,#0000b3 155.5px,#003fff 155.5px,#003fff 158.6px,#00c9ff 158.6px,#00b7ff 190.6px,#00c6ff 208.9px,#01fffe 227.2px,#1cffe3 236.4px,#1bffe4 239.4px,#0ffff0 242.5px,#00f5ff 245.5px,#00f5ff 247px,#001fff 247px,#001fff 250.1px,#0000b3 250.1px,#0000b3 297.4px,#0000b3 298.9px,#001fff 298.9px,#001fff 301.9px,#00f5ff 301.9px,#0ffff0 306.5px,#1bffe4 309.6px,#16ffe9 315.7px,#01fffe 321.8px,#00ccff 337px,#00b7ff 355.3px,#00b7ff 364.5px)"></i>
<i style="background:linear-gradient(90deg,#00b4ff 0px,#00c1ff 22.9px,#00b2ff 25.9px,#00b2ff 27.4px,#0000c4 27.4px,#0000b3 32px,#0000ba 108.3px,#0000b3 151px,#0000c4 154px,#0000c4 155.5px,#00b2ff 155.5px,#00c1ff 160.1px,#00b3ff 196.7px,#00c9ff 215px,#00f7ff 233.3px,#00f3ff 239.4px,#00d1ff 245.5px,#00b1ff 248.6px,#00b1ff 250.1px,#001dff 250.1px,#001dff 253.1px,#0000b3 253.1px,#0000b3 294.3px,#0000b3 295.8px,#001dff 295.8px,#001dff 298.9px,#00b1ff 298.9px,#00d1ff 303.5px,#00f3ff 309.6px,#00f7ff 315.7px,#00bdff 340.1px,#00b2ff 361.4px,#00b3ff 364.5px)"></i>
<i style="background:linear-gradient(90deg,#00afff 0px,#00baff 25.9px,#00baff 27.4px,#0037ff 27.4px,#0037ff 30.5px,#0000b3 30.5px,#0000b3 151px,#0000b3 152.5px,#0037ff 152.5px,#0037ff 155.5px,#00baff 155.5px,#00afff 199.8px,#00c9ff 221.1px,#00dbff 233.3px,#00c7ff 242.5px,#009aff 248.6px,#0076ff 251.6px,#0039ff 254.7px,#0000dc 257.7px,#0000b3 260.8px,#0000b3 288.2px,#0000dc 291.3px,#0039ff 294.3px,#0076ff 297.4px,#00b5ff 303.5px,#00d2ff 309.6px,#00d9ff 318.7px,#00b1ff 346.2px,#00afff 364.5px)"></i>
<i style="background:linear-gradient(90deg,#00abff 0px,#00b2ff 25.9px,#00a2ff 29px,#00a2ff 30.5px,#0000d2 30.5px,#0000b3 35.1px,#0000b3 147.9px,#0000d2 151px,#0000d2 152.5px,#00a2ff 152.5px,#00b2ff 157.1px,#00acff 205.9px,#00c4ff 233.3px,#00b0ff 242.5px,#0088ff 248.6px,#0024ff 257.7px,#0000f4 260.8px,#0000ca 263.8px,#0000b7 266.9px,#0000b1 279.1px,#0000b7 282.1px,#0000ca 285.2px,#0000f4 288.2px,#0024ff 291.3px,#0088ff 300.4px,#00b0ff 306.5px,#00c4ff 315.7px,#00a9ff 352.3px,#00aaff 364.5px)"></i>
<i style="background:linear-gradient(90deg,#00a7ff 0px,#00a9ff 29px,#006bff 32px,#006bff 33.5px,#0000b3 33.5px,#0000b3 147.9px,#0000b3 149.4px,#006bff 149.4px,#00aaff 154px,#00a9ff 212px,#00b0ff 233.3px,#009dff 242.5px,#0065ff 251.6px,#000cff 260.8px,#0000eb 263.8px,#0000bb 269.9px,#0000b3 276px,#0000bb 279.1px,#0000eb 285.2px,#000cff 288.2px,#0065ff 297.4px,#009dff 306.5px,#00b0ff 315.7px,#00a6ff 364.5px)"></i>
<i style="background:linear-gradient(90deg,#00a2ff 0px,#009fff 32px,#009fff 33.5px,#0028ff 33.5px,#0028ff 36.6px,#0000b3 36.6px,#0000b3 144.9px,#0000b3 146.4px,#0028ff 146.4px,#0028ff 149.4px,#00a0ff 149.4px,#00a1ff 233.3px,#008fff 242.5px,#0061ff 251.6px,#0000fd 263.8px,#0000d1 269.9px,#0000c8 276px,#0000e3 282.1px,#0000fd 285.2px,#0061ff 297.4px,#008fff 306.5px,#00a1ff 315.7px,#00a2ff 364.5px)"></i>
<i style="background:linear-gradient(90deg,#009eff 0px,#0097ff 32px,#0094ff 35.1px,#0094ff 36.6px,#0006ff 36.6px,#0006ff 39.6px,#0000b3 39.6px,#0000b3 141.8px,#0000b3 143.3px,#0006ff 143.3px,#0006ff 146.4px,#0094ff 146.4px,#009fff 178.4px,#0096ff 233.3px,#007aff 245.5px,#003cff 257.7px,#000eff 263.8px,#0000f5 266.9px,#0000dc 273px,#0000e4 279.1px,#0000f5 282.1px,#000eff 285.2px,#004eff 294.3px,#0084ff 306.5px,#0098ff 318.7px,#009eff 364.5px)"></i>
<i style="background:linear-gradient(90deg,#009bff 0px,#0090ff 32px,#0088ff 38.1px,#0088ff 39.6px,#0001ff 39.6px,#0001ff 42.7px,#0000b3 42.7px,#0000b3 138.8px,#0000b3 140.3px,#0001ff 140.3px,#0001ff 143.3px,#0088ff 143.3px,#009aff 169.3px,#008dff 233.3px,#006aff 248.6px,#0031ff 260.8px,#0006ff 266.9px,#0000ed 273px,#0000f5 279.1px,#0006ff 282.1px,#0043ff 291.3px,#007cff 306.5px,#0091ff 321.8px,#009aff 364.5px)"></i>
<i style="background:linear-gradient(90deg,#0097ff 0px,#008aff 32px,#007dff 41.2px,#007dff 42.7px,#0000fc 42.7px,#0000fc 45.8px,#0000b3 45.8px,#0000b3 135.7px,#0000b3 137.2px,#0000fc 137.2px,#0000fc 140.3px,#007eff 140.3px,#0095ff 166.2px,#008dff 221.1px,#007dff 239.4px,#0048ff 257.7px,#0005ff 269.9px,#0000fd 276px,#0014ff 282.1px,#0048ff 291.3px,#007dff 309.6px,#0091ff 337px,#0097ff 364.5px)"></i>
<i style="background:linear-gradient(90deg,#0094ff 0px,#0084ff 32px,#0073ff 44.2px,#0073ff 45.8px,#0010ff 45.8px,#0010ff 48.8px,#0000b3 48.8px,#0000b3 132.7px,#0000b3 134.2px,#0010ff 134.2px,#0010ff 137.2px,#0073ff 137.2px,#0091ff 166.2px,#008dff 212px,#0078ff 239.4px,#004dff 257.7px,#0010ff 269.9px,#000aff 276px,#001eff 282.1px,#004dff 291.3px,#007dff 312.6px,#0094ff 361.4px,#0094ff 364.5px)"></i>
<i style="background:linear-gradient(90deg,#0091ff 0px,#007eff 35.1px,#0068ff 47.3px,#0034ff 50.3px,#0000c7 53.4px,#0000b3 56.4px,#0000b3 126.6px,#0000c7 129.6px,#0034ff 132.7px,#0068ff 135.7px,#0087ff 157.1px,#0090ff 193.7px,#007aff 236.4px,#0051ff 257.7px,#0018ff 269.9px,#0011ff 276px,#0025ff 282.1px,#0051ff 291.3px,#007dff 315.7px,#0091ff 364.5px)"></i>
<i style="background:linear-gradient(90deg,#008eff 0px,#007bff 35.1px,#005cff 50.3px,#0048ff 53.4px,#0048ff 54.9px,#0000fc 54.9px,#0000bb 59.5px,#0000b3 65.6px,#0000b3 120.5px,#0000bb 123.5px,#0000fd 126.6px,#0000fd 128.1px,#0048ff 128.1px,#005cff 132.7px,#007eff 151px,#008fff 187.6px,#007bff 233.3px,#0054ff 257.7px,#001eff 269.9px,#0018ff 276px,#002bff 282.1px,#0054ff 291.3px,#007dff 318.7px,#008fff 364.5px)"></i>
<i style="background:linear-gradient(90deg,#008cff 0px,#0074ff 38.1px,#0051ff 53.4px,#0032ff 59.5px,#0000f0 62.5px,#0000c1 65.6px,#0000b3 68.6px,#0000b3 114.4px,#0000c1 117.4px,#0000f0 120.5px,#0032ff 123.5px,#0051ff 129.6px,#0078ff 147.9px,#008dff 184.5px,#0079ff 233.3px,#0057ff 257.7px,#0023ff 269.9px,#001dff 276px,#0030ff 282.1px,#0057ff 291.3px,#0081ff 324.8px,#008dff 364.5px)"></i>
<i style="background:linear-gradient(90deg,#008bff 0px,#0072ff 38.1px,#0046ff 56.4px,#0023ff 65.6px,#0000f7 68.6px,#0000bd 74.7px,#0000b3 77.8px,#0000b3 105.2px,#0000bd 108.3px,#0000f7 114.4px,#0023ff 117.4px,#0060ff 135.7px,#007fff 157.1px,#008bff 196.7px,#0076ff 236.4px,#0051ff 260.8px,#0027ff 269.9px,#0021ff 276px,#0034ff 282.1px,#0059ff 291.3px,#0082ff 327.9px,#008bff 364.5px)"></i>
<i style="background:linear-gradient(90deg,#0089ff 0px,#0071ff 38.1px,#0047ff 56.4px,#0007ff 74.7px,#0000f9 77.8px,#0000d9 83.9px,#0000cf 90px,#0000d0 96.1px,#0000e5 102.2px,#0000f9 105.2px,#0028ff 117.4px,#0066ff 138.8px,#0081ff 163.2px,#0089ff 202.8px,#0073ff 239.4px,#0053ff 260.8px,#002aff 269.9px,#0024ff 276px,#0037ff 282.1px,#005cff 291.3px,#0084ff 330.9px,#008aff 364.5px)"></i>
<i style="background:linear-gradient(90deg,#0088ff 0px,#0071ff 38.1px,#004aff 56.4px,#0001ff 80.8px,#0000f8 96.1px,#0008ff 105.2px,#0061ff 135.7px,#007fff 160.1px,#0089ff 202.8px,#0074ff 239.4px,#0056ff 260.8px,#002dff 269.9px,#0027ff 276px,#003aff 282.1px,#005eff 291.3px,#0085ff 330.9px,#0089ff 364.5px)"></i>
<i style="background:linear-gradient(90deg,#0088ff 0px,#006dff 41.2px,#003cff 62.5px,#000bff 80.8px,#0003ff 96.1px,#0020ff 111.3px,#0063ff 135.7px,#0080ff 163.2px,#008aff 208.9px,#006fff 245.5px,#0057ff 260.8px,#0030ff 269.9px,#002aff 276px,#003cff 282.1px,#005fff 291.3px,#0087ff 330.9px,#0089ff 364.5px)"></i>
<i style="background:linear-gradient(90deg,#0088ff 0px,#006dff 41.2px,#0040ff 62.5px,#0012ff 80.8px,#000bff 96.1px,#0026ff 111.3px,#0064ff 135.7px,#0083ff 169.3px,#008bff 215px,#0066ff 254.7px,#004dff 263.8px,#0032ff 269.9px,#002cff 276px,#003eff 282.1px,#0061ff 291.3px,#008aff 330.9px,#0089ff 364.5px)"></i>
<i style="background:linear-gradient(90deg,#0088ff 0px,#006aff 44.2px,#003cff 65.6px,#0014ff 83.9px,#0014ff 99.1px,#003cff 117.4px,#006aff 138.8px,#008bff 187.6px,#008aff 224.2px,#0063ff 257.7px,#002dff 273px,#0033ff 279.1px,#0063ff 291.3px,#008dff 330.9px,#008aff 364.5px)"></i>
<i style="background:linear-gradient(90deg,#008aff 0px,#0067ff 47.3px,#0038ff 68.6px,#0019ff 83.9px,#0019ff 99.1px,#0049ff 120.5px,#006eff 141.8px,#0092ff 202.8px,#0089ff 230.3px,#005cff 260.8px,#0034ff 269.9px,#002eff 276px,#0041ff 282.1px,#0064ff 291.3px,#0090ff 327.9px,#008bff 364.5px)"></i>
<i style="background:linear-gradient(90deg,#008bff 0px,#0064ff 50.3px,#001cff 83.9px,#001cff 99.1px,#0065ff 132.7px,#0090ff 190.6px,#0096ff 221.1px,#006cff 254.7px,#0050ff 263.8px,#0035ff 269.9px,#002fff 276px,#0042ff 282.1px,#0066ff 291.3px,#0094ff 324.8px,#0092ff 355.3px,#008dff 364.5px)"></i>
<i style="background:linear-gradient(90deg,#008dff 0px,#0062ff 53.4px,#001fff 83.9px,#001fff 99.1px,#0062ff 129.6px,#0097ff 196.7px,#009bff 224.2px,#006dff 254.7px,#0051ff 263.8px,#0035ff 269.9px,#002eff 276px,#0041ff 282.1px,#0067ff 291.3px,#0098ff 321.8px,#009aff 346.2px,#008fff 364.5px)"></i>
<i style="background:linear-gradient(90deg,#0090ff 0px,#0060ff 56.4px,#001eff 86.9px,#0026ff 102.2px,#0060ff 126.6px,#00a3ff 208.9px,#009dff 230.3px,#005eff 260.8px,#0033ff 269.9px,#002cff 276px,#0040ff 282.1px,#0068ff 291.3px,#00a0ff 321.8px,#00a0ff 346.2px,#0092ff 364.5px)"></i>
<i style="background:linear-gradient(90deg,#0093ff 0px,#005eff 59.5px,#001fff 86.9px,#0022ff 99.1px,#005eff 123.5px,#00adff 215px,#00a1ff 233.3px,#005eff 260.8px,#0030ff 269.9px,#0029ff 276px,#003eff 282.1px,#0069ff 291.3px,#00a6ff 318.7px,#00acff 337px,#0096ff 364.5px)"></i>
<i style="background:linear-gradient(90deg,#0097ff 0px,#005cff 62.5px,#001fff 86.9px,#0023ff 99.1px,#005cff 120.5px,#00b8ff 218.1px,#00abff 233.3px,#005eff 260.8px,#002dff 269.9px,#0025ff 276px,#003bff 282.1px,#006aff 291.3px,#00b0ff 318.7px,#00b5ff 337px,#009aff 364.5px)"></i>
<i style="background:linear-gradient(90deg,#009bff 0px,#0059ff 65.6px,#001eff 86.9px,#001eff 96.1px,#0059ff 117.4px,#00c3ff 218.1px,#00b7ff 233.3px,#006aff 257.7px,#0028ff 269.9px,#0020ff 276px,#0038ff 282.1px,#006aff 291.3px,#00b7ff 315.7px,#00c3ff 330.9px,#009fff 364.5px)"></i>
<i style="background:linear-gradient(90deg,#00a1ff 0px,#005bff 65.6px,#0038ff 77.8px,#001cff 86.9px,#001cff 96.1px,#005bff 117.4px,#00b2ff 193.7px,#00d1ff 221.1px,#00c4ff 233.3px,#0077ff 254.7px,#0047ff 263.8px,#0023ff 269.9px,#001bff 276px,#0033ff 282.1px,#006aff 291.3px,#00bcff 312.6px,#00d1ff 324.8px,#00c3ff 343.1px,#00a5ff 364.5px)"></i>
<i style="background:linear-gradient(90deg,#00a7ff 0px,#005cff 65.6px,#0037ff 77.8px,#0016ff 86.9px,#0016ff 96.1px,#0056ff 114.4px,#0082ff 147.9px,#00abff 184.5px,#00e0ff 221.1px,#00d3ff 233.3px,#0096ff 248.6px,#0057ff 260.8px,#001cff 269.9px,#0013ff 276px,#002dff 282.1px,#0078ff 294.3px,#00caff 312.6px,#00e0ff 324.8px,#00ceff 343.1px,#00abff 364.5px)"></i>
<i style="background:linear-gradient(90deg,#00adff 0px,#0087ff 35.1px,#005dff 65.6px,#0035ff 77.8px,#0010ff 86.9px,#0010ff 96.1px,#0056ff 114.4px,#0081ff 141.8px,#00a9ff 178.4px,#00f1ff 221.1px,#00ebff 230.3px,#00cdff 239.4px,#0052ff 260.8px,#0011ff 269.9px,#0007ff 276px,#0023ff 282.1px,#0078ff 294.3px,#00daff 312.6px,#00efff 321.8px,#00ebff 334px,#00b2ff 364.5px)"></i>
<i style="background:linear-gradient(90deg,#00b5ff 0px,#008eff 32px,#006bff 59.5px,#0042ff 74.7px,#0008ff 86.9px,#0008ff 96.1px,#004eff 111.3px,#0080ff 135.7px,#00aaff 175.4px,#01fffe 218.1px,#00feff 230.3px,#00ddff 239.4px,#0049ff 260.8px,#0001ff 269.9px,#0000f6 276px,#0001ff 279.1px,#00a2ff 300.4px,#00ebff 312.6px,#00feff 318.7px,#01fffe 330.9px,#00bbff 364.5px)"></i>
<i style="background:linear-gradient(90deg,#00bdff 0px,#0094ff 32px,#007dff 53.4px,#004dff 71.7px,#0000ff 86.9px,#0000f9 93px,#0000ff 96.1px,#004dff 111.3px,#0082ff 132.7px,#00b2ff 175.4px,#03fffc 208.9px,#1affe5 224.2px,#0cfff3 233.3px,#00ffff 236.4px,#00c3ff 245.5px,#0020ff 263.8px,#0003ff 266.9px,#0000e4 273px,#0000e4 276px,#0003ff 282.1px,#00a9ff 300.4px,#00eeff 309.6px,#00ffff 312.6px,#19ffe6 321.8px,#0ffff0 334px,#00faff 343.1px,#00c4ff 364.5px)"></i>
<i style="background:linear-gradient(90deg,#00c6ff 0px,#009eff 29px,#008aff 50.3px,#0057ff 68.6px,#002cff 77.8px,#0004ff 83.9px,#0000ee 90px,#0000f5 96.1px,#0004ff 99.1px,#004bff 111.3px,#0084ff 129.6px,#009cff 151px,#00c0ff 178.4px,#04fffb 202.8px,#2effd1 221.1px,#2cffd3 230.3px,#15ffea 236.4px,#03fffc 239.4px,#00ceff 245.5px,#000eff 263.8px,#0000ee 266.9px,#0000d9 269.9px,#0000cf 273px,#0000cf 276px,#0000d9 279.1px,#0000ee 282.1px,#000eff 285.2px,#00ceff 303.5px,#02fffd 309.6px,#23ffdc 315.7px,#30ffcf 324.8px,#0dfff2 343.1px,#00f9ff 349.2px,#00cdff 364.5px)"></i>
<i style="background:linear-gradient(90deg,#00d0ff 0px,#00adff 22.9px,#0094ff 50.3px,#0063ff 65.6px,#0026ff 77.8px,#0000f9 83.9px,#0000e2 90px,#0000e9 96.1px,#0000f9 99.1px,#0056ff 114.4px,#008dff 129.6px,#00a4ff 147.9px,#00c3ff 175.4px,#00ffff 196.7px,#3bffc4 215px,#49ffb6 227.2px,#3cffc3 233.3px,#18ffe7 239.4px,#00fcff 242.5px,#006aff 254.7px,#0043ff 257.7px,#0004ff 260.8px,#0000d7 263.8px,#0000b9 269.9px,#0000b9 279.1px,#0000d7 285.2px,#0004ff 288.2px,#0043ff 291.3px,#00dbff 303.5px,#00fcff 306.5px,#3cffc3 315.7px,#48ffb7 324.8px,#2affd5 340.1px,#00ffff 352.3px,#00d8ff 364.5px)"></i>
<i style="background:linear-gradient(90deg,#00dbff 0px,#00baff 19.8px,#00a1ff 50.3px,#0075ff 62.5px,#001cff 77.8px,#0004ff 80.8px,#0000db 86.9px,#0000d3 93px,#0000ec 99.1px,#0004ff 102.2px,#0056ff 114.4px,#008fff 126.6px,#00aaff 138.8px,#00c2ff 169.3px,#00eeff 187.6px,#04fffb 193.7px,#54ffab 215px,#63ff9c 227.2px,#56ffa9 233.3px,#2fffd0 239.4px,#10ffef 242.5px,#00e9ff 245.5px,#00bdff 248.6px,#00bdff 250.1px,#005aff 250.1px,#005aff 253.1px,#0000f6 253.1px,#0000bc 257.7px,#0000b3 263.8px,#0000b3 288.2px,#0000bc 291.3px,#0000f6 294.3px,#0000f6 295.8px,#005aff 295.8px,#005aff 298.9px,#00bdff 298.9px,#00e9ff 303.5px,#10ffef 306.5px,#46ffb9 312.6px,#5fffa0 318.7px,#5bffa4 330.9px,#1cffe3 349.2px,#04fffb 355.3px,#00e4ff 364.5px)"></i>
<i style="background:linear-gradient(90deg,#00e7ff 0px,#00c5ff 19.8px,#00b0ff 50.3px,#008eff 59.5px,#0028ff 74.7px,#000eff 77.8px,#0000f3 80.8px,#0000c9 86.9px,#0000c1 93px,#0000da 99.1px,#0000f3 102.2px,#000eff 105.2px,#007dff 120.5px,#00a8ff 129.6px,#00bbff 141.8px,#00ccff 169.3px,#00fcff 187.6px,#78ff87 218.1px,#7fff80 227.2px,#73ff8c 233.3px,#48ffb7 239.4px,#25ffda 242.5px,#25ffda 244px,#00a8ff 244px,#00a8ff 247px,#0000f9 247px,#0000b3 251.6px,#0000b3 297.4px,#0000f8 300.4px,#0000f8 301.9px,#00a8ff 301.9px,#00a8ff 305px,#25ffda 305px,#62ff9d 312.6px,#7cff83 318.7px,#7eff81 327.9px,#58ffa7 340.1px,#00fbff 361.4px,#00f1ff 364.5px)"></i>
<i style="background:linear-gradient(90deg,#00f4ff 0px,#00d4ff 16.8px,#00c9ff 47.3px,#00adff 56.4px,#006fff 65.6px,#0000fc 77.8px,#0000c5 83.9px,#0000b6 86.9px,#0000b0 93px,#0000b6 96.1px,#0000de 102.2px,#0000fc 105.2px,#0087ff 120.5px,#00baff 129.6px,#00ceff 141.8px,#00d4ff 166.2px,#00f4ff 181.5px,#00ffff 184.5px,#62ff9d 205.9px,#97ff68 218.1px,#a0ff5f 227.2px,#91ff6e 233.3px,#80ff7f 236.4px,#49ffb6 239.4px,#49ffb6 240.9px,#005fff 240.9px,#005fff 244px,#0000b3 244px,#0000b3 303.5px,#0000b3 305px,#005fff 305px,#005fff 308px,#49ffb6 308px,#7fff80 312.6px,#9aff65 318.7px,#9eff61 327.9px,#71ff8e 340.1px,#0bfff4 361.4px,#00feff 364.5px)"></i>
<i style="background:linear-gradient(90deg,#02fffd 0px,#00e0ff 16.8px,#00e3ff 44.2px,#00d0ff 53.4px,#00adff 59.5px,#0054ff 68.6px,#0003ff 74.7px,#0000cd 77.8px,#0000b9 80.8px,#0000b3 96.1px,#0000b9 102.2px,#0000cd 105.2px,#0003ff 108.3px,#0054ff 114.4px,#00adff 123.5px,#00d0ff 129.6px,#00e4ff 141.8px,#00e0ff 166.2px,#03fffc 181.5px,#47ffb8 196.7px,#b8ff47 218.1px,#c6ff39 224.2px,#beff41 230.3px,#b2ff4d 233.3px,#b2ff4d 234.8px,#61ff9e 234.8px,#61ff9e 237.9px,#000aff 237.9px,#000aff 240.9px,#0000b3 240.9px,#0000b3 306.5px,#0000b3 308px,#000aff 308px,#000aff 311.1px,#61ff9e 311.1px,#61ff9e 314.1px,#b1ff4e 314.1px,#c5ff3a 321.8px,#c1ff3e 327.9px,#8cff73 340.1px,#1affe5 361.4px,#0efff1 364.5px)"></i>
<i style="background:linear-gradient(90deg,#11ffee 0px,#00fdff 7.6px,#00ecff 19.8px,#00feff 44.2px,#00ebff 53.4px,#00c3ff 59.5px,#007fff 65.6px,#007fff 67.1px,#002eff 67.1px,#0000d2 71.7px,#0000b3 74.7px,#0000b3 108.3px,#0000d2 111.3px,#002eff 114.4px,#002eff 115.9px,#007fff 115.9px,#00c3ff 123.5px,#00ebff 129.6px,#00feff 138.8px,#00ecff 163.2px,#00fdff 175.4px,#2bffd4 187.6px,#dbff24 218.1px,#edff12 224.2px,#e7ff18 230.3px,#e7ff18 231.8px,#6fff90 231.8px,#6fff90 234.8px,#0000d3 234.8px,#0000b3 239.4px,#0000b3 309.6px,#0000d3 312.6px,#0000d3 314.1px,#6fff90 314.1px,#6fff90 317.2px,#e7ff18 317.2px,#ecff13 324.8px,#ccff33 334px,#2affd5 361.4px,#1dffe2 364.5px)"></i>
<i style="background:linear-gradient(90deg,#20ffdf 0px,#00ffff 13.7px,#04fffb 29px,#1fffe0 44.2px,#18ffe7 50.3px,#00f9ff 56.4px,#00dfff 59.5px,#00aaff 62.5px,#00aaff 64px,#0013ff 64px,#0013ff 67.1px,#0000b3 67.1px,#0000b3 114.4px,#0000b3 115.9px,#0013ff 115.9px,#0013ff 118.9px,#00aaff 118.9px,#00dfff 123.5px,#00f9ff 126.6px,#1effe1 135.7px,#10ffef 147.9px,#00fcff 160.1px,#05fffa 172.3px,#2dffd2 184.5px,#86ff79 199.8px,#ffff00 218.1px,#ffe800 224.2px,#ffe500 227.2px,#c6ff39 230.3px,#c6ff39 231.8px,#0000d7 231.8px,#0000b3 236.4px,#0000b3 312.6px,#0000d7 315.7px,#0000d7 317.2px,#c6ff39 317.2px,#ffe600 321.8px,#fff100 327.9px,#ffff00 330.9px,#4bffb4 358.4px,#2cffd3 364.5px)"></i>
<i style="background:linear-gradient(90deg,#2fffd0 0px,#0efff1 13.7px,#13ffec 25.9px,#42ffbd 44.2px,#41ffbe 50.3px,#1fffe0 56.4px,#00ebff 59.5px,#00ebff 61px,#0000ea 61px,#0000b3 65.6px,#0000b3 117.4px,#0000ea 120.5px,#0000ea 122px,#00ebff 122px,#1fffe0 126.6px,#41ffbe 132.7px,#42ffbd 138.8px,#0efff1 160.1px,#13ffec 172.3px,#3dffc2 184.5px,#87ff78 196.7px,#fcff03 212px,#ffc800 221.1px,#ffbc00 224.2px,#ffe200 227.2px,#ffe200 228.8px,#002cff 228.8px,#002cff 231.8px,#0000b3 231.8px,#0000b3 315.7px,#0000b3 317.2px,#002cff 317.2px,#002cff 320.2px,#ffe200 320.2px,#ffbd00 324.8px,#ffec00 334px,#fcff03 337px,#5effa1 358.4px,#3dffc2 364.5px)"></i>
<i style="background:linear-gradient(90deg,#3effc1 0px,#22ffdd 10.7px,#1cffe3 19.8px,#39ffc6 32px,#6fff90 47.3px,#65ff9a 53.4px,#34ffcb 56.4px,#34ffcb 57.9px,#0000f8 57.9px,#0000b3 62.5px,#0000b3 120.5px,#0000f8 123.5px,#0000f8 125px,#35ffca 125px,#66ff99 129.6px,#6fff90 135.7px,#26ffd9 157.1px,#1cffe3 166.2px,#29ffd6 175.4px,#5effa1 187.6px,#b5ff4a 199.8px,#fffa00 208.9px,#ff9d00 221.1px,#ff8f00 224.2px,#ff8f00 225.7px,#00e5ff 225.7px,#00e5ff 228.8px,#0000b3 228.8px,#0000b3 318.7px,#0000b3 320.2px,#00e5ff 320.2px,#00e5ff 323.3px,#ff8f00 323.3px,#ffc800 334px,#fffb00 340.1px,#70ff8f 358.4px,#4dffb2 364.5px)"></i>
<i style="background:linear-gradient(90deg,#4dffb2 0px,#30ffcf 10.7px,#2dffd2 19.8px,#44ffbb 29px,#9cff63 47.3px,#a1ff5e 50.3px,#7cff83 53.4px,#7cff83 54.9px,#0009ff 54.9px,#0009ff 57.9px,#0000b3 57.9px,#0000b3 123.5px,#0000b3 125px,#0009ff 125px,#0009ff 128.1px,#7cff83 128.1px,#a1ff5e 132.7px,#91ff6e 138.8px,#44ffbb 154px,#2dffd2 163.2px,#30ffcf 172.3px,#4effb1 181.5px,#9aff65 193.7px,#fff900 205.9px,#ff8800 218.1px,#ff7100 221.1px,#ff7100 222.6px,#e0ff1f 222.6px,#e0ff1f 225.7px,#0000b3 225.7px,#0000ba 282.1px,#0000b3 321.8px,#0000b3 323.3px,#e0ff1f 323.3px,#e0ff1f 326.3px,#ff7200 326.3px,#ffdc00 340.1px,#fff900 343.1px,#83ff7c 358.4px,#5dffa2 364.5px)"></i>
<i style="background:linear-gradient(90deg,#5cffa3 0px,#3effc1 10.7px,#3dffc2 19.8px,#5affa5 29px,#ccff33 47.3px,#d6ff29 50.3px,#d6ff29 51.8px,#009fff 51.8px,#009fff 54.9px,#0000b3 54.9px,#0000bb 99.1px,#0000b3 126.6px,#0000b3 128.1px,#00a0ff 128.1px,#00a0ff 131.2px,#d6ff29 131.2px,#bbff44 138.8px,#5affa5 154px,#3dffc2 163.2px,#3effc1 172.3px,#5cffa3 181.5px,#95ff6a 190.6px,#fffc00 202.8px,#ff6000 218.1px,#ff4600 221.1px,#ff4600 222.6px,#0076ff 222.6px,#0076ff 225.7px,#0000b3 225.7px,#0000bc 260.8px,#0000cd 276px,#0000b4 300.4px,#0000b3 321.8px,#0000b3 323.3px,#0076ff 323.3px,#0076ff 326.3px,#ff4600 326.3px,#ffbd00 340.1px,#fffd00 346.2px,#94ff6b 358.4px,#6cff93 364.5px)"></i>
<i style="background:linear-gradient(90deg,#6aff95 0px,#4bffb4 10.7px,#4cffb3 19.8px,#6fff90 29px,#cbff34 41.2px,#fcff03 47.3px,#fcff03 48.8px,#73ff8c 48.8px,#73ff8c 51.8px,#0000b3 51.8px,#0000bd 77.8px,#0000ca 93px,#0000b3 123.5px,#0000b3 129.6px,#0000b3 131.2px,#73ff8c 131.2px,#73ff8c 134.2px,#fcff03 134.2px,#83ff7c 151px,#54ffab 160.1px,#48ffb7 169.3px,#5cffa3 178.4px,#8fff70 187.6px,#dbff24 196.7px,#f9ff06 199.8px,#ffc300 205.9px,#ff3800 218.1px,#ff3800 219.6px,#ffeb00 219.6px,#ffeb00 222.6px,#0000b3 222.6px,#0000ba 254.7px,#0000e3 266.9px,#0000f4 273px,#0000ee 279.1px,#0000c1 291.3px,#0000b3 306.5px,#0000b3 324.8px,#0000b3 326.3px,#ffeb00 326.3px,#ffeb00 329.4px,#ff3900 329.4px,#ffe500 346.2px,#f9ff06 349.2px,#a5ff5a 358.4px,#7aff85 364.5px)"></i>
<i style="background:linear-gradient(90deg,#76ff89 0px,#57ffa8 10.7px,#5bffa4 19.8px,#84ff7b 29px,#d0ff2f 38.1px,#efff10 41.2px,#fff000 44.2px,#ffd300 47.3px,#ffd300 48.8px,#0053ff 48.8px,#0053ff 51.8px,#0000b3 51.8px,#0000bb 71.7px,#0000dd 90px,#0000cf 102.2px,#0000b6 117.4px,#0000b3 129.6px,#0000b3 131.2px,#0053ff 131.2px,#0053ff 134.2px,#ffd300 134.2px,#fff000 138.8px,#efff10 141.8px,#9aff65 151px,#64ff9b 160.1px,#55ffaa 169.3px,#68ff97 178.4px,#9cff63 187.6px,#edff12 196.7px,#fff100 199.8px,#ff1300 218.1px,#ff1300 219.6px,#00efff 219.6px,#00efff 222.6px,#0000b3 222.6px,#0000bb 251.6px,#0000d2 257.7px,#0001ff 263.8px,#0027ff 269.9px,#002eff 276px,#0017ff 282.1px,#0001ff 285.2px,#0000d2 291.3px,#0000bb 297.4px,#0000b3 324.8px,#0000b3 326.3px,#00efff 326.3px,#00efff 329.4px,#ff1400 329.4px,#fff100 349.2px,#ecff13 352.3px,#9cff63 361.4px,#87ff78 364.5px)"></i>
<i style="background:linear-gradient(90deg,#81ff7e 0px,#62ff9d 10.7px,#67ff98 19.8px,#96ff69 29px,#edff12 38.1px,#ffee00 41.2px,#ffc900 44.2px,#fffe00 47.3px,#fffe00 48.8px,#0000b3 48.8px,#0000bc 68.6px,#0000ec 86.9px,#0000e8 99.1px,#0000bc 114.4px,#0000b3 132.7px,#0000b3 134.2px,#fffe00 134.2px,#ffc900 138.8px,#ffed00 141.8px,#edff12 144.9px,#96ff69 154px,#68ff97 163.2px,#62ff9d 172.3px,#81ff7e 181.5px,#c2ff3d 190.6px,#fdff02 196.7px,#ff9400 205.9px,#ff1900 215px,#f00000 218.1px,#f00000 219.6px,#0000e9 219.6px,#0000b3 224.2px,#0000ba 248.6px,#0000d4 254.7px,#0000f1 257.7px,#0015ff 260.8px,#0033ff 263.8px,#0050ff 269.9px,#0050ff 279.1px,#0033ff 285.2px,#0015ff 288.2px,#0000f1 291.3px,#0000d4 294.3px,#0000ba 300.4px,#0000b3 324.8px,#0000e9 327.9px,#0000e9 329.4px,#f10000 329.4px,#ff1900 334px,#ffe000 349.2px,#fcff03 352.3px,#a8ff57 361.4px,#93ff6c 364.5px)"></i>
<i style="background:linear-gradient(90deg,#8aff75 0px,#6bff94 10.7px,#73ff8c 19.8px,#90ff6f 25.9px,#c2ff3d 32px,#fff700 38.1px,#ffa600 44.2px,#ffa600 45.8px,#00e7ff 45.8px,#00e7ff 48.8px,#0000b3 48.8px,#0000bb 65.6px,#0000ef 80.8px,#0000f6 96.1px,#0000e6 105.2px,#0000bb 117.4px,#0000b3 132.7px,#0000b3 134.2px,#00e7ff 134.2px,#00e7ff 137.2px,#ffa500 137.2px,#fff700 144.9px,#c2ff3d 151px,#90ff6f 157.1px,#73ff8c 163.2px,#6bff94 172.3px,#8bff74 181.5px,#cdff32 190.6px,#eaff15 193.7px,#fff300 196.7px,#ff5600 208.9px,#fd0000 215px,#fd0000 216.5px,#ffb500 216.5px,#ffb500 219.6px,#0000b3 219.6px,#0000b8 245.5px,#0000cf 251.6px,#0000ee 254.7px,#0019ff 257.7px,#003dff 260.8px,#0052ff 263.8px,#005fff 273px,#005bff 282.1px,#0052ff 285.2px,#003dff 288.2px,#0019ff 291.3px,#0000ee 294.3px,#0000cf 297.4px,#0000b8 303.5px,#0000b3 327.9px,#0000b3 329.4px,#ffb500 329.4px,#ffb500 332.4px,#fd0000 332.4px,#ffd000 349.2px,#fff400 352.3px,#eaff15 355.3px,#9dff62 364.5px)"></i>
<i style="background:linear-gradient(90deg,#92ff6d 0px,#72ff8d 10.7px,#7cff83 19.8px,#9cff63 25.9px,#d2ff2d 32px,#f5ff0a 35.1px,#ffe100 38.1px,#ff8800 44.2px,#ff8800 45.8px,#003dff 45.8px,#003dff 48.8px,#0000b3 48.8px,#0000be 65.6px,#0000f1 77.8px,#0000f9 96.1px,#0000f1 105.2px,#0000be 117.4px,#0000b3 132.7px,#0000b3 134.2px,#003dff 134.2px,#003dff 137.2px,#ff8700 137.2px,#ffe100 144.9px,#f5ff0a 147.9px,#b4ff4b 154px,#8aff75 160.1px,#74ff8b 166.2px,#79ff86 175.4px,#a5ff5a 184.5px,#f4ff0b 193.7px,#ffe800 196.7px,#ff7100 205.9px,#ff1600 212px,#e60000 215px,#e60000 216.5px,#77ff88 216.5px,#77ff88 219.6px,#0000b3 219.6px,#0000bb 245.5px,#0000c6 248.6px,#0000e0 251.6px,#000dff 254.7px,#003aff 257.7px,#0053ff 260.8px,#0060ff 266.9px,#005dff 285.2px,#0053ff 288.2px,#003aff 291.3px,#000dff 294.3px,#0000e0 297.4px,#0000c6 300.4px,#0000b6 306.5px,#0000b3 327.9px,#0000b3 329.4px,#77ff88 329.4px,#77ff88 332.4px,#e60000 332.4px,#ff1600 337px,#ffc400 349.2px,#ffe800 352.3px,#f4ff0b 355.3px,#a5ff5a 364.5px)"></i>
<i style="background:linear-gradient(90deg,#98ff67 0px,#78ff87 10.7px,#7aff85 16.8px,#91ff6e 22.9px,#bfff40 29px,#fffa00 35.1px,#ff7000 44.2px,#ff7000 45.8px,#0000b3 45.8px,#0000ba 62.5px,#0000e0 71.7px,#0000f6 77.8px,#0000f6 105.2px,#0000e0 111.3px,#0000ba 120.5px,#0000b3 135.7px,#0000b3 137.2px,#ff7000 137.2px,#fffa00 147.9px,#a5ff5a 157.1px,#83ff7c 163.2px,#77ff88 169.3px,#89ff76 178.4px,#c2ff3d 187.6px,#fcff03 193.7px,#ffb900 199.8px,#ff0600 212px,#d40000 215px,#d40000 216.5px,#0cfff3 216.5px,#0cfff3 219.6px,#0000b3 219.6px,#0000b7 242.5px,#0000be 245.5px,#0000ce 248.6px,#0000f2 251.6px,#0026ff 254.7px,#004dff 257.7px,#005cff 260.8px,#005cff 288.2px,#004dff 291.3px,#0026ff 294.3px,#0000f2 297.4px,#0000ce 300.4px,#0000be 303.5px,#0000b3 318.7px,#0000b3 327.9px,#0000b3 329.4px,#0cfff3 329.4px,#0cfff3 332.4px,#d50000 332.4px,#ff0700 337px,#ffba00 349.2px,#fcff03 355.3px,#abff54 364.5px)"></i>
<i style="background:linear-gradient(90deg,#9cff63 0px,#7cff83 10.7px,#7fff80 16.8px,#97ff68 22.9px,#c6ff39 29px,#e7ff18 32px,#fff000 35.1px,#ff9200 41.2px,#ffbf00 44.2px,#ffbf00 45.8px,#0000b3 45.8px,#0000bc 62.5px,#0000f3 74.7px,#0000fa 96.1px,#0000f3 108.3px,#0000bc 120.5px,#0000b3 135.7px,#0000b3 137.2px,#ffbf00 137.2px,#ff9200 141.8px,#fff000 147.9px,#e7ff18 151px,#acff53 157.1px,#88ff77 163.2px,#7bff84 169.3px,#8dff72 178.4px,#c7ff38 187.6px,#fffc00 193.7px,#ff8900 202.8px,#fa0000 212px,#c80000 215px,#c80000 216.5px,#009bff 216.5px,#009bff 219.6px,#0000b3 219.6px,#0000b8 242.5px,#0000c0 245.5px,#0000d6 248.6px,#0002ff 251.6px,#0036ff 254.7px,#0055ff 257.7px,#0061ff 263.8px,#005fff 288.2px,#0055ff 291.3px,#0036ff 294.3px,#0002ff 297.4px,#0000d6 300.4px,#0000c0 303.5px,#0000b4 312.6px,#0000b3 327.9px,#0000b3 329.4px,#009bff 329.4px,#009bff 332.4px,#c90000 332.4px,#fb0000 337px,#ffb300 349.2px,#fffd00 355.3px,#afff50 364.5px)"></i>
<i style="background:linear-gradient(90deg,#9eff61 0px,#7eff81 10.7px,#81ff7e 16.8px,#9aff65 22.9px,#caff35 29px,#ebff14 32px,#ffeb00 35.1px,#ff8b00 41.2px,#ff8b00 42.7px,#e6ff19 42.7px,#e6ff19 45.8px,#0000b3 45.8px,#0000bd 62.5px,#0000f4 74.7px,#0000f9 105.2px,#0000e9 111.3px,#0000bd 120.5px,#0000b3 135.7px,#0000b3 137.2px,#e6ff19 137.2px,#e6ff19 140.3px,#ff8b00 140.3px,#ffeb00 147.9px,#ecff13 151px,#afff50 157.1px,#8bff74 163.2px,#7dff82 169.3px,#8fff70 178.4px,#c9ff36 187.6px,#fffa00 193.7px,#ff8500 202.8px,#ff2800 208.9px,#f50000 212px,#c20000 215px,#c20000 216.5px,#009dff 216.5px,#009dff 219.6px,#0000b3 219.6px,#0000b9 242.5px,#0000c2 245.5px,#0000da 248.6px,#000aff 251.6px,#003eff 254.7px,#0058ff 257.7px,#0061ff 266.9px,#0060ff 288.2px,#0058ff 291.3px,#003eff 294.3px,#000aff 297.4px,#0000da 300.4px,#0000c2 303.5px,#0000b4 312.6px,#0000b3 327.9px,#0000b3 329.4px,#009dff 329.4px,#009dff 332.4px,#c30000 332.4px,#f50000 337px,#ff5800 343.1px,#ffd700 352.3px,#fffa00 355.3px,#b1ff4e 364.5px)"></i>
<i style="background:linear-gradient(90deg,#9eff61 0px,#7eff81 10.7px,#81ff7e 16.8px,#9aff65 22.9px,#caff35 29px,#ebff14 32px,#ffeb00 35.1px,#ff8b00 41.2px,#ff8b00 42.7px,#e6ff19 42.7px,#e6ff19 45.8px,#0000b3 45.8px,#0000bd 62.5px,#0000f4 74.7px,#0000f9 105.2px,#0000e9 111.3px,#0000bd 120.5px,#0000b3 135.7px,#0000b3 137.2px,#e6ff19 137.2px,#e6ff19 140.3px,#ff8b00 140.3px,#ffeb00 147.9px,#ecff13 151px,#afff50 157.1px,#8bff74 163.2px,#7dff82 169.3px,#8fff70 178.4px,#c9ff36 187.6px,#fffa00 193.7px,#ff8500 202.8px,#ff2800 208.9px,#f50000 212px,#c20000 215px,#c20000 216.5px,#009dff 216.5px,#009dff 219.6px,#0000b3 219.6px,#0000b9 242.5px,#0000c2 245.5px,#0000da 248.6px,#000aff 251.6px,#003eff 254.7px,#0058ff 257.7px,#0061ff 266.9px,#0060ff 288.2px,#0058ff 291.3px,#003eff 294.3px,#000aff 297.4px,#0000da 300.4px,#0000c2 303.5px,#0000b4 312.6px,#0000b3 327.9px,#0000b3 329.4px,#009dff 329.4px,#009dff 332.4px,#c30000 332.4px,#f50000 337px,#ff5800 343.1px,#ffd700 352.3px,#fffa00 355.3px,#b1ff4e 364.5px)"></i>
<i style="background:linear-gradient(90deg,#9cff63 0px,#7cff83 10.7px,#7fff80 16.8px,#97ff68 22.9px,#c6ff39 29px,#e7ff18 32px,#fff000 35.1px,#ff9200 41.2px,#ffbf00 44.2px,#ffbf00 45.8px,#0000b3 45.8px,#0000bc 62.5px,#0000f3 74.7px,#0000fa 96.1px,#0000f3 108.3px,#0000bc 120.5px,#0000b3 135.7px,#0000b3 137.2px,#ffbf00 137.2px,#ff9200 141.8px,#fff000 147.9px,#e7ff18 151px,#acff53 157.1px,#88ff77 163.2px,#7bff84 169.3px,#8dff72 178.4px,#c7ff38 187.6px,#fffc00 193.7px,#ff8900 202.8px,#fa0000 212px,#c80000 215px,#c80000 216.5px,#009bff 216.5px,#009bff 219.6px,#0000b3 219.6px,#0000b8 242.5px,#0000c0 245.5px,#0000d6 248.6px,#0002ff 251.6px,#0036ff 254.7px,#0055ff 257.7px,#0061ff 263.8px,#005fff 288.2px,#0055ff 291.3px,#0036ff 294.3px,#0002ff 297.4px,#0000d6 300.4px,#0000c0 303.5px,#0000b4 312.6px,#0000b3 327.9px,#0000b3 329.4px,#009bff 329.4px,#009bff 332.4px,#c90000 332.4px,#fb0000 337px,#ffb300 349.2px,#fffd00 355.3px,#afff50 364.5px)"></i>
<i style="background:linear-gradient(90deg,#98ff67 0px,#78ff87 10.7px,#7aff85 16.8px,#91ff6e 22.9px,#bfff40 29px,#fffa00 35.1px,#ff7000 44.2px,#ff7000 45.8px,#0000b3 45.8px,#0000ba 62.5px,#0000e0 71.7px,#0000f6 77.8px,#0000f6 105.2px,#0000e0 111.3px,#0000ba 120.5px,#0000b3 135.7px,#0000b3 137.2px,#ff7000 137.2px,#fffa00 147.9px,#a5ff5a 157.1px,#83ff7c 163.2px,#77ff88 169.3px,#89ff76 178.4px,#c2ff3d 187.6px,#fcff03 193.7px,#ffb900 199.8px,#ff0600 212px,#d40000 215px,#d40000 216.5px,#0cfff3 216.5px,#0cfff3 219.6px,#0000b3 219.6px,#0000b7 242.5px,#0000be 245.5px,#0000ce 248.6px,#0000f2 251.6px,#0026ff 254.7px,#004dff 257.7px,#005cff 260.8px,#005cff 288.2px,#004dff 291.3px,#0026ff 294.3px,#0000f2 297.4px,#0000ce 300.4px,#0000be 303.5px,#0000b3 318.7px,#0000b3 327.9px,#0000b3 329.4px,#0cfff3 329.4px,#0cfff3 332.4px,#d50000 332.4px,#ff0600 337px,#ffba00 349.2px,#fcff03 355.3px,#abff54 364.5px)"></i>
<i style="background:linear-gradient(90deg,#92ff6d 0px,#72ff8d 10.7px,#7cff83 19.8px,#9cff63 25.9px,#d2ff2d 32px,#f5ff0a 35.1px,#ffe100 38.1px,#ff8800 44.2px,#ff8800 45.8px,#003dff 45.8px,#003dff 48.8px,#0000b3 48.8px,#0000be 65.6px,#0000f1 77.8px,#0000f9 96.1px,#0000f1 105.2px,#0000be 117.4px,#0000b3 132.7px,#0000b3 134.2px,#003dff 134.2px,#003dff 137.2px,#ff8700 137.2px,#ffe100 144.9px,#f5ff0a 147.9px,#b4ff4b 154px,#8aff75 160.1px,#74ff8b 166.2px,#79ff86 175.4px,#a5ff5a 184.5px,#f5ff0a 193.7px,#ffe800 196.7px,#ff7100 205.9px,#ff1600 212px,#e60000 215px,#e60000 216.5px,#77ff88 216.5px,#77ff88 219.6px,#0000b3 219.6px,#0000bb 245.5px,#0000c6 248.6px,#0000e0 251.6px,#000dff 254.7px,#003aff 257.7px,#0053ff 260.8px,#0060ff 266.9px,#005dff 285.2px,#0053ff 288.2px,#003aff 291.3px,#000dff 294.3px,#0000e0 297.4px,#0000c6 300.4px,#0000b6 306.5px,#0000b3 327.9px,#0000b3 329.4px,#77ff88 329.4px,#77ff88 332.4px,#e60000 332.4px,#ff1600 337px,#ffc400 349.2px,#ffe800 352.3px,#f4ff0b 355.3px,#a5ff5a 364.5px)"></i>
<i style="background:linear-gradient(90deg,#8aff75 0px,#6bff94 10.7px,#73ff8c 19.8px,#90ff6f 25.9px,#c2ff3d 32px,#fff700 38.1px,#ffa600 44.2px,#ffa600 45.8px,#00e7ff 45.8px,#00e7ff 48.8px,#0000b3 48.8px,#0000bb 65.6px,#0000ef 80.8px,#0000f6 96.1px,#0000e6 105.2px,#0000bb 117.4px,#0000b3 132.7px,#0000b3 134.2px,#00e7ff 134.2px,#00e7ff 137.2px,#ffa500 137.2px,#fff700 144.9px,#c2ff3d 151px,#90ff6f 157.1px,#73ff8c 163.2px,#6bff94 172.3px,#8bff74 181.5px,#cdff32 190.6px,#eaff15 193.7px,#fff300 196.7px,#ff5600 208.9px,#fd0000 215px,#fd0000 216.5px,#ffb500 216.5px,#ffb500 219.6px,#0000b3 219.6px,#0000b8 245.5px,#0000cf 251.6px,#0000ee 254.7px,#0019ff 257.7px,#003dff 260.8px,#0052ff 263.8px,#005fff 273px,#005bff 282.1px,#0052ff 285.2px,#003dff 288.2px,#0019ff 291.3px,#0000ee 294.3px,#0000cf 297.4px,#0000b8 303.5px,#0000b3 327.9px,#0000b3 329.4px,#ffb500 329.4px,#ffb500 332.4px,#fd0000 332.4px,#ffd000 349.2px,#fff400 352.3px,#eaff15 355.3px,#9dff62 364.5px)"></i>
<i style="background:linear-gradient(90deg,#81ff7e 0px,#62ff9d 10.7px,#68ff97 19.8px,#96ff69 29px,#edff12 38.1px,#ffed00 41.2px,#ffc900 44.2px,#fffe00 47.3px,#fffe00 48.8px,#0000b3 48.8px,#0000bc 68.6px,#0000ec 86.9px,#0000e8 99.1px,#0000bc 114.4px,#0000b3 132.7px,#0000b3 134.2px,#fffe00 134.2px,#ffc900 138.8px,#ffed00 141.8px,#edff12 144.9px,#96ff69 154px,#68ff97 163.2px,#62ff9d 172.3px,#81ff7e 181.5px,#c2ff3d 190.6px,#fdff02 196.7px,#ff9400 205.9px,#ff1900 215px,#f00000 218.1px,#f00000 219.6px,#0000e9 219.6px,#0000b3 224.2px,#0000ba 248.6px,#0000d4 254.7px,#0000f1 257.7px,#0015ff 260.8px,#0033ff 263.8px,#0050ff 269.9px,#0050ff 279.1px,#0033ff 285.2px,#0015ff 288.2px,#0000f1 291.3px,#0000d4 294.3px,#0000ba 300.4px,#0000b3 324.8px,#0000e9 327.9px,#0000e9 329.4px,#f00000 329.4px,#ff1900 334px,#ffdf00 349.2px,#fdff02 352.3px,#a8ff57 361.4px,#93ff6c 364.5px)"></i>
<i style="background:linear-gradient(90deg,#76ff89 0px,#57ffa8 10.7px,#5bffa4 19.8px,#84ff7b 29px,#d0ff2f 38.1px,#efff10 41.2px,#fff000 44.2px,#ffd300 47.3px,#ffd300 48.8px,#0053ff 48.8px,#0053ff 51.8px,#0000b3 51.8px,#0000bb 71.7px,#0000dd 90px,#0000cf 102.2px,#0000b6 117.4px,#0000b3 129.6px,#0000b3 131.2px,#0053ff 131.2px,#0053ff 134.2px,#ffd300 134.2px,#ffef00 138.8px,#efff10 141.8px,#9aff65 151px,#64ff9b 160.1px,#55ffaa 169.3px,#69ff96 178.4px,#9dff62 187.6px,#edff12 196.7px,#fff100 199.8px,#ff1300 218.1px,#ff1300 219.6px,#00efff 219.6px,#00efff 222.6px,#0000b3 222.6px,#0000bb 251.6px,#0000d2 257.7px,#0001ff 263.8px,#0027ff 269.9px,#002eff 276px,#0017ff 282.1px,#0001ff 285.2px,#0000d2 291.3px,#0000bb 297.4px,#0000b3 324.8px,#0000b3 326.3px,#00efff 326.3px,#00efff 329.4px,#ff1300 329.4px,#fff100 349.2px,#ecff13 352.3px,#9cff63 361.4px,#87ff78 364.5px)"></i>
<i style="background:linear-gradient(90deg,#6aff95 0px,#4bffb4 10.7px,#4cffb3 19.8px,#6fff90 29px,#cbff34 41.2px,#fcff03 47.3px,#fcff03 48.8px,#73ff8c 48.8px,#73ff8c 51.8px,#0000b3 51.8px,#0000bd 77.8px,#0000ca 93px,#0000b3 123.5px,#0000b3 129.6px,#0000b3 131.2px,#73ff8c 131.2px,#73ff8c 134.2px,#fcff03 134.2px,#83ff7c 151px,#55ffaa 160.1px,#48ffb7 169.3px,#5dffa2 178.4px,#8fff70 187.6px,#dbff24 196.7px,#f9ff06 199.8px,#ffc200 205.9px,#ff3800 218.1px,#ff3800 219.6px,#ffeb00 219.6px,#ffeb00 222.6px,#0000b3 222.6px,#0000ba 254.7px,#0000e3 266.9px,#0000f4 273px,#0000ee 279.1px,#0000c1 291.3px,#0000b3 306.5px,#0000b3 324.8px,#0000b3 326.3px,#ffeb00 326.3px,#ffeb00 329.4px,#ff3900 329.4px,#ffe500 346.2px,#f9ff06 349.2px,#a5ff5a 358.4px,#7aff85 364.5px)"></i>
<i style="background:linear-gradient(90deg,#5cffa3 0px,#3effc1 10.7px,#3dffc2 19.8px,#5affa5 29px,#ccff33 47.3px,#d6ff29 50.3px,#d6ff29 51.8px,#00a0ff 51.8px,#00a0ff 54.9px,#0000b3 54.9px,#0000bb 99.1px,#0000b3 126.6px,#0000b3 128.1px,#00a0ff 128.1px,#00a0ff 131.2px,#d7ff28 131.2px,#bbff44 138.8px,#5affa5 154px,#3dffc2 163.2px,#3effc1 172.3px,#5cffa3 181.5px,#95ff6a 190.6px,#fffc00 202.8px,#ff6000 218.1px,#ff4600 221.1px,#ff4600 222.6px,#0076ff 222.6px,#0076ff 225.7px,#0000b3 225.7px,#0000bc 260.8px,#0000cd 276px,#0000b4 300.4px,#0000b3 321.8px,#0000b3 323.3px,#0076ff 323.3px,#0076ff 326.3px,#ff4600 326.3px,#ffbd00 340.1px,#fffd00 346.2px,#94ff6b 358.4px,#6cff93 364.5px)"></i>
<i style="background:linear-gradient(90deg,#4effb1 0px,#30ffcf 10.7px,#2dffd2 19.8px,#44ffbb 29px,#9cff63 47.3px,#a1ff5e 50.3px,#7cff83 53.4px,#7cff83 54.9px,#0009ff 54.9px,#0009ff 57.9px,#0000b3 57.9px,#0000b3 123.5px,#0000b3 125px,#0009ff 125px,#0009ff 128.1px,#7cff83 128.1px,#a1ff5e 132.7px,#91ff6e 138.8px,#44ffbb 154px,#2dffd2 163.2px,#30ffcf 172.3px,#4effb1 181.5px,#9aff65 193.7px,#fff800 205.9px,#ff8800 218.1px,#ff7100 221.1px,#ff7100 222.6px,#e0ff1f 222.6px,#e0ff1f 225.7px,#0000b3 225.7px,#0000ba 282.1px,#0000b3 321.8px,#0000b3 323.3px,#e0ff1f 323.3px,#e0ff1f 326.3px,#ff7100 326.3px,#ffdb00 340.1px,#fff900 343.1px,#83ff7c 358.4px,#5dffa2 364.5px)"></i>
<i style="background:linear-gradient(90deg,#3effc1 0px,#22ffdd 10.7px,#1cffe3 19.8px,#39ffc6 32px,#6fff90 47.3px,#66ff99 53.4px,#35ffca 56.4px,#35ffca 57.9px,#0000f8 57.9px,#0000b3 62.5px,#0000b3 120.5px,#0000f8 123.5px,#0000f8 125px,#35ffca 125px,#66ff99 129.6px,#6fff90 135.7px,#26ffd9 157.1px,#1cffe3 166.2px,#29ffd6 175.4px,#5effa1 187.6px,#b5ff4a 199.8px,#fffa00 208.9px,#ff9d00 221.1px,#ff8f00 224.2px,#ff8f00 225.7px,#00e5ff 225.7px,#00e5ff 228.8px,#0000b3 228.8px,#0000b3 318.7px,#0000b3 320.2px,#00e5ff 320.2px,#00e5ff 323.3px,#ff8f00 323.3px,#ffc700 334px,#fffa00 340.1px,#71ff8e 358.4px,#4dffb2 364.5px)"></i>
<i style="background:linear-gradient(90deg,#2fffd0 0px,#0ffff0 13.7px,#13ffec 25.9px,#42ffbd 44.2px,#41ffbe 50.3px,#1fffe0 56.4px,#00ebff 59.5px,#00ebff 61px,#0000ea 61px,#0000b3 65.6px,#0000b3 117.4px,#0000ea 120.5px,#0000ea 122px,#00ebff 122px,#1fffe0 126.6px,#41ffbe 132.7px,#42ffbd 138.8px,#0ffff0 160.1px,#14ffeb 172.3px,#3dffc2 184.5px,#87ff78 196.7px,#fcff03 212px,#ffc800 221.1px,#ffbc00 224.2px,#ffe200 227.2px,#ffe200 228.8px,#002cff 228.8px,#002cff 231.8px,#0000b3 231.8px,#0000b3 315.7px,#0000b3 317.2px,#002cff 317.2px,#002cff 320.2px,#ffe200 320.2px,#ffbc00 324.8px,#ffec00 334px,#fcff03 337px,#5effa1 358.4px,#3dffc2 364.5px)"></i>
<i style="background:linear-gradient(90deg,#20ffdf 0px,#00ffff 13.7px,#04fffb 29px,#1fffe0 44.2px,#18ffe7 50.3px,#00f9ff 56.4px,#00dfff 59.5px,#00aaff 62.5px,#00aaff 64px,#0014ff 64px,#0014ff 67.1px,#0000b3 67.1px,#0000b3 114.4px,#0000b3 115.9px,#0013ff 115.9px,#0013ff 118.9px,#00aaff 118.9px,#00dfff 123.5px,#00f9ff 126.6px,#1effe1 135.7px,#10ffef 147.9px,#00fcff 160.1px,#05fffa 172.3px,#2dffd2 184.5px,#86ff79 199.8px,#fffe00 218.1px,#ffe800 224.2px,#ffe500 227.2px,#c6ff39 230.3px,#c6ff39 231.8px,#0000d7 231.8px,#0000b3 236.4px,#0000b3 312.6px,#0000d7 315.7px,#0000d7 317.2px,#c6ff39 317.2px,#ffe500 321.8px,#fff100 327.9px,#ffff00 330.9px,#3bffc4 361.4px,#2dffd2 364.5px)"></i>
<i style="background:linear-gradient(90deg,#11ffee 0px,#00fdff 7.6px,#00ecff 19.8px,#00feff 44.2px,#00ebff 53.4px,#00c3ff 59.5px,#007fff 65.6px,#007fff 67.1px,#002eff 67.1px,#0000d2 71.7px,#0000b3 74.7px,#0000b3 108.3px,#0000d2 111.3px,#002eff 114.4px,#002eff 115.9px,#007fff 115.9px,#00c3ff 123.5px,#00ebff 129.6px,#00ffff 138.8px,#00ecff 163.2px,#00fdff 175.4px,#2bffd4 187.6px,#dbff24 218.1px,#edff12 224.2px,#e7ff18 230.3px,#e7ff18 231.8px,#6fff90 231.8px,#6fff90 234.8px,#0000d3 234.8px,#0000b3 239.4px,#0000b3 309.6px,#0000d3 312.6px,#0000d3 314.1px,#6fff90 314.1px,#6fff90 317.2px,#e7ff18 317.2px,#edff12 324.8px,#ccff33 334px,#2affd5 361.4px,#1dffe2 364.5px)"></i>
<i style="background:linear-gradient(90deg,#03fffc 0px,#00e0ff 16.8px,#00e3ff 44.2px,#00d0ff 53.4px,#00adff 59.5px,#0054ff 68.6px,#0003ff 74.7px,#0000cd 77.8px,#0000b9 80.8px,#0000b3 96.1px,#0000b9 102.2px,#0000cd 105.2px,#0003ff 108.3px,#0054ff 114.4px,#00adff 123.5px,#00d0ff 129.6px,#00e4ff 141.8px,#00e0ff 166.2px,#03fffc 181.5px,#48ffb7 196.7px,#b8ff47 218.1px,#c6ff39 224.2px,#beff41 230.3px,#b2ff4d 233.3px,#b2ff4d 234.8px,#61ff9e 234.8px,#61ff9e 237.9px,#000aff 237.9px,#000aff 240.9px,#0000b3 240.9px,#0000b3 306.5px,#0000b3 308px,#000aff 308px,#000aff 311.1px,#61ff9e 311.1px,#61ff9e 314.1px,#b2ff4d 314.1px,#c5ff3a 321.8px,#c1ff3e 327.9px,#8cff73 340.1px,#1affe5 361.4px,#0efff1 364.5px)"></i>
<i style="background:linear-gradient(90deg,#00f4ff 0px,#00d4ff 16.8px,#00c9ff 47.3px,#00adff 56.4px,#006fff 65.6px,#0000fb 77.8px,#0000c5 83.9px,#0000b6 86.9px,#0000b1 93px,#0000b6 96.1px,#0000de 102.2px,#0000fb 105.2px,#0087ff 120.5px,#00baff 129.6px,#00ceff 141.8px,#00d4ff 166.2px,#00f4ff 181.5px,#00ffff 184.5px,#72ff8d 208.9px,#9eff61 221.1px,#9bff64 230.3px,#80ff7f 236.4px,#49ffb6 239.4px,#49ffb6 240.9px,#005fff 240.9px,#005fff 244px,#0000b3 244px,#0000b3 303.5px,#0000b3 305px,#005fff 305px,#005fff 308px,#49ffb6 308px,#80ff7f 312.6px,#9bff64 318.7px,#9eff61 327.9px,#71ff8e 340.1px,#0bfff4 361.4px,#00feff 364.5px)"></i>
<i style="background:linear-gradient(90deg,#00e7ff 0px,#00c5ff 19.8px,#00b0ff 50.3px,#008eff 59.5px,#003fff 71.7px,#000dff 77.8px,#0000f1 80.8px,#0000c9 86.9px,#0000c2 93px,#0000d9 99.1px,#0000f1 102.2px,#000dff 105.2px,#007dff 120.5px,#00a8ff 129.6px,#00bbff 141.8px,#00ccff 169.3px,#00fcff 187.6px,#78ff87 218.1px,#80ff7f 227.2px,#73ff8c 233.3px,#48ffb7 239.4px,#25ffda 242.5px,#25ffda 244px,#00a8ff 244px,#00a8ff 247px,#0000f9 247px,#0000f9 250.1px,#0000b3 250.1px,#0000b3 297.4px,#0000b3 298.9px,#0000f9 298.9px,#0000f9 301.9px,#00a8ff 301.9px,#00a8ff 305px,#25ffda 305px,#62ff9d 312.6px,#7cff83 318.7px,#7eff81 327.9px,#58ffa7 340.1px,#00fbff 361.4px,#00f1ff 364.5px)"></i>
<i style="background:linear-gradient(90deg,#00dbff 0px,#00baff 19.8px,#00a1ff 50.3px,#0076ff 62.5px,#0030ff 74.7px,#0001ff 80.8px,#0000db 86.9px,#0000d4 93px,#0000ea 99.1px,#0001ff 102.2px,#0056ff 114.4px,#0090ff 126.6px,#00aaff 138.8px,#00c2ff 169.3px,#00eeff 187.6px,#05fffa 193.7px,#55ffaa 215px,#63ff9c 227.2px,#56ffa9 233.3px,#2fffd0 239.4px,#10ffef 242.5px,#00e9ff 245.5px,#00bdff 248.6px,#00bdff 250.1px,#005aff 250.1px,#005aff 253.1px,#0000f6 253.1px,#0000bc 257.7px,#0000b3 263.8px,#0000b3 288.2px,#0000bc 291.3px,#0000f6 294.3px,#0000f6 295.8px,#005bff 295.8px,#005bff 298.9px,#00beff 298.9px,#00e9ff 303.5px,#10ffef 306.5px,#47ffb8 312.6px,#60ff9f 318.7px,#5cffa3 330.9px,#1cffe3 349.2px,#04fffb 355.3px,#00e4ff 364.5px)"></i>
<i style="background:linear-gradient(90deg,#00d1ff 0px,#00adff 22.9px,#0094ff 50.3px,#0063ff 65.6px,#0023ff 77.8px,#0000f8 83.9px,#0000e3 90px,#0000ea 96.1px,#0000f8 99.1px,#0037ff 108.3px,#007bff 123.5px,#009eff 138.8px,#00beff 172.3px,#00f5ff 193.7px,#00ffff 196.7px,#3bffc4 215px,#49ffb6 227.2px,#3cffc3 233.3px,#18ffe7 239.4px,#00fcff 242.5px,#006aff 254.7px,#0043ff 257.7px,#0004ff 260.8px,#0000d8 263.8px,#0000b9 269.9px,#0000b9 279.1px,#0000d8 285.2px,#0004ff 288.2px,#0043ff 291.3px,#00dbff 303.5px,#00fcff 306.5px,#2dffd2 312.6px,#45ffba 318.7px,#45ffba 327.9px,#20ffdf 343.1px,#00ffff 352.3px,#00d9ff 364.5px)"></i>
<i style="background:linear-gradient(90deg,#00c6ff 0px,#009eff 29px,#008aff 50.3px,#0057ff 68.6px,#002bff 77.8px,#0005ff 83.9px,#0000f0 93px,#0005ff 99.1px,#004bff 111.3px,#0084ff 129.6px,#009fff 154px,#00c7ff 181.5px,#04fffb 202.8px,#2effd1 221.1px,#2cffd3 230.3px,#15ffea 236.4px,#03fffc 239.4px,#00cfff 245.5px,#000dff 263.8px,#0000ef 266.9px,#0000da 269.9px,#0000d1 276px,#0000da 279.1px,#0000ef 282.1px,#000dff 285.2px,#00cfff 303.5px,#03fffc 309.6px,#23ffdc 315.7px,#31ffce 324.8px,#16ffe9 340.1px,#00f9ff 349.2px,#00ceff 364.5px)"></i>
<i style="background:linear-gradient(90deg,#00bdff 0px,#0095ff 32px,#007dff 53.4px,#004dff 71.7px,#0001ff 86.9px,#0001ff 96.1px,#004dff 111.3px,#0082ff 132.7px,#00b2ff 175.4px,#03fffc 208.9px,#1affe5 224.2px,#0cfff3 233.3px,#00ffff 236.4px,#00c3ff 245.5px,#0002ff 266.9px,#0000e5 273px,#0000ee 279.1px,#0002ff 282.1px,#00c3ff 303.5px,#00ffff 312.6px,#19ffe6 321.8px,#0ffff0 334px,#00faff 343.1px,#00c4ff 364.5px)"></i>
<i style="background:linear-gradient(90deg,#00b5ff 0px,#008eff 32px,#006cff 59.5px,#0043ff 74.7px,#0009ff 86.9px,#0004ff 93px,#0014ff 99.1px,#004fff 111.3px,#0080ff 135.7px,#00abff 175.4px,#02fffd 218.1px,#00ffff 230.3px,#00ddff 239.4px,#005fff 257.7px,#0012ff 266.9px,#0001ff 269.9px,#0000f7 276px,#0001ff 279.1px,#002aff 285.2px,#00a3ff 300.4px,#00ecff 312.6px,#00ffff 318.7px,#02fffd 330.9px,#00bbff 364.5px)"></i>
<i style="background:linear-gradient(90deg,#00adff 0px,#0087ff 35.1px,#005eff 65.6px,#0038ff 77.8px,#000fff 86.9px,#000fff 96.1px,#0050ff 111.3px,#007eff 138.8px,#00a9ff 178.4px,#00f1ff 221.1px,#00ebff 230.3px,#00cdff 239.4px,#0063ff 257.7px,#001fff 266.9px,#0008ff 273px,#0010ff 279.1px,#004cff 288.2px,#00beff 306.5px,#00e4ff 315.7px,#00f2ff 324.8px,#00dcff 343.1px,#00b3ff 364.5px)"></i>
<i style="background:linear-gradient(90deg,#00a7ff 0px,#005dff 65.6px,#003aff 77.8px,#0014ff 86.9px,#0014ff 96.1px,#0050ff 111.3px,#0080ff 144.9px,#00acff 184.5px,#00e1ff 221.1px,#00d3ff 233.3px,#0096ff 248.6px,#0051ff 260.8px,#001bff 269.9px,#0014ff 276px,#0029ff 282.1px,#0086ff 297.4px,#00caff 312.6px,#00e0ff 324.8px,#00ceff 343.1px,#00abff 364.5px)"></i>
<i style="background:linear-gradient(90deg,#00a1ff 0px,#0057ff 68.6px,#003bff 77.8px,#0018ff 86.9px,#0018ff 96.1px,#0051ff 111.3px,#007fff 147.9px,#00aeff 190.6px,#00d2ff 221.1px,#00c4ff 233.3px,#0083ff 251.6px,#0023ff 269.9px,#001dff 276px,#002fff 282.1px,#0083ff 297.4px,#00c4ff 315.7px,#00d1ff 327.9px,#00a9ff 361.4px,#00a5ff 364.5px)"></i>
<i style="background:linear-gradient(90deg,#009bff 0px,#0057ff 68.6px,#002fff 80.8px,#0018ff 90px,#0024ff 99.1px,#0051ff 111.3px,#0084ff 157.1px,#00c4ff 218.1px,#00b7ff 233.3px,#0073ff 254.7px,#002aff 269.9px,#0024ff 276px,#0044ff 285.2px,#008aff 300.4px,#00bdff 318.7px,#00c2ff 334px,#009fff 364.5px)"></i>
<i style="background:linear-gradient(90deg,#0097ff 0px,#0056ff 68.6px,#001fff 86.9px,#001fff 96.1px,#0056ff 114.4px,#00b8ff 218.1px,#00acff 233.3px,#0070ff 254.7px,#002fff 269.9px,#002fff 279.1px,#0085ff 300.4px,#00b1ff 318.7px,#00b6ff 337px,#009aff 364.5px)"></i>
<i style="background:linear-gradient(90deg,#0093ff 0px,#0056ff 68.6px,#0021ff 86.9px,#0021ff 96.1px,#0056ff 114.4px,#00aeff 215px,#00a2ff 233.3px,#006eff 254.7px,#0034ff 269.9px,#0034ff 279.1px,#0080ff 300.4px,#00aaff 321.8px,#00a9ff 343.1px,#0096ff 364.5px)"></i>
<i style="background:linear-gradient(90deg,#0090ff 0px,#0055ff 68.6px,#0023ff 86.9px,#0023ff 96.1px,#0055ff 114.4px,#009eff 199.8px,#00a3ff 224.2px,#007cff 248.6px,#0038ff 269.9px,#0038ff 279.1px,#007cff 300.4px,#00a3ff 324.8px,#009cff 352.3px,#0092ff 364.5px)"></i>
<i style="background:linear-gradient(90deg,#008dff 0px,#0054ff 68.6px,#0025ff 86.9px,#0025ff 96.1px,#0058ff 117.4px,#0095ff 193.7px,#009cff 221.1px,#007eff 245.5px,#004bff 263.8px,#0039ff 273px,#0042ff 282.1px,#0078ff 300.4px,#009bff 324.8px,#0097ff 352.3px,#008fff 364.5px)"></i>
</div>
<div class="k" style="left:-0.5px;top:251px;width:1px;height:4px"></div>
<div class="k" style="left:0;top:-0.5px;width:4px;height:1px"></div>
<div class="k" style="left:60.5px;top:251px;width:1px;height:4px"></div>
<div class="k" style="left:0;top:42.0px;width:4px;height:1px"></div>
<div class="k" style="left:121.5px;top:251px;width:1px;height:4px"></div>
<div class="k" style="left:0;top:84.5px;width:4px;height:1px"></div>
<div class="k" style="left:182.5px;top:251px;width:1px;height:4px"></div>
<div class="k" style="left:0;top:127.0px;width:4px;height:1px"></div>
<div class="k" style="left:243.5px;top:251px;width:1px;height:4px"></div>
<div class="k" style="left:0;top:169.5px;width:4px;height:1px"></div>
<div class="k" style="left:304.5px;top:251px;width:1px;height:4px"></div>
<div class="k" style="left:0;top:212.0px;width:4px;height:1px"></div>
<div class="k" style="left:365.0px;top:251px;width:1px;height:4px"></div>
<div class="k" style="left:0;top:254.0px;width:4px;height:1px"></div>
</div>
<div class="t xt" style="left:263.4px;top:657px">-0.6</div>
<div class="t yt" style="left:217px;top:387.9px">0.6</div>
<div class="t xt" style="left:324.1px;top:657px">-0.4</div>
<div class="t yt" style="left:217px;top:430.1px">0.4</div>
<div class="t xt" style="left:384.7px;top:657px">-0.2</div>
<div class="t yt" style="left:217px;top:472.4px">0.2</div>
<div class="t xt" style="left:445.4px;top:657px">0</div>
<div class="t yt" style="left:217px;top:514.6px">0.0</div>
<div class="t xt" style="left:506.1px;top:657px">0.2</div>
<div class="t yt" style="left:217px;top:556.9px">-0.2</div>
<div class="t xt" style="left:566.8px;top:657px">0.4</div>
<div class="t yt" style="left:217px;top:599.1px">-0.4</div>
<div class="t xt" style="left:627.4px;top:657px">0.6</div>
<div class="t yt" style="left:217px;top:641.4px">-0.6</div>
<div class="xl" style="left:450.5px;top:671px">x (microns)</div>
<div class="yl" style="left:119.5px;top:520.5px">z (microns)</div>
<div class="ti" style="left:460.8px;top:360.4px">λ<sub>4</sub> = 2054 <b>nm</b></div>
<div class="lb" style="left:194.6px;top:369.8px">(d)</div>
<div class="p" style="left:704px;top:398px"><div class="g">
<i style="background:linear-gradient(90deg,#00b2ff 0px,#00d1ff 32px,#00c5ff 47.3px,#009eff 59.5px,#0015ff 80.8px,#0001ff 86.9px,#0001ff 96.1px,#0025ff 105.2px,#009eff 123.5px,#00c5ff 135.7px,#00d1ff 151px,#00afff 184.5px,#005cff 251.6px,#002fff 269.9px,#0033ff 282.1px,#0066ff 303.5px,#00aeff 364.5px)"></i>
<i style="background:linear-gradient(90deg,#00b9ff 0px,#00ddff 32px,#00d1ff 47.3px,#00b1ff 56.4px,#0060ff 68.6px,#0020ff 77.8px,#0005ff 83.9px,#0000f8 93px,#0005ff 99.1px,#0033ff 108.3px,#00a0ff 123.5px,#00c9ff 132.7px,#00ddff 144.9px,#00d0ff 166.2px,#0078ff 230.3px,#0056ff 254.7px,#002eff 269.9px,#0033ff 282.1px,#0067ff 303.5px,#00b0ff 361.4px,#00b4ff 364.5px)"></i>
<i style="background:linear-gradient(90deg,#00c1ff 0px,#00eaff 32px,#00e3ff 44.2px,#00c5ff 53.4px,#008cff 62.5px,#001aff 77.8px,#0000ff 83.9px,#0000f3 93px,#0000ff 99.1px,#002dff 108.3px,#00b5ff 126.6px,#00dcff 135.7px,#00ebff 147.9px,#00d5ff 169.3px,#0080ff 224.2px,#005fff 251.6px,#002dff 269.9px,#0032ff 282.1px,#0064ff 300.4px,#00a7ff 352.3px,#00bcff 364.5px)"></i>
<i style="background:linear-gradient(90deg,#00caff 0px,#00f8ff 32px,#00efff 44.2px,#00ccff 53.4px,#0070ff 65.6px,#0027ff 74.7px,#0005ff 80.8px,#0000ed 93px,#0005ff 102.2px,#003dff 111.3px,#00b9ff 126.6px,#00e7ff 135.7px,#00f9ff 147.9px,#00e5ff 166.2px,#0089ff 218.1px,#0059ff 254.7px,#002bff 269.9px,#002bff 279.1px,#0065ff 300.4px,#00a6ff 349.2px,#00c4ff 364.5px)"></i>
<i style="background:linear-gradient(90deg,#00d4ff 0px,#02fffd 25.9px,#08fff7 38.1px,#00fcff 44.2px,#00d2ff 53.4px,#006bff 65.6px,#001fff 74.7px,#0000fc 80.8px,#0000e5 90px,#0000f1 99.1px,#0000fc 102.2px,#001fff 108.3px,#00d2ff 129.6px,#00fcff 138.8px,#08fff7 151px,#00f7ff 163.2px,#008cff 218.1px,#005aff 254.7px,#0029ff 269.9px,#0029ff 279.1px,#0061ff 297.4px,#00a6ff 346.2px,#00cdff 364.5px)"></i>
<i style="background:linear-gradient(90deg,#00dfff 0px,#05fffa 19.8px,#18ffe7 35.1px,#0afff5 44.2px,#00fdff 47.3px,#00bfff 56.4px,#002eff 71.7px,#0003ff 77.8px,#0000df 86.9px,#0000df 96.1px,#0003ff 105.2px,#0049ff 114.4px,#00d7ff 129.6px,#00fdff 135.7px,#16ffe9 144.9px,#11ffee 157.1px,#00f7ff 169.3px,#008eff 218.1px,#005cff 254.7px,#0027ff 269.9px,#0027ff 279.1px,#0062ff 297.4px,#009eff 340.1px,#00d7ff 364.5px)"></i>
<i style="background:linear-gradient(90deg,#00ebff 0px,#02fffd 10.7px,#28ffd7 32px,#20ffdf 41.2px,#08fff7 47.3px,#00f4ff 50.3px,#00a2ff 59.5px,#0025ff 71.7px,#000dff 74.7px,#0000f3 77.8px,#0000db 80.8px,#0000c4 86.9px,#0000c4 96.1px,#0000db 102.2px,#0000f3 105.2px,#000cff 108.3px,#0061ff 117.4px,#00dcff 129.6px,#00f4ff 132.7px,#08fff7 135.7px,#26ffd9 144.9px,#21ffde 157.1px,#00fbff 175.4px,#0091ff 218.1px,#005cff 254.7px,#0024ff 269.9px,#0024ff 279.1px,#0063ff 297.4px,#00a4ff 340.1px,#00e3ff 364.5px)"></i>
<i style="background:linear-gradient(90deg,#00f9ff 0px,#20ffdf 16.8px,#39ffc6 32px,#30ffcf 41.2px,#16ffe9 47.3px,#01fffe 50.3px,#00a5ff 59.5px,#005eff 65.6px,#005eff 67.1px,#0012ff 67.1px,#0000e2 71.7px,#0000bd 74.7px,#0000b3 77.8px,#0000b3 105.2px,#0000bd 108.3px,#0000e2 111.3px,#0012ff 114.4px,#0012ff 115.9px,#005eff 115.9px,#00e5ff 129.6px,#00ffff 132.7px,#25ffda 138.8px,#3affc5 147.9px,#25ffda 163.2px,#00f9ff 181.5px,#0095ff 218.1px,#005dff 254.7px,#0021ff 269.9px,#0021ff 279.1px,#005dff 294.3px,#00a3ff 337px,#00f0ff 364.5px)"></i>
<i style="background:linear-gradient(90deg,#09fff6 0px,#3affc5 19.8px,#4effb1 35.1px,#39ffc6 44.2px,#11ffee 50.3px,#00f4ff 53.4px,#00d3ff 56.4px,#009eff 59.5px,#009eff 61px,#001eff 61px,#0000c9 65.6px,#0000b3 68.6px,#0000b3 114.4px,#0000c9 117.4px,#001eff 120.5px,#001eff 122px,#009eff 122px,#00d2ff 126.6px,#00f4ff 129.6px,#11ffee 132.7px,#39ffc6 138.8px,#4effb1 147.9px,#2dffd2 169.3px,#00feff 184.5px,#0093ff 221.1px,#005dff 254.7px,#001dff 269.9px,#001dff 279.1px,#005dff 294.3px,#00a2ff 334px,#00fdff 364.5px)"></i>
<i style="background:linear-gradient(90deg,#19ffe6 0px,#51ffae 19.8px,#63ff9c 35.1px,#4effb1 44.2px,#23ffdc 50.3px,#00efff 53.4px,#00efff 54.9px,#0049ff 54.9px,#0049ff 57.9px,#0000c3 57.9px,#0000b3 62.5px,#0000b3 120.5px,#0000c3 123.5px,#0000c3 125px,#0049ff 125px,#0049ff 128.1px,#00efff 128.1px,#23ffdc 132.7px,#4effb1 138.8px,#63ff9c 147.9px,#4bffb4 166.2px,#03fffc 187.6px,#0092ff 224.2px,#0053ff 257.7px,#0019ff 269.9px,#0013ff 276px,#0025ff 282.1px,#0053ff 291.3px,#00a9ff 334px,#02fffd 361.4px,#0dfff2 364.5px)"></i>
<i style="background:linear-gradient(90deg,#2affd5 0px,#6bff94 19.8px,#79ff86 35.1px,#70ff8f 41.2px,#50ffaf 47.3px,#50ffaf 48.8px,#00d4ff 48.8px,#00d4ff 51.8px,#0000df 51.8px,#0000b3 56.4px,#0000b3 126.6px,#0000df 129.6px,#0000df 131.2px,#00d4ff 131.2px,#00d4ff 134.2px,#50ffaf 134.2px,#70ff8f 141.8px,#77ff88 151px,#6bff94 163.2px,#1effe1 184.5px,#00f9ff 193.7px,#0097ff 224.2px,#0052ff 257.7px,#0013ff 269.9px,#000dff 276px,#0021ff 282.1px,#0052ff 291.3px,#00a8ff 330.9px,#05fffa 358.4px,#1effe1 364.5px)"></i>
<i style="background:linear-gradient(90deg,#3dffc2 0px,#86ff79 19.8px,#94ff6b 29px,#87ff78 41.2px,#7aff85 44.2px,#7aff85 45.8px,#008bff 45.8px,#008bff 48.8px,#0000b3 48.8px,#0000b3 132.7px,#0000b3 134.2px,#008bff 134.2px,#008bff 137.2px,#7aff85 137.2px,#8eff71 144.9px,#93ff6c 157.1px,#72ff8d 169.3px,#00fbff 196.7px,#0095ff 227.2px,#004fff 257.7px,#000cff 269.9px,#0005ff 276px,#001bff 282.1px,#004fff 291.3px,#00b0ff 330.9px,#00faff 352.3px,#2fffd0 364.5px)"></i>
<i style="background:linear-gradient(90deg,#52ffad 0px,#a4ff5b 19.8px,#b6ff49 29px,#9fff60 41.2px,#9fff60 42.7px,#0066ff 42.7px,#0066ff 45.8px,#0000b3 45.8px,#0000b3 135.7px,#0000b3 137.2px,#0066ff 137.2px,#0066ff 140.3px,#9fff60 140.3px,#b6ff49 154px,#a4ff5b 163.2px,#00fcff 199.8px,#0094ff 230.3px,#0057ff 254.7px,#0028ff 263.8px,#0002ff 269.9px,#0000f9 276px,#0002ff 279.1px,#004bff 291.3px,#0087ff 312.6px,#00c4ff 334px,#00fbff 349.2px,#42ffbd 364.5px)"></i>
<i style="background:linear-gradient(90deg,#67ff98 0px,#c4ff3b 19.8px,#dbff24 29px,#d4ff2b 35.1px,#c7ff38 38.1px,#c7ff38 39.6px,#0074ff 39.6px,#0074ff 42.7px,#0000b3 42.7px,#0000b3 138.8px,#0000b3 140.3px,#0074ff 140.3px,#0074ff 143.3px,#c7ff38 143.3px,#daff25 151px,#cfff30 160.1px,#89ff76 175.4px,#0bfff4 199.8px,#00fdff 202.8px,#0093ff 233.3px,#005fff 251.6px,#0033ff 260.8px,#0005ff 266.9px,#0000ea 273px,#0000f2 279.1px,#0005ff 282.1px,#0045ff 291.3px,#0085ff 309.6px,#00cfff 334px,#00fdff 346.2px,#56ffa9 364.5px)"></i>
<i style="background:linear-gradient(90deg,#7eff81 0px,#e7ff18 19.8px,#fdff02 25.9px,#feff01 35.1px,#feff01 36.6px,#0088ff 36.6px,#0088ff 39.6px,#0000b3 39.6px,#0000b3 141.8px,#0000b3 143.3px,#0088ff 143.3px,#0088ff 146.4px,#feff01 146.4px,#fdff02 157.1px,#c8ff37 169.3px,#29ffd6 196.7px,#00feff 205.9px,#008cff 239.4px,#0050ff 254.7px,#000fff 263.8px,#0000f5 266.9px,#0000e2 269.9px,#0000d9 276px,#0000e2 279.1px,#0000f5 282.1px,#000fff 285.2px,#0050ff 294.3px,#008cff 309.6px,#00feff 343.1px,#59ffa6 361.4px,#6bff94 364.5px)"></i>
<i style="background:linear-gradient(90deg,#96ff69 0px,#faff05 16.8px,#ffd000 29px,#ffce00 32px,#ffce00 33.5px,#00eeff 33.5px,#00eeff 36.6px,#0000b3 36.6px,#0000bd 99.1px,#0000b3 144.9px,#0000b3 146.4px,#00eeff 146.4px,#00eeff 149.4px,#ffcd00 149.4px,#ffe300 160.1px,#fbff04 166.2px,#3affc5 196.7px,#01fffe 208.9px,#0070ff 248.6px,#0037ff 257.7px,#0000ff 263.8px,#0000cf 269.9px,#0000c6 276px,#0000cf 279.1px,#0000ff 285.2px,#004dff 294.3px,#008aff 306.5px,#01fffe 340.1px,#5cffa3 358.4px,#82ff7d 364.5px)"></i>
<i style="background:linear-gradient(90deg,#afff50 0px,#f3ff0c 10.7px,#fff500 13.7px,#ffab00 25.9px,#ffa200 29px,#ffa200 30.5px,#b3ff4c 30.5px,#b3ff4c 33.5px,#0000b3 33.5px,#0000ba 71.7px,#0000d1 93px,#0000b5 120.5px,#0000b3 147.9px,#0000b3 149.4px,#b3ff4c 149.4px,#b3ff4c 152.5px,#ffa100 152.5px,#ffcb00 163.2px,#fff400 169.3px,#f4ff0b 172.3px,#5effa1 193.7px,#05fffa 212px,#00aeff 236.4px,#0077ff 248.6px,#002fff 257.7px,#000fff 260.8px,#0000ec 263.8px,#0000bb 269.9px,#0000b2 276px,#0000bb 279.1px,#0000ec 285.2px,#000fff 288.2px,#0062ff 297.4px,#0095ff 306.5px,#00f8ff 334px,#10ffef 340.1px,#5effa1 355.3px,#99ff66 364.5px)"></i>
<i style="background:linear-gradient(90deg,#caff35 0px,#fbff04 7.6px,#ff8e00 22.9px,#ff7d00 25.9px,#ff9f00 29px,#ff9f00 30.5px,#000eff 30.5px,#000eff 33.5px,#0000b3 33.5px,#0000ba 65.6px,#0000d8 77.8px,#0000fa 90px,#0000ee 99.1px,#0000be 114.4px,#0000b3 138.8px,#0000b3 147.9px,#0000b3 149.4px,#000eff 149.4px,#000eff 152.5px,#ff9f00 152.5px,#ff7d00 157.1px,#ffd100 169.3px,#fbff04 175.4px,#72ff8d 193.7px,#22ffdd 208.9px,#00ffff 218.1px,#00c4ff 236.4px,#0081ff 248.6px,#0026ff 257.7px,#0000f7 260.8px,#0000cb 263.8px,#0000b7 266.9px,#0000b1 279.1px,#0000b7 282.1px,#0000cb 285.2px,#0000f7 288.2px,#0049ff 294.3px,#0095ff 303.5px,#00d0ff 315.7px,#00feff 330.9px,#3dffc2 346.2px,#9bff64 361.4px,#b2ff4d 364.5px)"></i>
<i style="background:linear-gradient(90deg,#e5ff1a 0px,#ffff00 4.6px,#ff6000 22.9px,#ff4c00 25.9px,#ff4c00 27.4px,#37ffc8 27.4px,#37ffc8 30.5px,#0000b3 30.5px,#0000bb 62.5px,#0000da 71.7px,#0004ff 77.8px,#0036ff 86.9px,#003cff 93px,#002aff 99.1px,#0004ff 105.2px,#0000cc 114.4px,#0000b7 123.5px,#0000b3 151px,#0000b3 152.5px,#37ffc8 152.5px,#37ffc8 155.5px,#ff4c00 155.5px,#ffac00 169.3px,#fffe00 178.4px,#87ff78 193.7px,#33ffcc 208.9px,#03fffc 224.2px,#00e0ff 236.4px,#0090ff 248.6px,#0071ff 251.6px,#0039ff 254.7px,#0000dd 257.7px,#0000b3 260.8px,#0000b3 288.2px,#0000dd 291.3px,#0039ff 294.3px,#0071ff 297.4px,#00a8ff 303.5px,#00e0ff 312.6px,#02fffd 324.8px,#33ffcc 340.1px,#87ff78 355.3px,#cbff34 364.5px)"></i>
<i style="background:linear-gradient(90deg,#fffe00 0px,#ff3100 22.9px,#ff4e00 25.9px,#ff4e00 27.4px,#0000e5 27.4px,#0000b3 32px,#0000bb 59.5px,#0000d1 65.6px,#0004ff 71.7px,#005aff 80.8px,#0074ff 86.9px,#0074ff 96.1px,#005aff 102.2px,#0004ff 111.3px,#0000d1 117.4px,#0000bb 123.5px,#0000b3 151px,#0000e5 154px,#0000e5 155.5px,#ff4e00 155.5px,#ff3100 160.1px,#fffd00 181.5px,#88ff77 196.7px,#46ffb9 208.9px,#1bffe4 224.2px,#04fffb 236.4px,#00f5ff 239.4px,#00c4ff 245.5px,#00a6ff 248.6px,#00a6ff 250.1px,#001aff 250.1px,#001aff 253.1px,#0000b3 253.1px,#0000b3 294.3px,#0000b3 295.8px,#001aff 295.8px,#001aff 298.9px,#00a6ff 298.9px,#00e0ff 306.5px,#00f5ff 309.6px,#0cfff3 315.7px,#2fffd0 334px,#63ff9c 346.2px,#b2ff4d 358.4px,#e4ff1b 364.5px)"></i>
<i style="background:linear-gradient(90deg,#ffe300 0px,#ff0100 22.9px,#ff0100 24.4px,#61ff9e 24.4px,#61ff9e 27.4px,#0000b3 27.4px,#0000bb 56.4px,#0000d3 62.5px,#0000ee 65.6px,#0013ff 68.6px,#005fff 74.7px,#0087ff 80.8px,#0096ff 90px,#0090ff 99.1px,#0078ff 105.2px,#005fff 108.3px,#0013ff 114.4px,#0000ee 117.4px,#0000d3 120.5px,#0000bb 126.6px,#0000b3 154px,#0000b3 155.5px,#61ff9e 155.5px,#61ff9e 158.6px,#ff0100 158.6px,#ffff00 184.5px,#9cff63 196.7px,#59ffa6 208.9px,#38ffc7 221.1px,#2effd1 236.4px,#11ffee 242.5px,#00f0ff 245.5px,#00f0ff 247px,#001bff 247px,#001bff 250.1px,#0000b3 250.1px,#0000b3 297.4px,#0000b3 298.9px,#001bff 298.9px,#001bff 301.9px,#00f0ff 301.9px,#11ffee 306.5px,#2effd1 312.6px,#3cffc3 330.9px,#66ff99 343.1px,#b1ff4e 355.3px,#feff01 364.5px)"></i>
<i style="background:linear-gradient(90deg,#ffc900 0px,#ff1900 16.8px,#f40000 19.8px,#d20000 22.9px,#d20000 24.4px,#0023ff 24.4px,#0023ff 27.4px,#0000b3 27.4px,#0000ba 53.4px,#0000d1 59.5px,#0000ee 62.5px,#0019ff 65.6px,#006fff 71.7px,#0087ff 74.7px,#009bff 80.8px,#009eff 99.1px,#0095ff 105.2px,#0087ff 108.3px,#006fff 111.3px,#0019ff 117.4px,#0000ee 120.5px,#0000d1 123.5px,#0000ba 129.6px,#0000b3 154px,#0000b3 155.5px,#0023ff 155.5px,#0023ff 158.6px,#d10000 158.6px,#f30000 163.2px,#ff1800 166.2px,#ffc800 181.5px,#faff05 187.6px,#9bff64 199.8px,#61ff9e 212px,#51ffae 221.1px,#5fffa0 236.4px,#5cffa3 239.4px,#4dffb2 242.5px,#4dffb2 244px,#003fff 244px,#003fff 247px,#0000b3 247px,#0000b3 300.4px,#0000b3 301.9px,#003fff 301.9px,#003fff 305px,#4dffb2 305px,#5cffa3 309.6px,#58ffa7 318.7px,#53ffac 330.9px,#6bff94 340.1px,#afff50 352.3px,#f9ff06 361.4px,#ffe800 364.5px)"></i>
<i style="background:linear-gradient(90deg,#ffb000 0px,#ff1b00 13.7px,#f20000 16.8px,#ca0000 19.8px,#ca0000 21.3px,#ffce00 21.3px,#ffce00 24.4px,#0000b3 24.4px,#0000b8 50.3px,#0000cc 56.4px,#0000e6 59.5px,#0013ff 62.5px,#0074ff 68.6px,#008dff 71.7px,#009fff 77.8px,#009fff 105.2px,#008dff 111.3px,#0074ff 114.4px,#0013ff 120.5px,#0000e6 123.5px,#0000cc 126.6px,#0000b8 132.7px,#0000b3 157.1px,#0000b3 158.6px,#ffcd00 158.6px,#ffcd00 161.6px,#ca0000 161.6px,#f10000 166.2px,#ff1a00 169.3px,#ffaf00 181.5px,#ffef00 187.6px,#f3ff0c 190.6px,#adff52 199.8px,#7eff81 208.9px,#6aff95 218.1px,#76ff89 227.2px,#9cff63 239.4px,#9cff63 240.9px,#00a2ff 240.9px,#00a2ff 244px,#0000b3 244px,#0000b6 288.2px,#0000b3 303.5px,#0000b3 305px,#00a2ff 305px,#00a2ff 308px,#9cff63 308px,#6aff95 327.9px,#74ff8b 337px,#9aff65 346.2px,#d8ff27 355.3px,#f2ff0d 358.4px,#fff000 361.4px,#ffd100 364.5px)"></i>
<i style="background:linear-gradient(90deg,#ff9900 0px,#f90000 13.7px,#a30000 19.8px,#a30000 21.3px,#58ffa7 21.3px,#58ffa7 24.4px,#0000b3 24.4px,#0000ba 50.3px,#0000c5 53.4px,#0000da 56.4px,#0004ff 59.5px,#006fff 65.6px,#008dff 68.6px,#00a0ff 74.7px,#00a0ff 108.3px,#008dff 114.4px,#006fff 117.4px,#0004ff 123.5px,#0000da 126.6px,#0000c5 129.6px,#0000b4 138.8px,#0000b3 157.1px,#0000b3 158.6px,#59ffa6 158.6px,#59ffa6 161.6px,#a30000 161.6px,#f90000 169.3px,#ffbb00 184.5px,#fff900 190.6px,#abff54 202.8px,#86ff79 212px,#83ff7c 221.1px,#aaff55 230.3px,#d3ff2c 236.4px,#99ff66 239.4px,#99ff66 240.9px,#0000b3 240.9px,#0000bf 279.1px,#0000b3 306.5px,#0000b3 308px,#99ff66 308px,#d3ff2c 312.6px,#98ff67 321.8px,#7fff80 330.9px,#8fff70 340.1px,#bdff42 349.2px,#fff900 358.4px,#ffbc00 364.5px)"></i>
<i style="background:linear-gradient(90deg,#ff8500 0px,#ff0b00 10.7px,#dd0000 13.7px,#870000 19.8px,#870000 21.3px,#002dff 21.3px,#002dff 24.4px,#0000b3 24.4px,#0000b7 47.3px,#0000cd 53.4px,#0000ee 56.4px,#0024ff 59.5px,#005fff 62.5px,#0087ff 65.6px,#009aff 68.6px,#00a3ff 83.9px,#00a0ff 111.3px,#009aff 114.4px,#0087ff 117.4px,#005fff 120.5px,#0024ff 123.5px,#0000ee 126.6px,#0000cd 129.6px,#0000b7 135.7px,#0000b3 157.1px,#0000b3 158.6px,#002dff 158.6px,#002dff 161.6px,#860000 161.6px,#dc0000 169.3px,#ff0a00 172.3px,#ffa900 184.5px,#ffe800 190.6px,#faff05 193.7px,#b9ff46 202.8px,#97ff68 212px,#94ff6b 218.1px,#a8ff57 224.2px,#d4ff2b 230.3px,#f1ff0e 233.3px,#ffee00 236.4px,#ffee00 237.9px,#009bff 237.9px,#009bff 240.9px,#0000b3 240.9px,#0000c6 266.9px,#0000c6 282.1px,#0000b3 306.5px,#0000b3 308px,#009bff 308px,#009bff 311.1px,#ffee00 311.1px,#f1ff0e 315.7px,#bbff44 321.8px,#9bff64 327.9px,#93ff6c 334px,#aaff55 343.1px,#e1ff1e 352.3px,#f9ff06 355.3px,#ffcb00 361.4px,#ffaa00 364.5px)"></i>
<i style="background:linear-gradient(90deg,#ff7500 0px,#ff2200 7.6px,#f30000 10.7px,#940000 16.8px,#bc0000 19.8px,#bc0000 21.3px,#0000b3 21.3px,#0000b9 47.3px,#0000c2 50.3px,#0000d8 53.4px,#0004ff 56.4px,#0078ff 62.5px,#0095ff 65.6px,#00a2ff 71.7px,#009fff 114.4px,#0095ff 117.4px,#0078ff 120.5px,#0004ff 126.6px,#0000d8 129.6px,#0000c2 132.7px,#0000b4 141.8px,#0000b3 160.1px,#0000b3 161.6px,#bc0000 161.6px,#930000 166.2px,#f30000 172.3px,#ff2100 175.4px,#ff9900 184.5px,#fff700 193.7px,#d8ff27 199.8px,#acff53 208.9px,#a3ff5c 215px,#b1ff4e 221.1px,#dbff24 227.2px,#fbff04 230.3px,#ffdc00 233.3px,#f5ff0a 236.4px,#f5ff0a 237.9px,#0000b3 237.9px,#0000bf 257.7px,#0000d4 273px,#0000c4 288.2px,#0000b4 306.5px,#0000b3 309.6px,#0000b3 311.1px,#f5ff0a 311.1px,#ffdc00 315.7px,#fbff04 318.7px,#c2ff3d 324.8px,#a6ff59 330.9px,#a5ff5a 337px,#c5ff3a 346.2px,#fff800 355.3px,#ff9a00 364.5px)"></i>
<i style="background:linear-gradient(90deg,#ff6700 0px,#ff1100 7.6px,#e10000 10.7px,#850000 16.8px,#850000 18.3px,#ff7300 18.3px,#ff7300 21.3px,#0000b3 21.3px,#0000bb 47.3px,#0000c7 50.3px,#0000e3 53.4px,#0019ff 56.4px,#005aff 59.5px,#0087ff 62.5px,#009bff 65.6px,#00a3ff 83.9px,#00a1ff 114.4px,#009bff 117.4px,#0087ff 120.5px,#005aff 123.5px,#0019ff 126.6px,#0000e3 129.6px,#0000c7 132.7px,#0000b6 138.8px,#0000b3 160.1px,#0000b3 161.6px,#ff7300 161.6px,#ff7300 164.7px,#850000 164.7px,#e00000 172.3px,#ff1000 175.4px,#ff8c00 184.5px,#ffec00 193.7px,#f8ff07 196.7px,#c1ff3e 205.9px,#b1ff4e 212px,#b7ff48 218.1px,#d9ff26 224.2px,#f7ff08 227.2px,#ffdf00 230.3px,#ffb000 233.3px,#ffb000 234.8px,#41ffbe 234.8px,#41ffbe 237.9px,#0000b3 237.9px,#0000be 254.7px,#0000d8 269.9px,#0000d2 285.2px,#0000b7 300.4px,#0000b3 309.6px,#0000b3 311.1px,#41ffbe 311.1px,#41ffbe 314.1px,#ffb000 314.1px,#ffdf00 318.7px,#f7ff08 321.8px,#c3ff3c 327.9px,#b0ff4f 334px,#b6ff49 340.1px,#e2ff1d 349.2px,#f7ff08 352.3px,#ffed00 355.3px,#ff8d00 364.5px)"></i>
<i style="background:linear-gradient(90deg,#ff5c00 0px,#ff0400 7.6px,#a00000 13.7px,#800000 16.8px,#800000 18.3px,#ffec00 18.3px,#ffec00 21.3px,#0000b3 21.3px,#0000b7 44.2px,#0000cc 50.3px,#0000ee 53.4px,#002aff 56.4px,#006aff 59.5px,#0090ff 62.5px,#009eff 65.6px,#009eff 117.4px,#0090ff 120.5px,#006aff 123.5px,#002aff 126.6px,#0000ee 129.6px,#0000cc 132.7px,#0000b7 138.8px,#0000b3 160.1px,#0000b3 161.6px,#ffec00 161.6px,#ffec00 164.7px,#800000 164.7px,#a00000 169.3px,#ff0400 175.4px,#ff8300 184.5px,#ffe400 193.7px,#fffe00 196.7px,#c9ff36 205.9px,#baff45 212px,#c3ff3c 218.1px,#ecff13 224.2px,#ffef00 227.2px,#ff8b00 233.3px,#ff8b00 234.8px,#009bff 234.8px,#009bff 237.9px,#0000b4 237.9px,#0000c1 254.7px,#0000da 266.9px,#0000d7 285.2px,#0000b8 300.4px,#0000b4 309.6px,#0000b4 311.1px,#009bff 311.1px,#009bff 314.1px,#ff8c00 314.1px,#fff000 321.8px,#ebff14 324.8px,#c3ff3c 330.9px,#baff45 337px,#d7ff28 346.2px,#ffff00 352.3px,#ffa800 361.4px,#ff8400 364.5px)"></i>
<i style="background:linear-gradient(90deg,#ff5500 0px,#fb0000 7.6px,#960000 13.7px,#800000 16.8px,#800000 18.3px,#99ff66 18.3px,#99ff66 21.3px,#0000b3 21.3px,#0000b7 44.2px,#0000be 47.3px,#0000cf 50.3px,#0000f6 53.4px,#0074ff 59.5px,#0095ff 62.5px,#00a3ff 68.6px,#00a0ff 117.4px,#0095ff 120.5px,#0074ff 123.5px,#0000f6 129.6px,#0000cf 132.7px,#0000be 135.7px,#0000b3 151px,#0000b3 160.1px,#0000b3 161.6px,#99ff66 161.6px,#99ff66 164.7px,#800000 164.7px,#950000 169.3px,#fa0000 175.4px,#ffa100 187.6px,#fff900 196.7px,#cfff30 205.9px,#c1ff3e 212px,#ccff33 218.1px,#f9ff06 224.2px,#ffdf00 227.2px,#ffad00 230.3px,#ff7100 233.3px,#ff7100 234.8px,#0073ff 234.8px,#0073ff 237.9px,#0000b4 237.9px,#0000bd 251.6px,#0000d9 263.8px,#0000d5 288.2px,#0000b9 300.4px,#0000b4 309.6px,#0000b4 311.1px,#0073ff 311.1px,#0073ff 314.1px,#ff7200 314.1px,#ffae00 318.7px,#ffdf00 321.8px,#f8ff07 324.8px,#cbff34 330.9px,#c0ff3f 337px,#ceff31 343.1px,#fffa00 352.3px,#ffa200 361.4px,#ff7d00 364.5px)"></i>
<i style="background:linear-gradient(90deg,#ff5200 0px,#f70000 7.6px,#910000 13.7px,#800000 16.8px,#800000 18.3px,#99ff66 18.3px,#99ff66 21.3px,#0000b3 21.3px,#0000b7 44.2px,#0000bf 47.3px,#0000d1 50.3px,#0000fa 53.4px,#0078ff 59.5px,#0096ff 62.5px,#00a3ff 68.6px,#00a0ff 117.4px,#0096ff 120.5px,#0078ff 123.5px,#0000fa 129.6px,#0000d1 132.7px,#0000bf 135.7px,#0000b3 147.9px,#0000b3 160.1px,#0000b3 161.6px,#99ff66 161.6px,#99ff66 164.7px,#800000 164.7px,#910000 169.3px,#f60000 175.4px,#ff5100 181.5px,#ffbf00 190.6px,#fff600 196.7px,#dfff20 202.8px,#c8ff37 208.9px,#c6ff39 215px,#e3ff1c 221.1px,#ffff00 224.2px,#ffd700 227.2px,#ff6500 233.3px,#ff6500 234.8px,#0000e3 234.8px,#0000b4 239.4px,#0000be 251.6px,#0000da 263.8px,#0000d7 288.2px,#0000b6 303.5px,#0000b4 309.6px,#0000e3 312.6px,#0000e3 314.1px,#ff6500 314.1px,#ffd700 321.8px,#ffff00 324.8px,#e2ff1d 327.9px,#c6ff39 334px,#c7ff38 340.1px,#f1ff0e 349.2px,#fff700 352.3px,#ff9f00 361.4px,#ff7a00 364.5px)"></i>
<i style="background:linear-gradient(90deg,#ff5200 0px,#f70000 7.6px,#910000 13.7px,#800000 16.8px,#800000 18.3px,#99ff66 18.3px,#99ff66 21.3px,#0000b3 21.3px,#0000b7 44.2px,#0000bf 47.3px,#0000d1 50.3px,#0000fa 53.4px,#0078ff 59.5px,#0096ff 62.5px,#00a3ff 68.6px,#00a0ff 117.4px,#0096ff 120.5px,#0078ff 123.5px,#0000fa 129.6px,#0000d1 132.7px,#0000bf 135.7px,#0000b3 147.9px,#0000b3 160.1px,#0000b3 161.6px,#99ff66 161.6px,#99ff66 164.7px,#800000 164.7px,#910000 169.3px,#f60000 175.4px,#ff5100 181.5px,#ffbf00 190.6px,#fff600 196.7px,#dfff20 202.8px,#c8ff37 208.9px,#c6ff39 215px,#e3ff1c 221.1px,#ffff00 224.2px,#ffd700 227.2px,#ff6500 233.3px,#ff6500 234.8px,#0000e3 234.8px,#0000b4 239.4px,#0000be 251.6px,#0000da 263.8px,#0000d7 288.2px,#0000b6 303.5px,#0000b4 309.6px,#0000e3 312.6px,#0000e3 314.1px,#ff6500 314.1px,#ffd700 321.8px,#ffff00 324.8px,#e2ff1d 327.9px,#c6ff39 334px,#c7ff38 340.1px,#f1ff0e 349.2px,#fff700 352.3px,#ff9f00 361.4px,#ff7a00 364.5px)"></i>
<i style="background:linear-gradient(90deg,#ff5500 0px,#fb0000 7.6px,#960000 13.7px,#800000 16.8px,#800000 18.3px,#99ff66 18.3px,#99ff66 21.3px,#0000b3 21.3px,#0000b7 44.2px,#0000be 47.3px,#0000cf 50.3px,#0000f6 53.4px,#0074ff 59.5px,#0095ff 62.5px,#00a3ff 68.6px,#00a0ff 117.4px,#0095ff 120.5px,#0074ff 123.5px,#0000f6 129.6px,#0000cf 132.7px,#0000be 135.7px,#0000b3 151px,#0000b3 160.1px,#0000b3 161.6px,#99ff66 161.6px,#99ff66 164.7px,#800000 164.7px,#950000 169.3px,#fa0000 175.4px,#ffa100 187.6px,#fff900 196.7px,#cfff30 205.9px,#c1ff3e 212px,#ccff33 218.1px,#f9ff06 224.2px,#ffdf00 227.2px,#ffad00 230.3px,#ff7100 233.3px,#ff7100 234.8px,#0073ff 234.8px,#0073ff 237.9px,#0000b4 237.9px,#0000bd 251.6px,#0000d9 263.8px,#0000d5 288.2px,#0000b9 300.4px,#0000b4 309.6px,#0000b4 311.1px,#0073ff 311.1px,#0073ff 314.1px,#ff7200 314.1px,#ffae00 318.7px,#ffe000 321.8px,#f8ff07 324.8px,#cbff34 330.9px,#c0ff3f 337px,#ceff31 343.1px,#fffa00 352.3px,#ffa200 361.4px,#ff7d00 364.5px)"></i>
<i style="background:linear-gradient(90deg,#ff5c00 0px,#ff0500 7.6px,#a00000 13.7px,#800000 16.8px,#800000 18.3px,#ffec00 18.3px,#ffec00 21.3px,#0000b3 21.3px,#0000b7 44.2px,#0000cc 50.3px,#0000ee 53.4px,#002aff 56.4px,#006aff 59.5px,#0090ff 62.5px,#009eff 65.6px,#009eff 117.4px,#0090ff 120.5px,#006aff 123.5px,#002aff 126.6px,#0000ee 129.6px,#0000cc 132.7px,#0000b7 138.8px,#0000b3 160.1px,#0000b3 161.6px,#ffec00 161.6px,#ffec00 164.7px,#800000 164.7px,#a00000 169.3px,#ff0400 175.4px,#ff8300 184.5px,#ffe400 193.7px,#fffe00 196.7px,#c9ff36 205.9px,#baff45 212px,#c3ff3c 218.1px,#ecff13 224.2px,#ffef00 227.2px,#ff8b00 233.3px,#ff8b00 234.8px,#009bff 234.8px,#009bff 237.9px,#0000b4 237.9px,#0000c1 254.7px,#0000da 266.9px,#0000d7 285.2px,#0000b8 300.4px,#0000b4 309.6px,#0000b4 311.1px,#009bff 311.1px,#009bff 314.1px,#ff8c00 314.1px,#fff000 321.8px,#ebff14 324.8px,#c3ff3c 330.9px,#baff45 337px,#d7ff28 346.2px,#ffff00 352.3px,#ffa800 361.4px,#ff8400 364.5px)"></i>
<i style="background:linear-gradient(90deg,#ff6700 0px,#ff1100 7.6px,#e10000 10.7px,#850000 16.8px,#850000 18.3px,#ff7300 18.3px,#ff7300 21.3px,#0000b3 21.3px,#0000bb 47.3px,#0000c7 50.3px,#0000e3 53.4px,#0019ff 56.4px,#005aff 59.5px,#0087ff 62.5px,#009bff 65.6px,#00a3ff 83.9px,#00a1ff 114.4px,#009bff 117.4px,#0087ff 120.5px,#005aff 123.5px,#0019ff 126.6px,#0000e3 129.6px,#0000c7 132.7px,#0000b6 138.8px,#0000b3 160.1px,#0000b3 161.6px,#ff7300 161.6px,#ff7300 164.7px,#850000 164.7px,#e00000 172.3px,#ff1000 175.4px,#ff8d00 184.5px,#ffec00 193.7px,#f8ff07 196.7px,#c1ff3e 205.9px,#b1ff4e 212px,#b7ff48 218.1px,#d9ff26 224.2px,#f7ff08 227.2px,#ffdf00 230.3px,#ffb000 233.3px,#ffb000 234.8px,#41ffbe 234.8px,#41ffbe 237.9px,#0000b3 237.9px,#0000be 254.7px,#0000d8 269.9px,#0000d2 285.2px,#0000b7 300.4px,#0000b3 309.6px,#0000b3 311.1px,#40ffbf 311.1px,#40ffbf 314.1px,#ffb000 314.1px,#ffe000 318.7px,#f7ff08 321.8px,#c3ff3c 327.9px,#b0ff4f 334px,#b6ff49 340.1px,#e1ff1e 349.2px,#f7ff08 352.3px,#ffed00 355.3px,#ff8e00 364.5px)"></i>
<i style="background:linear-gradient(90deg,#ff7500 0px,#ff2200 7.6px,#f40000 10.7px,#940000 16.8px,#bc0000 19.8px,#bc0000 21.3px,#0000b3 21.3px,#0000b9 47.3px,#0000c2 50.3px,#0000d8 53.4px,#0004ff 56.4px,#0078ff 62.5px,#0095ff 65.6px,#00a2ff 71.7px,#009fff 114.4px,#0095ff 117.4px,#0078ff 120.5px,#0004ff 126.6px,#0000d8 129.6px,#0000c2 132.7px,#0000b4 141.8px,#0000b3 160.1px,#0000b3 161.6px,#bc0000 161.6px,#940000 166.2px,#f30000 172.3px,#ff2100 175.4px,#ff9900 184.5px,#fff700 193.7px,#d8ff27 199.8px,#acff53 208.9px,#a3ff5c 215px,#b1ff4e 221.1px,#dbff24 227.2px,#fbff04 230.3px,#ffdc00 233.3px,#f5ff0a 236.4px,#f5ff0a 237.9px,#0000b3 237.9px,#0000bf 257.7px,#0000d4 273px,#0000c4 288.2px,#0000b4 306.5px,#0000b3 309.6px,#0000b3 311.1px,#f4ff0b 311.1px,#ffdc00 315.7px,#fbff04 318.7px,#c2ff3d 324.8px,#a6ff59 330.9px,#a4ff5b 337px,#c5ff3a 346.2px,#fff800 355.3px,#ff9a00 364.5px)"></i>
<i style="background:linear-gradient(90deg,#ff8600 0px,#ff0b00 10.7px,#dd0000 13.7px,#870000 19.8px,#870000 21.3px,#002dff 21.3px,#002dff 24.4px,#0000b3 24.4px,#0000b7 47.3px,#0000cd 53.4px,#0000ee 56.4px,#0024ff 59.5px,#005fff 62.5px,#0087ff 65.6px,#009aff 68.6px,#00a3ff 83.9px,#00a0ff 111.3px,#009aff 114.4px,#0087ff 117.4px,#005fff 120.5px,#0024ff 123.5px,#0000ee 126.6px,#0000cd 129.6px,#0000b7 135.7px,#0000b3 157.1px,#0000b3 158.6px,#002dff 158.6px,#002dff 161.6px,#860000 161.6px,#dc0000 169.3px,#ff0a00 172.3px,#ffa900 184.5px,#ffe900 190.6px,#faff05 193.7px,#b9ff46 202.8px,#97ff68 212px,#94ff6b 218.1px,#a8ff57 224.2px,#d4ff2b 230.3px,#f1ff0e 233.3px,#ffee00 236.4px,#ffee00 237.9px,#009bff 237.9px,#009bff 240.9px,#0000b3 240.9px,#0000c6 266.9px,#0000c6 282.1px,#0000b3 306.5px,#0000b3 308px,#009bff 308px,#009bff 311.1px,#ffee00 311.1px,#f1ff0e 315.7px,#baff45 321.8px,#9bff64 327.9px,#93ff6c 334px,#a9ff56 343.1px,#e1ff1e 352.3px,#f9ff06 355.3px,#ffcb00 361.4px,#ffaa00 364.5px)"></i>
<i style="background:linear-gradient(90deg,#ff9a00 0px,#fa0000 13.7px,#a40000 19.8px,#a40000 21.3px,#58ffa7 21.3px,#58ffa7 24.4px,#0000b3 24.4px,#0000ba 50.3px,#0000c5 53.4px,#0000da 56.4px,#0004ff 59.5px,#006fff 65.6px,#008dff 68.6px,#00a0ff 74.7px,#00a0ff 108.3px,#008dff 114.4px,#006fff 117.4px,#0004ff 123.5px,#0000da 126.6px,#0000c5 129.6px,#0000b4 138.8px,#0000b3 157.1px,#0000b3 158.6px,#58ffa7 158.6px,#58ffa7 161.6px,#a30000 161.6px,#f90000 169.3px,#ffbb00 184.5px,#fff900 190.6px,#abff54 202.8px,#86ff79 212px,#83ff7c 221.1px,#aaff55 230.3px,#d3ff2c 236.4px,#99ff66 239.4px,#99ff66 240.9px,#0000b3 240.9px,#0000bf 279.1px,#0000b3 306.5px,#0000b3 308px,#99ff66 308px,#d3ff2c 312.6px,#98ff67 321.8px,#7fff80 330.9px,#8eff71 340.1px,#bdff42 349.2px,#fffa00 358.4px,#ffbc00 364.5px)"></i>
<i style="background:linear-gradient(90deg,#ffb000 0px,#ff1b00 13.7px,#f20000 16.8px,#ca0000 19.8px,#ca0000 21.3px,#ffce00 21.3px,#ffce00 24.4px,#0000b3 24.4px,#0000b8 50.3px,#0000cc 56.4px,#0000e6 59.5px,#0013ff 62.5px,#0074ff 68.6px,#008dff 71.7px,#009fff 77.8px,#009fff 105.2px,#008dff 111.3px,#0074ff 114.4px,#0013ff 120.5px,#0000e6 123.5px,#0000cc 126.6px,#0000b8 132.7px,#0000b3 157.1px,#0000b3 158.6px,#ffcd00 158.6px,#ffcd00 161.6px,#ca0000 161.6px,#f10000 166.2px,#ff1a00 169.3px,#ffaf00 181.5px,#ffef00 187.6px,#f3ff0c 190.6px,#adff52 199.8px,#7eff81 208.9px,#6aff95 218.1px,#76ff89 227.2px,#9cff63 239.4px,#9cff63 240.9px,#00a2ff 240.9px,#00a2ff 244px,#0000b3 244px,#0000b6 288.2px,#0000b3 303.5px,#0000b3 305px,#00a1ff 305px,#00a1ff 308px,#9bff64 308px,#6aff95 327.9px,#73ff8c 337px,#9aff65 346.2px,#d8ff27 355.3px,#f2ff0d 358.4px,#fff000 361.4px,#ffd100 364.5px)"></i>
<i style="background:linear-gradient(90deg,#ffc900 0px,#ff1900 16.8px,#f40000 19.8px,#d20000 22.9px,#d20000 24.4px,#0023ff 24.4px,#0023ff 27.4px,#0000b3 27.4px,#0000ba 53.4px,#0000d1 59.5px,#0000ee 62.5px,#0019ff 65.6px,#006fff 71.7px,#0087ff 74.7px,#009bff 80.8px,#009eff 99.1px,#0095ff 105.2px,#0087ff 108.3px,#006fff 111.3px,#0019ff 117.4px,#0000ee 120.5px,#0000d1 123.5px,#0000ba 129.6px,#0000b3 154px,#0000b3 155.5px,#0023ff 155.5px,#0023ff 158.6px,#d10000 158.6px,#f30000 163.2px,#ff1800 166.2px,#ffc800 181.5px,#faff05 187.6px,#9bff64 199.8px,#61ff9e 212px,#51ffae 221.1px,#5fffa0 236.4px,#5cffa3 239.4px,#4dffb2 242.5px,#4dffb2 244px,#003fff 244px,#003fff 247px,#0000b3 247px,#0000b3 300.4px,#0000b3 301.9px,#003fff 301.9px,#003fff 305px,#4dffb2 305px,#5cffa3 309.6px,#58ffa7 318.7px,#53ffac 330.9px,#6bff94 340.1px,#afff50 352.3px,#f9ff06 361.4px,#ffe800 364.5px)"></i>
<i style="background:linear-gradient(90deg,#ffe300 0px,#ff0200 22.9px,#ff0200 24.4px,#60ff9f 24.4px,#60ff9f 27.4px,#0000b3 27.4px,#0000bb 56.4px,#0000d3 62.5px,#0000ee 65.6px,#0013ff 68.6px,#005fff 74.7px,#0087ff 80.8px,#0096ff 90px,#0090ff 99.1px,#0078ff 105.2px,#005fff 108.3px,#0013ff 114.4px,#0000ee 117.4px,#0000d3 120.5px,#0000bb 126.6px,#0000b3 154px,#0000b3 155.5px,#61ff9e 155.5px,#61ff9e 158.6px,#ff0100 158.6px,#feff01 184.5px,#9cff63 196.7px,#59ffa6 208.9px,#38ffc7 221.1px,#2effd1 236.4px,#11ffee 242.5px,#00f0ff 245.5px,#00f0ff 247px,#001bff 247px,#001bff 250.1px,#0000b3 250.1px,#0000b3 297.4px,#0000b3 298.9px,#001bff 298.9px,#001bff 301.9px,#00f0ff 301.9px,#11ffee 306.5px,#2effd1 312.6px,#3cffc3 330.9px,#66ff99 343.1px,#b1ff4e 355.3px,#fdff02 364.5px)"></i>
<i style="background:linear-gradient(90deg,#fffe00 0px,#ff3200 22.9px,#ff4f00 25.9px,#ff4f00 27.4px,#0000e5 27.4px,#0000b3 32px,#0000bb 59.5px,#0000d1 65.6px,#0004ff 71.7px,#005aff 80.8px,#0074ff 86.9px,#0074ff 96.1px,#005aff 102.2px,#0004ff 111.3px,#0000d1 117.4px,#0000bb 123.5px,#0000b3 151px,#0000e5 154px,#0000e5 155.5px,#ff4e00 155.5px,#ff3100 160.1px,#fffe00 181.5px,#88ff77 196.7px,#46ffb9 208.9px,#1bffe4 224.2px,#04fffb 236.4px,#00f5ff 239.4px,#00c4ff 245.5px,#00a6ff 248.6px,#00a6ff 250.1px,#001aff 250.1px,#001aff 253.1px,#0000b3 253.1px,#0000b3 294.3px,#0000b3 295.8px,#001aff 295.8px,#001aff 298.9px,#00a6ff 298.9px,#00e0ff 306.5px,#00f5ff 309.6px,#0cfff3 315.7px,#2fffd0 334px,#63ff9c 346.2px,#b2ff4d 358.4px,#e4ff1b 364.5px)"></i>
<i style="background:linear-gradient(90deg,#e4ff1b 0px,#ffff00 4.6px,#ff6100 22.9px,#ff4d00 25.9px,#ff4d00 27.4px,#37ffc8 27.4px,#37ffc8 30.5px,#0000b3 30.5px,#0000bb 62.5px,#0000da 71.7px,#0004ff 77.8px,#0036ff 86.9px,#003cff 93px,#002aff 99.1px,#0004ff 105.2px,#0000cc 114.4px,#0000b7 123.5px,#0000b3 151px,#0000b3 152.5px,#37ffc8 152.5px,#37ffc8 155.5px,#ff4c00 155.5px,#ffac00 169.3px,#ffff00 178.4px,#87ff78 193.7px,#33ffcc 208.9px,#03fffc 224.2px,#00e0ff 236.4px,#0090ff 248.6px,#0071ff 251.6px,#0039ff 254.7px,#0000dd 257.7px,#0000b3 260.8px,#0000b3 288.2px,#0000dd 291.3px,#0039ff 294.3px,#0071ff 297.4px,#00a8ff 303.5px,#00e0ff 312.6px,#02fffd 324.8px,#33ffcc 340.1px,#87ff78 355.3px,#cbff34 364.5px)"></i>
<i style="background:linear-gradient(90deg,#c9ff36 0px,#fbff04 7.6px,#ff8f00 22.9px,#ff7d00 25.9px,#ffa000 29px,#ffa000 30.5px,#000dff 30.5px,#000dff 33.5px,#0000b3 33.5px,#0000ba 65.6px,#0000d8 77.8px,#0000fa 90px,#0000ee 99.1px,#0000be 114.4px,#0000b3 138.8px,#0000b3 147.9px,#0000b3 149.4px,#000eff 149.4px,#000eff 152.5px,#ffa000 152.5px,#ff7d00 157.1px,#ffd100 169.3px,#fbff04 175.4px,#72ff8d 193.7px,#22ffdd 208.9px,#00ffff 218.1px,#00c4ff 236.4px,#0081ff 248.6px,#0026ff 257.7px,#0000f7 260.8px,#0000cb 263.8px,#0000b7 266.9px,#0000b1 279.1px,#0000b7 282.1px,#0000cb 285.2px,#0000f7 288.2px,#0049ff 294.3px,#0095ff 303.5px,#00d0ff 315.7px,#00feff 330.9px,#3dffc2 346.2px,#9bff64 361.4px,#b2ff4d 364.5px)"></i>
<i style="background:linear-gradient(90deg,#afff50 0px,#f3ff0c 10.7px,#fff500 13.7px,#ffac00 25.9px,#ffa300 29px,#ffa300 30.5px,#b2ff4d 30.5px,#b2ff4d 33.5px,#0000b3 33.5px,#0000ba 71.7px,#0000d1 93px,#0000b5 120.5px,#0000b3 147.9px,#0000b3 149.4px,#b3ff4c 149.4px,#b3ff4c 152.5px,#ffa200 152.5px,#ffcb00 163.2px,#fff400 169.3px,#f3ff0c 172.3px,#5effa1 193.7px,#05fffa 212px,#00aeff 236.4px,#0077ff 248.6px,#002fff 257.7px,#000fff 260.8px,#0000ec 263.8px,#0000ba 269.9px,#0000b1 276px,#0000ba 279.1px,#0000ec 285.2px,#000fff 288.2px,#0062ff 297.4px,#0095ff 306.5px,#00f8ff 334px,#10ffef 340.1px,#5effa1 355.3px,#99ff66 364.5px)"></i>
<i style="background:linear-gradient(90deg,#96ff69 0px,#faff05 16.8px,#ffd100 29px,#ffcf00 32px,#ffcf00 33.5px,#00edff 33.5px,#00edff 36.6px,#0000b3 36.6px,#0000bd 99.1px,#0000b3 144.9px,#0000b3 146.4px,#00edff 146.4px,#00edff 149.4px,#ffce00 149.4px,#ffd800 157.1px,#faff05 166.2px,#3affc5 196.7px,#01fffe 208.9px,#0070ff 248.6px,#0037ff 257.7px,#0000fe 263.8px,#0000ce 269.9px,#0000c5 276px,#0000ce 279.1px,#0000fe 285.2px,#004dff 294.3px,#008bff 306.5px,#01fffe 340.1px,#5cffa3 358.4px,#82ff7d 364.5px)"></i>
<i style="background:linear-gradient(90deg,#7eff81 0px,#e6ff19 19.8px,#fcff03 25.9px,#fcff03 35.1px,#fcff03 36.6px,#0087ff 36.6px,#0087ff 39.6px,#0000b3 39.6px,#0000b3 141.8px,#0000b3 143.3px,#0087ff 143.3px,#0087ff 146.4px,#fcff03 146.4px,#fdff02 157.1px,#c7ff38 169.3px,#29ffd6 196.7px,#00ffff 205.9px,#008cff 239.4px,#0050ff 254.7px,#000eff 263.8px,#0000f3 266.9px,#0000df 269.9px,#0000d6 276px,#0000df 279.1px,#0000f3 282.1px,#000eff 285.2px,#0050ff 294.3px,#008cff 309.6px,#00feff 343.1px,#59ffa6 361.4px,#6bff94 364.5px)"></i>
<i style="background:linear-gradient(90deg,#67ff98 0px,#c4ff3b 19.8px,#d9ff26 29px,#d1ff2e 35.1px,#c3ff3c 38.1px,#c3ff3c 39.6px,#0072ff 39.6px,#0072ff 42.7px,#0000b3 42.7px,#0000b3 138.8px,#0000b3 140.3px,#0072ff 140.3px,#0072ff 143.3px,#c4ff3b 143.3px,#d9ff26 151px,#cfff30 160.1px,#89ff76 175.4px,#0bfff4 199.8px,#00fdff 202.8px,#0094ff 233.3px,#0060ff 251.6px,#0033ff 260.8px,#0002ff 266.9px,#0000e5 273px,#0000ee 279.1px,#0002ff 282.1px,#0045ff 291.3px,#007eff 306.5px,#00c5ff 330.9px,#00fdff 346.2px,#56ffa9 364.5px)"></i>
<i style="background:linear-gradient(90deg,#51ffae 0px,#a3ff5c 19.8px,#b4ff4b 29px,#99ff66 41.2px,#99ff66 42.7px,#0063ff 42.7px,#0063ff 45.8px,#0000b3 45.8px,#0000b3 135.7px,#0000b3 137.2px,#0063ff 137.2px,#0063ff 140.3px,#99ff66 140.3px,#b5ff4a 154px,#a4ff5b 163.2px,#00fcff 199.8px,#0095ff 230.3px,#0057ff 254.7px,#003bff 260.8px,#000eff 266.9px,#0000fb 269.9px,#0000f2 276px,#0000fb 279.1px,#0025ff 285.2px,#004bff 291.3px,#0088ff 312.6px,#00ceff 337px,#00fcff 349.2px,#42ffbd 364.5px)"></i>
<i style="background:linear-gradient(90deg,#3dffc2 0px,#86ff79 19.8px,#92ff6d 29px,#80ff7f 41.2px,#71ff8e 44.2px,#71ff8e 45.8px,#0085ff 45.8px,#0085ff 48.8px,#0000b3 48.8px,#0000b3 132.7px,#0000b3 134.2px,#0085ff 134.2px,#0085ff 137.2px,#71ff8e 137.2px,#89ff76 144.9px,#92ff6d 157.1px,#72ff8d 169.3px,#00fbff 196.7px,#0096ff 227.2px,#0050ff 257.7px,#0007ff 269.9px,#0000fe 276px,#0007ff 279.1px,#0050ff 291.3px,#00b1ff 330.9px,#00fbff 352.3px,#2fffd0 364.5px)"></i>
<i style="background:linear-gradient(90deg,#2affd5 0px,#6aff95 19.8px,#74ff8b 35.1px,#68ff97 41.2px,#44ffbb 47.3px,#00c9ff 50.3px,#00c9ff 51.8px,#0000dd 51.8px,#0000b3 56.4px,#0000b3 126.6px,#0000dd 129.6px,#0000dd 131.2px,#00caff 131.2px,#44ffbb 135.7px,#68ff97 141.8px,#74ff8b 151px,#6aff95 163.2px,#1fffe0 184.5px,#00faff 193.7px,#0098ff 224.2px,#0054ff 257.7px,#0010ff 269.9px,#0009ff 276px,#0021ff 282.1px,#0054ff 291.3px,#00a9ff 330.9px,#00f9ff 355.3px,#1effe1 364.5px)"></i>
<i style="background:linear-gradient(90deg,#19ffe6 0px,#50ffaf 19.8px,#5effa1 35.1px,#50ffaf 41.2px,#2effd1 47.3px,#13ffec 50.3px,#00deff 53.4px,#00deff 54.9px,#0040ff 54.9px,#0000c2 59.5px,#0000b3 62.5px,#0000b3 120.5px,#0000c2 123.5px,#0040ff 126.6px,#0040ff 128.1px,#00deff 128.1px,#13ffec 132.7px,#42ffbd 138.8px,#5affa5 144.9px,#5bffa4 154px,#42ffbd 169.3px,#03fffc 187.6px,#0093ff 224.2px,#0058ff 257.7px,#0017ff 269.9px,#0010ff 276px,#0027ff 282.1px,#0058ff 291.3px,#00a2ff 330.9px,#03fffc 361.4px,#0efff1 364.5px)"></i>
<i style="background:linear-gradient(90deg,#09fff6 0px,#39ffc6 19.8px,#48ffb7 35.1px,#2cffd3 44.2px,#00ffff 50.3px,#00bfff 56.4px,#008cff 59.5px,#008cff 61px,#0014ff 61px,#0000c7 65.6px,#0000b3 68.6px,#0000b3 114.4px,#0000c7 117.4px,#0014ff 120.5px,#0014ff 122px,#008cff 122px,#00bfff 126.6px,#00ffff 132.7px,#2cffd3 138.8px,#48ffb7 147.9px,#39ffc6 163.2px,#00ffff 184.5px,#0095ff 221.1px,#005aff 257.7px,#002bff 266.9px,#0014ff 273px,#001bff 279.1px,#004fff 288.2px,#006fff 303.5px,#00a3ff 334px,#00feff 364.5px)"></i>
<i style="background:linear-gradient(90deg,#00f9ff 0px,#2affd5 22.9px,#33ffcc 35.1px,#18ffe7 44.2px,#05fffa 47.3px,#00d1ff 53.4px,#004cff 65.6px,#0007ff 68.6px,#0000bc 74.7px,#0000b3 80.8px,#0000b3 105.2px,#0000bc 108.3px,#0007ff 114.4px,#004cff 117.4px,#00d1ff 129.6px,#05fffa 135.7px,#2effd1 144.9px,#33ffcc 154px,#00faff 181.5px,#0092ff 221.1px,#005cff 257.7px,#0042ff 263.8px,#001fff 269.9px,#0017ff 276px,#002eff 282.1px,#0052ff 288.2px,#006fff 303.5px,#00a5ff 337px,#00f0ff 364.5px)"></i>
<i style="background:linear-gradient(90deg,#00ecff 0px,#02fffd 10.7px,#24ffdb 32px,#16ffe9 41.2px,#00f8ff 47.3px,#00acff 56.4px,#0016ff 71.7px,#0000fe 74.7px,#0000d3 80.8px,#0000be 90px,#0000c8 99.1px,#0000e9 105.2px,#0000fe 108.3px,#004eff 117.4px,#00c9ff 129.6px,#00f8ff 135.7px,#1effe1 144.9px,#23ffdc 154px,#00fbff 175.4px,#0095ff 218.1px,#005eff 257.7px,#0044ff 263.8px,#0021ff 269.9px,#001aff 276px,#0031ff 282.1px,#0054ff 288.2px,#006fff 303.5px,#00a7ff 340.1px,#00e4ff 364.5px)"></i>
<i style="background:linear-gradient(90deg,#00e0ff 0px,#05fffa 19.8px,#15ffea 35.1px,#01fffe 44.2px,#00c7ff 53.4px,#001eff 71.7px,#0008ff 74.7px,#0000e6 80.8px,#0000d0 90px,#0000dc 99.1px,#0000f5 105.2px,#0008ff 108.3px,#0053ff 117.4px,#00c7ff 129.6px,#01fffe 138.8px,#15ffea 147.9px,#05fffa 163.2px,#00cbff 190.6px,#008eff 221.1px,#005fff 257.7px,#0046ff 263.8px,#0023ff 269.9px,#001cff 276px,#0033ff 282.1px,#0055ff 288.2px,#006fff 303.5px,#00a8ff 343.1px,#00d9ff 364.5px)"></i>
<i style="background:linear-gradient(90deg,#00d5ff 0px,#02fffd 25.9px,#05fffa 38.1px,#00f6ff 44.2px,#00c5ff 53.4px,#0024ff 71.7px,#0000fc 77.8px,#0000dd 86.9px,#0000dd 96.1px,#0000fc 105.2px,#0024ff 111.3px,#00c5ff 129.6px,#00f6ff 138.8px,#05fffa 144.9px,#00fcff 160.1px,#0091ff 218.1px,#0060ff 257.7px,#0047ff 263.8px,#0024ff 269.9px,#001dff 276px,#0034ff 282.1px,#0057ff 288.2px,#006fff 303.5px,#00aaff 346.2px,#00cfff 364.5px)"></i>
<i style="background:linear-gradient(90deg,#00cbff 0px,#00f8ff 32px,#00ecff 44.2px,#00c3ff 53.4px,#0015ff 74.7px,#0003ff 77.8px,#0000e2 86.9px,#0000e2 96.1px,#0003ff 105.2px,#0044ff 114.4px,#00c3ff 129.6px,#00ecff 138.8px,#00f8ff 151px,#00c1ff 187.6px,#0089ff 224.2px,#0061ff 257.7px,#0048ff 263.8px,#0025ff 269.9px,#001eff 276px,#0035ff 282.1px,#0057ff 288.2px,#0070ff 303.5px,#00b0ff 352.3px,#00c6ff 364.5px)"></i>
<i style="background:linear-gradient(90deg,#00c2ff 0px,#00eaff 32px,#00e1ff 44.2px,#00bfff 53.4px,#007fff 62.5px,#001bff 74.7px,#0008ff 77.8px,#0000ee 83.9px,#0000e2 93px,#0000f8 102.2px,#0008ff 105.2px,#004aff 114.4px,#00adff 126.6px,#00d9ff 135.7px,#00eaff 147.9px,#00d6ff 169.3px,#0089ff 224.2px,#0061ff 257.7px,#0048ff 263.8px,#0026ff 269.9px,#001eff 276px,#0035ff 282.1px,#0058ff 288.2px,#0070ff 303.5px,#00beff 364.5px)"></i>
<i style="background:linear-gradient(90deg,#00bbff 0px,#00ddff 32px,#00cfff 47.3px,#00abff 56.4px,#0052ff 68.6px,#000dff 77.8px,#0000fc 80.8px,#0000e5 90px,#0000f1 99.1px,#0000fc 102.2px,#0021ff 108.3px,#0099ff 123.5px,#00c6ff 132.7px,#00dcff 144.9px,#00d0ff 166.2px,#0061ff 257.7px,#0048ff 263.8px,#0026ff 269.9px,#001eff 276px,#0035ff 282.1px,#0058ff 288.2px,#0071ff 303.5px,#00b7ff 364.5px)"></i>
<i style="background:linear-gradient(90deg,#00b5ff 0px,#00d1ff 32px,#00c5ff 47.3px,#00a8ff 56.4px,#0071ff 65.6px,#0013ff 77.8px,#0001ff 80.8px,#0000e7 90px,#0000f3 99.1px,#0001ff 102.2px,#0040ff 111.3px,#0099ff 123.5px,#00beff 132.7px,#00d1ff 147.9px,#00bdff 175.4px,#0067ff 254.7px,#0058ff 260.8px,#0026ff 269.9px,#001eff 276px,#0035ff 282.1px,#0058ff 288.2px,#0072ff 303.5px,#00b2ff 364.5px)"></i>
<i style="background:linear-gradient(90deg,#00b0ff 0px,#00c6ff 32px,#00b4ff 50.3px,#0096ff 59.5px,#005eff 68.6px,#0004ff 80.8px,#0000e8 90px,#0000f5 99.1px,#0004ff 102.2px,#0087ff 120.5px,#00acff 129.6px,#00c5ff 144.9px,#00bdff 169.3px,#0078ff 242.5px,#0057ff 260.8px,#0025ff 269.9px,#001dff 276px,#0034ff 282.1px,#0061ff 291.3px,#0095ff 334px,#00adff 364.5px)"></i>
<i style="background:linear-gradient(90deg,#00acff 0px,#00bcff 35.1px,#00a4ff 53.4px,#0084ff 62.5px,#0049ff 71.7px,#0006ff 80.8px,#0000e8 90px,#0000f6 99.1px,#0006ff 102.2px,#0074ff 117.4px,#009cff 126.6px,#00b8ff 141.8px,#00b8ff 166.2px,#0087ff 233.3px,#0061ff 257.7px,#0033ff 266.9px,#001bff 273px,#0023ff 279.1px,#0056ff 288.2px,#007aff 306.5px,#009bff 340.1px,#00aaff 364.5px)"></i>
<i style="background:linear-gradient(90deg,#00a9ff 0px,#00b3ff 35.1px,#009cff 53.4px,#0073ff 65.6px,#0008ff 80.8px,#0000ec 86.9px,#0000ec 96.1px,#0008ff 102.2px,#0073ff 117.4px,#009cff 129.6px,#00b3ff 147.9px,#00a4ff 193.7px,#008bff 233.3px,#0060ff 257.7px,#0020ff 269.9px,#0019ff 276px,#0030ff 282.1px,#0060ff 291.3px,#0095ff 324.8px,#00a7ff 364.5px)"></i>
<i style="background:linear-gradient(90deg,#00a7ff 0px,#00abff 35.1px,#008eff 56.4px,#0071ff 65.6px,#0038ff 74.7px,#0009ff 80.8px,#0000ec 86.9px,#0000e7 93px,#0000f7 99.1px,#0009ff 102.2px,#0062ff 114.4px,#0086ff 123.5px,#00a9ff 144.9px,#00a8ff 178.4px,#0097ff 227.2px,#005fff 257.7px,#001dff 269.9px,#0015ff 276px,#002dff 282.1px,#005fff 291.3px,#0097ff 321.8px,#00a6ff 364.5px)"></i>
<i style="background:linear-gradient(90deg,#00a6ff 0px,#00a2ff 38.1px,#0081ff 59.5px,#0062ff 68.6px,#000bff 80.8px,#0000f7 83.9px,#0000e5 90px,#0000eb 96.1px,#0000f7 99.1px,#000bff 102.2px,#0062ff 114.4px,#0088ff 126.6px,#00a4ff 147.9px,#00a0ff 224.2px,#007dff 245.5px,#0051ff 260.8px,#0019ff 269.9px,#0011ff 276px,#002aff 282.1px,#005dff 291.3px,#009aff 318.7px,#00a4ff 346.2px,#00a6ff 364.5px)"></i>
<i style="background:linear-gradient(90deg,#00a6ff 0px,#0099ff 41.2px,#006cff 65.6px,#003eff 74.7px,#000dff 80.8px,#0000f7 83.9px,#0000e3 90px,#0000e9 96.1px,#0000f7 99.1px,#000dff 102.2px,#0052ff 111.3px,#0074ff 120.5px,#009cff 144.9px,#00a9ff 221.1px,#0090ff 239.4px,#005bff 257.7px,#0014ff 269.9px,#000cff 276px,#0025ff 282.1px,#005bff 291.3px,#009dff 315.7px,#00aaff 334px,#00a6ff 364.5px)"></i>
<i style="background:linear-gradient(90deg,#00a7ff 0px,#0094ff 41.2px,#0068ff 65.6px,#0041ff 74.7px,#000fff 80.8px,#0000f7 83.9px,#0000e1 90px,#0000e8 96.1px,#0000f7 99.1px,#000fff 102.2px,#0053ff 111.3px,#0076ff 123.5px,#009aff 147.9px,#00b0ff 224.2px,#0097ff 239.4px,#0058ff 257.7px,#000eff 269.9px,#0006ff 276px,#001fff 282.1px,#0058ff 291.3px,#009fff 312.6px,#00b1ff 327.9px,#00a8ff 364.5px)"></i>
<i style="background:linear-gradient(90deg,#00a9ff 0px,#008cff 44.2px,#005cff 68.6px,#0042ff 74.7px,#0012ff 80.8px,#0000f7 83.9px,#0000de 90px,#0000e6 96.1px,#0000f7 99.1px,#002cff 105.2px,#0051ff 111.3px,#0083ff 132.7px,#009dff 160.1px,#00baff 224.2px,#00a8ff 236.4px,#0054ff 257.7px,#0003ff 269.9px,#0000fa 276px,#0003ff 279.1px,#0054ff 291.3px,#00a8ff 312.6px,#00bbff 327.9px,#00abff 364.5px)"></i>
<i style="background:linear-gradient(90deg,#00acff 0px,#0085ff 47.3px,#004eff 71.7px,#002bff 77.8px,#0000f5 83.9px,#0000e2 86.9px,#0000da 93px,#0000e2 96.1px,#0000f5 99.1px,#002bff 105.2px,#004eff 111.3px,#0085ff 135.7px,#00c3ff 215px,#00c0ff 230.3px,#009cff 242.5px,#004eff 257.7px,#0007ff 266.9px,#0000ea 273px,#0000f3 279.1px,#0007ff 282.1px,#004eff 291.3px,#00a8ff 309.6px,#00c3ff 321.8px,#00b6ff 355.3px,#00afff 364.5px)"></i>
<i style="background:linear-gradient(90deg,#00b0ff 0px,#007eff 50.3px,#0048ff 71.7px,#0025ff 77.8px,#000bff 80.8px,#0000f0 83.9px,#0000dd 86.9px,#0000d5 93px,#0000dd 96.1px,#0000f0 99.1px,#000bff 102.2px,#003aff 108.3px,#0063ff 120.5px,#008fff 144.9px,#00d0ff 218.1px,#00cdff 230.3px,#00b3ff 239.4px,#005bff 254.7px,#0012ff 263.8px,#0000f6 266.9px,#0000e2 269.9px,#0000d9 276px,#0000e2 279.1px,#0000f6 282.1px,#002eff 288.2px,#0094ff 303.5px,#00beff 312.6px,#00d2ff 324.8px,#00baff 358.4px,#00b3ff 364.5px)"></i>
<i style="background:linear-gradient(90deg,#00b5ff 0px,#0077ff 53.4px,#0042ff 71.7px,#001fff 77.8px,#0005ff 80.8px,#0000d7 86.9px,#0000cf 93px,#0000d7 96.1px,#0005ff 102.2px,#0033ff 108.3px,#0068ff 123.5px,#008eff 144.9px,#00c2ff 190.6px,#00dcff 215px,#00dcff 230.3px,#00bfff 239.4px,#006eff 251.6px,#0001ff 263.8px,#0000cf 269.9px,#0000c6 276px,#0000cf 279.1px,#0001ff 285.2px,#006eff 297.4px,#00bfff 309.6px,#00dbff 318.7px,#00dbff 337px,#00b9ff 364.5px)"></i>
<i style="background:linear-gradient(90deg,#00bcff 0px,#0077ff 53.4px,#003bff 71.7px,#0000fb 80.8px,#0000cf 86.9px,#0000c7 93px,#0000cf 96.1px,#0000fb 102.2px,#003cff 111.3px,#0077ff 129.6px,#00dfff 202.8px,#00eeff 221.1px,#00ecff 230.3px,#00cdff 239.4px,#0088ff 248.6px,#002eff 257.7px,#0000f8 260.8px,#0000d2 263.8px,#0000b7 269.9px,#0000b7 279.1px,#0000d2 285.2px,#0000f8 288.2px,#002eff 291.3px,#00a2ff 303.5px,#00dbff 312.6px,#00efff 321.8px,#00e3ff 343.1px,#00c0ff 364.5px)"></i>
<i style="background:linear-gradient(90deg,#00c3ff 0px,#0090ff 38.1px,#0071ff 56.4px,#0034ff 71.7px,#000cff 77.8px,#0000f1 80.8px,#0000c5 86.9px,#0000bd 93px,#0000c5 96.1px,#0000f1 102.2px,#000cff 105.2px,#0043ff 114.4px,#0079ff 129.6px,#00d4ff 190.6px,#02fffd 215px,#00feff 230.3px,#00dcff 239.4px,#00abff 245.5px,#008cff 248.6px,#008cff 250.1px,#003dff 250.1px,#0000eb 254.7px,#0000ba 257.7px,#0000b3 263.8px,#0000b3 288.2px,#0000ba 291.3px,#0000eb 294.3px,#003dff 297.4px,#003dff 298.9px,#008bff 298.9px,#00c6ff 306.5px,#00ecff 312.6px,#01fffe 321.8px,#00f8ff 340.1px,#00c8ff 364.5px)"></i>
<i style="background:linear-gradient(90deg,#00cbff 0px,#0091ff 41.2px,#0075ff 56.4px,#003fff 68.6px,#0000fe 77.8px,#0000ca 83.9px,#0000b1 90px,#0000b9 96.1px,#0000e3 102.2px,#0000fe 105.2px,#003fff 114.4px,#0075ff 126.6px,#0091ff 141.8px,#00cbff 181.5px,#05fffa 205.9px,#1affe5 218.1px,#0cfff3 233.3px,#01fffe 236.4px,#00d5ff 242.5px,#00d5ff 244px,#0076ff 244px,#0076ff 247px,#0000eb 247px,#0000b3 251.6px,#0000b3 297.4px,#0000eb 300.4px,#0000eb 301.9px,#0076ff 301.9px,#0076ff 305px,#00d5ff 305px,#01fffe 312.6px,#15ffea 321.8px,#16ffe9 334px,#00fcff 346.2px,#00d1ff 364.5px)"></i>
<i style="background:linear-gradient(90deg,#00d4ff 0px,#0096ff 41.2px,#0084ff 53.4px,#0060ff 62.5px,#000bff 74.7px,#0000ef 77.8px,#0000ba 83.9px,#0000ac 86.9px,#0000ac 96.1px,#0000ba 99.1px,#0000ef 105.2px,#000bff 108.3px,#0060ff 120.5px,#0084ff 129.6px,#00d4ff 181.5px,#06fff9 199.8px,#33ffcc 218.1px,#2effd1 227.2px,#16ffe9 236.4px,#00edff 239.4px,#00edff 240.9px,#003aff 240.9px,#003aff 244px,#0000b3 244px,#0000b3 303.5px,#0000b3 305px,#0039ff 305px,#0039ff 308px,#00edff 308px,#16ffe9 312.6px,#33ffcc 324.8px,#2effd1 334px,#00fbff 352.3px,#00daff 364.5px)"></i>
<i style="background:linear-gradient(90deg,#00deff 0px,#00a2ff 38.1px,#008fff 53.4px,#0066ff 62.5px,#001bff 71.7px,#0000f4 74.7px,#0000c8 77.8px,#0000b7 80.8px,#0000b7 102.2px,#0000c8 105.2px,#0000f4 108.3px,#001bff 111.3px,#0066ff 120.5px,#008fff 129.6px,#00d7ff 178.4px,#02fffd 193.7px,#4fffb0 218.1px,#4effb1 227.2px,#3affc5 233.3px,#00fdff 236.4px,#00fdff 237.9px,#0000f5 237.9px,#0000b3 242.5px,#0000b3 306.5px,#0000f5 309.6px,#0000f5 311.1px,#00fdff 311.1px,#3affc5 315.7px,#52ffad 324.8px,#48ffb7 334px,#01fffe 355.3px,#00e5ff 364.5px)"></i>
<i style="background:linear-gradient(90deg,#00e9ff 0px,#00bdff 25.9px,#009dff 53.4px,#0084ff 59.5px,#0055ff 65.6px,#0017ff 68.6px,#0000cd 71.7px,#0000b3 74.7px,#0000b3 108.3px,#0000cd 111.3px,#0017ff 114.4px,#0055ff 117.4px,#0084ff 123.5px,#00a4ff 132.7px,#00d4ff 172.3px,#06fff9 190.6px,#6eff91 218.1px,#73ff8c 227.2px,#6aff95 230.3px,#6aff95 231.8px,#09fff6 231.8px,#09fff6 234.8px,#0000cb 234.8px,#0000b3 239.4px,#0000b3 309.6px,#0000cb 312.6px,#0000cb 314.1px,#09fff6 314.1px,#09fff6 317.2px,#69ff96 317.2px,#75ff8a 324.8px,#65ff9a 334px,#05fffa 358.4px,#00f1ff 364.5px)"></i>
<i style="background:linear-gradient(90deg,#00f4ff 0px,#00cbff 22.9px,#00b6ff 50.3px,#00a7ff 56.4px,#0096ff 59.5px,#0071ff 62.5px,#0071ff 64px,#0000fe 64px,#0000fe 67.1px,#0000b3 67.1px,#0000b3 114.4px,#0000b3 115.9px,#0000fe 115.9px,#0000fe 118.9px,#0071ff 118.9px,#0096ff 123.5px,#00b1ff 129.6px,#00c4ff 147.9px,#00d9ff 169.3px,#00feff 184.5px,#4bffb4 202.8px,#8fff70 218.1px,#9cff63 227.2px,#57ffa8 230.3px,#57ffa8 231.8px,#0000cf 231.8px,#0000b3 236.4px,#0000b3 312.6px,#0000cf 315.7px,#0000cf 317.2px,#57ffa8 317.2px,#9bff64 321.8px,#8fff70 330.9px,#09fff6 361.4px,#00fdff 364.5px)"></i>
<i style="background:linear-gradient(90deg,#01fffe 0px,#00daff 19.8px,#00d7ff 38.1px,#00d3ff 50.3px,#00c0ff 56.4px,#009eff 59.5px,#009eff 61px,#0000dd 61px,#0000b3 65.6px,#0000b3 117.4px,#0000dd 120.5px,#0000dd 122px,#009eff 122px,#00c0ff 126.6px,#00d8ff 135.7px,#00d8ff 160.1px,#00f8ff 178.4px,#0cfff3 184.5px,#62ff9d 202.8px,#b4ff4b 218.1px,#c7ff38 224.2px,#a6ff59 227.2px,#a6ff59 228.8px,#0014ff 228.8px,#0014ff 231.8px,#0000b3 231.8px,#0000b3 315.7px,#0000b3 317.2px,#0014ff 317.2px,#0014ff 320.2px,#a6ff59 320.2px,#c6ff39 324.8px,#a5ff5a 334px,#23ffdc 358.4px,#0bfff4 364.5px)"></i>
<i style="background:linear-gradient(90deg,#0efff1 0px,#00f4ff 10.7px,#00e3ff 25.9px,#00fbff 50.3px,#00f3ff 53.4px,#00ceff 56.4px,#00ceff 57.9px,#0000e7 57.9px,#0000b3 62.5px,#0000b3 120.5px,#0000e7 123.5px,#0000e7 125px,#00ceff 125px,#00f3ff 129.6px,#00fdff 135.7px,#00e3ff 157.1px,#00f4ff 172.3px,#0ffff0 181.5px,#54ffab 196.7px,#e9ff16 221.1px,#f5ff0a 224.2px,#f5ff0a 225.7px,#00afff 225.7px,#00afff 228.8px,#0000b3 228.8px,#0000b3 318.7px,#0000b3 320.2px,#00aeff 320.2px,#00aeff 323.3px,#f4ff0b 323.3px,#c8ff37 334px,#43ffbc 355.3px,#19ffe6 364.5px)"></i>
<i style="background:linear-gradient(90deg,#1bffe4 0px,#00ffff 10.7px,#00f2ff 25.9px,#00ffff 35.1px,#2bffd4 50.3px,#0ffff0 53.4px,#0ffff0 54.9px,#0000f3 54.9px,#0000b3 59.5px,#0000b3 123.5px,#0000f3 126.6px,#0000f3 128.1px,#0ffff0 128.1px,#2cffd3 132.7px,#01fffe 147.9px,#00f1ff 160.1px,#01fffe 172.3px,#35ffca 187.6px,#91ff6e 202.8px,#fffb00 218.1px,#ffe800 221.1px,#ffe800 222.6px,#86ff79 222.6px,#86ff79 225.7px,#0000b3 225.7px,#0000b3 321.8px,#0000b3 323.3px,#85ff7a 323.3px,#85ff7a 326.3px,#ffe900 326.3px,#fffc00 330.9px,#54ffab 355.3px,#26ffd9 364.5px)"></i>
<i style="background:linear-gradient(90deg,#27ffd8 0px,#06fff9 13.7px,#02fffd 25.9px,#18ffe7 35.1px,#60ff9f 50.3px,#60ff9f 51.8px,#006cff 51.8px,#006cff 54.9px,#0000b3 54.9px,#0000b8 105.2px,#0000b3 126.6px,#0000b3 128.1px,#006cff 128.1px,#006cff 131.2px,#61ff9e 131.2px,#0efff1 151px,#00ffff 160.1px,#0cfff3 172.3px,#34ffcb 184.5px,#7aff85 196.7px,#f7ff08 212px,#ffd200 218.1px,#ffba00 221.1px,#ffba00 222.6px,#0059ff 222.6px,#0059ff 225.7px,#0000b3 225.7px,#0000b5 291.3px,#0000b3 321.8px,#0000b3 323.3px,#0059ff 323.3px,#0059ff 326.3px,#ffba00 326.3px,#ffed00 334px,#f6ff09 337px,#79ff86 352.3px,#34ffcb 364.5px)"></i>
<i style="background:linear-gradient(90deg,#33ffcc 0px,#11ffee 13.7px,#10ffef 25.9px,#30ffcf 35.1px,#87ff78 47.3px,#87ff78 48.8px,#1cffe3 48.8px,#1cffe3 51.8px,#0000b3 51.8px,#0000bf 99.1px,#0000b3 129.6px,#0000b3 131.2px,#1cffe3 131.2px,#1cffe3 134.2px,#88ff77 134.2px,#30ffcf 147.9px,#11ffee 157.1px,#11ffee 169.3px,#34ffcb 181.5px,#76ff89 193.7px,#dbff24 205.9px,#f9ff06 208.9px,#ffa800 218.1px,#ffa800 219.6px,#bfff40 219.6px,#bfff40 222.6px,#0000b3 222.6px,#0000bc 266.9px,#0000b8 288.2px,#0000b3 324.8px,#0000b3 326.3px,#beff41 326.3px,#beff41 329.4px,#ffa900 329.4px,#f8ff07 340.1px,#8cff73 352.3px,#40ffbf 364.5px)"></i>
<i style="background:linear-gradient(90deg,#3effc1 0px,#1bffe4 13.7px,#19ffe6 22.9px,#36ffc9 32px,#7cff83 41.2px,#baff45 47.3px,#baff45 48.8px,#0037ff 48.8px,#0037ff 51.8px,#0000b3 51.8px,#0000c4 80.8px,#0000c7 99.1px,#0000b4 126.6px,#0000b3 129.6px,#0000b3 131.2px,#0037ff 131.2px,#0037ff 134.2px,#baff45 134.2px,#60ff9f 144.9px,#28ffd7 154px,#17ffe8 163.2px,#28ffd7 175.4px,#5dffa2 187.6px,#b7ff48 199.8px,#f3ff0c 205.9px,#ffea00 208.9px,#ff8000 218.1px,#ff8000 219.6px,#00c7ff 219.6px,#00c7ff 222.6px,#0000b3 222.6px,#0000bc 260.8px,#0000cb 276px,#0000b4 303.5px,#0000b3 324.8px,#0000b3 326.3px,#00c7ff 326.3px,#00c7ff 329.4px,#ff8100 329.4px,#ffeb00 340.1px,#f2ff0d 343.1px,#85ff7a 355.3px,#4cffb3 364.5px)"></i>
<i style="background:linear-gradient(90deg,#47ffb8 0px,#24ffdb 13.7px,#25ffda 22.9px,#48ffb7 32px,#7cff83 38.1px,#c5ff3a 44.2px,#a1ff5e 47.3px,#a1ff5e 48.8px,#0000b3 48.8px,#0000c2 74.7px,#0000d2 93px,#0000b4 126.6px,#0000b3 132.7px,#0000b3 134.2px,#a1ff5e 134.2px,#c5ff3a 138.8px,#7cff83 144.9px,#49ffb6 151px,#25ffda 160.1px,#24ffdb 169.3px,#48ffb7 181.5px,#7cff83 190.6px,#c9ff36 199.8px,#e8ff17 202.8px,#fff500 205.9px,#ff5a00 218.1px,#ff5a00 219.6px,#0000e2 219.6px,#0000b3 224.2px,#0000b9 254.7px,#0000de 273px,#0000d3 282.1px,#0000b6 297.4px,#0000b3 324.8px,#0000e2 327.9px,#0000e2 329.4px,#ff5b00 329.4px,#fff600 343.1px,#c8ff37 349.2px,#7cff83 358.4px,#56ffa9 364.5px)"></i>
<i style="background:linear-gradient(90deg,#50ffaf 0px,#31ffce 10.7px,#2affd5 19.8px,#46ffb9 29px,#74ff8b 35.1px,#bfff40 41.2px,#ecff13 44.2px,#ecff13 45.8px,#00baff 45.8px,#00baff 48.8px,#0000b3 48.8px,#0000c2 71.7px,#0000d7 86.9px,#0000ce 105.2px,#0000b5 123.5px,#0000b3 132.7px,#0000b3 134.2px,#00baff 134.2px,#00baff 137.2px,#ecff13 137.2px,#97ff68 144.9px,#5affa5 151px,#38ffc7 157.1px,#2affd5 166.2px,#39ffc6 175.4px,#60ff9f 184.5px,#9fff60 193.7px,#f8ff07 202.8px,#ffbb00 208.9px,#ff6500 215px,#ff6500 216.5px,#fdff02 216.5px,#fdff02 219.6px,#0000b3 219.6px,#0000b8 251.6px,#0000cd 260.8px,#0000ee 269.9px,#0000ee 279.1px,#0000bc 294.3px,#0000b3 324.8px,#0000b3 327.9px,#0000b3 329.4px,#fdff02 329.4px,#fdff02 332.4px,#ff6600 332.4px,#ffe200 343.1px,#f8ff07 346.2px,#9eff61 355.3px,#5fffa0 364.5px)"></i>
<i style="background:linear-gradient(90deg,#56ffa9 0px,#37ffc8 10.7px,#32ffcd 19.8px,#42ffbd 25.9px,#68ff97 32px,#adff52 38.1px,#dbff24 41.2px,#fff000 44.2px,#fff000 45.8px,#002aff 45.8px,#002aff 48.8px,#0000b4 48.8px,#0000c1 68.6px,#0000d9 83.9px,#0000d4 105.2px,#0000b6 123.5px,#0000b4 132.7px,#0000b4 134.2px,#002aff 134.2px,#002aff 137.2px,#fff000 137.2px,#dbff24 141.8px,#87ff78 147.9px,#52ffad 154px,#38ffc7 160.1px,#32ffcd 169.3px,#49ffb6 178.4px,#79ff86 187.6px,#c4ff3b 196.7px,#fff800 202.8px,#ff7b00 212px,#ff4c00 215px,#ff4c00 216.5px,#46ffb9 216.5px,#46ffb9 219.6px,#0000b3 219.6px,#0000ba 251.6px,#0000da 260.8px,#0000f6 266.9px,#0000ff 276px,#0000f6 282.1px,#0000c0 294.3px,#0000b3 309.6px,#0000b3 327.9px,#0000b3 329.4px,#45ffba 329.4px,#45ffba 332.4px,#ff4d00 332.4px,#ffd200 343.1px,#fff800 346.2px,#8eff71 358.4px,#66ff99 364.5px)"></i>
<i style="background:linear-gradient(90deg,#5bffa4 0px,#3bffc4 10.7px,#37ffc8 19.8px,#49ffb6 25.9px,#74ff8b 32px,#bfff40 38.1px,#f2ff0d 41.2px,#ffd500 44.2px,#ffd500 45.8px,#0000b3 45.8px,#0000be 65.6px,#0000da 80.8px,#0000d7 105.2px,#0000b7 123.5px,#0000b3 135.7px,#0000b3 137.2px,#ffd500 137.2px,#f2ff0d 141.8px,#95ff6a 147.9px,#5bffa4 154px,#3effc1 160.1px,#37ffc8 169.3px,#4effb1 178.4px,#7fff80 187.6px,#ccff33 196.7px,#edff12 199.8px,#ffed00 202.8px,#ff6a00 212px,#ff3800 215px,#ff3800 216.5px,#00e7ff 216.5px,#00e7ff 219.6px,#0000b3 219.6px,#0000b8 248.6px,#0000c5 254.7px,#0000f6 263.8px,#0003ff 269.9px,#0000ff 282.1px,#0000e6 288.2px,#0000c5 294.3px,#0000b4 306.5px,#0000b3 327.9px,#0000b3 329.4px,#00e7ff 329.4px,#00e7ff 332.4px,#ff3900 332.4px,#ffc600 343.1px,#ffee00 346.2px,#ecff13 349.2px,#95ff6a 358.4px,#6bff94 364.5px)"></i>
<i style="background:linear-gradient(90deg,#5fffa0 0px,#3fffc0 10.7px,#3bffc4 19.8px,#4fffb0 25.9px,#7cff83 32px,#ccff33 38.1px,#fffd00 41.2px,#e8ff17 44.2px,#e8ff17 45.8px,#0000b3 45.8px,#0000bf 65.6px,#0000d9 77.8px,#0000d9 105.2px,#0000b7 123.5px,#0000b3 135.7px,#0000b3 137.2px,#e8ff17 137.2px,#fffc00 141.8px,#a0ff5f 147.9px,#62ff9d 154px,#43ffbc 160.1px,#3affc5 169.3px,#51ffae 178.4px,#83ff7c 187.6px,#d2ff2d 196.7px,#f3ff0c 199.8px,#ffe500 202.8px,#ff5f00 212px,#ff2a00 215px,#ff2a00 216.5px,#0084ff 216.5px,#0084ff 219.6px,#0000b3 219.6px,#0000b8 248.6px,#0000c9 254.7px,#0000fd 263.8px,#0003ff 282.1px,#0000fd 285.2px,#0000c9 294.3px,#0000b6 303.5px,#0000b3 327.9px,#0000b3 329.4px,#0084ff 329.4px,#0084ff 332.4px,#ff2b00 332.4px,#ffbd00 343.1px,#ffe600 346.2px,#f3ff0c 349.2px,#99ff66 358.4px,#6fff90 364.5px)"></i>
<i style="background:linear-gradient(90deg,#60ff9f 0px,#40ffbf 10.7px,#3dffc2 19.8px,#51ffae 25.9px,#80ff7f 32px,#d2ff2d 38.1px,#fff400 41.2px,#fff400 42.7px,#9cff63 42.7px,#9cff63 45.8px,#0000b3 45.8px,#0000c0 65.6px,#0000d9 77.8px,#0000d6 108.3px,#0000b8 123.5px,#0000b3 135.7px,#0000b3 137.2px,#9cff63 137.2px,#9cff63 140.3px,#fff400 140.3px,#d3ff2c 144.9px,#80ff7f 151px,#52ffad 157.1px,#3dffc2 163.2px,#40ffbf 172.3px,#61ff9e 181.5px,#9cff63 190.6px,#f7ff08 199.8px,#ffe200 202.8px,#ff5900 212px,#ff2400 215px,#ff2400 216.5px,#0086ff 216.5px,#0086ff 219.6px,#0000b3 219.6px,#0000b9 248.6px,#0000cb 254.7px,#0000ff 263.8px,#0004ff 282.1px,#0000ff 285.2px,#0000bf 297.4px,#0000b3 312.6px,#0000b3 327.9px,#0000b3 329.4px,#0085ff 329.4px,#0085ff 332.4px,#ff2400 332.4px,#ffb900 343.1px,#ffe300 346.2px,#f6ff09 349.2px,#9cff63 358.4px,#71ff8e 364.5px)"></i>
<i style="background:linear-gradient(90deg,#60ff9f 0px,#40ffbf 10.7px,#3dffc2 19.8px,#51ffae 25.9px,#80ff7f 32px,#d2ff2d 38.1px,#fff500 41.2px,#fff500 42.7px,#9cff63 42.7px,#9cff63 45.8px,#0000b3 45.8px,#0000c0 65.6px,#0000d9 77.8px,#0000d6 108.3px,#0000b8 123.5px,#0000b3 135.7px,#0000b3 137.2px,#9cff63 137.2px,#9cff63 140.3px,#fff400 140.3px,#d3ff2c 144.9px,#80ff7f 151px,#51ffae 157.1px,#3dffc2 163.2px,#40ffbf 172.3px,#61ff9e 181.5px,#9cff63 190.6px,#f7ff08 199.8px,#ffe200 202.8px,#ff5900 212px,#ff2400 215px,#ff2400 216.5px,#0086ff 216.5px,#0086ff 219.6px,#0000b3 219.6px,#0000b9 248.6px,#0000cb 254.7px,#0000ff 263.8px,#0004ff 282.1px,#0000ff 285.2px,#0000bf 297.4px,#0000b3 312.6px,#0000b3 327.9px,#0000b3 329.4px,#0085ff 329.4px,#0085ff 332.4px,#ff2400 332.4px,#ffb900 343.1px,#ffe300 346.2px,#f6ff09 349.2px,#9bff64 358.4px,#71ff8e 364.5px)"></i>
<i style="background:linear-gradient(90deg,#5effa1 0px,#3effc1 10.7px,#3bffc4 19.8px,#4effb1 25.9px,#7cff83 32px,#cbff34 38.1px,#fffd00 41.2px,#e8ff17 44.2px,#e8ff17 45.8px,#0000b3 45.8px,#0000bf 65.6px,#0000d9 77.8px,#0000d9 105.2px,#0000b7 123.5px,#0000b3 135.7px,#0000b3 137.2px,#e8ff17 137.2px,#fffd00 141.8px,#9fff60 147.9px,#61ff9e 154px,#42ffbd 160.1px,#3affc5 169.3px,#51ffae 178.4px,#83ff7c 187.6px,#d2ff2d 196.7px,#f3ff0c 199.8px,#ffe600 202.8px,#ff5f00 212px,#ff2a00 215px,#ff2a00 216.5px,#0084ff 216.5px,#0084ff 219.6px,#0000b3 219.6px,#0000b8 248.6px,#0000c9 254.7px,#0000fd 263.8px,#0003ff 282.1px,#0000fd 285.2px,#0000c9 294.3px,#0000b6 303.5px,#0000b3 327.9px,#0000b3 329.4px,#0084ff 329.4px,#0084ff 332.4px,#ff2b00 332.4px,#ffbd00 343.1px,#ffe600 346.2px,#f3ff0c 349.2px,#99ff66 358.4px,#6fff90 364.5px)"></i>
<i style="background:linear-gradient(90deg,#5bffa4 0px,#3bffc4 10.7px,#37ffc8 19.8px,#49ffb6 25.9px,#73ff8c 32px,#beff41 38.1px,#f1ff0e 41.2px,#ffd600 44.2px,#ffd600 45.8px,#0000b3 45.8px,#0000be 65.6px,#0000da 80.8px,#0000d7 105.2px,#0000b7 123.5px,#0000b3 135.7px,#0000b3 137.2px,#ffd600 137.2px,#f1ff0e 141.8px,#95ff6a 147.9px,#5bffa4 154px,#3dffc2 160.1px,#37ffc8 169.3px,#4effb1 178.4px,#7fff80 187.6px,#ccff33 196.7px,#edff12 199.8px,#ffed00 202.8px,#ff6a00 212px,#ff3800 215px,#ff3800 216.5px,#00e7ff 216.5px,#00e7ff 219.6px,#0000b3 219.6px,#0000b8 248.6px,#0000c5 254.7px,#0000f6 263.8px,#0003ff 269.9px,#0000ff 282.1px,#0000e6 288.2px,#0000c5 294.3px,#0000b4 306.5px,#0000b3 327.9px,#0000b3 329.4px,#00e7ff 329.4px,#00e7ff 332.4px,#ff3900 332.4px,#ffc600 343.1px,#ffee00 346.2px,#ecff13 349.2px,#95ff6a 358.4px,#6bff94 364.5px)"></i>
<i style="background:linear-gradient(90deg,#56ffa9 0px,#36ffc9 10.7px,#31ffce 19.8px,#41ffbe 25.9px,#67ff98 32px,#acff53 38.1px,#daff25 41.2px,#fff100 44.2px,#fff100 45.8px,#002aff 45.8px,#002aff 48.8px,#0000b4 48.8px,#0000c1 68.6px,#0000d9 83.9px,#0000d4 105.2px,#0000b6 123.5px,#0000b4 132.7px,#0000b4 134.2px,#002aff 134.2px,#002aff 137.2px,#fff100 137.2px,#daff25 141.8px,#86ff79 147.9px,#51ffae 154px,#37ffc8 160.1px,#32ffcd 169.3px,#49ffb6 178.4px,#79ff86 187.6px,#c4ff3b 196.7px,#fff800 202.8px,#ff7b00 212px,#ff4c00 215px,#ff4c00 216.5px,#46ffb9 216.5px,#46ffb9 219.6px,#0000b3 219.6px,#0000ba 251.6px,#0000da 260.8px,#0000f6 266.9px,#0000ff 276px,#0000f6 282.1px,#0000c0 294.3px,#0000b3 309.6px,#0000b3 327.9px,#0000b3 329.4px,#45ffba 329.4px,#45ffba 332.4px,#ff4c00 332.4px,#ffd200 343.1px,#fff900 346.2px,#8eff71 358.4px,#65ff9a 364.5px)"></i>
<i style="background:linear-gradient(90deg,#4fffb0 0px,#30ffcf 10.7px,#29ffd6 19.8px,#44ffbb 29px,#73ff8c 35.1px,#bdff42 41.2px,#eaff15 44.2px,#eaff15 45.8px,#00b9ff 45.8px,#00b9ff 48.8px,#0000b3 48.8px,#0000c2 71.7px,#0000d7 86.9px,#0000ce 105.2px,#0000b5 123.5px,#0000b3 132.7px,#0000b3 134.2px,#00b9ff 134.2px,#00b9ff 137.2px,#ebff14 137.2px,#95ff6a 144.9px,#58ffa7 151px,#37ffc8 157.1px,#29ffd6 166.2px,#38ffc7 175.4px,#5fffa0 184.5px,#9eff61 193.7px,#f8ff07 202.8px,#ffbb00 208.9px,#ff6500 215px,#ff6500 216.5px,#fdff02 216.5px,#fdff02 219.6px,#0000b3 219.6px,#0000b8 251.6px,#0000cd 260.8px,#0000ee 269.9px,#0000ee 279.1px,#0000bc 294.3px,#0000b3 324.8px,#0000b3 327.9px,#0000b3 329.4px,#fdff02 329.4px,#fdff02 332.4px,#ff6600 332.4px,#ffe200 343.1px,#f7ff08 346.2px,#9dff62 355.3px,#5effa1 364.5px)"></i>
<i style="background:linear-gradient(90deg,#47ffb8 0px,#23ffdc 13.7px,#23ffdc 22.9px,#47ffb8 32px,#7aff85 38.1px,#c3ff3c 44.2px,#9fff60 47.3px,#9fff60 48.8px,#0000b3 48.8px,#0000c2 74.7px,#0000d2 93px,#0000b4 126.6px,#0000b3 132.7px,#0000b3 134.2px,#9fff60 134.2px,#c3ff3c 138.8px,#7aff85 144.9px,#47ffb8 151px,#24ffdb 160.1px,#23ffdc 169.3px,#47ffb8 181.5px,#7cff83 190.6px,#c8ff37 199.8px,#fff500 205.9px,#ff5a00 218.1px,#ff5a00 219.6px,#0000e2 219.6px,#0000b3 224.2px,#0000b9 254.7px,#0000de 273px,#0000d3 282.1px,#0000b6 297.4px,#0000b3 324.8px,#0000e2 327.9px,#0000e2 329.4px,#ff5b00 329.4px,#fff600 343.1px,#c7ff38 349.2px,#7bff84 358.4px,#55ffaa 364.5px)"></i>
<i style="background:linear-gradient(90deg,#3dffc2 0px,#19ffe6 13.7px,#17ffe8 22.9px,#33ffcc 32px,#79ff86 41.2px,#b7ff48 47.3px,#b7ff48 48.8px,#0036ff 48.8px,#0036ff 51.8px,#0000b3 51.8px,#0000c4 80.8px,#0000c7 99.1px,#0000b4 126.6px,#0000b3 129.6px,#0000b3 131.2px,#0037ff 131.2px,#0037ff 134.2px,#b7ff48 134.2px,#5dffa2 144.9px,#26ffd9 154px,#16ffe9 163.2px,#27ffd8 175.4px,#5cffa3 187.6px,#b7ff48 199.8px,#f3ff0c 205.9px,#ffea00 208.9px,#ff8000 218.1px,#ff8000 219.6px,#00c7ff 219.6px,#00c7ff 222.6px,#0000b3 222.6px,#0000bc 260.8px,#0000cb 276px,#0000b4 303.5px,#0000b3 324.8px,#0000b3 326.3px,#00c7ff 326.3px,#00c7ff 329.4px,#ff8000 329.4px,#ffeb00 340.1px,#f2ff0d 343.1px,#84ff7b 355.3px,#4bffb4 364.5px)"></i>
<i style="background:linear-gradient(90deg,#32ffcd 0px,#0ffff0 13.7px,#0efff1 25.9px,#2dffd2 35.1px,#84ff7b 47.3px,#84ff7b 48.8px,#1affe5 48.8px,#1affe5 51.8px,#0000b3 51.8px,#0000bf 99.1px,#0000b3 129.6px,#0000b3 131.2px,#1affe5 131.2px,#1affe5 134.2px,#84ff7b 134.2px,#2dffd2 147.9px,#0efff1 157.1px,#0ffff0 169.3px,#32ffcd 181.5px,#75ff8a 193.7px,#daff25 205.9px,#f8ff07 208.9px,#ffa800 218.1px,#ffa800 219.6px,#bfff40 219.6px,#bfff40 222.6px,#0000b3 222.6px,#0000bc 266.9px,#0000b8 288.2px,#0000b3 324.8px,#0000b3 326.3px,#beff41 326.3px,#beff41 329.4px,#ffa900 329.4px,#ffe700 337px,#f8ff07 340.1px,#8bff74 352.3px,#3fffc0 364.5px)"></i>
<i style="background:linear-gradient(90deg,#26ffd9 0px,#04fffb 13.7px,#03fffc 29px,#22ffdd 38.1px,#5dffa2 50.3px,#5dffa2 51.8px,#006bff 51.8px,#006bff 54.9px,#0000b3 54.9px,#0000b8 105.2px,#0000b3 126.6px,#0000b3 128.1px,#006bff 128.1px,#006bff 131.2px,#5dffa2 131.2px,#0afff5 151px,#00fcff 160.1px,#0afff5 172.3px,#33ffcc 184.5px,#79ff86 196.7px,#f6ff09 212px,#ffd200 218.1px,#ffba00 221.1px,#ffba00 222.6px,#0059ff 222.6px,#0059ff 225.7px,#0000b3 225.7px,#0000b5 291.3px,#0000b3 321.8px,#0000b3 323.3px,#0059ff 323.3px,#0059ff 326.3px,#ffba00 326.3px,#ffed00 334px,#f6ff09 337px,#79ff86 352.3px,#32ffcd 364.5px)"></i>
<i style="background:linear-gradient(90deg,#19ffe6 0px,#00fdff 10.7px,#00eeff 25.9px,#05fffa 38.1px,#27ffd8 50.3px,#0bfff4 53.4px,#0bfff4 54.9px,#0000f2 54.9px,#0000b3 59.5px,#0000b3 123.5px,#0000f2 126.6px,#0000f2 128.1px,#0bfff4 128.1px,#27ffd8 132.7px,#00fbff 147.9px,#00eeff 160.1px,#06fff9 175.4px,#42ffbd 190.6px,#a6ff59 205.9px,#fffc00 218.1px,#ffe800 221.1px,#ffe800 222.6px,#86ff79 222.6px,#86ff79 225.7px,#0000b3 225.7px,#0000b3 321.8px,#0000b3 323.3px,#85ff7a 323.3px,#85ff7a 326.3px,#ffe800 326.3px,#fffc00 330.9px,#53ffac 355.3px,#25ffda 364.5px)"></i>
<i style="background:linear-gradient(90deg,#0cfff3 0px,#00f8ff 7.6px,#00e0ff 22.9px,#00e9ff 38.1px,#00f6ff 50.3px,#00eeff 53.4px,#00caff 56.4px,#00caff 57.9px,#0000e6 57.9px,#0000b3 62.5px,#0000b3 120.5px,#0000e6 123.5px,#0000e6 125px,#00caff 125px,#00eeff 129.6px,#00f7ff 135.7px,#00dfff 157.1px,#00f1ff 172.3px,#02fffd 178.4px,#42ffbd 193.7px,#e9ff16 221.1px,#f4ff0b 224.2px,#f4ff0b 225.7px,#00afff 225.7px,#00afff 228.8px,#0000b3 228.8px,#0000b3 318.7px,#0000b3 320.2px,#00afff 320.2px,#00afff 323.3px,#f4ff0b 323.3px,#c8ff37 334px,#41ffbe 355.3px,#17ffe8 364.5px)"></i>
<i style="background:linear-gradient(90deg,#00fdff 0px,#00d5ff 19.8px,#00d1ff 38.1px,#00cdff 50.3px,#00bbff 56.4px,#0099ff 59.5px,#0099ff 61px,#0000dc 61px,#0000b3 65.6px,#0000b3 117.4px,#0000dc 120.5px,#0000dc 122px,#0099ff 122px,#00bbff 126.6px,#00d2ff 135.7px,#00d2ff 160.1px,#00f4ff 178.4px,#09fff6 184.5px,#60ff9f 202.8px,#b3ff4c 218.1px,#c6ff39 224.2px,#a6ff59 227.2px,#a6ff59 228.8px,#0014ff 228.8px,#0014ff 231.8px,#0000b3 231.8px,#0000b3 315.7px,#0000b3 317.2px,#0014ff 317.2px,#0014ff 320.2px,#a6ff59 320.2px,#c6ff39 324.8px,#a4ff5b 334px,#21ffde 358.4px,#09fff6 364.5px)"></i>
<i style="background:linear-gradient(90deg,#00f1ff 0px,#00c5ff 22.9px,#00abff 53.4px,#0090ff 59.5px,#006cff 62.5px,#006cff 64px,#0000fc 64px,#0000fc 67.1px,#0000b3 67.1px,#0000b3 114.4px,#0000b3 115.9px,#0000fc 115.9px,#0000fc 118.9px,#006cff 118.9px,#0090ff 123.5px,#00abff 129.6px,#00beff 151px,#00daff 172.3px,#00fbff 184.5px,#2cffd3 196.7px,#8fff70 218.1px,#9bff64 227.2px,#57ffa8 230.3px,#57ffa8 231.8px,#0000cf 231.8px,#0000b3 236.4px,#0000b3 312.6px,#0000cf 315.7px,#0000cf 317.2px,#57ffa8 317.2px,#9bff64 321.8px,#8eff71 330.9px,#06fff9 361.4px,#00faff 364.5px)"></i>
<i style="background:linear-gradient(90deg,#00e4ff 0px,#00b6ff 25.9px,#0096ff 53.4px,#007dff 59.5px,#0050ff 65.6px,#0013ff 68.6px,#0000cc 71.7px,#0000b3 74.7px,#0000b3 108.3px,#0000cc 111.3px,#0013ff 114.4px,#0050ff 117.4px,#007dff 123.5px,#009cff 132.7px,#00c8ff 169.3px,#03fffc 190.6px,#6dff92 218.1px,#72ff8d 227.2px,#69ff96 230.3px,#69ff96 231.8px,#09fff6 231.8px,#09fff6 234.8px,#0000cb 234.8px,#0000b3 239.4px,#0000b3 309.6px,#0000cb 312.6px,#0000cb 314.1px,#09fff6 314.1px,#09fff6 317.2px,#69ff96 317.2px,#75ff8a 324.8px,#64ff9b 334px,#02fffd 358.4px,#00edff 364.5px)"></i>
<i style="background:linear-gradient(90deg,#00d9ff 0px,#00a2ff 32px,#0086ff 53.4px,#005fff 62.5px,#0017ff 71.7px,#0000f2 74.7px,#0000c7 77.8px,#0000b7 80.8px,#0000b7 102.2px,#0000c7 105.2px,#0000f2 108.3px,#0017ff 111.3px,#005fff 120.5px,#0086ff 129.6px,#00cbff 175.4px,#00fdff 193.7px,#4effb1 218.1px,#4effb1 227.2px,#39ffc6 233.3px,#00fdff 236.4px,#00fdff 237.9px,#0000f5 237.9px,#0000b3 242.5px,#0000b3 306.5px,#0000f5 309.6px,#0000f5 311.1px,#00fdff 311.1px,#3affc5 315.7px,#52ffad 324.8px,#47ffb8 334px,#00fdff 355.3px,#00e1ff 364.5px)"></i>
<i style="background:linear-gradient(90deg,#00ceff 0px,#008aff 41.2px,#0071ff 56.4px,#0047ff 65.6px,#0007ff 74.7px,#0000bb 83.9px,#0000aa 90px,#0000ae 96.1px,#0000d1 102.2px,#0007ff 108.3px,#0058ff 120.5px,#007aff 129.6px,#00c1ff 175.4px,#03fffc 199.8px,#32ffcd 218.1px,#2effd1 227.2px,#16ffe9 236.4px,#00edff 239.4px,#00edff 240.9px,#0039ff 240.9px,#0039ff 244px,#0000b3 244px,#0000b3 303.5px,#0000b3 305px,#003aff 305px,#003aff 308px,#00edff 308px,#16ffe9 312.6px,#33ffcc 324.8px,#2dffd2 334px,#02fffd 349.2px,#00d5ff 364.5px)"></i>
<i style="background:linear-gradient(90deg,#00c4ff 0px,#0086ff 38.1px,#0069ff 56.4px,#0037ff 68.6px,#0000f9 77.8px,#0000cb 83.9px,#0000b6 90px,#0000bc 96.1px,#0000e1 102.2px,#0000f9 105.2px,#0053ff 120.5px,#0077ff 132.7px,#00a7ff 166.2px,#00f1ff 199.8px,#0afff5 208.9px,#1affe5 221.1px,#0cfff3 233.3px,#00ffff 236.4px,#00d5ff 242.5px,#00d5ff 244px,#0076ff 244px,#0076ff 247px,#0000eb 247px,#0000b3 251.6px,#0000b3 297.4px,#0000eb 300.4px,#0000eb 301.9px,#0076ff 301.9px,#0076ff 305px,#00d5ff 305px,#00ffff 312.6px,#14ffeb 321.8px,#15ffea 334px,#00f9ff 346.2px,#00caff 364.5px)"></i>
<i style="background:linear-gradient(90deg,#00baff 0px,#0083ff 35.1px,#0063ff 56.4px,#002bff 71.7px,#0005ff 77.8px,#0000c9 86.9px,#0000c3 93px,#0000d8 99.1px,#0005ff 105.2px,#0039ff 114.4px,#006aff 129.6px,#00aaff 172.3px,#00ffff 215px,#00fdff 230.3px,#00dcff 239.4px,#00abff 245.5px,#008bff 248.6px,#008bff 250.1px,#003dff 250.1px,#0000eb 254.7px,#0000ba 257.7px,#0000b3 263.8px,#0000b3 288.2px,#0000ba 291.3px,#0000eb 294.3px,#003dff 297.4px,#003dff 298.9px,#008bff 298.9px,#00c6ff 306.5px,#00ecff 312.6px,#01fffe 321.8px,#00fbff 337px,#00c0ff 364.5px)"></i>
<i style="background:linear-gradient(90deg,#00b2ff 0px,#007eff 35.1px,#0058ff 59.5px,#0030ff 71.7px,#000cff 77.8px,#0000f6 80.8px,#0000d4 86.9px,#0000ce 93px,#0000e2 99.1px,#0000f6 102.2px,#0020ff 108.3px,#004fff 120.5px,#0078ff 141.8px,#00a2ff 172.3px,#00ebff 215px,#00ebff 230.3px,#00ccff 239.4px,#0088ff 248.6px,#002eff 257.7px,#0000f8 260.8px,#0000d2 263.8px,#0000b7 269.9px,#0000b7 279.1px,#0000d2 285.2px,#0000f8 288.2px,#002eff 291.3px,#00a3ff 303.5px,#00dbff 312.6px,#00eeff 321.8px,#00e5ff 340.1px,#00b7ff 364.5px)"></i>
<i style="background:linear-gradient(90deg,#00aaff 0px,#007bff 35.1px,#004fff 62.5px,#0025ff 74.7px,#0000fc 80.8px,#0000dd 86.9px,#0000d7 93px,#0000ea 99.1px,#0000fc 102.2px,#0033ff 111.3px,#0062ff 129.6px,#00a6ff 178.4px,#00d8ff 212px,#00dbff 230.3px,#00beff 239.4px,#006eff 251.6px,#0000ff 263.8px,#0000d0 269.9px,#0000c8 276px,#0000d0 279.1px,#0000ff 285.2px,#006eff 297.4px,#00beff 309.6px,#00dbff 318.7px,#00d8ff 337px,#00afff 364.5px)"></i>
<i style="background:linear-gradient(90deg,#00a3ff 0px,#0055ff 59.5px,#0036ff 71.7px,#0002ff 80.8px,#0000e4 86.9px,#0000df 93px,#0000f0 99.1px,#0002ff 102.2px,#0036ff 111.3px,#0065ff 132.7px,#00a8ff 184.5px,#00cbff 215px,#00ccff 230.3px,#00b2ff 239.4px,#005aff 254.7px,#000fff 263.8px,#0000f5 266.9px,#0000da 273px,#0000e3 279.1px,#0000f5 282.1px,#000fff 285.2px,#005bff 294.3px,#00b2ff 309.6px,#00ccff 318.7px,#00cbff 334px,#00a8ff 364.5px)"></i>
<i style="background:linear-gradient(90deg,#009dff 0px,#004fff 62.5px,#0038ff 71.7px,#0006ff 80.8px,#0000e5 90px,#0000e9 96.1px,#0006ff 102.2px,#0038ff 111.3px,#0063ff 132.7px,#00bcff 208.9px,#00c2ff 227.2px,#00a8ff 239.4px,#005eff 254.7px,#0004ff 266.9px,#0000eb 273px,#0000f3 279.1px,#0004ff 282.1px,#005eff 294.3px,#00a8ff 309.6px,#00c2ff 321.8px,#00b4ff 349.2px,#00a1ff 364.5px)"></i>
<i style="background:linear-gradient(90deg,#0098ff 0px,#004fff 62.5px,#0039ff 71.7px,#0009ff 80.8px,#0000ee 86.9px,#0000ee 96.1px,#0009ff 102.2px,#0039ff 111.3px,#005dff 129.6px,#00b0ff 205.9px,#00b6ff 227.2px,#009eff 239.4px,#0050ff 257.7px,#0002ff 269.9px,#0000fa 276px,#0002ff 279.1px,#0061ff 294.3px,#00a7ff 312.6px,#00b8ff 324.8px,#009fff 361.4px,#009bff 364.5px)"></i>
<i style="background:linear-gradient(90deg,#0093ff 0px,#004fff 62.5px,#0039ff 71.7px,#0000fb 83.9px,#0000ee 93px,#0000fb 99.1px,#0043ff 114.4px,#0078ff 154px,#00abff 212px,#00a8ff 230.3px,#0084ff 245.5px,#0053ff 257.7px,#000cff 269.9px,#0006ff 276px,#0019ff 282.1px,#0062ff 294.3px,#009eff 312.6px,#00aeff 327.9px,#0096ff 364.5px)"></i>
<i style="background:linear-gradient(90deg,#008fff 0px,#004fff 62.5px,#0039ff 71.7px,#0000fd 83.9px,#0000f1 93px,#0000fd 99.1px,#0043ff 114.4px,#0077ff 154px,#00a4ff 212px,#009fff 230.3px,#0077ff 248.6px,#0053ff 257.7px,#0013ff 269.9px,#000dff 276px,#001eff 282.1px,#0061ff 294.3px,#0096ff 312.6px,#00a6ff 330.9px,#0092ff 364.5px)"></i>
<i style="background:linear-gradient(90deg,#008cff 0px,#0053ff 59.5px,#0038ff 71.7px,#0000ff 83.9px,#0000f3 93px,#0000ff 99.1px,#0042ff 114.4px,#0073ff 151px,#009cff 208.9px,#0098ff 230.3px,#006bff 251.6px,#0018ff 269.9px,#0018ff 279.1px,#006bff 297.4px,#0098ff 318.7px,#009cff 340.1px,#008fff 364.5px)"></i>
<i style="background:linear-gradient(90deg,#008aff 0px,#0057ff 56.4px,#0041ff 68.6px,#0001ff 83.9px,#0000f5 93px,#0001ff 99.1px,#0041ff 114.4px,#006cff 144.9px,#0096ff 205.9px,#0091ff 230.3px,#0069ff 251.6px,#001cff 269.9px,#001cff 279.1px,#0071ff 300.4px,#0094ff 321.8px,#0093ff 352.3px,#008cff 364.5px)"></i>
<i style="background:linear-gradient(90deg,#0088ff 0px,#005aff 53.4px,#0040ff 68.6px,#0002ff 83.9px,#0000f7 93px,#0002ff 99.1px,#0048ff 117.4px,#007cff 163.2px,#0093ff 212px,#0084ff 236.4px,#0067ff 251.6px,#0020ff 269.9px,#0020ff 279.1px,#004fff 291.3px,#0076ff 303.5px,#0092ff 327.9px,#008aff 364.5px)"></i>
<i style="background:linear-gradient(90deg,#0087ff 0px,#005eff 50.3px,#003eff 68.6px,#0002ff 83.9px,#0000fb 96.1px,#000cff 102.2px,#0047ff 117.4px,#007aff 160.1px,#0090ff 208.9px,#0081ff 236.4px,#0064ff 251.6px,#0029ff 266.9px,#0020ff 276px,#0033ff 285.2px,#006cff 300.4px,#008cff 324.8px,#0089ff 364.5px)"></i>
<i style="background:linear-gradient(90deg,#0086ff 0px,#0061ff 47.3px,#0046ff 65.6px,#0002ff 83.9px,#0000fb 96.1px,#000bff 102.2px,#0046ff 117.4px,#0077ff 157.1px,#008dff 205.9px,#007dff 236.4px,#0062ff 251.6px,#002bff 266.9px,#0023ff 276px,#0034ff 285.2px,#006aff 300.4px,#0088ff 324.8px,#0088ff 364.5px)"></i>
</div>
<div class="k" style="left:-0.5px;top:251px;width:1px;height:4px"></div>
<div class="k" style="left:0;top:-0.5px;width:4px;height:1px"></div>
<div class="k" style="left:60.5px;top:251px;width:1px;height:4px"></div>
<div class="k" style="left:0;top:42.0px;width:4px;height:1px"></div>
<div class="k" style="left:121.5px;top:251px;width:1px;height:4px"></div>
<div class="k" style="left:0;top:84.5px;width:4px;height:1px"></div>
<div class="k" style="left:182.5px;top:251px;width:1px;height:4px"></div>
<div class="k" style="left:0;top:127.0px;width:4px;height:1px"></div>
<div class="k" style="left:243.5px;top:251px;width:1px;height:4px"></div>
<div class="k" style="left:0;top:169.5px;width:4px;height:1px"></div>
<div class="k" style="left:304.5px;top:251px;width:1px;height:4px"></div>
<div class="k" style="left:0;top:212.0px;width:4px;height:1px"></div>
<div class="k" style="left:365.0px;top:251px;width:1px;height:4px"></div>
<div class="k" style="left:0;top:254.0px;width:4px;height:1px"></div>
</div>
<div class="t xt" style="left:706.4px;top:660px">-0.6</div>
<div class="t yt" style="left:660px;top:390.9px">0.6</div>
<div class="t xt" style="left:767.1px;top:660px">-0.4</div>
<div class="t yt" style="left:660px;top:433.1px">0.4</div>
<div class="t xt" style="left:827.7px;top:660px">-0.2</div>
<div class="t yt" style="left:660px;top:475.4px">0.2</div>
<div class="t xt" style="left:888.4px;top:660px">0</div>
<div class="t yt" style="left:660px;top:517.6px">0.0</div>
<div class="t xt" style="left:949.1px;top:660px">0.2</div>
<div class="t yt" style="left:660px;top:559.9px">-0.2</div>
<div class="t xt" style="left:1009.8px;top:660px">0.4</div>
<div class="t yt" style="left:660px;top:602.1px">-0.4</div>
<div class="t xt" style="left:1070.4px;top:660px">0.6</div>
<div class="t yt" style="left:660px;top:644.4px">-0.6</div>
<div class="xl" style="left:893.5px;top:674px">x (microns)</div>
<div class="yl" style="left:562.5px;top:523.5px">z (microns)</div>
<div class="ti" style="left:904.2px;top:365.4px">λ<sub>5</sub> = 2563 <b>nm</b></div>
<div class="lb" style="left:637.5px;top:374.9px">(e)</div>
<div class="cb" style="left:1081px;top:399px;height:253px"></div>
<div class="k" style="left:1091px;top:399px;width:3px;height:1px"></div>
<div class="k" style="left:1091px;top:651px;width:3px;height:1px"></div>
<div class="cl" style="left:1099.5px;top:389.0px">1</div>
<div class="cl" style="left:1098.0px;top:641.0px">0</div>
</body></html>
